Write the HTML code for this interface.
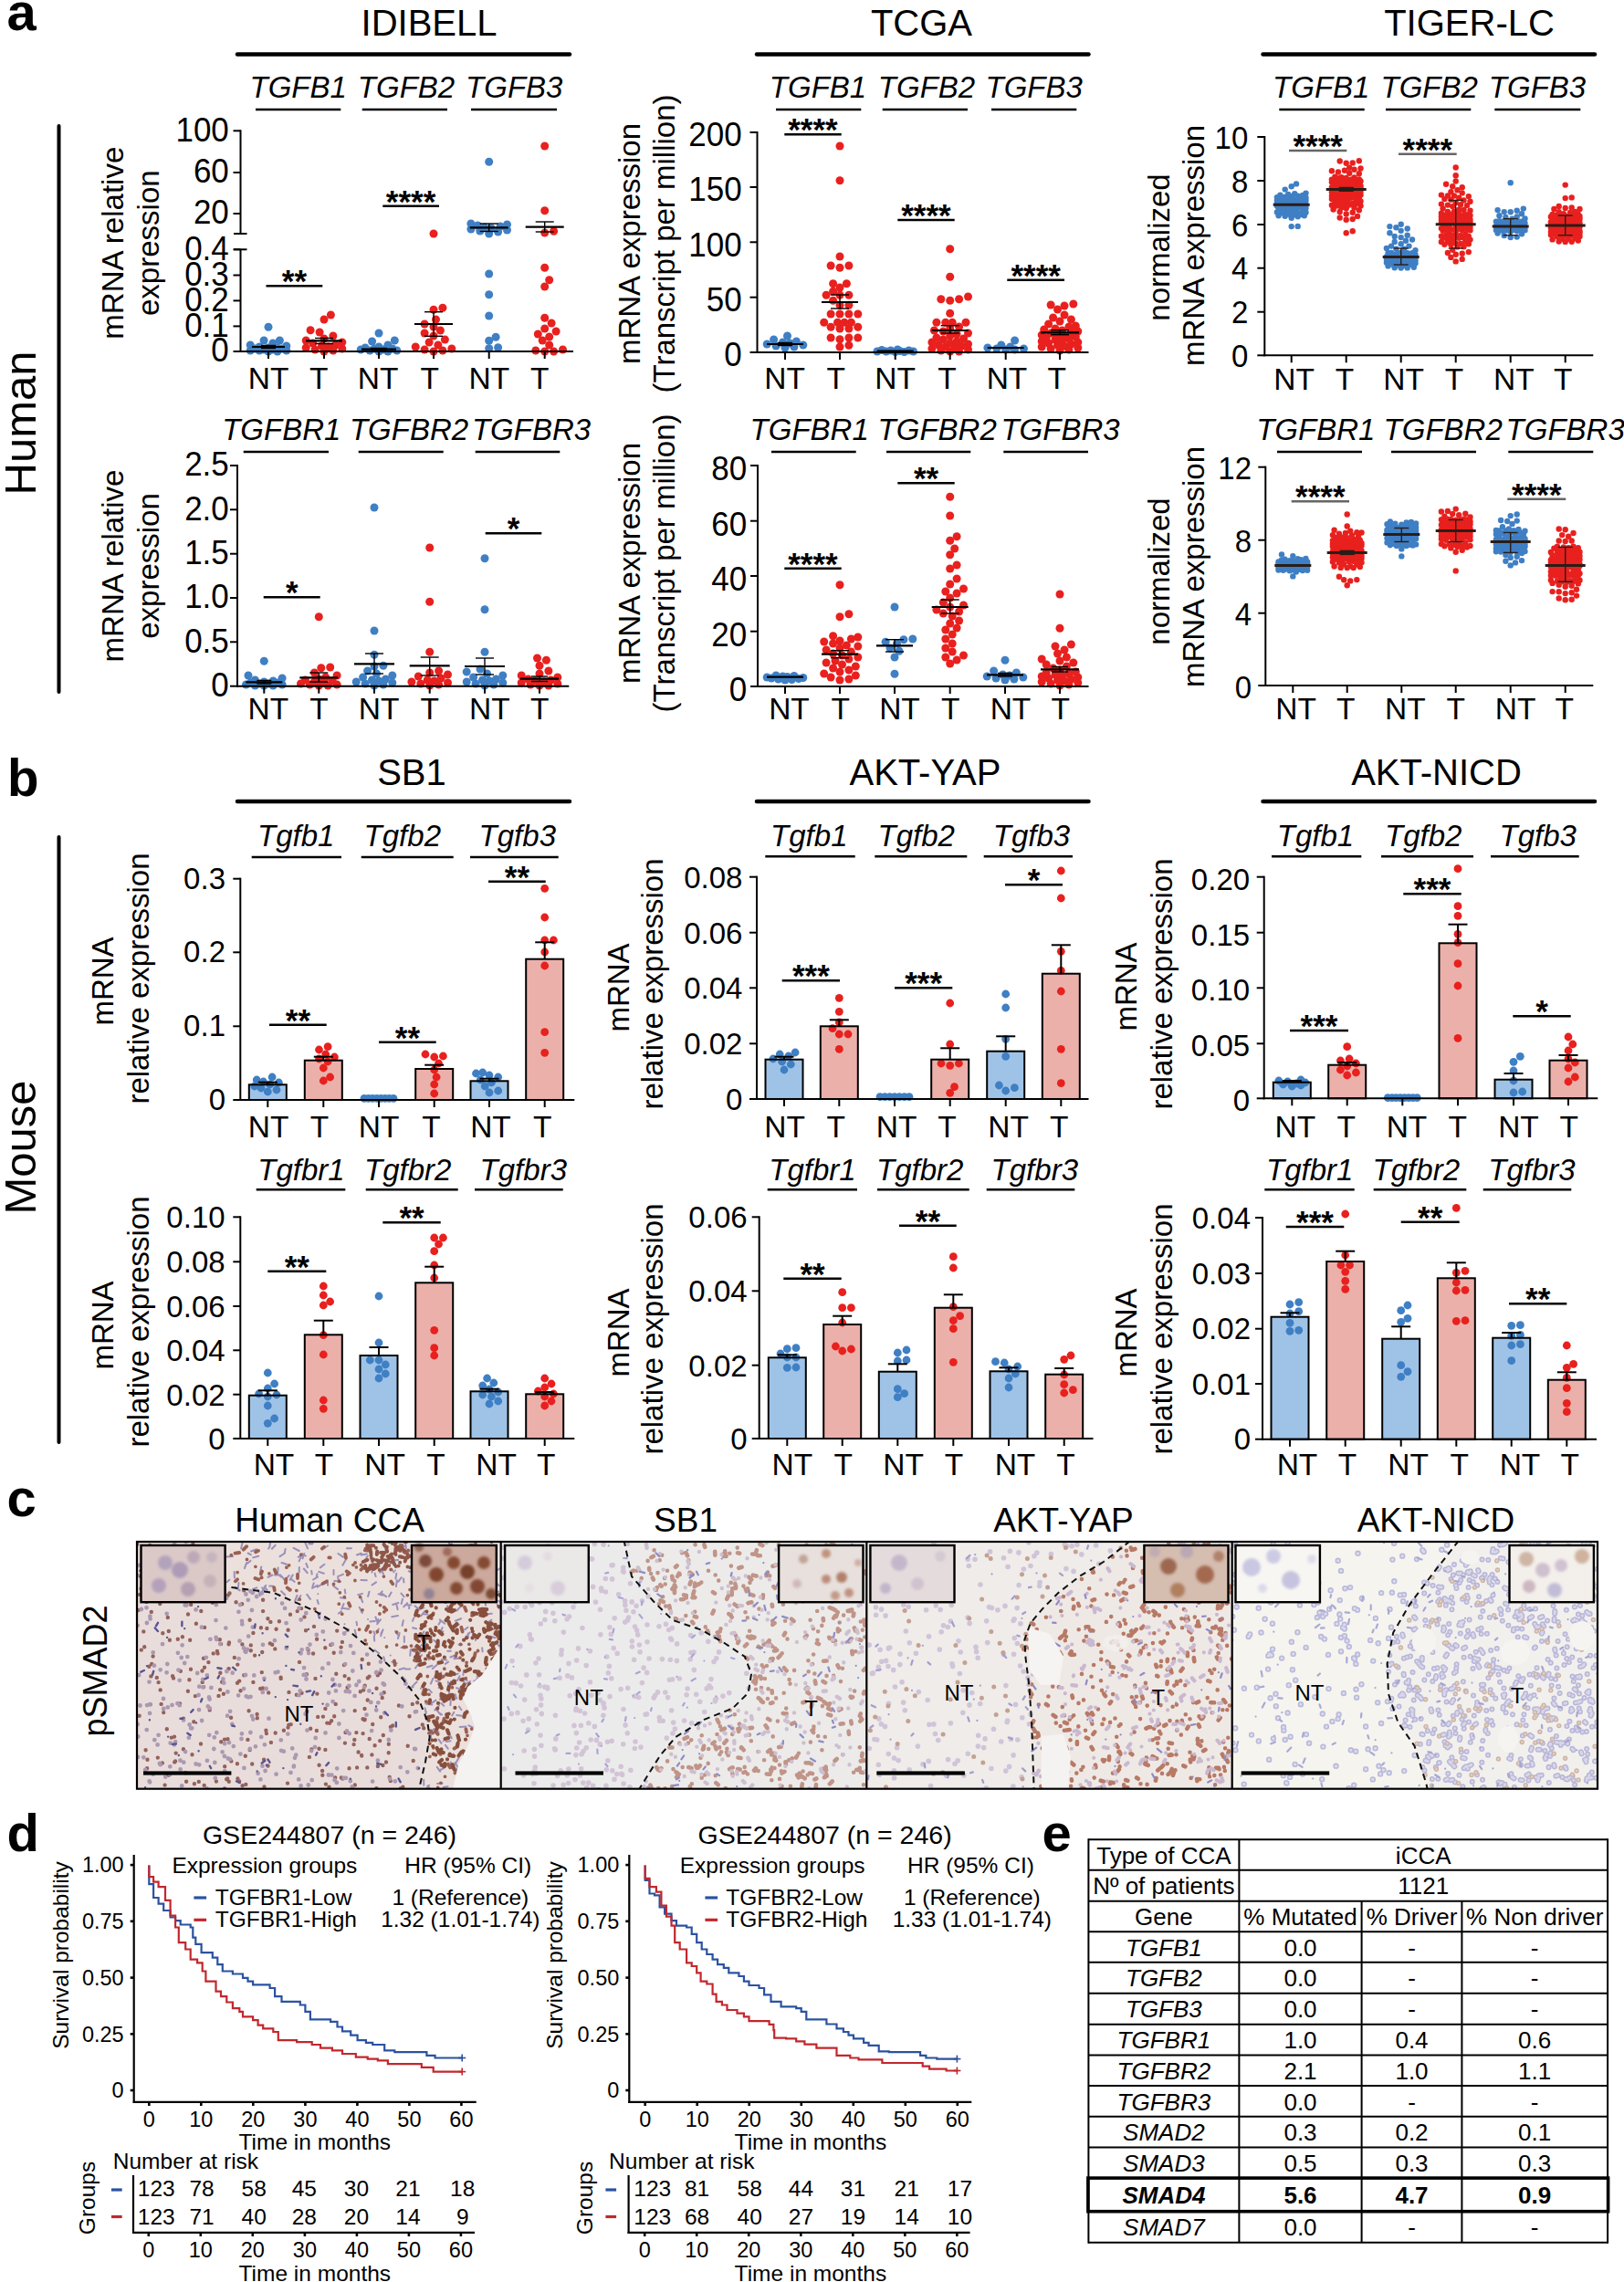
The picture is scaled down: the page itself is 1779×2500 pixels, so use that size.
<!DOCTYPE html>
<html><head><meta charset="utf-8"><title>Figure</title>
<style>
html,body{margin:0;padding:0;background:#fff;overflow:hidden;}
svg{display:block;}
text{font-family:"Liberation Sans", Arial, sans-serif;}
</style></head>
<body>
<svg width="1779" height="2500" viewBox="0 0 1779 2500">
<rect x="0" y="0" width="1779" height="2500" fill="#fff" stroke="none"/>
<g><text x="7.5" y="33" font-size="58" font-weight="bold">a</text>
<text x="8" y="871.5" font-size="56.5" font-weight="bold">b</text>
<text x="7.5" y="1661" font-size="58" font-weight="bold">c</text>
<text x="7.5" y="2028" font-size="58" font-weight="bold">d</text>
<text x="1141.5" y="2028" font-size="58" font-weight="bold">e</text>
<text x="470" y="39" font-size="40" text-anchor="middle">IDIBELL</text>
<line x1="260" y1="59.5" x2="624" y2="59.5" stroke="#000" stroke-width="4.5" stroke-linecap="round"/>
<text x="1009.5" y="39" font-size="40" text-anchor="middle">TCGA</text>
<line x1="829" y1="59.5" x2="1192.5" y2="59.5" stroke="#000" stroke-width="4.5" stroke-linecap="round"/>
<text x="1609.5" y="39" font-size="40" text-anchor="middle">TIGER-LC</text>
<line x1="1383.5" y1="59.5" x2="1747" y2="59.5" stroke="#000" stroke-width="4.5" stroke-linecap="round"/>
<text x="451" y="859.5" font-size="40" text-anchor="middle">SB1</text>
<line x1="260" y1="878" x2="624" y2="878" stroke="#000" stroke-width="4.5" stroke-linecap="round"/>
<text x="1013.5" y="859.5" font-size="40" text-anchor="middle">AKT-YAP</text>
<line x1="829" y1="878" x2="1192.5" y2="878" stroke="#000" stroke-width="4.5" stroke-linecap="round"/>
<text x="1573.5" y="859.5" font-size="40" text-anchor="middle">AKT-NICD</text>
<line x1="1383.5" y1="878" x2="1747" y2="878" stroke="#000" stroke-width="4.5" stroke-linecap="round"/>
<text transform="translate(38.8 463.5) rotate(-90)" font-size="49" text-anchor="middle">Human</text>
<line x1="64.5" y1="138" x2="64.5" y2="758" stroke="#000" stroke-width="4" stroke-linecap="round"/>
<text transform="translate(38.8 1257) rotate(-90)" font-size="49" text-anchor="middle">Mouse</text>
<line x1="64.5" y1="917" x2="64.5" y2="1580" stroke="#000" stroke-width="4" stroke-linecap="round"/>
<text x="326.7" y="106.7" font-size="33" text-anchor="middle" font-style="italic">TGFB1</text>
<line x1="280" y1="120" x2="373.3" y2="120" stroke="#000" stroke-width="2.5"/>
<text x="445" y="106.7" font-size="33" text-anchor="middle" font-style="italic">TGFB2</text>
<line x1="396.7" y1="120" x2="490" y2="120" stroke="#000" stroke-width="2.5"/>
<text x="563.3" y="106.7" font-size="33" text-anchor="middle" font-style="italic">TGFB3</text>
<line x1="516" y1="120" x2="610" y2="120" stroke="#000" stroke-width="2.5"/>
<text transform="translate(134.8 266.2) rotate(-90)" font-size="33" text-anchor="middle">mRNA relative</text>
<text transform="translate(173.6 266.2) rotate(-90)" font-size="33" text-anchor="middle">expression</text>
<circle cx="294" cy="385" r="4.5" fill="#3f7fc4"/>
<circle cx="303.9" cy="385" r="4.5" fill="#3f7fc4"/>
<circle cx="284.1" cy="384" r="4.5" fill="#3f7fc4"/>
<circle cx="313.8" cy="384" r="4.5" fill="#3f7fc4"/>
<circle cx="274.2" cy="384" r="4.5" fill="#3f7fc4"/>
<circle cx="298.9" cy="383" r="4.5" fill="#3f7fc4"/>
<circle cx="289.1" cy="383" r="4.5" fill="#3f7fc4"/>
<circle cx="308.9" cy="382" r="4.5" fill="#3f7fc4"/>
<circle cx="279.1" cy="382" r="4.5" fill="#3f7fc4"/>
<circle cx="294" cy="381" r="4.5" fill="#3f7fc4"/>
<circle cx="303.9" cy="381" r="4.5" fill="#3f7fc4"/>
<circle cx="284.1" cy="380" r="4.5" fill="#3f7fc4"/>
<circle cx="313.8" cy="379" r="4.5" fill="#3f7fc4"/>
<circle cx="274.2" cy="378" r="4.5" fill="#3f7fc4"/>
<circle cx="298.9" cy="376" r="4.5" fill="#3f7fc4"/>
<circle cx="289.1" cy="373" r="4.5" fill="#3f7fc4"/>
<circle cx="306.4" cy="373" r="4.5" fill="#3f7fc4"/>
<circle cx="294" cy="358.3" r="4.5" fill="#3f7fc4"/>
<line x1="276" y1="380" x2="312" y2="380" stroke="#000" stroke-width="2.2"/>
<line x1="294" y1="378.5" x2="294" y2="381.5" stroke="#000" stroke-width="1.4"/>
<line x1="286" y1="378.5" x2="302" y2="378.5" stroke="#000" stroke-width="1.4"/>
<line x1="286" y1="381.5" x2="302" y2="381.5" stroke="#000" stroke-width="1.4"/>
<circle cx="355" cy="385" r="4.5" fill="#e8201e"/>
<circle cx="364.9" cy="384" r="4.5" fill="#e8201e"/>
<circle cx="345.1" cy="383" r="4.5" fill="#e8201e"/>
<circle cx="374.8" cy="382" r="4.5" fill="#e8201e"/>
<circle cx="335.2" cy="381" r="4.5" fill="#e8201e"/>
<circle cx="359.9" cy="380" r="4.5" fill="#e8201e"/>
<circle cx="352.5" cy="379" r="4.5" fill="#e8201e"/>
<circle cx="367.4" cy="378" r="4.5" fill="#e8201e"/>
<circle cx="342.6" cy="376" r="4.5" fill="#e8201e"/>
<circle cx="374.8" cy="375" r="4.5" fill="#e8201e"/>
<circle cx="335.2" cy="373" r="4.5" fill="#e8201e"/>
<circle cx="355" cy="371" r="4.5" fill="#e8201e"/>
<circle cx="364.9" cy="368" r="4.5" fill="#e8201e"/>
<circle cx="350.1" cy="364" r="4.5" fill="#e8201e"/>
<circle cx="340.1" cy="361.7" r="4.5" fill="#e8201e"/>
<circle cx="355" cy="350" r="4.5" fill="#e8201e"/>
<circle cx="362.4" cy="345" r="4.5" fill="#e8201e"/>
<line x1="335" y1="373.3" x2="375" y2="373.3" stroke="#000" stroke-width="2.2"/>
<line x1="355" y1="370.5" x2="355" y2="376.5" stroke="#000" stroke-width="1.4"/>
<line x1="345" y1="370.5" x2="365" y2="370.5" stroke="#000" stroke-width="1.4"/>
<line x1="345" y1="376.5" x2="365" y2="376.5" stroke="#000" stroke-width="1.4"/>
<circle cx="415" cy="385" r="4.5" fill="#3f7fc4"/>
<circle cx="424.9" cy="385" r="4.5" fill="#3f7fc4"/>
<circle cx="405.1" cy="384" r="4.5" fill="#3f7fc4"/>
<circle cx="434.8" cy="384" r="4.5" fill="#3f7fc4"/>
<circle cx="395.2" cy="383" r="4.5" fill="#3f7fc4"/>
<circle cx="419.9" cy="383" r="4.5" fill="#3f7fc4"/>
<circle cx="410.1" cy="382" r="4.5" fill="#3f7fc4"/>
<circle cx="429.9" cy="382" r="4.5" fill="#3f7fc4"/>
<circle cx="400.1" cy="381" r="4.5" fill="#3f7fc4"/>
<circle cx="415" cy="380" r="4.5" fill="#3f7fc4"/>
<circle cx="424.9" cy="378" r="4.5" fill="#3f7fc4"/>
<circle cx="407.6" cy="374" r="4.5" fill="#3f7fc4"/>
<circle cx="432.3" cy="373" r="4.5" fill="#3f7fc4"/>
<circle cx="415" cy="365" r="4.5" fill="#3f7fc4"/>
<line x1="396" y1="382.7" x2="434" y2="382.7" stroke="#000" stroke-width="2.2"/>
<line x1="415" y1="381.5" x2="415" y2="384" stroke="#000" stroke-width="1.4"/>
<line x1="406" y1="381.5" x2="424" y2="381.5" stroke="#000" stroke-width="1.4"/>
<line x1="406" y1="384" x2="424" y2="384" stroke="#000" stroke-width="1.4"/>
<circle cx="475" cy="385" r="4.5" fill="#e8201e"/>
<circle cx="484.9" cy="384" r="4.5" fill="#e8201e"/>
<circle cx="465.1" cy="383" r="4.5" fill="#e8201e"/>
<circle cx="494.8" cy="382" r="4.5" fill="#e8201e"/>
<circle cx="455.2" cy="380" r="4.5" fill="#e8201e"/>
<circle cx="479.9" cy="378" r="4.5" fill="#e8201e"/>
<circle cx="470.1" cy="375" r="4.5" fill="#e8201e"/>
<circle cx="487.4" cy="372" r="4.5" fill="#e8201e"/>
<circle cx="475" cy="368" r="4.5" fill="#e8201e"/>
<circle cx="465.1" cy="365" r="4.5" fill="#e8201e"/>
<circle cx="482.4" cy="362" r="4.5" fill="#e8201e"/>
<circle cx="475" cy="358" r="4.5" fill="#e8201e"/>
<circle cx="465.1" cy="355" r="4.5" fill="#e8201e"/>
<circle cx="477.5" cy="350" r="4.5" fill="#e8201e"/>
<circle cx="475" cy="339.3" r="4.5" fill="#e8201e"/>
<circle cx="484.9" cy="337.3" r="4.5" fill="#e8201e"/>
<circle cx="475" cy="256" r="4.5" fill="#e8201e"/>
<line x1="454" y1="355" x2="496" y2="355" stroke="#000" stroke-width="2.2"/>
<line x1="475" y1="341.7" x2="475" y2="368.3" stroke="#000" stroke-width="1.4"/>
<line x1="465" y1="341.7" x2="485" y2="341.7" stroke="#000" stroke-width="1.4"/>
<line x1="465" y1="368.3" x2="485" y2="368.3" stroke="#000" stroke-width="1.4"/>
<circle cx="535.7" cy="381.7" r="4.5" fill="#3f7fc4"/>
<circle cx="545.6" cy="380.7" r="4.5" fill="#3f7fc4"/>
<circle cx="535.7" cy="373.3" r="4.5" fill="#3f7fc4"/>
<circle cx="543.1" cy="369.3" r="4.5" fill="#3f7fc4"/>
<circle cx="535.7" cy="346" r="4.5" fill="#3f7fc4"/>
<circle cx="535.7" cy="322.7" r="4.5" fill="#3f7fc4"/>
<circle cx="535.7" cy="300" r="4.5" fill="#3f7fc4"/>
<circle cx="535.7" cy="256" r="4.5" fill="#3f7fc4"/>
<circle cx="545.6" cy="254" r="4.5" fill="#3f7fc4"/>
<circle cx="525.8" cy="253" r="4.5" fill="#3f7fc4"/>
<circle cx="555.5" cy="252" r="4.5" fill="#3f7fc4"/>
<circle cx="515.9" cy="251" r="4.5" fill="#3f7fc4"/>
<circle cx="538.2" cy="250" r="4.5" fill="#3f7fc4"/>
<circle cx="530.8" cy="249" r="4.5" fill="#3f7fc4"/>
<circle cx="548.1" cy="248" r="4.5" fill="#3f7fc4"/>
<circle cx="523.3" cy="247" r="4.5" fill="#3f7fc4"/>
<circle cx="555.5" cy="246" r="4.5" fill="#3f7fc4"/>
<circle cx="515.9" cy="245" r="4.5" fill="#3f7fc4"/>
<circle cx="535.7" cy="177.3" r="4.5" fill="#3f7fc4"/>
<line x1="514.7" y1="249.3" x2="556.7" y2="249.3" stroke="#000" stroke-width="2.2"/>
<line x1="535.7" y1="245" x2="535.7" y2="253.5" stroke="#000" stroke-width="1.4"/>
<line x1="525.7" y1="245" x2="545.7" y2="245" stroke="#000" stroke-width="1.4"/>
<line x1="525.7" y1="253.5" x2="545.7" y2="253.5" stroke="#000" stroke-width="1.4"/>
<circle cx="596.7" cy="385" r="4.5" fill="#e8201e"/>
<circle cx="606.6" cy="385" r="4.5" fill="#e8201e"/>
<circle cx="586.8" cy="384" r="4.5" fill="#e8201e"/>
<circle cx="616.5" cy="383" r="4.5" fill="#e8201e"/>
<circle cx="601.7" cy="378" r="4.5" fill="#e8201e"/>
<circle cx="594.2" cy="373" r="4.5" fill="#e8201e"/>
<circle cx="601.7" cy="369" r="4.5" fill="#e8201e"/>
<circle cx="589.3" cy="366" r="4.5" fill="#e8201e"/>
<circle cx="609.1" cy="363" r="4.5" fill="#e8201e"/>
<circle cx="596.7" cy="360" r="4.5" fill="#e8201e"/>
<circle cx="604.1" cy="354" r="4.5" fill="#e8201e"/>
<circle cx="596.7" cy="348.3" r="4.5" fill="#e8201e"/>
<circle cx="596.7" cy="314" r="4.5" fill="#e8201e"/>
<circle cx="601.7" cy="306.7" r="4.5" fill="#e8201e"/>
<circle cx="596.7" cy="293.3" r="4.5" fill="#e8201e"/>
<circle cx="596.7" cy="255" r="4.5" fill="#e8201e"/>
<circle cx="606.6" cy="253.3" r="4.5" fill="#e8201e"/>
<circle cx="596.7" cy="230.7" r="4.5" fill="#e8201e"/>
<circle cx="596.7" cy="160" r="4.5" fill="#e8201e"/>
<line x1="575.7" y1="248.7" x2="617.7" y2="248.7" stroke="#000" stroke-width="2.2"/>
<line x1="596.7" y1="243" x2="596.7" y2="254" stroke="#000" stroke-width="1.4"/>
<line x1="586.7" y1="243" x2="606.7" y2="243" stroke="#000" stroke-width="1.4"/>
<line x1="586.7" y1="254" x2="606.7" y2="254" stroke="#000" stroke-width="1.4"/>
<line x1="263.5" y1="142.3" x2="263.5" y2="256" stroke="#000" stroke-width="2"/>
<line x1="263.5" y1="273.3" x2="263.5" y2="386" stroke="#000" stroke-width="2"/>
<line x1="256" y1="256" x2="270.5" y2="256" stroke="#000" stroke-width="2"/>
<line x1="256" y1="273.3" x2="270.5" y2="273.3" stroke="#000" stroke-width="2"/>
<line x1="262.5" y1="385" x2="628" y2="385" stroke="#000" stroke-width="2"/>
<line x1="255.5" y1="143.3" x2="263.5" y2="143.3" stroke="#000" stroke-width="2"/>
<text transform="translate(250.8 154.7) scale(1 1.08)" font-size="35" text-anchor="end">100</text>
<line x1="255.5" y1="189" x2="263.5" y2="189" stroke="#000" stroke-width="2"/>
<text transform="translate(250.8 200.4) scale(1 1.08)" font-size="35" text-anchor="end">60</text>
<line x1="255.5" y1="234" x2="263.5" y2="234" stroke="#000" stroke-width="2"/>
<text transform="translate(250.8 245.4) scale(1 1.08)" font-size="35" text-anchor="end">20</text>
<line x1="255.5" y1="273.3" x2="263.5" y2="273.3" stroke="#000" stroke-width="2"/>
<text transform="translate(250.8 284.7) scale(1 1.08)" font-size="35" text-anchor="end">0.4</text>
<line x1="255.5" y1="301.5" x2="263.5" y2="301.5" stroke="#000" stroke-width="2"/>
<text transform="translate(250.8 312.9) scale(1 1.08)" font-size="35" text-anchor="end">0.3</text>
<line x1="255.5" y1="329.4" x2="263.5" y2="329.4" stroke="#000" stroke-width="2"/>
<text transform="translate(250.8 340.8) scale(1 1.08)" font-size="35" text-anchor="end">0.2</text>
<line x1="255.5" y1="357.4" x2="263.5" y2="357.4" stroke="#000" stroke-width="2"/>
<text transform="translate(250.8 368.8) scale(1 1.08)" font-size="35" text-anchor="end">0.1</text>
<line x1="255.5" y1="385" x2="263.5" y2="385" stroke="#000" stroke-width="2"/>
<text transform="translate(250.8 396.4) scale(1 1.08)" font-size="35" text-anchor="end">0</text>
<line x1="294" y1="385" x2="294" y2="393" stroke="#000" stroke-width="2"/>
<text x="294.2" y="426.2" font-size="33.5" text-anchor="middle">NT</text>
<line x1="355" y1="385" x2="355" y2="393" stroke="#000" stroke-width="2"/>
<text x="349.2" y="426.2" font-size="33.5" text-anchor="middle">T</text>
<line x1="415" y1="385" x2="415" y2="393" stroke="#000" stroke-width="2"/>
<text x="414.2" y="426.2" font-size="33.5" text-anchor="middle">NT</text>
<line x1="475" y1="385" x2="475" y2="393" stroke="#000" stroke-width="2"/>
<text x="470.8" y="426.2" font-size="33.5" text-anchor="middle">T</text>
<line x1="535.7" y1="385" x2="535.7" y2="393" stroke="#000" stroke-width="2"/>
<text x="535.8" y="426.2" font-size="33.5" text-anchor="middle">NT</text>
<line x1="596.7" y1="385" x2="596.7" y2="393" stroke="#000" stroke-width="2"/>
<text x="591.3" y="426.2" font-size="33.5" text-anchor="middle">T</text>
<line x1="291.5" y1="313.3" x2="353.3" y2="313.3" stroke="#000" stroke-width="2.5"/>
<text x="322.4" y="320.3" font-size="35" text-anchor="middle" font-weight="bold">**</text>
<line x1="419.3" y1="225.7" x2="481" y2="225.7" stroke="#000" stroke-width="2.5"/>
<text x="450.1" y="232.7" font-size="35" text-anchor="middle" font-weight="bold">****</text>
<text x="896" y="106.7" font-size="33" text-anchor="middle" font-style="italic">TGFB1</text>
<line x1="850" y1="120" x2="943.3" y2="120" stroke="#000" stroke-width="2.5"/>
<text x="1015" y="106.7" font-size="33" text-anchor="middle" font-style="italic">TGFB2</text>
<line x1="966.7" y1="120" x2="1060" y2="120" stroke="#000" stroke-width="2.5"/>
<text x="1132.7" y="106.7" font-size="33" text-anchor="middle" font-style="italic">TGFB3</text>
<line x1="1086" y1="120" x2="1179.3" y2="120" stroke="#000" stroke-width="2.5"/>
<text transform="translate(700.6 267) rotate(-90)" font-size="33" text-anchor="middle">mRNA expression</text>
<text transform="translate(738.8 267) rotate(-90)" font-size="33" text-anchor="middle">(Transcript per million)</text>
<circle cx="860" cy="381" r="4.5" fill="#3f7fc4"/>
<circle cx="869.9" cy="380" r="4.5" fill="#3f7fc4"/>
<circle cx="850.1" cy="379" r="4.5" fill="#3f7fc4"/>
<circle cx="879.8" cy="378" r="4.5" fill="#3f7fc4"/>
<circle cx="840.2" cy="377" r="4.5" fill="#3f7fc4"/>
<circle cx="865" cy="376" r="4.5" fill="#3f7fc4"/>
<circle cx="857.5" cy="375" r="4.5" fill="#3f7fc4"/>
<circle cx="872.4" cy="374" r="4.5" fill="#3f7fc4"/>
<circle cx="847.6" cy="372" r="4.5" fill="#3f7fc4"/>
<circle cx="862.5" cy="368" r="4.5" fill="#3f7fc4"/>
<line x1="840" y1="377" x2="880" y2="377" stroke="#000" stroke-width="2.2"/>
<line x1="860" y1="375.5" x2="860" y2="378.5" stroke="#000" stroke-width="1.4"/>
<line x1="852" y1="375.5" x2="868" y2="375.5" stroke="#000" stroke-width="1.4"/>
<line x1="852" y1="378.5" x2="868" y2="378.5" stroke="#000" stroke-width="1.4"/>
<circle cx="920" cy="380" r="4.5" fill="#e8201e"/>
<circle cx="929.9" cy="378.3" r="4.5" fill="#e8201e"/>
<circle cx="920" cy="371.7" r="4.5" fill="#e8201e"/>
<circle cx="929.9" cy="370" r="4.5" fill="#e8201e"/>
<circle cx="910.1" cy="370" r="4.5" fill="#e8201e"/>
<circle cx="939.8" cy="370" r="4.5" fill="#e8201e"/>
<circle cx="920" cy="360" r="4.5" fill="#e8201e"/>
<circle cx="929.9" cy="360" r="4.5" fill="#e8201e"/>
<circle cx="910.1" cy="358.3" r="4.5" fill="#e8201e"/>
<circle cx="939.8" cy="358.3" r="4.5" fill="#e8201e"/>
<circle cx="925" cy="353.3" r="4.5" fill="#e8201e"/>
<circle cx="902.7" cy="353.3" r="4.5" fill="#e8201e"/>
<circle cx="917.5" cy="353.3" r="4.5" fill="#e8201e"/>
<circle cx="932.4" cy="353.3" r="4.5" fill="#e8201e"/>
<circle cx="920" cy="344" r="4.5" fill="#e8201e"/>
<circle cx="929.9" cy="344" r="4.5" fill="#e8201e"/>
<circle cx="910.1" cy="344" r="4.5" fill="#e8201e"/>
<circle cx="939.8" cy="344" r="4.5" fill="#e8201e"/>
<circle cx="920" cy="334.3" r="4.5" fill="#e8201e"/>
<circle cx="929.9" cy="334.3" r="4.5" fill="#e8201e"/>
<circle cx="912.6" cy="329.3" r="4.5" fill="#e8201e"/>
<circle cx="920" cy="323.3" r="4.5" fill="#e8201e"/>
<circle cx="929.9" cy="323.3" r="4.5" fill="#e8201e"/>
<circle cx="905.1" cy="323.3" r="4.5" fill="#e8201e"/>
<circle cx="912.6" cy="319.3" r="4.5" fill="#e8201e"/>
<circle cx="920" cy="315" r="4.5" fill="#e8201e"/>
<circle cx="927.4" cy="310.7" r="4.5" fill="#e8201e"/>
<circle cx="912.6" cy="310.7" r="4.5" fill="#e8201e"/>
<circle cx="920" cy="293.3" r="4.5" fill="#e8201e"/>
<circle cx="929.9" cy="291" r="4.5" fill="#e8201e"/>
<circle cx="910.1" cy="291" r="4.5" fill="#e8201e"/>
<circle cx="920" cy="281" r="4.5" fill="#e8201e"/>
<circle cx="920" cy="197.7" r="4.5" fill="#e8201e"/>
<circle cx="920" cy="160" r="4.5" fill="#e8201e"/>
<line x1="900" y1="331" x2="940" y2="331" stroke="#000" stroke-width="2.2"/>
<line x1="920" y1="323" x2="920" y2="338" stroke="#000" stroke-width="1.4"/>
<line x1="910" y1="323" x2="930" y2="323" stroke="#000" stroke-width="1.4"/>
<line x1="910" y1="338" x2="930" y2="338" stroke="#000" stroke-width="1.4"/>
<circle cx="980.7" cy="385.5" r="4.5" fill="#3f7fc4"/>
<circle cx="990.6" cy="385.5" r="4.5" fill="#3f7fc4"/>
<circle cx="970.8" cy="385" r="4.5" fill="#3f7fc4"/>
<circle cx="1000.5" cy="385" r="4.5" fill="#3f7fc4"/>
<circle cx="960.9" cy="385" r="4.5" fill="#3f7fc4"/>
<circle cx="985.7" cy="384.5" r="4.5" fill="#3f7fc4"/>
<circle cx="975.8" cy="384" r="4.5" fill="#3f7fc4"/>
<circle cx="995.6" cy="384" r="4.5" fill="#3f7fc4"/>
<circle cx="965.9" cy="383.5" r="4.5" fill="#3f7fc4"/>
<circle cx="983.2" cy="383" r="4.5" fill="#3f7fc4"/>
<line x1="960.7" y1="384.5" x2="1000.7" y2="384.5" stroke="#000" stroke-width="2.2"/>
<circle cx="1040.7" cy="385" r="4.5" fill="#e8201e"/>
<circle cx="1050.6" cy="385" r="4.5" fill="#e8201e"/>
<circle cx="1030.8" cy="384" r="4.5" fill="#e8201e"/>
<circle cx="1060.5" cy="383" r="4.5" fill="#e8201e"/>
<circle cx="1020.9" cy="382" r="4.5" fill="#e8201e"/>
<circle cx="1045.7" cy="381" r="4.5" fill="#e8201e"/>
<circle cx="1035.8" cy="380" r="4.5" fill="#e8201e"/>
<circle cx="1053.1" cy="379" r="4.5" fill="#e8201e"/>
<circle cx="1028.3" cy="378" r="4.5" fill="#e8201e"/>
<circle cx="1060.5" cy="377" r="4.5" fill="#e8201e"/>
<circle cx="1040.7" cy="376" r="4.5" fill="#e8201e"/>
<circle cx="1020.9" cy="375" r="4.5" fill="#e8201e"/>
<circle cx="1048.1" cy="374" r="4.5" fill="#e8201e"/>
<circle cx="1033.3" cy="372" r="4.5" fill="#e8201e"/>
<circle cx="1055.5" cy="371" r="4.5" fill="#e8201e"/>
<circle cx="1025.9" cy="370" r="4.5" fill="#e8201e"/>
<circle cx="1040.7" cy="368" r="4.5" fill="#e8201e"/>
<circle cx="1048.1" cy="366" r="4.5" fill="#e8201e"/>
<circle cx="1060.5" cy="365" r="4.5" fill="#e8201e"/>
<circle cx="1033.3" cy="363" r="4.5" fill="#e8201e"/>
<circle cx="1023.4" cy="362" r="4.5" fill="#e8201e"/>
<circle cx="1040.7" cy="360" r="4.5" fill="#e8201e"/>
<circle cx="1050.6" cy="358" r="4.5" fill="#e8201e"/>
<circle cx="1035.8" cy="353.3" r="4.5" fill="#e8201e"/>
<circle cx="1025.9" cy="353.3" r="4.5" fill="#e8201e"/>
<circle cx="1058" cy="353.3" r="4.5" fill="#e8201e"/>
<circle cx="1043.2" cy="353.3" r="4.5" fill="#e8201e"/>
<circle cx="1040.7" cy="343.3" r="4.5" fill="#e8201e"/>
<circle cx="1040.7" cy="329.3" r="4.5" fill="#e8201e"/>
<circle cx="1050.6" cy="327.7" r="4.5" fill="#e8201e"/>
<circle cx="1030.8" cy="327.7" r="4.5" fill="#e8201e"/>
<circle cx="1060.5" cy="325" r="4.5" fill="#e8201e"/>
<circle cx="1040.7" cy="303.3" r="4.5" fill="#e8201e"/>
<circle cx="1040.7" cy="272.7" r="4.5" fill="#e8201e"/>
<line x1="1020.7" y1="362" x2="1060.7" y2="362" stroke="#000" stroke-width="2.2"/>
<line x1="1040.7" y1="356.7" x2="1040.7" y2="365" stroke="#000" stroke-width="1.4"/>
<line x1="1030.7" y1="356.7" x2="1050.7" y2="356.7" stroke="#000" stroke-width="1.4"/>
<line x1="1030.7" y1="365" x2="1050.7" y2="365" stroke="#000" stroke-width="1.4"/>
<circle cx="1101.7" cy="383" r="4.5" fill="#3f7fc4"/>
<circle cx="1111.6" cy="383" r="4.5" fill="#3f7fc4"/>
<circle cx="1091.8" cy="382" r="4.5" fill="#3f7fc4"/>
<circle cx="1121.5" cy="382" r="4.5" fill="#3f7fc4"/>
<circle cx="1081.9" cy="381" r="4.5" fill="#3f7fc4"/>
<circle cx="1106.7" cy="380" r="4.5" fill="#3f7fc4"/>
<circle cx="1096.8" cy="378" r="4.5" fill="#3f7fc4"/>
<circle cx="1111.6" cy="373" r="4.5" fill="#3f7fc4"/>
<line x1="1081.7" y1="381" x2="1121.7" y2="381" stroke="#000" stroke-width="2.2"/>
<circle cx="1161" cy="384" r="4.5" fill="#e8201e"/>
<circle cx="1170.9" cy="383" r="4.5" fill="#e8201e"/>
<circle cx="1151.1" cy="382" r="4.5" fill="#e8201e"/>
<circle cx="1180.8" cy="381" r="4.5" fill="#e8201e"/>
<circle cx="1141.2" cy="380" r="4.5" fill="#e8201e"/>
<circle cx="1166" cy="379" r="4.5" fill="#e8201e"/>
<circle cx="1158.5" cy="378" r="4.5" fill="#e8201e"/>
<circle cx="1173.4" cy="377" r="4.5" fill="#e8201e"/>
<circle cx="1148.6" cy="376" r="4.5" fill="#e8201e"/>
<circle cx="1180.8" cy="375" r="4.5" fill="#e8201e"/>
<circle cx="1141.2" cy="374" r="4.5" fill="#e8201e"/>
<circle cx="1163.5" cy="373" r="4.5" fill="#e8201e"/>
<circle cx="1156" cy="372" r="4.5" fill="#e8201e"/>
<circle cx="1170.9" cy="371" r="4.5" fill="#e8201e"/>
<circle cx="1146.2" cy="370" r="4.5" fill="#e8201e"/>
<circle cx="1178.3" cy="369" r="4.5" fill="#e8201e"/>
<circle cx="1166" cy="368" r="4.5" fill="#e8201e"/>
<circle cx="1141.2" cy="367" r="4.5" fill="#e8201e"/>
<circle cx="1158.5" cy="366" r="4.5" fill="#e8201e"/>
<circle cx="1151.1" cy="365" r="4.5" fill="#e8201e"/>
<circle cx="1173.4" cy="364" r="4.5" fill="#e8201e"/>
<circle cx="1180.8" cy="363" r="4.5" fill="#e8201e"/>
<circle cx="1163.5" cy="362" r="4.5" fill="#e8201e"/>
<circle cx="1143.7" cy="361" r="4.5" fill="#e8201e"/>
<circle cx="1156" cy="360" r="4.5" fill="#e8201e"/>
<circle cx="1170.9" cy="358" r="4.5" fill="#e8201e"/>
<circle cx="1178.3" cy="357" r="4.5" fill="#e8201e"/>
<circle cx="1148.6" cy="355" r="4.5" fill="#e8201e"/>
<circle cx="1161" cy="352" r="4.5" fill="#e8201e"/>
<circle cx="1173.4" cy="350" r="4.5" fill="#e8201e"/>
<circle cx="1153.6" cy="348" r="4.5" fill="#e8201e"/>
<circle cx="1166" cy="345" r="4.5" fill="#e8201e"/>
<circle cx="1158.5" cy="339" r="4.5" fill="#e8201e"/>
<circle cx="1166" cy="335" r="4.5" fill="#e8201e"/>
<circle cx="1151.1" cy="334" r="4.5" fill="#e8201e"/>
<circle cx="1175.8" cy="333" r="4.5" fill="#e8201e"/>
<line x1="1140" y1="364.3" x2="1182" y2="364.3" stroke="#000" stroke-width="2.2"/>
<line x1="1161" y1="361.7" x2="1161" y2="366.7" stroke="#000" stroke-width="1.4"/>
<line x1="1151" y1="361.7" x2="1171" y2="361.7" stroke="#000" stroke-width="1.4"/>
<line x1="1151" y1="366.7" x2="1171" y2="366.7" stroke="#000" stroke-width="1.4"/>
<line x1="829.5" y1="144" x2="829.5" y2="387" stroke="#000" stroke-width="2"/>
<line x1="828.5" y1="386" x2="1192.5" y2="386" stroke="#000" stroke-width="2"/>
<line x1="821.5" y1="145" x2="829.5" y2="145" stroke="#000" stroke-width="2"/>
<text transform="translate(812.7 160.3) scale(1 1.08)" font-size="35" text-anchor="end">200</text>
<line x1="821.5" y1="205" x2="829.5" y2="205" stroke="#000" stroke-width="2"/>
<text transform="translate(812.7 220.3) scale(1 1.08)" font-size="35" text-anchor="end">150</text>
<line x1="821.5" y1="265.3" x2="829.5" y2="265.3" stroke="#000" stroke-width="2"/>
<text transform="translate(812.7 280.6) scale(1 1.08)" font-size="35" text-anchor="end">100</text>
<line x1="821.5" y1="325.7" x2="829.5" y2="325.7" stroke="#000" stroke-width="2"/>
<text transform="translate(812.7 341) scale(1 1.08)" font-size="35" text-anchor="end">50</text>
<line x1="821.5" y1="386" x2="829.5" y2="386" stroke="#000" stroke-width="2"/>
<text transform="translate(812.7 401.3) scale(1 1.08)" font-size="35" text-anchor="end">0</text>
<line x1="860" y1="386" x2="860" y2="394" stroke="#000" stroke-width="2"/>
<text x="859.7" y="426.2" font-size="33.5" text-anchor="middle">NT</text>
<line x1="920" y1="386" x2="920" y2="394" stroke="#000" stroke-width="2"/>
<text x="915.8" y="426.2" font-size="33.5" text-anchor="middle">T</text>
<line x1="980.7" y1="386" x2="980.7" y2="394" stroke="#000" stroke-width="2"/>
<text x="980.7" y="426.2" font-size="33.5" text-anchor="middle">NT</text>
<line x1="1040.7" y1="386" x2="1040.7" y2="394" stroke="#000" stroke-width="2"/>
<text x="1037.5" y="426.2" font-size="33.5" text-anchor="middle">T</text>
<line x1="1101.7" y1="386" x2="1101.7" y2="394" stroke="#000" stroke-width="2"/>
<text x="1103" y="426.2" font-size="33.5" text-anchor="middle">NT</text>
<line x1="1161" y1="386" x2="1161" y2="394" stroke="#000" stroke-width="2"/>
<text x="1157.8" y="426.2" font-size="33.5" text-anchor="middle">T</text>
<line x1="859.3" y1="147.3" x2="921.7" y2="147.3" stroke="#000" stroke-width="2.5"/>
<text x="890.5" y="154.3" font-size="35" text-anchor="middle" font-weight="bold">****</text>
<line x1="983.3" y1="241" x2="1045.7" y2="241" stroke="#000" stroke-width="2.5"/>
<text x="1014.5" y="248" font-size="35" text-anchor="middle" font-weight="bold">****</text>
<line x1="1103.3" y1="306.7" x2="1166" y2="306.7" stroke="#000" stroke-width="2.5"/>
<text x="1134.7" y="313.7" font-size="35" text-anchor="middle" font-weight="bold">****</text>
<text x="1447.3" y="106.7" font-size="33" text-anchor="middle" font-style="italic">TGFB1</text>
<line x1="1401.3" y1="120" x2="1494.7" y2="120" stroke="#000" stroke-width="2.5"/>
<text x="1565.7" y="106.7" font-size="33" text-anchor="middle" font-style="italic">TGFB2</text>
<line x1="1518" y1="120" x2="1611.3" y2="120" stroke="#000" stroke-width="2.5"/>
<text x="1684" y="106.7" font-size="33" text-anchor="middle" font-style="italic">TGFB3</text>
<line x1="1637.3" y1="120" x2="1731.3" y2="120" stroke="#000" stroke-width="2.5"/>
<text transform="translate(1281 271) rotate(-90)" font-size="33" text-anchor="middle">normalized</text>
<text transform="translate(1318.6 269) rotate(-90)" font-size="33" text-anchor="middle">mRNA expression</text>
<circle cx="1414.7" cy="248.1" r="3.2" fill="#3f7fc4"/>
<circle cx="1421.7" cy="247.9" r="3.2" fill="#3f7fc4"/>
<circle cx="1414.7" cy="238.7" r="3.2" fill="#3f7fc4"/>
<circle cx="1421.7" cy="237.2" r="3.2" fill="#3f7fc4"/>
<circle cx="1407.7" cy="236.8" r="3.2" fill="#3f7fc4"/>
<circle cx="1428.8" cy="236.2" r="3.2" fill="#3f7fc4"/>
<circle cx="1400.6" cy="236.2" r="3.2" fill="#3f7fc4"/>
<circle cx="1418.2" cy="235.3" r="3.2" fill="#3f7fc4"/>
<circle cx="1412.9" cy="235.1" r="3.2" fill="#3f7fc4"/>
<circle cx="1425.3" cy="235.1" r="3.2" fill="#3f7fc4"/>
<circle cx="1404.1" cy="233.3" r="3.2" fill="#3f7fc4"/>
<circle cx="1409.4" cy="233.3" r="3.2" fill="#3f7fc4"/>
<circle cx="1421.7" cy="233.2" r="3.2" fill="#3f7fc4"/>
<circle cx="1430.5" cy="232.7" r="3.2" fill="#3f7fc4"/>
<circle cx="1398.9" cy="232.5" r="3.2" fill="#3f7fc4"/>
<circle cx="1416.5" cy="232.5" r="3.2" fill="#3f7fc4"/>
<circle cx="1427" cy="231.8" r="3.2" fill="#3f7fc4"/>
<circle cx="1412.9" cy="230.6" r="3.2" fill="#3f7fc4"/>
<circle cx="1405.9" cy="230.5" r="3.2" fill="#3f7fc4"/>
<circle cx="1420" cy="228.4" r="3.2" fill="#3f7fc4"/>
<circle cx="1400.6" cy="228.2" r="3.2" fill="#3f7fc4"/>
<circle cx="1430.5" cy="227.9" r="3.2" fill="#3f7fc4"/>
<circle cx="1409.4" cy="227.8" r="3.2" fill="#3f7fc4"/>
<circle cx="1425.3" cy="227.6" r="3.2" fill="#3f7fc4"/>
<circle cx="1416.5" cy="227.5" r="3.2" fill="#3f7fc4"/>
<circle cx="1404.1" cy="227.2" r="3.2" fill="#3f7fc4"/>
<circle cx="1412.9" cy="226.5" r="3.2" fill="#3f7fc4"/>
<circle cx="1421.7" cy="226.2" r="3.2" fill="#3f7fc4"/>
<circle cx="1398.9" cy="225.4" r="3.2" fill="#3f7fc4"/>
<circle cx="1428.8" cy="225.4" r="3.2" fill="#3f7fc4"/>
<circle cx="1407.7" cy="225.3" r="3.2" fill="#3f7fc4"/>
<circle cx="1418.2" cy="225" r="3.2" fill="#3f7fc4"/>
<circle cx="1402.4" cy="225" r="3.2" fill="#3f7fc4"/>
<circle cx="1425.3" cy="224.7" r="3.2" fill="#3f7fc4"/>
<circle cx="1414.7" cy="224.6" r="3.2" fill="#3f7fc4"/>
<circle cx="1411.2" cy="224.6" r="3.2" fill="#3f7fc4"/>
<circle cx="1430.5" cy="224.5" r="3.2" fill="#3f7fc4"/>
<circle cx="1405.9" cy="224.1" r="3.2" fill="#3f7fc4"/>
<circle cx="1421.7" cy="224.1" r="3.2" fill="#3f7fc4"/>
<circle cx="1400.6" cy="223.9" r="3.2" fill="#3f7fc4"/>
<circle cx="1427" cy="223.6" r="3.2" fill="#3f7fc4"/>
<circle cx="1416.5" cy="223.5" r="3.2" fill="#3f7fc4"/>
<circle cx="1412.9" cy="223.1" r="3.2" fill="#3f7fc4"/>
<circle cx="1409.4" cy="223.1" r="3.2" fill="#3f7fc4"/>
<circle cx="1404.1" cy="222.8" r="3.2" fill="#3f7fc4"/>
<circle cx="1420" cy="222.5" r="3.2" fill="#3f7fc4"/>
<circle cx="1423.5" cy="222.5" r="3.2" fill="#3f7fc4"/>
<circle cx="1398.9" cy="222.5" r="3.2" fill="#3f7fc4"/>
<circle cx="1428.8" cy="222.5" r="3.2" fill="#3f7fc4"/>
<circle cx="1414.7" cy="222.4" r="3.2" fill="#3f7fc4"/>
<circle cx="1411.2" cy="222.4" r="3.2" fill="#3f7fc4"/>
<circle cx="1407.7" cy="221.6" r="3.2" fill="#3f7fc4"/>
<circle cx="1402.4" cy="221.5" r="3.2" fill="#3f7fc4"/>
<circle cx="1418.2" cy="221" r="3.2" fill="#3f7fc4"/>
<circle cx="1421.7" cy="220.7" r="3.2" fill="#3f7fc4"/>
<circle cx="1425.3" cy="220.5" r="3.2" fill="#3f7fc4"/>
<circle cx="1430.5" cy="219.7" r="3.2" fill="#3f7fc4"/>
<circle cx="1412.9" cy="219.6" r="3.2" fill="#3f7fc4"/>
<circle cx="1398.9" cy="219.3" r="3.2" fill="#3f7fc4"/>
<circle cx="1409.4" cy="219" r="3.2" fill="#3f7fc4"/>
<circle cx="1405.9" cy="218.7" r="3.2" fill="#3f7fc4"/>
<circle cx="1416.5" cy="218.6" r="3.2" fill="#3f7fc4"/>
<circle cx="1402.4" cy="218.4" r="3.2" fill="#3f7fc4"/>
<circle cx="1420" cy="218.2" r="3.2" fill="#3f7fc4"/>
<circle cx="1423.5" cy="218.1" r="3.2" fill="#3f7fc4"/>
<circle cx="1427" cy="218.1" r="3.2" fill="#3f7fc4"/>
<circle cx="1411.2" cy="217.8" r="3.2" fill="#3f7fc4"/>
<circle cx="1430.5" cy="216.6" r="3.2" fill="#3f7fc4"/>
<circle cx="1398.9" cy="216.1" r="3.2" fill="#3f7fc4"/>
<circle cx="1407.7" cy="215.6" r="3.2" fill="#3f7fc4"/>
<circle cx="1414.7" cy="215.1" r="3.2" fill="#3f7fc4"/>
<circle cx="1421.7" cy="214.8" r="3.2" fill="#3f7fc4"/>
<circle cx="1427" cy="213.9" r="3.2" fill="#3f7fc4"/>
<circle cx="1402.4" cy="213.7" r="3.2" fill="#3f7fc4"/>
<circle cx="1411.2" cy="213" r="3.2" fill="#3f7fc4"/>
<circle cx="1418.2" cy="212.2" r="3.2" fill="#3f7fc4"/>
<circle cx="1430.5" cy="211.6" r="3.2" fill="#3f7fc4"/>
<circle cx="1407.7" cy="207.6" r="3.2" fill="#3f7fc4"/>
<circle cx="1414.7" cy="204.2" r="3.2" fill="#3f7fc4"/>
<circle cx="1420" cy="201.4" r="3.2" fill="#3f7fc4"/>
<line x1="1394.7" y1="224.2" x2="1434.7" y2="224.2" stroke="#2a1d18" stroke-width="3"/>
<circle cx="1474.7" cy="255.3" r="3.2" fill="#e8201e"/>
<circle cx="1481.7" cy="253.3" r="3.2" fill="#e8201e"/>
<circle cx="1474.7" cy="240.8" r="3.2" fill="#e8201e"/>
<circle cx="1481.7" cy="240" r="3.2" fill="#e8201e"/>
<circle cx="1467.7" cy="238.5" r="3.2" fill="#e8201e"/>
<circle cx="1487" cy="236.9" r="3.2" fill="#e8201e"/>
<circle cx="1474.7" cy="234.5" r="3.2" fill="#e8201e"/>
<circle cx="1481.7" cy="232.7" r="3.2" fill="#e8201e"/>
<circle cx="1467.7" cy="232" r="3.2" fill="#e8201e"/>
<circle cx="1488.8" cy="230.2" r="3.2" fill="#e8201e"/>
<circle cx="1460.6" cy="229.5" r="3.2" fill="#e8201e"/>
<circle cx="1474.7" cy="228.3" r="3.2" fill="#e8201e"/>
<circle cx="1483.5" cy="227.6" r="3.2" fill="#e8201e"/>
<circle cx="1469.4" cy="227.6" r="3.2" fill="#e8201e"/>
<circle cx="1464.1" cy="225.6" r="3.2" fill="#e8201e"/>
<circle cx="1490.5" cy="225.5" r="3.2" fill="#e8201e"/>
<circle cx="1458.9" cy="224.8" r="3.2" fill="#e8201e"/>
<circle cx="1478.2" cy="224.6" r="3.2" fill="#e8201e"/>
<circle cx="1472.9" cy="223.8" r="3.2" fill="#e8201e"/>
<circle cx="1485.3" cy="223.3" r="3.2" fill="#e8201e"/>
<circle cx="1467.7" cy="223" r="3.2" fill="#e8201e"/>
<circle cx="1481.7" cy="222.9" r="3.2" fill="#e8201e"/>
<circle cx="1462.4" cy="220.8" r="3.2" fill="#e8201e"/>
<circle cx="1490.5" cy="220.5" r="3.2" fill="#e8201e"/>
<circle cx="1476.5" cy="219.7" r="3.2" fill="#e8201e"/>
<circle cx="1471.2" cy="219.5" r="3.2" fill="#e8201e"/>
<circle cx="1485.3" cy="218.5" r="3.2" fill="#e8201e"/>
<circle cx="1465.9" cy="218.2" r="3.2" fill="#e8201e"/>
<circle cx="1458.9" cy="218.1" r="3.2" fill="#e8201e"/>
<circle cx="1480" cy="216.8" r="3.2" fill="#e8201e"/>
<circle cx="1488.8" cy="216.8" r="3.2" fill="#e8201e"/>
<circle cx="1474.7" cy="216" r="3.2" fill="#e8201e"/>
<circle cx="1462.4" cy="215.7" r="3.2" fill="#e8201e"/>
<circle cx="1469.4" cy="215.5" r="3.2" fill="#e8201e"/>
<circle cx="1483.5" cy="215.3" r="3.2" fill="#e8201e"/>
<circle cx="1465.9" cy="215.2" r="3.2" fill="#e8201e"/>
<circle cx="1458.9" cy="214.8" r="3.2" fill="#e8201e"/>
<circle cx="1478.2" cy="214" r="3.2" fill="#e8201e"/>
<circle cx="1487" cy="214" r="3.2" fill="#e8201e"/>
<circle cx="1490.5" cy="213.6" r="3.2" fill="#e8201e"/>
<circle cx="1472.9" cy="213.4" r="3.2" fill="#e8201e"/>
<circle cx="1481.7" cy="213.4" r="3.2" fill="#e8201e"/>
<circle cx="1467.7" cy="213.1" r="3.2" fill="#e8201e"/>
<circle cx="1464.1" cy="212.6" r="3.2" fill="#e8201e"/>
<circle cx="1460.6" cy="212.4" r="3.2" fill="#e8201e"/>
<circle cx="1476.5" cy="211.6" r="3.2" fill="#e8201e"/>
<circle cx="1485.3" cy="211.5" r="3.2" fill="#e8201e"/>
<circle cx="1488.8" cy="211.5" r="3.2" fill="#e8201e"/>
<circle cx="1471.2" cy="211.4" r="3.2" fill="#e8201e"/>
<circle cx="1480" cy="211.1" r="3.2" fill="#e8201e"/>
<circle cx="1465.9" cy="211" r="3.2" fill="#e8201e"/>
<circle cx="1462.4" cy="210.8" r="3.2" fill="#e8201e"/>
<circle cx="1458.9" cy="210.5" r="3.2" fill="#e8201e"/>
<circle cx="1474.7" cy="210.4" r="3.2" fill="#e8201e"/>
<circle cx="1483.5" cy="210.2" r="3.2" fill="#e8201e"/>
<circle cx="1487" cy="210.1" r="3.2" fill="#e8201e"/>
<circle cx="1490.5" cy="209.9" r="3.2" fill="#e8201e"/>
<circle cx="1469.4" cy="209.5" r="3.2" fill="#e8201e"/>
<circle cx="1478.2" cy="207.9" r="3.2" fill="#e8201e"/>
<circle cx="1464.1" cy="207.6" r="3.2" fill="#e8201e"/>
<circle cx="1460.6" cy="207.6" r="3.2" fill="#e8201e"/>
<circle cx="1472.9" cy="207.2" r="3.2" fill="#e8201e"/>
<circle cx="1485.3" cy="206.9" r="3.2" fill="#e8201e"/>
<circle cx="1481.7" cy="206.7" r="3.2" fill="#e8201e"/>
<circle cx="1490.5" cy="206" r="3.2" fill="#e8201e"/>
<circle cx="1467.7" cy="205.4" r="3.2" fill="#e8201e"/>
<circle cx="1476.5" cy="205.4" r="3.2" fill="#e8201e"/>
<circle cx="1462.4" cy="205.3" r="3.2" fill="#e8201e"/>
<circle cx="1458.9" cy="205.2" r="3.2" fill="#e8201e"/>
<circle cx="1471.2" cy="204.7" r="3.2" fill="#e8201e"/>
<circle cx="1487" cy="204.7" r="3.2" fill="#e8201e"/>
<circle cx="1480" cy="204.3" r="3.2" fill="#e8201e"/>
<circle cx="1483.5" cy="204.2" r="3.2" fill="#e8201e"/>
<circle cx="1465.9" cy="204.1" r="3.2" fill="#e8201e"/>
<circle cx="1474.7" cy="203.8" r="3.2" fill="#e8201e"/>
<circle cx="1490.5" cy="203.6" r="3.2" fill="#e8201e"/>
<circle cx="1460.6" cy="203.2" r="3.2" fill="#e8201e"/>
<circle cx="1469.4" cy="203.1" r="3.2" fill="#e8201e"/>
<circle cx="1478.2" cy="201.4" r="3.2" fill="#e8201e"/>
<circle cx="1487" cy="200.9" r="3.2" fill="#e8201e"/>
<circle cx="1464.1" cy="200.5" r="3.2" fill="#e8201e"/>
<circle cx="1472.9" cy="200.2" r="3.2" fill="#e8201e"/>
<circle cx="1458.9" cy="199.6" r="3.2" fill="#e8201e"/>
<circle cx="1481.7" cy="199.2" r="3.2" fill="#e8201e"/>
<circle cx="1490.5" cy="198.5" r="3.2" fill="#e8201e"/>
<circle cx="1467.7" cy="198.4" r="3.2" fill="#e8201e"/>
<circle cx="1476.5" cy="197.9" r="3.2" fill="#e8201e"/>
<circle cx="1485.3" cy="197.5" r="3.2" fill="#e8201e"/>
<circle cx="1462.4" cy="197.3" r="3.2" fill="#e8201e"/>
<circle cx="1471.2" cy="196.9" r="3.2" fill="#e8201e"/>
<circle cx="1480" cy="196.8" r="3.2" fill="#e8201e"/>
<circle cx="1458.9" cy="196.6" r="3.2" fill="#e8201e"/>
<circle cx="1488.8" cy="196.5" r="3.2" fill="#e8201e"/>
<circle cx="1465.9" cy="195.4" r="3.2" fill="#e8201e"/>
<circle cx="1474.7" cy="194.9" r="3.2" fill="#e8201e"/>
<circle cx="1483.5" cy="194.5" r="3.2" fill="#e8201e"/>
<circle cx="1469.4" cy="194.1" r="3.2" fill="#e8201e"/>
<circle cx="1462.4" cy="193.7" r="3.2" fill="#e8201e"/>
<circle cx="1488.8" cy="190.3" r="3.2" fill="#e8201e"/>
<circle cx="1478.2" cy="189.7" r="3.2" fill="#e8201e"/>
<circle cx="1465.9" cy="188.5" r="3.2" fill="#e8201e"/>
<circle cx="1458.9" cy="187.3" r="3.2" fill="#e8201e"/>
<circle cx="1472.9" cy="186.7" r="3.2" fill="#e8201e"/>
<circle cx="1483.5" cy="185.8" r="3.2" fill="#e8201e"/>
<circle cx="1490.5" cy="184.5" r="3.2" fill="#e8201e"/>
<circle cx="1478.2" cy="183.8" r="3.2" fill="#e8201e"/>
<circle cx="1474.7" cy="178.7" r="3.2" fill="#e8201e"/>
<circle cx="1481.7" cy="178.4" r="3.2" fill="#e8201e"/>
<circle cx="1467.7" cy="176.5" r="3.2" fill="#e8201e"/>
<circle cx="1488.8" cy="176.3" r="3.2" fill="#e8201e"/>
<line x1="1452.7" y1="207.4" x2="1496.7" y2="207.4" stroke="#2a1d18" stroke-width="3"/>
<line x1="1474.7" y1="205.5" x2="1474.7" y2="209.3" stroke="#2a1d18" stroke-width="1.4"/>
<line x1="1466.7" y1="205.5" x2="1482.7" y2="205.5" stroke="#2a1d18" stroke-width="1.4"/>
<line x1="1466.7" y1="209.3" x2="1482.7" y2="209.3" stroke="#2a1d18" stroke-width="1.4"/>
<circle cx="1534.7" cy="293.6" r="3.2" fill="#3f7fc4"/>
<circle cx="1541.7" cy="293.4" r="3.2" fill="#3f7fc4"/>
<circle cx="1527.7" cy="293.3" r="3.2" fill="#3f7fc4"/>
<circle cx="1548.8" cy="292.7" r="3.2" fill="#3f7fc4"/>
<circle cx="1520.6" cy="291.4" r="3.2" fill="#3f7fc4"/>
<circle cx="1538.2" cy="290.8" r="3.2" fill="#3f7fc4"/>
<circle cx="1531.2" cy="290.3" r="3.2" fill="#3f7fc4"/>
<circle cx="1545.3" cy="289.8" r="3.2" fill="#3f7fc4"/>
<circle cx="1525.9" cy="289.8" r="3.2" fill="#3f7fc4"/>
<circle cx="1550.5" cy="288.6" r="3.2" fill="#3f7fc4"/>
<circle cx="1534.7" cy="288" r="3.2" fill="#3f7fc4"/>
<circle cx="1541.7" cy="287.9" r="3.2" fill="#3f7fc4"/>
<circle cx="1522.4" cy="287.8" r="3.2" fill="#3f7fc4"/>
<circle cx="1518.9" cy="287.7" r="3.2" fill="#3f7fc4"/>
<circle cx="1529.4" cy="287.3" r="3.2" fill="#3f7fc4"/>
<circle cx="1538.2" cy="286.9" r="3.2" fill="#3f7fc4"/>
<circle cx="1547" cy="286" r="3.2" fill="#3f7fc4"/>
<circle cx="1525.9" cy="285.9" r="3.2" fill="#3f7fc4"/>
<circle cx="1532.9" cy="285.6" r="3.2" fill="#3f7fc4"/>
<circle cx="1550.5" cy="285.5" r="3.2" fill="#3f7fc4"/>
<circle cx="1543.5" cy="285.1" r="3.2" fill="#3f7fc4"/>
<circle cx="1520.6" cy="284.9" r="3.2" fill="#3f7fc4"/>
<circle cx="1536.5" cy="284.7" r="3.2" fill="#3f7fc4"/>
<circle cx="1540" cy="284.5" r="3.2" fill="#3f7fc4"/>
<circle cx="1529.4" cy="284.5" r="3.2" fill="#3f7fc4"/>
<circle cx="1524.1" cy="284.3" r="3.2" fill="#3f7fc4"/>
<circle cx="1548.8" cy="284.2" r="3.2" fill="#3f7fc4"/>
<circle cx="1545.3" cy="284.2" r="3.2" fill="#3f7fc4"/>
<circle cx="1518.9" cy="284.1" r="3.2" fill="#3f7fc4"/>
<circle cx="1534.7" cy="284" r="3.2" fill="#3f7fc4"/>
<circle cx="1538.2" cy="283.7" r="3.2" fill="#3f7fc4"/>
<circle cx="1541.7" cy="283.2" r="3.2" fill="#3f7fc4"/>
<circle cx="1531.2" cy="283" r="3.2" fill="#3f7fc4"/>
<circle cx="1527.7" cy="283" r="3.2" fill="#3f7fc4"/>
<circle cx="1522.4" cy="283" r="3.2" fill="#3f7fc4"/>
<circle cx="1550.5" cy="282.4" r="3.2" fill="#3f7fc4"/>
<circle cx="1547" cy="282" r="3.2" fill="#3f7fc4"/>
<circle cx="1536.5" cy="281.6" r="3.2" fill="#3f7fc4"/>
<circle cx="1518.9" cy="281.1" r="3.2" fill="#3f7fc4"/>
<circle cx="1540" cy="280.4" r="3.2" fill="#3f7fc4"/>
<circle cx="1543.5" cy="280" r="3.2" fill="#3f7fc4"/>
<circle cx="1532.9" cy="279.7" r="3.2" fill="#3f7fc4"/>
<circle cx="1525.9" cy="279" r="3.2" fill="#3f7fc4"/>
<circle cx="1550.5" cy="278.9" r="3.2" fill="#3f7fc4"/>
<circle cx="1529.4" cy="278.6" r="3.2" fill="#3f7fc4"/>
<circle cx="1536.5" cy="277.6" r="3.2" fill="#3f7fc4"/>
<circle cx="1520.6" cy="277.3" r="3.2" fill="#3f7fc4"/>
<circle cx="1547" cy="277.2" r="3.2" fill="#3f7fc4"/>
<circle cx="1541.7" cy="277.2" r="3.2" fill="#3f7fc4"/>
<circle cx="1532.9" cy="277" r="3.2" fill="#3f7fc4"/>
<circle cx="1524.1" cy="276.9" r="3.2" fill="#3f7fc4"/>
<circle cx="1550.5" cy="274.1" r="3.2" fill="#3f7fc4"/>
<circle cx="1529.4" cy="272.8" r="3.2" fill="#3f7fc4"/>
<circle cx="1538.2" cy="272.8" r="3.2" fill="#3f7fc4"/>
<circle cx="1518.9" cy="272" r="3.2" fill="#3f7fc4"/>
<circle cx="1543.5" cy="269.6" r="3.2" fill="#3f7fc4"/>
<circle cx="1524.1" cy="269.6" r="3.2" fill="#3f7fc4"/>
<circle cx="1534.7" cy="267.3" r="3.2" fill="#3f7fc4"/>
<circle cx="1527.7" cy="264.9" r="3.2" fill="#3f7fc4"/>
<circle cx="1540" cy="263.7" r="3.2" fill="#3f7fc4"/>
<circle cx="1547" cy="262.5" r="3.2" fill="#3f7fc4"/>
<circle cx="1534.7" cy="260.1" r="3.2" fill="#3f7fc4"/>
<circle cx="1527.7" cy="258.9" r="3.2" fill="#3f7fc4"/>
<circle cx="1541.7" cy="257.7" r="3.2" fill="#3f7fc4"/>
<circle cx="1522.4" cy="255.3" r="3.2" fill="#3f7fc4"/>
<circle cx="1534.7" cy="252.9" r="3.2" fill="#3f7fc4"/>
<circle cx="1541.7" cy="250.5" r="3.2" fill="#3f7fc4"/>
<circle cx="1529.4" cy="249.3" r="3.2" fill="#3f7fc4"/>
<circle cx="1522.4" cy="248.1" r="3.2" fill="#3f7fc4"/>
<circle cx="1534.7" cy="245.7" r="3.2" fill="#3f7fc4"/>
<line x1="1514.7" y1="281.6" x2="1554.7" y2="281.6" stroke="#2a1d18" stroke-width="3"/>
<line x1="1534.7" y1="272" x2="1534.7" y2="290" stroke="#2a1d18" stroke-width="1.4"/>
<line x1="1526.7" y1="272" x2="1542.7" y2="272" stroke="#2a1d18" stroke-width="1.4"/>
<line x1="1526.7" y1="290" x2="1542.7" y2="290" stroke="#2a1d18" stroke-width="1.4"/>
<circle cx="1594.7" cy="286.4" r="3.2" fill="#e8201e"/>
<circle cx="1601.7" cy="283.9" r="3.2" fill="#e8201e"/>
<circle cx="1589.4" cy="281.9" r="3.2" fill="#e8201e"/>
<circle cx="1594.7" cy="278.7" r="3.2" fill="#e8201e"/>
<circle cx="1601.7" cy="277.8" r="3.2" fill="#e8201e"/>
<circle cx="1585.9" cy="277" r="3.2" fill="#e8201e"/>
<circle cx="1608.8" cy="276.1" r="3.2" fill="#e8201e"/>
<circle cx="1591.2" cy="273.8" r="3.2" fill="#e8201e"/>
<circle cx="1596.5" cy="270.4" r="3.2" fill="#e8201e"/>
<circle cx="1603.5" cy="270.2" r="3.2" fill="#e8201e"/>
<circle cx="1589.4" cy="267.9" r="3.2" fill="#e8201e"/>
<circle cx="1582.4" cy="267.8" r="3.2" fill="#e8201e"/>
<circle cx="1608.8" cy="267.3" r="3.2" fill="#e8201e"/>
<circle cx="1600" cy="266.9" r="3.2" fill="#e8201e"/>
<circle cx="1594.7" cy="266.4" r="3.2" fill="#e8201e"/>
<circle cx="1585.9" cy="265" r="3.2" fill="#e8201e"/>
<circle cx="1578.9" cy="264.9" r="3.2" fill="#e8201e"/>
<circle cx="1605.3" cy="264.5" r="3.2" fill="#e8201e"/>
<circle cx="1591.2" cy="262.6" r="3.2" fill="#e8201e"/>
<circle cx="1610.5" cy="262.6" r="3.2" fill="#e8201e"/>
<circle cx="1598.2" cy="260.7" r="3.2" fill="#e8201e"/>
<circle cx="1582.4" cy="260.6" r="3.2" fill="#e8201e"/>
<circle cx="1603.5" cy="260.5" r="3.2" fill="#e8201e"/>
<circle cx="1587.7" cy="260" r="3.2" fill="#e8201e"/>
<circle cx="1594.7" cy="259.5" r="3.2" fill="#e8201e"/>
<circle cx="1608.8" cy="258.9" r="3.2" fill="#e8201e"/>
<circle cx="1578.9" cy="258.7" r="3.2" fill="#e8201e"/>
<circle cx="1591.2" cy="258.1" r="3.2" fill="#e8201e"/>
<circle cx="1600" cy="257.9" r="3.2" fill="#e8201e"/>
<circle cx="1584.1" cy="257.9" r="3.2" fill="#e8201e"/>
<circle cx="1605.3" cy="256.7" r="3.2" fill="#e8201e"/>
<circle cx="1587.7" cy="255.9" r="3.2" fill="#e8201e"/>
<circle cx="1594.7" cy="254.5" r="3.2" fill="#e8201e"/>
<circle cx="1580.6" cy="252.7" r="3.2" fill="#e8201e"/>
<circle cx="1610.5" cy="252.3" r="3.2" fill="#e8201e"/>
<circle cx="1601.7" cy="252" r="3.2" fill="#e8201e"/>
<circle cx="1589.4" cy="251.8" r="3.2" fill="#e8201e"/>
<circle cx="1584.1" cy="251.7" r="3.2" fill="#e8201e"/>
<circle cx="1607" cy="251.5" r="3.2" fill="#e8201e"/>
<circle cx="1596.5" cy="251.3" r="3.2" fill="#e8201e"/>
<circle cx="1592.9" cy="251.1" r="3.2" fill="#e8201e"/>
<circle cx="1578.9" cy="250.1" r="3.2" fill="#e8201e"/>
<circle cx="1600" cy="249.9" r="3.2" fill="#e8201e"/>
<circle cx="1603.5" cy="248.6" r="3.2" fill="#e8201e"/>
<circle cx="1610.5" cy="248.4" r="3.2" fill="#e8201e"/>
<circle cx="1587.7" cy="247.3" r="3.2" fill="#e8201e"/>
<circle cx="1582.4" cy="247" r="3.2" fill="#e8201e"/>
<circle cx="1594.7" cy="246.3" r="3.2" fill="#e8201e"/>
<circle cx="1607" cy="246" r="3.2" fill="#e8201e"/>
<circle cx="1600" cy="245.2" r="3.2" fill="#e8201e"/>
<circle cx="1578.9" cy="244.1" r="3.2" fill="#e8201e"/>
<circle cx="1591.2" cy="244" r="3.2" fill="#e8201e"/>
<circle cx="1610.5" cy="244" r="3.2" fill="#e8201e"/>
<circle cx="1585.9" cy="243.5" r="3.2" fill="#e8201e"/>
<circle cx="1603.5" cy="243.5" r="3.2" fill="#e8201e"/>
<circle cx="1596.5" cy="243" r="3.2" fill="#e8201e"/>
<circle cx="1582.4" cy="242.9" r="3.2" fill="#e8201e"/>
<circle cx="1607" cy="242.6" r="3.2" fill="#e8201e"/>
<circle cx="1600" cy="241.8" r="3.2" fill="#e8201e"/>
<circle cx="1592.9" cy="241.7" r="3.2" fill="#e8201e"/>
<circle cx="1589.4" cy="241.3" r="3.2" fill="#e8201e"/>
<circle cx="1578.9" cy="240.9" r="3.2" fill="#e8201e"/>
<circle cx="1610.5" cy="240.8" r="3.2" fill="#e8201e"/>
<circle cx="1585.9" cy="240.8" r="3.2" fill="#e8201e"/>
<circle cx="1603.5" cy="240.4" r="3.2" fill="#e8201e"/>
<circle cx="1596.5" cy="239.2" r="3.2" fill="#e8201e"/>
<circle cx="1582.4" cy="238.7" r="3.2" fill="#e8201e"/>
<circle cx="1607" cy="238.3" r="3.2" fill="#e8201e"/>
<circle cx="1591.2" cy="237.6" r="3.2" fill="#e8201e"/>
<circle cx="1600" cy="237.3" r="3.2" fill="#e8201e"/>
<circle cx="1578.9" cy="237.3" r="3.2" fill="#e8201e"/>
<circle cx="1585.9" cy="236.6" r="3.2" fill="#e8201e"/>
<circle cx="1610.5" cy="236.1" r="3.2" fill="#e8201e"/>
<circle cx="1603.5" cy="235.9" r="3.2" fill="#e8201e"/>
<circle cx="1594.7" cy="235.9" r="3.2" fill="#e8201e"/>
<circle cx="1582.4" cy="235.7" r="3.2" fill="#e8201e"/>
<circle cx="1607" cy="235.2" r="3.2" fill="#e8201e"/>
<circle cx="1589.4" cy="234.9" r="3.2" fill="#e8201e"/>
<circle cx="1598.2" cy="234.1" r="3.2" fill="#e8201e"/>
<circle cx="1578.9" cy="233.6" r="3.2" fill="#e8201e"/>
<circle cx="1585.9" cy="232" r="3.2" fill="#e8201e"/>
<circle cx="1592.9" cy="231.7" r="3.2" fill="#e8201e"/>
<circle cx="1610.5" cy="230.7" r="3.2" fill="#e8201e"/>
<circle cx="1603.5" cy="229.9" r="3.2" fill="#e8201e"/>
<circle cx="1598.2" cy="229.7" r="3.2" fill="#e8201e"/>
<circle cx="1580.6" cy="228.4" r="3.2" fill="#e8201e"/>
<circle cx="1591.2" cy="226.1" r="3.2" fill="#e8201e"/>
<circle cx="1607" cy="225.1" r="3.2" fill="#e8201e"/>
<circle cx="1585.9" cy="224.6" r="3.2" fill="#e8201e"/>
<circle cx="1600" cy="224.3" r="3.2" fill="#e8201e"/>
<circle cx="1578.9" cy="223.6" r="3.2" fill="#e8201e"/>
<circle cx="1594.7" cy="221.9" r="3.2" fill="#e8201e"/>
<circle cx="1610.5" cy="220.8" r="3.2" fill="#e8201e"/>
<circle cx="1603.5" cy="219.5" r="3.2" fill="#e8201e"/>
<circle cx="1589.4" cy="218.8" r="3.2" fill="#e8201e"/>
<circle cx="1582.4" cy="218.1" r="3.2" fill="#e8201e"/>
<circle cx="1598.2" cy="216.7" r="3.2" fill="#e8201e"/>
<circle cx="1608.8" cy="215.1" r="3.2" fill="#e8201e"/>
<circle cx="1592.9" cy="214.5" r="3.2" fill="#e8201e"/>
<circle cx="1585.9" cy="214.5" r="3.2" fill="#e8201e"/>
<circle cx="1578.9" cy="213.6" r="3.2" fill="#e8201e"/>
<circle cx="1601.7" cy="211.4" r="3.2" fill="#e8201e"/>
<circle cx="1589.4" cy="210.1" r="3.2" fill="#e8201e"/>
<circle cx="1596.5" cy="208.3" r="3.2" fill="#e8201e"/>
<circle cx="1601.7" cy="205.3" r="3.2" fill="#e8201e"/>
<circle cx="1591.2" cy="204.3" r="3.2" fill="#e8201e"/>
<circle cx="1584.1" cy="201.8" r="3.2" fill="#e8201e"/>
<circle cx="1594.7" cy="198.5" r="3.2" fill="#e8201e"/>
<circle cx="1594.7" cy="192.3" r="3.2" fill="#e8201e"/>
<circle cx="1594.7" cy="183.5" r="3.2" fill="#e8201e"/>
<line x1="1572.7" y1="245.7" x2="1616.7" y2="245.7" stroke="#2a1d18" stroke-width="3"/>
<line x1="1594.7" y1="219.4" x2="1594.7" y2="272" stroke="#2a1d18" stroke-width="1.4"/>
<line x1="1586.7" y1="219.4" x2="1602.7" y2="219.4" stroke="#2a1d18" stroke-width="1.4"/>
<line x1="1586.7" y1="272" x2="1602.7" y2="272" stroke="#2a1d18" stroke-width="1.4"/>
<circle cx="1654.7" cy="260.1" r="3.2" fill="#3f7fc4"/>
<circle cx="1661.7" cy="259.6" r="3.2" fill="#3f7fc4"/>
<circle cx="1647.7" cy="258" r="3.2" fill="#3f7fc4"/>
<circle cx="1667" cy="256.3" r="3.2" fill="#3f7fc4"/>
<circle cx="1640.6" cy="255.6" r="3.2" fill="#3f7fc4"/>
<circle cx="1654.7" cy="253.9" r="3.2" fill="#3f7fc4"/>
<circle cx="1661.7" cy="253" r="3.2" fill="#3f7fc4"/>
<circle cx="1645.9" cy="252.7" r="3.2" fill="#3f7fc4"/>
<circle cx="1670.5" cy="252.2" r="3.2" fill="#3f7fc4"/>
<circle cx="1651.2" cy="252.2" r="3.2" fill="#3f7fc4"/>
<circle cx="1638.9" cy="252.1" r="3.2" fill="#3f7fc4"/>
<circle cx="1658.2" cy="251.7" r="3.2" fill="#3f7fc4"/>
<circle cx="1665.3" cy="251.7" r="3.2" fill="#3f7fc4"/>
<circle cx="1642.4" cy="251.5" r="3.2" fill="#3f7fc4"/>
<circle cx="1654.7" cy="251.4" r="3.2" fill="#3f7fc4"/>
<circle cx="1647.7" cy="251.2" r="3.2" fill="#3f7fc4"/>
<circle cx="1668.8" cy="251.2" r="3.2" fill="#3f7fc4"/>
<circle cx="1661.7" cy="251" r="3.2" fill="#3f7fc4"/>
<circle cx="1644.1" cy="250.9" r="3.2" fill="#3f7fc4"/>
<circle cx="1640.6" cy="250.9" r="3.2" fill="#3f7fc4"/>
<circle cx="1656.5" cy="250.7" r="3.2" fill="#3f7fc4"/>
<circle cx="1652.9" cy="250.4" r="3.2" fill="#3f7fc4"/>
<circle cx="1649.4" cy="249.9" r="3.2" fill="#3f7fc4"/>
<circle cx="1667" cy="249.2" r="3.2" fill="#3f7fc4"/>
<circle cx="1670.5" cy="248.9" r="3.2" fill="#3f7fc4"/>
<circle cx="1660" cy="248.4" r="3.2" fill="#3f7fc4"/>
<circle cx="1663.5" cy="248.1" r="3.2" fill="#3f7fc4"/>
<circle cx="1645.9" cy="247.9" r="3.2" fill="#3f7fc4"/>
<circle cx="1642.4" cy="247.9" r="3.2" fill="#3f7fc4"/>
<circle cx="1638.9" cy="247.7" r="3.2" fill="#3f7fc4"/>
<circle cx="1654.7" cy="247.7" r="3.2" fill="#3f7fc4"/>
<circle cx="1651.2" cy="247" r="3.2" fill="#3f7fc4"/>
<circle cx="1668.8" cy="246.9" r="3.2" fill="#3f7fc4"/>
<circle cx="1658.2" cy="246.7" r="3.2" fill="#3f7fc4"/>
<circle cx="1661.7" cy="246.5" r="3.2" fill="#3f7fc4"/>
<circle cx="1665.3" cy="246.5" r="3.2" fill="#3f7fc4"/>
<circle cx="1647.7" cy="246.4" r="3.2" fill="#3f7fc4"/>
<circle cx="1644.1" cy="246.3" r="3.2" fill="#3f7fc4"/>
<circle cx="1640.6" cy="245.8" r="3.2" fill="#3f7fc4"/>
<circle cx="1654.7" cy="245" r="3.2" fill="#3f7fc4"/>
<circle cx="1670.5" cy="244.5" r="3.2" fill="#3f7fc4"/>
<circle cx="1660" cy="244.3" r="3.2" fill="#3f7fc4"/>
<circle cx="1651.2" cy="242.9" r="3.2" fill="#3f7fc4"/>
<circle cx="1645.9" cy="242.8" r="3.2" fill="#3f7fc4"/>
<circle cx="1667" cy="242.8" r="3.2" fill="#3f7fc4"/>
<circle cx="1663.5" cy="242.8" r="3.2" fill="#3f7fc4"/>
<circle cx="1638.9" cy="242.6" r="3.2" fill="#3f7fc4"/>
<circle cx="1642.4" cy="242.3" r="3.2" fill="#3f7fc4"/>
<circle cx="1656.5" cy="239.8" r="3.2" fill="#3f7fc4"/>
<circle cx="1670.5" cy="239.4" r="3.2" fill="#3f7fc4"/>
<circle cx="1649.4" cy="237.9" r="3.2" fill="#3f7fc4"/>
<circle cx="1661.7" cy="237.4" r="3.2" fill="#3f7fc4"/>
<circle cx="1642.4" cy="236.2" r="3.2" fill="#3f7fc4"/>
<circle cx="1667" cy="234.3" r="3.2" fill="#3f7fc4"/>
<circle cx="1654.7" cy="232.2" r="3.2" fill="#3f7fc4"/>
<circle cx="1647.7" cy="232.1" r="3.2" fill="#3f7fc4"/>
<circle cx="1661.7" cy="230.8" r="3.2" fill="#3f7fc4"/>
<circle cx="1640.6" cy="230.1" r="3.2" fill="#3f7fc4"/>
<circle cx="1668.8" cy="228.6" r="3.2" fill="#3f7fc4"/>
<circle cx="1654.7" cy="200.3" r="3.2" fill="#3f7fc4"/>
<line x1="1634.7" y1="248.1" x2="1674.7" y2="248.1" stroke="#2a1d18" stroke-width="3"/>
<line x1="1654.7" y1="239.7" x2="1654.7" y2="257.7" stroke="#2a1d18" stroke-width="1.4"/>
<line x1="1646.7" y1="239.7" x2="1662.7" y2="239.7" stroke="#2a1d18" stroke-width="1.4"/>
<line x1="1646.7" y1="257.7" x2="1662.7" y2="257.7" stroke="#2a1d18" stroke-width="1.4"/>
<circle cx="1714.7" cy="264.9" r="3.2" fill="#e8201e"/>
<circle cx="1721.7" cy="264.8" r="3.2" fill="#e8201e"/>
<circle cx="1707.7" cy="264.5" r="3.2" fill="#e8201e"/>
<circle cx="1728.8" cy="263.6" r="3.2" fill="#e8201e"/>
<circle cx="1700.6" cy="262.4" r="3.2" fill="#e8201e"/>
<circle cx="1718.2" cy="261.8" r="3.2" fill="#e8201e"/>
<circle cx="1711.2" cy="261.7" r="3.2" fill="#e8201e"/>
<circle cx="1725.3" cy="261.4" r="3.2" fill="#e8201e"/>
<circle cx="1705.9" cy="259.2" r="3.2" fill="#e8201e"/>
<circle cx="1730.5" cy="259" r="3.2" fill="#e8201e"/>
<circle cx="1714.7" cy="258.5" r="3.2" fill="#e8201e"/>
<circle cx="1721.7" cy="257.8" r="3.2" fill="#e8201e"/>
<circle cx="1698.9" cy="257.2" r="3.2" fill="#e8201e"/>
<circle cx="1709.4" cy="257.2" r="3.2" fill="#e8201e"/>
<circle cx="1727" cy="257.1" r="3.2" fill="#e8201e"/>
<circle cx="1718.2" cy="257" r="3.2" fill="#e8201e"/>
<circle cx="1702.4" cy="256.5" r="3.2" fill="#e8201e"/>
<circle cx="1705.9" cy="256.4" r="3.2" fill="#e8201e"/>
<circle cx="1712.9" cy="255.3" r="3.2" fill="#e8201e"/>
<circle cx="1730.5" cy="255.3" r="3.2" fill="#e8201e"/>
<circle cx="1723.5" cy="254.8" r="3.2" fill="#e8201e"/>
<circle cx="1716.5" cy="254.5" r="3.2" fill="#e8201e"/>
<circle cx="1720" cy="254.3" r="3.2" fill="#e8201e"/>
<circle cx="1698.9" cy="254.1" r="3.2" fill="#e8201e"/>
<circle cx="1709.4" cy="253.8" r="3.2" fill="#e8201e"/>
<circle cx="1727" cy="253.4" r="3.2" fill="#e8201e"/>
<circle cx="1704.1" cy="253.2" r="3.2" fill="#e8201e"/>
<circle cx="1714.7" cy="253.2" r="3.2" fill="#e8201e"/>
<circle cx="1730.5" cy="253.1" r="3.2" fill="#e8201e"/>
<circle cx="1718.2" cy="252.8" r="3.2" fill="#e8201e"/>
<circle cx="1721.7" cy="252.4" r="3.2" fill="#e8201e"/>
<circle cx="1700.6" cy="252.4" r="3.2" fill="#e8201e"/>
<circle cx="1711.2" cy="252.4" r="3.2" fill="#e8201e"/>
<circle cx="1707.7" cy="252" r="3.2" fill="#e8201e"/>
<circle cx="1725.3" cy="251.9" r="3.2" fill="#e8201e"/>
<circle cx="1728.8" cy="250.9" r="3.2" fill="#e8201e"/>
<circle cx="1716.5" cy="250.6" r="3.2" fill="#e8201e"/>
<circle cx="1704.1" cy="250.5" r="3.2" fill="#e8201e"/>
<circle cx="1720" cy="250.5" r="3.2" fill="#e8201e"/>
<circle cx="1698.9" cy="249.7" r="3.2" fill="#e8201e"/>
<circle cx="1712.9" cy="249.5" r="3.2" fill="#e8201e"/>
<circle cx="1709.4" cy="249.5" r="3.2" fill="#e8201e"/>
<circle cx="1723.5" cy="249.2" r="3.2" fill="#e8201e"/>
<circle cx="1727" cy="248.8" r="3.2" fill="#e8201e"/>
<circle cx="1730.5" cy="248.4" r="3.2" fill="#e8201e"/>
<circle cx="1705.9" cy="248.2" r="3.2" fill="#e8201e"/>
<circle cx="1702.4" cy="248.2" r="3.2" fill="#e8201e"/>
<circle cx="1718.2" cy="247.8" r="3.2" fill="#e8201e"/>
<circle cx="1714.7" cy="247.4" r="3.2" fill="#e8201e"/>
<circle cx="1711.2" cy="247.2" r="3.2" fill="#e8201e"/>
<circle cx="1721.7" cy="247.2" r="3.2" fill="#e8201e"/>
<circle cx="1698.9" cy="247.1" r="3.2" fill="#e8201e"/>
<circle cx="1725.3" cy="246.9" r="3.2" fill="#e8201e"/>
<circle cx="1728.8" cy="246.6" r="3.2" fill="#e8201e"/>
<circle cx="1707.7" cy="246.4" r="3.2" fill="#e8201e"/>
<circle cx="1704.1" cy="246.2" r="3.2" fill="#e8201e"/>
<circle cx="1716.5" cy="246.2" r="3.2" fill="#e8201e"/>
<circle cx="1712.9" cy="245.9" r="3.2" fill="#e8201e"/>
<circle cx="1720" cy="245.6" r="3.2" fill="#e8201e"/>
<circle cx="1700.6" cy="245.2" r="3.2" fill="#e8201e"/>
<circle cx="1723.5" cy="245.1" r="3.2" fill="#e8201e"/>
<circle cx="1727" cy="244.6" r="3.2" fill="#e8201e"/>
<circle cx="1730.5" cy="244.2" r="3.2" fill="#e8201e"/>
<circle cx="1709.4" cy="244.1" r="3.2" fill="#e8201e"/>
<circle cx="1705.9" cy="243.9" r="3.2" fill="#e8201e"/>
<circle cx="1714.7" cy="243.8" r="3.2" fill="#e8201e"/>
<circle cx="1718.2" cy="243.5" r="3.2" fill="#e8201e"/>
<circle cx="1702.4" cy="243.4" r="3.2" fill="#e8201e"/>
<circle cx="1698.9" cy="243.2" r="3.2" fill="#e8201e"/>
<circle cx="1721.7" cy="243.2" r="3.2" fill="#e8201e"/>
<circle cx="1725.3" cy="242.5" r="3.2" fill="#e8201e"/>
<circle cx="1728.8" cy="242.4" r="3.2" fill="#e8201e"/>
<circle cx="1711.2" cy="241.9" r="3.2" fill="#e8201e"/>
<circle cx="1707.7" cy="241.9" r="3.2" fill="#e8201e"/>
<circle cx="1716.5" cy="241.8" r="3.2" fill="#e8201e"/>
<circle cx="1704.1" cy="241.4" r="3.2" fill="#e8201e"/>
<circle cx="1700.6" cy="241" r="3.2" fill="#e8201e"/>
<circle cx="1720" cy="240.9" r="3.2" fill="#e8201e"/>
<circle cx="1723.5" cy="240.8" r="3.2" fill="#e8201e"/>
<circle cx="1727" cy="240.7" r="3.2" fill="#e8201e"/>
<circle cx="1730.5" cy="240" r="3.2" fill="#e8201e"/>
<circle cx="1712.9" cy="240" r="3.2" fill="#e8201e"/>
<circle cx="1709.4" cy="239.4" r="3.2" fill="#e8201e"/>
<circle cx="1716.5" cy="238" r="3.2" fill="#e8201e"/>
<circle cx="1705.9" cy="237.5" r="3.2" fill="#e8201e"/>
<circle cx="1698.9" cy="237.5" r="3.2" fill="#e8201e"/>
<circle cx="1721.7" cy="237.5" r="3.2" fill="#e8201e"/>
<circle cx="1702.4" cy="237.3" r="3.2" fill="#e8201e"/>
<circle cx="1727" cy="237" r="3.2" fill="#e8201e"/>
<circle cx="1730.5" cy="237" r="3.2" fill="#e8201e"/>
<circle cx="1711.2" cy="237" r="3.2" fill="#e8201e"/>
<circle cx="1714.7" cy="236.9" r="3.2" fill="#e8201e"/>
<circle cx="1718.2" cy="236.7" r="3.2" fill="#e8201e"/>
<circle cx="1707.7" cy="236.6" r="3.2" fill="#e8201e"/>
<circle cx="1723.5" cy="235.9" r="3.2" fill="#e8201e"/>
<circle cx="1704.1" cy="235.6" r="3.2" fill="#e8201e"/>
<circle cx="1700.6" cy="235" r="3.2" fill="#e8201e"/>
<circle cx="1728.8" cy="234.6" r="3.2" fill="#e8201e"/>
<circle cx="1712.9" cy="234.1" r="3.2" fill="#e8201e"/>
<circle cx="1720" cy="232.9" r="3.2" fill="#e8201e"/>
<circle cx="1707.7" cy="232.1" r="3.2" fill="#e8201e"/>
<circle cx="1725.3" cy="231.9" r="3.2" fill="#e8201e"/>
<circle cx="1702.4" cy="229" r="3.2" fill="#e8201e"/>
<circle cx="1730.5" cy="229" r="3.2" fill="#e8201e"/>
<circle cx="1714.7" cy="228" r="3.2" fill="#e8201e"/>
<circle cx="1721.7" cy="227.4" r="3.2" fill="#e8201e"/>
<circle cx="1707.7" cy="225.9" r="3.2" fill="#e8201e"/>
<circle cx="1714.7" cy="217.1" r="3.2" fill="#e8201e"/>
<circle cx="1721.7" cy="216.4" r="3.2" fill="#e8201e"/>
<circle cx="1714.7" cy="202.6" r="3.2" fill="#e8201e"/>
<line x1="1692.7" y1="246.9" x2="1736.7" y2="246.9" stroke="#2a1d18" stroke-width="3"/>
<line x1="1714.7" y1="236.1" x2="1714.7" y2="257.7" stroke="#2a1d18" stroke-width="1.4"/>
<line x1="1706.7" y1="236.1" x2="1722.7" y2="236.1" stroke="#2a1d18" stroke-width="1.4"/>
<line x1="1706.7" y1="257.7" x2="1722.7" y2="257.7" stroke="#2a1d18" stroke-width="1.4"/>
<line x1="1385.3" y1="149" x2="1385.3" y2="390.3" stroke="#000" stroke-width="2"/>
<line x1="1384.3" y1="389.3" x2="1745.3" y2="389.3" stroke="#000" stroke-width="2"/>
<line x1="1377.3" y1="150" x2="1385.3" y2="150" stroke="#000" stroke-width="2"/>
<text transform="translate(1367.3 162.7) scale(1 1.08)" font-size="33" text-anchor="end">10</text>
<line x1="1377.3" y1="198" x2="1385.3" y2="198" stroke="#000" stroke-width="2"/>
<text transform="translate(1367.3 210.7) scale(1 1.08)" font-size="33" text-anchor="end">8</text>
<line x1="1377.3" y1="246" x2="1385.3" y2="246" stroke="#000" stroke-width="2"/>
<text transform="translate(1367.3 258.7) scale(1 1.08)" font-size="33" text-anchor="end">6</text>
<line x1="1377.3" y1="293.7" x2="1385.3" y2="293.7" stroke="#000" stroke-width="2"/>
<text transform="translate(1367.3 306.4) scale(1 1.08)" font-size="33" text-anchor="end">4</text>
<line x1="1377.3" y1="341.7" x2="1385.3" y2="341.7" stroke="#000" stroke-width="2"/>
<text transform="translate(1367.3 354.4) scale(1 1.08)" font-size="33" text-anchor="end">2</text>
<line x1="1377.3" y1="389.3" x2="1385.3" y2="389.3" stroke="#000" stroke-width="2"/>
<text transform="translate(1367.3 402) scale(1 1.08)" font-size="33" text-anchor="end">0</text>
<line x1="1414.7" y1="389.3" x2="1414.7" y2="397.3" stroke="#000" stroke-width="2"/>
<text x="1417.7" y="427" font-size="33.5" text-anchor="middle">NT</text>
<line x1="1474.7" y1="389.3" x2="1474.7" y2="397.3" stroke="#000" stroke-width="2"/>
<text x="1473" y="427" font-size="33.5" text-anchor="middle">T</text>
<line x1="1534.7" y1="389.3" x2="1534.7" y2="397.3" stroke="#000" stroke-width="2"/>
<text x="1537.7" y="427" font-size="33.5" text-anchor="middle">NT</text>
<line x1="1594.7" y1="389.3" x2="1594.7" y2="397.3" stroke="#000" stroke-width="2"/>
<text x="1593" y="427" font-size="33.5" text-anchor="middle">T</text>
<line x1="1654.7" y1="389.3" x2="1654.7" y2="397.3" stroke="#000" stroke-width="2"/>
<text x="1658.3" y="427" font-size="33.5" text-anchor="middle">NT</text>
<line x1="1714.7" y1="389.3" x2="1714.7" y2="397.3" stroke="#000" stroke-width="2"/>
<text x="1712.2" y="427" font-size="33.5" text-anchor="middle">T</text>
<line x1="1412" y1="165" x2="1475.3" y2="165" stroke="#666" stroke-width="2.5"/>
<text x="1443.7" y="172" font-size="35" text-anchor="middle" font-weight="bold">****</text>
<line x1="1532" y1="168.7" x2="1595.7" y2="168.7" stroke="#666" stroke-width="2.5"/>
<text x="1563.8" y="175.7" font-size="35" text-anchor="middle" font-weight="bold">****</text>
<text x="308.3" y="482.3" font-size="33" text-anchor="middle" font-style="italic">TGFBR1</text>
<line x1="266.7" y1="495" x2="360" y2="495" stroke="#000" stroke-width="2.5"/>
<text x="448" y="482.3" font-size="33" text-anchor="middle" font-style="italic">TGFBR2</text>
<line x1="392.7" y1="495" x2="485.7" y2="495" stroke="#000" stroke-width="2.5"/>
<text x="582" y="482.3" font-size="33" text-anchor="middle" font-style="italic">TGFBR3</text>
<line x1="520.7" y1="495" x2="613.3" y2="495" stroke="#000" stroke-width="2.5"/>
<text transform="translate(134.8 620) rotate(-90)" font-size="33" text-anchor="middle">mRNA relative</text>
<text transform="translate(173.6 620) rotate(-90)" font-size="33" text-anchor="middle">expression</text>
<circle cx="289.3" cy="751" r="4.5" fill="#3f7fc4"/>
<circle cx="299.2" cy="751" r="4.5" fill="#3f7fc4"/>
<circle cx="279.4" cy="751" r="4.5" fill="#3f7fc4"/>
<circle cx="309.1" cy="750" r="4.5" fill="#3f7fc4"/>
<circle cx="269.5" cy="750" r="4.5" fill="#3f7fc4"/>
<circle cx="294.2" cy="749" r="4.5" fill="#3f7fc4"/>
<circle cx="284.4" cy="749" r="4.5" fill="#3f7fc4"/>
<circle cx="304.2" cy="748" r="4.5" fill="#3f7fc4"/>
<circle cx="274.4" cy="748" r="4.5" fill="#3f7fc4"/>
<circle cx="289.3" cy="747" r="4.5" fill="#3f7fc4"/>
<circle cx="299.2" cy="746" r="4.5" fill="#3f7fc4"/>
<circle cx="279.4" cy="745" r="4.5" fill="#3f7fc4"/>
<circle cx="309.1" cy="743" r="4.5" fill="#3f7fc4"/>
<circle cx="272" cy="740" r="4.5" fill="#3f7fc4"/>
<circle cx="289.3" cy="724.3" r="4.5" fill="#3f7fc4"/>
<line x1="269.3" y1="747.3" x2="309.3" y2="747.3" stroke="#000" stroke-width="2.2"/>
<line x1="289.3" y1="745.5" x2="289.3" y2="749" stroke="#000" stroke-width="1.4"/>
<line x1="281.3" y1="745.5" x2="297.3" y2="745.5" stroke="#000" stroke-width="1.4"/>
<line x1="281.3" y1="749" x2="297.3" y2="749" stroke="#000" stroke-width="1.4"/>
<circle cx="349.3" cy="751" r="4.5" fill="#e8201e"/>
<circle cx="359.2" cy="751" r="4.5" fill="#e8201e"/>
<circle cx="339.4" cy="750" r="4.5" fill="#e8201e"/>
<circle cx="369.1" cy="750" r="4.5" fill="#e8201e"/>
<circle cx="329.5" cy="749" r="4.5" fill="#e8201e"/>
<circle cx="354.2" cy="748" r="4.5" fill="#e8201e"/>
<circle cx="344.4" cy="747" r="4.5" fill="#e8201e"/>
<circle cx="364.2" cy="746" r="4.5" fill="#e8201e"/>
<circle cx="334.4" cy="745" r="4.5" fill="#e8201e"/>
<circle cx="349.3" cy="744" r="4.5" fill="#e8201e"/>
<circle cx="356.7" cy="742" r="4.5" fill="#e8201e"/>
<circle cx="369.1" cy="740" r="4.5" fill="#e8201e"/>
<circle cx="344.4" cy="737" r="4.5" fill="#e8201e"/>
<circle cx="351.8" cy="731.7" r="4.5" fill="#e8201e"/>
<circle cx="361.7" cy="731" r="4.5" fill="#e8201e"/>
<circle cx="349.3" cy="675.7" r="4.5" fill="#e8201e"/>
<line x1="328.3" y1="742.3" x2="370.3" y2="742.3" stroke="#000" stroke-width="2.2"/>
<line x1="349.3" y1="737" x2="349.3" y2="747" stroke="#000" stroke-width="1.4"/>
<line x1="339.3" y1="737" x2="359.3" y2="737" stroke="#000" stroke-width="1.4"/>
<line x1="339.3" y1="747" x2="359.3" y2="747" stroke="#000" stroke-width="1.4"/>
<circle cx="410" cy="751" r="4.5" fill="#3f7fc4"/>
<circle cx="419.9" cy="750" r="4.5" fill="#3f7fc4"/>
<circle cx="400.1" cy="749" r="4.5" fill="#3f7fc4"/>
<circle cx="429.8" cy="748" r="4.5" fill="#3f7fc4"/>
<circle cx="390.2" cy="747" r="4.5" fill="#3f7fc4"/>
<circle cx="414.9" cy="746" r="4.5" fill="#3f7fc4"/>
<circle cx="407.5" cy="745" r="4.5" fill="#3f7fc4"/>
<circle cx="422.4" cy="744" r="4.5" fill="#3f7fc4"/>
<circle cx="397.6" cy="742" r="4.5" fill="#3f7fc4"/>
<circle cx="429.8" cy="740" r="4.5" fill="#3f7fc4"/>
<circle cx="412.5" cy="738" r="4.5" fill="#3f7fc4"/>
<circle cx="402.6" cy="735" r="4.5" fill="#3f7fc4"/>
<circle cx="410" cy="730" r="4.5" fill="#3f7fc4"/>
<circle cx="419.9" cy="729.3" r="4.5" fill="#3f7fc4"/>
<circle cx="410" cy="717.3" r="4.5" fill="#3f7fc4"/>
<circle cx="410" cy="691" r="4.5" fill="#3f7fc4"/>
<circle cx="410" cy="556" r="4.5" fill="#3f7fc4"/>
<line x1="388" y1="727.3" x2="432" y2="727.3" stroke="#000" stroke-width="2.2"/>
<line x1="410" y1="716" x2="410" y2="738" stroke="#000" stroke-width="1.4"/>
<line x1="400" y1="716" x2="420" y2="716" stroke="#000" stroke-width="1.4"/>
<line x1="400" y1="738" x2="420" y2="738" stroke="#000" stroke-width="1.4"/>
<circle cx="470.7" cy="751" r="4.5" fill="#e8201e"/>
<circle cx="480.6" cy="750" r="4.5" fill="#e8201e"/>
<circle cx="460.8" cy="749" r="4.5" fill="#e8201e"/>
<circle cx="490.5" cy="748" r="4.5" fill="#e8201e"/>
<circle cx="450.9" cy="747" r="4.5" fill="#e8201e"/>
<circle cx="475.6" cy="746" r="4.5" fill="#e8201e"/>
<circle cx="468.2" cy="745" r="4.5" fill="#e8201e"/>
<circle cx="483.1" cy="743" r="4.5" fill="#e8201e"/>
<circle cx="458.3" cy="741" r="4.5" fill="#e8201e"/>
<circle cx="490.5" cy="739" r="4.5" fill="#e8201e"/>
<circle cx="470.7" cy="737" r="4.5" fill="#e8201e"/>
<circle cx="480.6" cy="735" r="4.5" fill="#e8201e"/>
<circle cx="470.7" cy="714.3" r="4.5" fill="#e8201e"/>
<circle cx="470.7" cy="659.3" r="4.5" fill="#e8201e"/>
<circle cx="470.7" cy="600" r="4.5" fill="#e8201e"/>
<line x1="448.7" y1="729.3" x2="492.7" y2="729.3" stroke="#000" stroke-width="2.2"/>
<line x1="470.7" y1="720" x2="470.7" y2="740" stroke="#000" stroke-width="1.4"/>
<line x1="460.7" y1="720" x2="480.7" y2="720" stroke="#000" stroke-width="1.4"/>
<line x1="460.7" y1="740" x2="480.7" y2="740" stroke="#000" stroke-width="1.4"/>
<circle cx="531" cy="751" r="4.5" fill="#3f7fc4"/>
<circle cx="540.9" cy="750" r="4.5" fill="#3f7fc4"/>
<circle cx="521.1" cy="749" r="4.5" fill="#3f7fc4"/>
<circle cx="550.8" cy="748" r="4.5" fill="#3f7fc4"/>
<circle cx="511.2" cy="747" r="4.5" fill="#3f7fc4"/>
<circle cx="536" cy="746" r="4.5" fill="#3f7fc4"/>
<circle cx="528.5" cy="745" r="4.5" fill="#3f7fc4"/>
<circle cx="543.4" cy="744" r="4.5" fill="#3f7fc4"/>
<circle cx="518.6" cy="742" r="4.5" fill="#3f7fc4"/>
<circle cx="550.8" cy="740" r="4.5" fill="#3f7fc4"/>
<circle cx="533.5" cy="738" r="4.5" fill="#3f7fc4"/>
<circle cx="511.2" cy="736" r="4.5" fill="#3f7fc4"/>
<circle cx="526" cy="733" r="4.5" fill="#3f7fc4"/>
<circle cx="531" cy="714.3" r="4.5" fill="#3f7fc4"/>
<circle cx="531" cy="667.7" r="4.5" fill="#3f7fc4"/>
<circle cx="531" cy="611.7" r="4.5" fill="#3f7fc4"/>
<line x1="509" y1="730" x2="553" y2="730" stroke="#000" stroke-width="2.2"/>
<line x1="531" y1="721" x2="531" y2="739" stroke="#000" stroke-width="1.4"/>
<line x1="521" y1="721" x2="541" y2="721" stroke="#000" stroke-width="1.4"/>
<line x1="521" y1="739" x2="541" y2="739" stroke="#000" stroke-width="1.4"/>
<circle cx="591" cy="751" r="4.5" fill="#e8201e"/>
<circle cx="600.9" cy="751" r="4.5" fill="#e8201e"/>
<circle cx="581.1" cy="750" r="4.5" fill="#e8201e"/>
<circle cx="610.8" cy="749" r="4.5" fill="#e8201e"/>
<circle cx="571.2" cy="748" r="4.5" fill="#e8201e"/>
<circle cx="596" cy="747" r="4.5" fill="#e8201e"/>
<circle cx="586" cy="746" r="4.5" fill="#e8201e"/>
<circle cx="603.4" cy="745" r="4.5" fill="#e8201e"/>
<circle cx="578.6" cy="744" r="4.5" fill="#e8201e"/>
<circle cx="610.8" cy="742" r="4.5" fill="#e8201e"/>
<circle cx="571.2" cy="740" r="4.5" fill="#e8201e"/>
<circle cx="591" cy="738" r="4.5" fill="#e8201e"/>
<circle cx="600.9" cy="735" r="4.5" fill="#e8201e"/>
<circle cx="591" cy="729.3" r="4.5" fill="#e8201e"/>
<circle cx="598.4" cy="723.3" r="4.5" fill="#e8201e"/>
<circle cx="588.5" cy="721" r="4.5" fill="#e8201e"/>
<line x1="570" y1="743.7" x2="612" y2="743.7" stroke="#000" stroke-width="2.2"/>
<line x1="591" y1="741" x2="591" y2="746.5" stroke="#000" stroke-width="1.4"/>
<line x1="582" y1="741" x2="600" y2="741" stroke="#000" stroke-width="1.4"/>
<line x1="582" y1="746.5" x2="600" y2="746.5" stroke="#000" stroke-width="1.4"/>
<line x1="260" y1="509" x2="260" y2="752.7" stroke="#000" stroke-width="2"/>
<line x1="259" y1="751.7" x2="623.3" y2="751.7" stroke="#000" stroke-width="2"/>
<line x1="252" y1="510" x2="260" y2="510" stroke="#000" stroke-width="2"/>
<text transform="translate(250.8 521.3) scale(1 1.08)" font-size="35" text-anchor="end">2.5</text>
<line x1="252" y1="558.3" x2="260" y2="558.3" stroke="#000" stroke-width="2"/>
<text transform="translate(250.8 569.6) scale(1 1.08)" font-size="35" text-anchor="end">2.0</text>
<line x1="252" y1="606.7" x2="260" y2="606.7" stroke="#000" stroke-width="2"/>
<text transform="translate(250.8 618) scale(1 1.08)" font-size="35" text-anchor="end">1.5</text>
<line x1="252" y1="655" x2="260" y2="655" stroke="#000" stroke-width="2"/>
<text transform="translate(250.8 666.3) scale(1 1.08)" font-size="35" text-anchor="end">1.0</text>
<line x1="252" y1="703.3" x2="260" y2="703.3" stroke="#000" stroke-width="2"/>
<text transform="translate(250.8 714.6) scale(1 1.08)" font-size="35" text-anchor="end">0.5</text>
<line x1="252" y1="751.7" x2="260" y2="751.7" stroke="#000" stroke-width="2"/>
<text transform="translate(250.8 763) scale(1 1.08)" font-size="35" text-anchor="end">0</text>
<line x1="289.3" y1="751.7" x2="289.3" y2="759.7" stroke="#000" stroke-width="2"/>
<text x="293.8" y="787.7" font-size="33.5" text-anchor="middle">NT</text>
<line x1="349.3" y1="751.7" x2="349.3" y2="759.7" stroke="#000" stroke-width="2"/>
<text x="349.5" y="787.7" font-size="33.5" text-anchor="middle">T</text>
<line x1="410" y1="751.7" x2="410" y2="759.7" stroke="#000" stroke-width="2"/>
<text x="415.2" y="787.7" font-size="33.5" text-anchor="middle">NT</text>
<line x1="470.7" y1="751.7" x2="470.7" y2="759.7" stroke="#000" stroke-width="2"/>
<text x="470.8" y="787.7" font-size="33.5" text-anchor="middle">T</text>
<line x1="531" y1="751.7" x2="531" y2="759.7" stroke="#000" stroke-width="2"/>
<text x="536.3" y="787.7" font-size="33.5" text-anchor="middle">NT</text>
<line x1="591" y1="751.7" x2="591" y2="759.7" stroke="#000" stroke-width="2"/>
<text x="591.3" y="787.7" font-size="33.5" text-anchor="middle">T</text>
<line x1="288.7" y1="654.3" x2="350.7" y2="654.3" stroke="#000" stroke-width="2.5"/>
<text x="319.7" y="661.3" font-size="35" text-anchor="middle" font-weight="bold">*</text>
<line x1="531.7" y1="584.3" x2="593.3" y2="584.3" stroke="#000" stroke-width="2.5"/>
<text x="562.5" y="591.3" font-size="35" text-anchor="middle" font-weight="bold">*</text>
<text x="886.7" y="482.3" font-size="33" text-anchor="middle" font-style="italic">TGFBR1</text>
<line x1="845" y1="495" x2="937.7" y2="495" stroke="#000" stroke-width="2.5"/>
<text x="1026.7" y="482.3" font-size="33" text-anchor="middle" font-style="italic">TGFBR2</text>
<line x1="971" y1="495" x2="1063.3" y2="495" stroke="#000" stroke-width="2.5"/>
<text x="1161.5" y="482.3" font-size="33" text-anchor="middle" font-style="italic">TGFBR3</text>
<line x1="1099.3" y1="495" x2="1192" y2="495" stroke="#000" stroke-width="2.5"/>
<text transform="translate(700.6 617) rotate(-90)" font-size="33" text-anchor="middle">mRNA expression</text>
<text transform="translate(738.8 617) rotate(-90)" font-size="33" text-anchor="middle">(Transcript per million)</text>
<circle cx="860" cy="745" r="4.5" fill="#3f7fc4"/>
<circle cx="867.4" cy="744.5" r="4.5" fill="#3f7fc4"/>
<circle cx="852.6" cy="744" r="4.5" fill="#3f7fc4"/>
<circle cx="874.9" cy="743.5" r="4.5" fill="#3f7fc4"/>
<circle cx="845.1" cy="743" r="4.5" fill="#3f7fc4"/>
<circle cx="879.8" cy="742.5" r="4.5" fill="#3f7fc4"/>
<circle cx="840.2" cy="742" r="4.5" fill="#3f7fc4"/>
<circle cx="862.5" cy="741.5" r="4.5" fill="#3f7fc4"/>
<circle cx="857.5" cy="741" r="4.5" fill="#3f7fc4"/>
<circle cx="869.9" cy="740.5" r="4.5" fill="#3f7fc4"/>
<circle cx="850.1" cy="740" r="4.5" fill="#3f7fc4"/>
<line x1="840" y1="741.7" x2="880" y2="741.7" stroke="#000" stroke-width="2.2"/>
<circle cx="920" cy="745" r="4.5" fill="#e8201e"/>
<circle cx="929.9" cy="744" r="4.5" fill="#e8201e"/>
<circle cx="910.1" cy="742" r="4.5" fill="#e8201e"/>
<circle cx="937.3" cy="740" r="4.5" fill="#e8201e"/>
<circle cx="902.7" cy="738" r="4.5" fill="#e8201e"/>
<circle cx="920" cy="736" r="4.5" fill="#e8201e"/>
<circle cx="929.9" cy="734" r="4.5" fill="#e8201e"/>
<circle cx="912.6" cy="732" r="4.5" fill="#e8201e"/>
<circle cx="937.3" cy="730" r="4.5" fill="#e8201e"/>
<circle cx="922.5" cy="728" r="4.5" fill="#e8201e"/>
<circle cx="905.1" cy="726" r="4.5" fill="#e8201e"/>
<circle cx="915" cy="724" r="4.5" fill="#e8201e"/>
<circle cx="929.9" cy="722" r="4.5" fill="#e8201e"/>
<circle cx="939.8" cy="720" r="4.5" fill="#e8201e"/>
<circle cx="922.5" cy="718" r="4.5" fill="#e8201e"/>
<circle cx="912.6" cy="716" r="4.5" fill="#e8201e"/>
<circle cx="932.4" cy="714" r="4.5" fill="#e8201e"/>
<circle cx="905.1" cy="712" r="4.5" fill="#e8201e"/>
<circle cx="920" cy="710" r="4.5" fill="#e8201e"/>
<circle cx="939.8" cy="708" r="4.5" fill="#e8201e"/>
<circle cx="927.4" cy="707" r="4.5" fill="#e8201e"/>
<circle cx="912.6" cy="705" r="4.5" fill="#e8201e"/>
<circle cx="902.7" cy="703" r="4.5" fill="#e8201e"/>
<circle cx="920" cy="702" r="4.5" fill="#e8201e"/>
<circle cx="932.4" cy="700" r="4.5" fill="#e8201e"/>
<circle cx="939.8" cy="698" r="4.5" fill="#e8201e"/>
<circle cx="912.6" cy="696.7" r="4.5" fill="#e8201e"/>
<circle cx="920" cy="675.7" r="4.5" fill="#e8201e"/>
<circle cx="929.9" cy="672.7" r="4.5" fill="#e8201e"/>
<circle cx="920" cy="640.7" r="4.5" fill="#e8201e"/>
<line x1="900" y1="716.7" x2="940" y2="716.7" stroke="#000" stroke-width="2.2"/>
<line x1="920" y1="712.7" x2="920" y2="720.7" stroke="#000" stroke-width="1.4"/>
<line x1="910" y1="712.7" x2="930" y2="712.7" stroke="#000" stroke-width="1.4"/>
<line x1="910" y1="720.7" x2="930" y2="720.7" stroke="#000" stroke-width="1.4"/>
<circle cx="980" cy="738.3" r="4.5" fill="#3f7fc4"/>
<circle cx="980" cy="720" r="4.5" fill="#3f7fc4"/>
<circle cx="985" cy="713.3" r="4.5" fill="#3f7fc4"/>
<circle cx="975" cy="710" r="4.5" fill="#3f7fc4"/>
<circle cx="982.5" cy="705" r="4.5" fill="#3f7fc4"/>
<circle cx="970.1" cy="703.3" r="4.5" fill="#3f7fc4"/>
<circle cx="989.9" cy="700.7" r="4.5" fill="#3f7fc4"/>
<circle cx="999.8" cy="700" r="4.5" fill="#3f7fc4"/>
<circle cx="980" cy="665" r="4.5" fill="#3f7fc4"/>
<line x1="960" y1="707.3" x2="1000" y2="707.3" stroke="#000" stroke-width="2.2"/>
<line x1="980" y1="700.7" x2="980" y2="714" stroke="#000" stroke-width="1.4"/>
<line x1="970" y1="700.7" x2="990" y2="700.7" stroke="#000" stroke-width="1.4"/>
<line x1="970" y1="714" x2="990" y2="714" stroke="#000" stroke-width="1.4"/>
<circle cx="1040.7" cy="727" r="4.5" fill="#e8201e"/>
<circle cx="1048.1" cy="723" r="4.5" fill="#e8201e"/>
<circle cx="1035.8" cy="720" r="4.5" fill="#e8201e"/>
<circle cx="1055.5" cy="718" r="4.5" fill="#e8201e"/>
<circle cx="1043.2" cy="714" r="4.5" fill="#e8201e"/>
<circle cx="1035.8" cy="710" r="4.5" fill="#e8201e"/>
<circle cx="1043.2" cy="705" r="4.5" fill="#e8201e"/>
<circle cx="1035.8" cy="700" r="4.5" fill="#e8201e"/>
<circle cx="1043.2" cy="695" r="4.5" fill="#e8201e"/>
<circle cx="1035.8" cy="690" r="4.5" fill="#e8201e"/>
<circle cx="1048.1" cy="688" r="4.5" fill="#e8201e"/>
<circle cx="1040.7" cy="683" r="4.5" fill="#e8201e"/>
<circle cx="1050.6" cy="680" r="4.5" fill="#e8201e"/>
<circle cx="1043.2" cy="675" r="4.5" fill="#e8201e"/>
<circle cx="1033.3" cy="672" r="4.5" fill="#e8201e"/>
<circle cx="1050.6" cy="670" r="4.5" fill="#e8201e"/>
<circle cx="1025.9" cy="668" r="4.5" fill="#e8201e"/>
<circle cx="1040.7" cy="665" r="4.5" fill="#e8201e"/>
<circle cx="1055.5" cy="663" r="4.5" fill="#e8201e"/>
<circle cx="1033.3" cy="660" r="4.5" fill="#e8201e"/>
<circle cx="1040.7" cy="655" r="4.5" fill="#e8201e"/>
<circle cx="1048.1" cy="650" r="4.5" fill="#e8201e"/>
<circle cx="1035.8" cy="648" r="4.5" fill="#e8201e"/>
<circle cx="1055.5" cy="645" r="4.5" fill="#e8201e"/>
<circle cx="1040.7" cy="640" r="4.5" fill="#e8201e"/>
<circle cx="1048.1" cy="634" r="4.5" fill="#e8201e"/>
<circle cx="1040.7" cy="623" r="4.5" fill="#e8201e"/>
<circle cx="1048.1" cy="619" r="4.5" fill="#e8201e"/>
<circle cx="1040.7" cy="607.7" r="4.5" fill="#e8201e"/>
<circle cx="1045.7" cy="601" r="4.5" fill="#e8201e"/>
<circle cx="1040.7" cy="592.3" r="4.5" fill="#e8201e"/>
<circle cx="1048.1" cy="587.7" r="4.5" fill="#e8201e"/>
<circle cx="1040.7" cy="565" r="4.5" fill="#e8201e"/>
<circle cx="1040.7" cy="544.3" r="4.5" fill="#e8201e"/>
<line x1="1020.7" y1="665" x2="1060.7" y2="665" stroke="#000" stroke-width="2.2"/>
<line x1="1040.7" y1="657" x2="1040.7" y2="672" stroke="#000" stroke-width="1.4"/>
<line x1="1030.7" y1="657" x2="1050.7" y2="657" stroke="#000" stroke-width="1.4"/>
<line x1="1030.7" y1="672" x2="1050.7" y2="672" stroke="#000" stroke-width="1.4"/>
<circle cx="1101" cy="745" r="4.5" fill="#3f7fc4"/>
<circle cx="1110.9" cy="744" r="4.5" fill="#3f7fc4"/>
<circle cx="1091.1" cy="743" r="4.5" fill="#3f7fc4"/>
<circle cx="1120.8" cy="742" r="4.5" fill="#3f7fc4"/>
<circle cx="1081.2" cy="741" r="4.5" fill="#3f7fc4"/>
<circle cx="1106" cy="740" r="4.5" fill="#3f7fc4"/>
<circle cx="1098.5" cy="739" r="4.5" fill="#3f7fc4"/>
<circle cx="1113.4" cy="737" r="4.5" fill="#3f7fc4"/>
<circle cx="1088.6" cy="735" r="4.5" fill="#3f7fc4"/>
<circle cx="1101" cy="723.3" r="4.5" fill="#3f7fc4"/>
<line x1="1081" y1="739.3" x2="1121" y2="739.3" stroke="#000" stroke-width="2.2"/>
<line x1="1101" y1="737.5" x2="1101" y2="741" stroke="#000" stroke-width="1.4"/>
<line x1="1093" y1="737.5" x2="1109" y2="737.5" stroke="#000" stroke-width="1.4"/>
<line x1="1093" y1="741" x2="1109" y2="741" stroke="#000" stroke-width="1.4"/>
<circle cx="1161" cy="751" r="4.5" fill="#e8201e"/>
<circle cx="1170.9" cy="750" r="4.5" fill="#e8201e"/>
<circle cx="1151.1" cy="749" r="4.5" fill="#e8201e"/>
<circle cx="1180.8" cy="748" r="4.5" fill="#e8201e"/>
<circle cx="1141.2" cy="747" r="4.5" fill="#e8201e"/>
<circle cx="1166" cy="746" r="4.5" fill="#e8201e"/>
<circle cx="1158.5" cy="745" r="4.5" fill="#e8201e"/>
<circle cx="1173.4" cy="744" r="4.5" fill="#e8201e"/>
<circle cx="1148.6" cy="743" r="4.5" fill="#e8201e"/>
<circle cx="1180.8" cy="742" r="4.5" fill="#e8201e"/>
<circle cx="1141.2" cy="741" r="4.5" fill="#e8201e"/>
<circle cx="1163.5" cy="740" r="4.5" fill="#e8201e"/>
<circle cx="1156" cy="739" r="4.5" fill="#e8201e"/>
<circle cx="1170.9" cy="738" r="4.5" fill="#e8201e"/>
<circle cx="1146.2" cy="737" r="4.5" fill="#e8201e"/>
<circle cx="1178.3" cy="736" r="4.5" fill="#e8201e"/>
<circle cx="1161" cy="734" r="4.5" fill="#e8201e"/>
<circle cx="1153.6" cy="732" r="4.5" fill="#e8201e"/>
<circle cx="1168.4" cy="730" r="4.5" fill="#e8201e"/>
<circle cx="1146.2" cy="728" r="4.5" fill="#e8201e"/>
<circle cx="1175.8" cy="726" r="4.5" fill="#e8201e"/>
<circle cx="1161" cy="724" r="4.5" fill="#e8201e"/>
<circle cx="1141.2" cy="722" r="4.5" fill="#e8201e"/>
<circle cx="1168.4" cy="720" r="4.5" fill="#e8201e"/>
<circle cx="1158.5" cy="716" r="4.5" fill="#e8201e"/>
<circle cx="1166" cy="712" r="4.5" fill="#e8201e"/>
<circle cx="1156" cy="708" r="4.5" fill="#e8201e"/>
<circle cx="1173.4" cy="706" r="4.5" fill="#e8201e"/>
<circle cx="1161" cy="688.3" r="4.5" fill="#e8201e"/>
<circle cx="1161" cy="651" r="4.5" fill="#e8201e"/>
<line x1="1140" y1="733.3" x2="1182" y2="733.3" stroke="#000" stroke-width="2.2"/>
<line x1="1161" y1="730.5" x2="1161" y2="736" stroke="#000" stroke-width="1.4"/>
<line x1="1152" y1="730.5" x2="1170" y2="730.5" stroke="#000" stroke-width="1.4"/>
<line x1="1152" y1="736" x2="1170" y2="736" stroke="#000" stroke-width="1.4"/>
<line x1="830" y1="509" x2="830" y2="753" stroke="#000" stroke-width="2"/>
<line x1="829" y1="752" x2="1192.5" y2="752" stroke="#000" stroke-width="2"/>
<line x1="822" y1="510" x2="830" y2="510" stroke="#000" stroke-width="2"/>
<text transform="translate(818.1 525.9) scale(1 1.08)" font-size="35" text-anchor="end">80</text>
<line x1="822" y1="570.7" x2="830" y2="570.7" stroke="#000" stroke-width="2"/>
<text transform="translate(818.1 586.6) scale(1 1.08)" font-size="35" text-anchor="end">60</text>
<line x1="822" y1="631" x2="830" y2="631" stroke="#000" stroke-width="2"/>
<text transform="translate(818.1 646.9) scale(1 1.08)" font-size="35" text-anchor="end">40</text>
<line x1="822" y1="691.7" x2="830" y2="691.7" stroke="#000" stroke-width="2"/>
<text transform="translate(818.1 707.6) scale(1 1.08)" font-size="35" text-anchor="end">20</text>
<line x1="822" y1="752" x2="830" y2="752" stroke="#000" stroke-width="2"/>
<text transform="translate(818.1 767.9) scale(1 1.08)" font-size="35" text-anchor="end">0</text>
<line x1="860" y1="752" x2="860" y2="760" stroke="#000" stroke-width="2"/>
<text x="864.5" y="787.5" font-size="33.5" text-anchor="middle">NT</text>
<line x1="920" y1="752" x2="920" y2="760" stroke="#000" stroke-width="2"/>
<text x="920.8" y="787.5" font-size="33.5" text-anchor="middle">T</text>
<line x1="980" y1="752" x2="980" y2="760" stroke="#000" stroke-width="2"/>
<text x="985.5" y="787.5" font-size="33.5" text-anchor="middle">NT</text>
<line x1="1040.7" y1="752" x2="1040.7" y2="760" stroke="#000" stroke-width="2"/>
<text x="1041.3" y="787.5" font-size="33.5" text-anchor="middle">T</text>
<line x1="1101" y1="752" x2="1101" y2="760" stroke="#000" stroke-width="2"/>
<text x="1107" y="787.5" font-size="33.5" text-anchor="middle">NT</text>
<line x1="1161" y1="752" x2="1161" y2="760" stroke="#000" stroke-width="2"/>
<text x="1161.7" y="787.5" font-size="33.5" text-anchor="middle">T</text>
<line x1="859.3" y1="622.7" x2="921.7" y2="622.7" stroke="#000" stroke-width="2.5"/>
<text x="890.5" y="629.7" font-size="35" text-anchor="middle" font-weight="bold">****</text>
<line x1="983.3" y1="529.3" x2="1045.7" y2="529.3" stroke="#000" stroke-width="2.5"/>
<text x="1014.5" y="536.3" font-size="35" text-anchor="middle" font-weight="bold">**</text>
<text x="1441.3" y="482.3" font-size="33" text-anchor="middle" font-style="italic">TGFBR1</text>
<line x1="1399" y1="495" x2="1492" y2="495" stroke="#000" stroke-width="2.5"/>
<text x="1580.7" y="482.3" font-size="33" text-anchor="middle" font-style="italic">TGFBR2</text>
<line x1="1524" y1="495" x2="1617" y2="495" stroke="#000" stroke-width="2.5"/>
<text x="1714.7" y="482.3" font-size="33" text-anchor="middle" font-style="italic">TGFBR3</text>
<line x1="1652.3" y1="495" x2="1745.3" y2="495" stroke="#000" stroke-width="2.5"/>
<text transform="translate(1281 626) rotate(-90)" font-size="33" text-anchor="middle">normalized</text>
<text transform="translate(1318.6 621) rotate(-90)" font-size="33" text-anchor="middle">mRNA expression</text>
<circle cx="1416.3" cy="631.4" r="3.2" fill="#3f7fc4"/>
<circle cx="1419.8" cy="626.5" r="3.2" fill="#3f7fc4"/>
<circle cx="1412.8" cy="625.3" r="3.2" fill="#3f7fc4"/>
<circle cx="1426.9" cy="625" r="3.2" fill="#3f7fc4"/>
<circle cx="1405.7" cy="624.7" r="3.2" fill="#3f7fc4"/>
<circle cx="1432.1" cy="624.7" r="3.2" fill="#3f7fc4"/>
<circle cx="1400.5" cy="624.5" r="3.2" fill="#3f7fc4"/>
<circle cx="1416.3" cy="624.2" r="3.2" fill="#3f7fc4"/>
<circle cx="1423.3" cy="623.9" r="3.2" fill="#3f7fc4"/>
<circle cx="1409.3" cy="623.4" r="3.2" fill="#3f7fc4"/>
<circle cx="1419.8" cy="623.4" r="3.2" fill="#3f7fc4"/>
<circle cx="1428.6" cy="622.6" r="3.2" fill="#3f7fc4"/>
<circle cx="1404" cy="622.5" r="3.2" fill="#3f7fc4"/>
<circle cx="1412.8" cy="622.5" r="3.2" fill="#3f7fc4"/>
<circle cx="1425.1" cy="622.5" r="3.2" fill="#3f7fc4"/>
<circle cx="1432.1" cy="621.8" r="3.2" fill="#3f7fc4"/>
<circle cx="1400.5" cy="621.8" r="3.2" fill="#3f7fc4"/>
<circle cx="1416.3" cy="621.4" r="3.2" fill="#3f7fc4"/>
<circle cx="1407.5" cy="621.4" r="3.2" fill="#3f7fc4"/>
<circle cx="1421.6" cy="621" r="3.2" fill="#3f7fc4"/>
<circle cx="1411" cy="620.9" r="3.2" fill="#3f7fc4"/>
<circle cx="1426.9" cy="620.8" r="3.2" fill="#3f7fc4"/>
<circle cx="1430.4" cy="620.5" r="3.2" fill="#3f7fc4"/>
<circle cx="1402.2" cy="620.5" r="3.2" fill="#3f7fc4"/>
<circle cx="1418.1" cy="620.5" r="3.2" fill="#3f7fc4"/>
<circle cx="1414.5" cy="620.1" r="3.2" fill="#3f7fc4"/>
<circle cx="1405.7" cy="619.9" r="3.2" fill="#3f7fc4"/>
<circle cx="1423.3" cy="619.8" r="3.2" fill="#3f7fc4"/>
<circle cx="1409.3" cy="619.8" r="3.2" fill="#3f7fc4"/>
<circle cx="1428.6" cy="619.6" r="3.2" fill="#3f7fc4"/>
<circle cx="1432.1" cy="619.6" r="3.2" fill="#3f7fc4"/>
<circle cx="1400.5" cy="619.6" r="3.2" fill="#3f7fc4"/>
<circle cx="1419.8" cy="619.4" r="3.2" fill="#3f7fc4"/>
<circle cx="1416.3" cy="619.4" r="3.2" fill="#3f7fc4"/>
<circle cx="1412.8" cy="619" r="3.2" fill="#3f7fc4"/>
<circle cx="1404" cy="619" r="3.2" fill="#3f7fc4"/>
<circle cx="1425.1" cy="618.8" r="3.2" fill="#3f7fc4"/>
<circle cx="1407.5" cy="618.8" r="3.2" fill="#3f7fc4"/>
<circle cx="1421.6" cy="618.7" r="3.2" fill="#3f7fc4"/>
<circle cx="1430.4" cy="618.7" r="3.2" fill="#3f7fc4"/>
<circle cx="1418.1" cy="618.6" r="3.2" fill="#3f7fc4"/>
<circle cx="1411" cy="618.5" r="3.2" fill="#3f7fc4"/>
<circle cx="1402.2" cy="618.5" r="3.2" fill="#3f7fc4"/>
<circle cx="1426.9" cy="618.3" r="3.2" fill="#3f7fc4"/>
<circle cx="1414.5" cy="618.3" r="3.2" fill="#3f7fc4"/>
<circle cx="1405.7" cy="617.9" r="3.2" fill="#3f7fc4"/>
<circle cx="1423.3" cy="617.5" r="3.2" fill="#3f7fc4"/>
<circle cx="1432.1" cy="617.5" r="3.2" fill="#3f7fc4"/>
<circle cx="1409.3" cy="617.5" r="3.2" fill="#3f7fc4"/>
<circle cx="1400.5" cy="617.4" r="3.2" fill="#3f7fc4"/>
<circle cx="1419.8" cy="617.2" r="3.2" fill="#3f7fc4"/>
<circle cx="1428.6" cy="617.1" r="3.2" fill="#3f7fc4"/>
<circle cx="1416.3" cy="617" r="3.2" fill="#3f7fc4"/>
<circle cx="1412.8" cy="616.9" r="3.2" fill="#3f7fc4"/>
<circle cx="1404" cy="616.7" r="3.2" fill="#3f7fc4"/>
<circle cx="1425.1" cy="616.6" r="3.2" fill="#3f7fc4"/>
<circle cx="1407.5" cy="616.6" r="3.2" fill="#3f7fc4"/>
<circle cx="1421.6" cy="616.6" r="3.2" fill="#3f7fc4"/>
<circle cx="1430.4" cy="616.6" r="3.2" fill="#3f7fc4"/>
<circle cx="1418.1" cy="616.6" r="3.2" fill="#3f7fc4"/>
<circle cx="1414.5" cy="616.3" r="3.2" fill="#3f7fc4"/>
<circle cx="1411" cy="616.3" r="3.2" fill="#3f7fc4"/>
<circle cx="1402.2" cy="616.3" r="3.2" fill="#3f7fc4"/>
<circle cx="1426.9" cy="616" r="3.2" fill="#3f7fc4"/>
<circle cx="1405.7" cy="615.6" r="3.2" fill="#3f7fc4"/>
<circle cx="1423.3" cy="615.5" r="3.2" fill="#3f7fc4"/>
<circle cx="1432.1" cy="615.5" r="3.2" fill="#3f7fc4"/>
<circle cx="1409.3" cy="615.4" r="3.2" fill="#3f7fc4"/>
<circle cx="1400.5" cy="615.4" r="3.2" fill="#3f7fc4"/>
<circle cx="1419.8" cy="615.2" r="3.2" fill="#3f7fc4"/>
<circle cx="1428.6" cy="615" r="3.2" fill="#3f7fc4"/>
<circle cx="1416.3" cy="615" r="3.2" fill="#3f7fc4"/>
<circle cx="1412.8" cy="614.3" r="3.2" fill="#3f7fc4"/>
<circle cx="1404" cy="613.4" r="3.2" fill="#3f7fc4"/>
<circle cx="1425.1" cy="613.3" r="3.2" fill="#3f7fc4"/>
<circle cx="1407.5" cy="612.8" r="3.2" fill="#3f7fc4"/>
<circle cx="1421.6" cy="612.3" r="3.2" fill="#3f7fc4"/>
<circle cx="1430.4" cy="611.9" r="3.2" fill="#3f7fc4"/>
<circle cx="1416.3" cy="609.1" r="3.2" fill="#3f7fc4"/>
<circle cx="1404" cy="607.4" r="3.2" fill="#3f7fc4"/>
<line x1="1396.3" y1="619.4" x2="1436.3" y2="619.4" stroke="#2a1d18" stroke-width="3"/>
<circle cx="1475.7" cy="641.3" r="3.2" fill="#e8201e"/>
<circle cx="1479.2" cy="636.4" r="3.2" fill="#e8201e"/>
<circle cx="1472.2" cy="635.3" r="3.2" fill="#e8201e"/>
<circle cx="1486.3" cy="635.1" r="3.2" fill="#e8201e"/>
<circle cx="1466.9" cy="631.8" r="3.2" fill="#e8201e"/>
<circle cx="1475.7" cy="622.1" r="3.2" fill="#e8201e"/>
<circle cx="1482.7" cy="622.1" r="3.2" fill="#e8201e"/>
<circle cx="1468.7" cy="621.9" r="3.2" fill="#e8201e"/>
<circle cx="1489.8" cy="621.1" r="3.2" fill="#e8201e"/>
<circle cx="1461.6" cy="620.5" r="3.2" fill="#e8201e"/>
<circle cx="1479.2" cy="620.3" r="3.2" fill="#e8201e"/>
<circle cx="1472.2" cy="618.5" r="3.2" fill="#e8201e"/>
<circle cx="1486.3" cy="618.5" r="3.2" fill="#e8201e"/>
<circle cx="1466.9" cy="616.6" r="3.2" fill="#e8201e"/>
<circle cx="1491.5" cy="616.3" r="3.2" fill="#e8201e"/>
<circle cx="1459.9" cy="615.5" r="3.2" fill="#e8201e"/>
<circle cx="1477.5" cy="614.9" r="3.2" fill="#e8201e"/>
<circle cx="1482.7" cy="614.8" r="3.2" fill="#e8201e"/>
<circle cx="1470.4" cy="614.7" r="3.2" fill="#e8201e"/>
<circle cx="1488" cy="613.1" r="3.2" fill="#e8201e"/>
<circle cx="1463.4" cy="612.5" r="3.2" fill="#e8201e"/>
<circle cx="1473.9" cy="612" r="3.2" fill="#e8201e"/>
<circle cx="1491.5" cy="611.8" r="3.2" fill="#e8201e"/>
<circle cx="1479.2" cy="611.7" r="3.2" fill="#e8201e"/>
<circle cx="1484.5" cy="611.3" r="3.2" fill="#e8201e"/>
<circle cx="1468.7" cy="611.2" r="3.2" fill="#e8201e"/>
<circle cx="1459.9" cy="610.6" r="3.2" fill="#e8201e"/>
<circle cx="1465.1" cy="610.6" r="3.2" fill="#e8201e"/>
<circle cx="1488" cy="610.5" r="3.2" fill="#e8201e"/>
<circle cx="1475.7" cy="610.4" r="3.2" fill="#e8201e"/>
<circle cx="1472.2" cy="610.1" r="3.2" fill="#e8201e"/>
<circle cx="1481" cy="609.8" r="3.2" fill="#e8201e"/>
<circle cx="1491.5" cy="609.1" r="3.2" fill="#e8201e"/>
<circle cx="1484.5" cy="608.8" r="3.2" fill="#e8201e"/>
<circle cx="1461.6" cy="608.7" r="3.2" fill="#e8201e"/>
<circle cx="1468.7" cy="608.1" r="3.2" fill="#e8201e"/>
<circle cx="1477.5" cy="608" r="3.2" fill="#e8201e"/>
<circle cx="1473.9" cy="607.8" r="3.2" fill="#e8201e"/>
<circle cx="1465.1" cy="607.7" r="3.2" fill="#e8201e"/>
<circle cx="1488" cy="607.7" r="3.2" fill="#e8201e"/>
<circle cx="1481" cy="607.4" r="3.2" fill="#e8201e"/>
<circle cx="1459.9" cy="606.7" r="3.2" fill="#e8201e"/>
<circle cx="1491.5" cy="605.7" r="3.2" fill="#e8201e"/>
<circle cx="1484.5" cy="605.7" r="3.2" fill="#e8201e"/>
<circle cx="1470.4" cy="605.5" r="3.2" fill="#e8201e"/>
<circle cx="1475.7" cy="605.3" r="3.2" fill="#e8201e"/>
<circle cx="1466.9" cy="605" r="3.2" fill="#e8201e"/>
<circle cx="1463.4" cy="604.6" r="3.2" fill="#e8201e"/>
<circle cx="1479.2" cy="604.2" r="3.2" fill="#e8201e"/>
<circle cx="1488" cy="604" r="3.2" fill="#e8201e"/>
<circle cx="1459.9" cy="603.9" r="3.2" fill="#e8201e"/>
<circle cx="1482.7" cy="603.5" r="3.2" fill="#e8201e"/>
<circle cx="1472.2" cy="603.5" r="3.2" fill="#e8201e"/>
<circle cx="1468.7" cy="603.2" r="3.2" fill="#e8201e"/>
<circle cx="1491.5" cy="603.2" r="3.2" fill="#e8201e"/>
<circle cx="1465.1" cy="603" r="3.2" fill="#e8201e"/>
<circle cx="1475.7" cy="602.9" r="3.2" fill="#e8201e"/>
<circle cx="1486.3" cy="601.9" r="3.2" fill="#e8201e"/>
<circle cx="1461.6" cy="601.5" r="3.2" fill="#e8201e"/>
<circle cx="1479.2" cy="601.3" r="3.2" fill="#e8201e"/>
<circle cx="1470.4" cy="601.2" r="3.2" fill="#e8201e"/>
<circle cx="1489.8" cy="600.9" r="3.2" fill="#e8201e"/>
<circle cx="1466.9" cy="600.2" r="3.2" fill="#e8201e"/>
<circle cx="1482.7" cy="599.7" r="3.2" fill="#e8201e"/>
<circle cx="1473.9" cy="599.6" r="3.2" fill="#e8201e"/>
<circle cx="1463.4" cy="599.3" r="3.2" fill="#e8201e"/>
<circle cx="1459.9" cy="598.8" r="3.2" fill="#e8201e"/>
<circle cx="1486.3" cy="598.6" r="3.2" fill="#e8201e"/>
<circle cx="1477.5" cy="598.1" r="3.2" fill="#e8201e"/>
<circle cx="1491.5" cy="597.7" r="3.2" fill="#e8201e"/>
<circle cx="1470.4" cy="597.5" r="3.2" fill="#e8201e"/>
<circle cx="1481" cy="597.4" r="3.2" fill="#e8201e"/>
<circle cx="1466.9" cy="597.4" r="3.2" fill="#e8201e"/>
<circle cx="1461.6" cy="597.3" r="3.2" fill="#e8201e"/>
<circle cx="1473.9" cy="597.2" r="3.2" fill="#e8201e"/>
<circle cx="1484.5" cy="597" r="3.2" fill="#e8201e"/>
<circle cx="1488" cy="596.5" r="3.2" fill="#e8201e"/>
<circle cx="1479.2" cy="596.3" r="3.2" fill="#e8201e"/>
<circle cx="1468.7" cy="596.1" r="3.2" fill="#e8201e"/>
<circle cx="1465.1" cy="596" r="3.2" fill="#e8201e"/>
<circle cx="1459.9" cy="596" r="3.2" fill="#e8201e"/>
<circle cx="1475.7" cy="595.9" r="3.2" fill="#e8201e"/>
<circle cx="1472.2" cy="595.5" r="3.2" fill="#e8201e"/>
<circle cx="1482.7" cy="595.2" r="3.2" fill="#e8201e"/>
<circle cx="1491.5" cy="595" r="3.2" fill="#e8201e"/>
<circle cx="1486.3" cy="595" r="3.2" fill="#e8201e"/>
<circle cx="1466.9" cy="594.6" r="3.2" fill="#e8201e"/>
<circle cx="1463.4" cy="593.9" r="3.2" fill="#e8201e"/>
<circle cx="1477.5" cy="593.3" r="3.2" fill="#e8201e"/>
<circle cx="1473.9" cy="593" r="3.2" fill="#e8201e"/>
<circle cx="1470.4" cy="592.9" r="3.2" fill="#e8201e"/>
<circle cx="1459.9" cy="592.1" r="3.2" fill="#e8201e"/>
<circle cx="1481" cy="592" r="3.2" fill="#e8201e"/>
<circle cx="1489.8" cy="591.8" r="3.2" fill="#e8201e"/>
<circle cx="1484.5" cy="591.3" r="3.2" fill="#e8201e"/>
<circle cx="1466.9" cy="590.9" r="3.2" fill="#e8201e"/>
<circle cx="1475.7" cy="589.3" r="3.2" fill="#e8201e"/>
<circle cx="1463.4" cy="589.2" r="3.2" fill="#e8201e"/>
<circle cx="1470.4" cy="588.8" r="3.2" fill="#e8201e"/>
<circle cx="1488" cy="588" r="3.2" fill="#e8201e"/>
<circle cx="1481" cy="586.5" r="3.2" fill="#e8201e"/>
<circle cx="1459.9" cy="586.1" r="3.2" fill="#e8201e"/>
<circle cx="1466.9" cy="584.8" r="3.2" fill="#e8201e"/>
<circle cx="1473.9" cy="583.9" r="3.2" fill="#e8201e"/>
<circle cx="1491.5" cy="583.5" r="3.2" fill="#e8201e"/>
<circle cx="1486.3" cy="583.3" r="3.2" fill="#e8201e"/>
<circle cx="1479.2" cy="581.8" r="3.2" fill="#e8201e"/>
<circle cx="1461.6" cy="580.8" r="3.2" fill="#e8201e"/>
<circle cx="1475.7" cy="576.5" r="3.2" fill="#e8201e"/>
<circle cx="1475.7" cy="563.5" r="3.2" fill="#e8201e"/>
<line x1="1453.7" y1="605.4" x2="1497.7" y2="605.4" stroke="#2a1d18" stroke-width="3"/>
<line x1="1475.7" y1="603.4" x2="1475.7" y2="607.4" stroke="#2a1d18" stroke-width="1.4"/>
<line x1="1467.7" y1="603.4" x2="1483.7" y2="603.4" stroke="#2a1d18" stroke-width="1.4"/>
<line x1="1467.7" y1="607.4" x2="1483.7" y2="607.4" stroke="#2a1d18" stroke-width="1.4"/>
<circle cx="1535.3" cy="609.4" r="3.2" fill="#3f7fc4"/>
<circle cx="1535.3" cy="601.4" r="3.2" fill="#3f7fc4"/>
<circle cx="1540.6" cy="598" r="3.2" fill="#3f7fc4"/>
<circle cx="1530" cy="597.9" r="3.2" fill="#3f7fc4"/>
<circle cx="1547.6" cy="597.5" r="3.2" fill="#3f7fc4"/>
<circle cx="1523" cy="597.2" r="3.2" fill="#3f7fc4"/>
<circle cx="1535.3" cy="597.2" r="3.2" fill="#3f7fc4"/>
<circle cx="1544.1" cy="596.8" r="3.2" fill="#3f7fc4"/>
<circle cx="1551.1" cy="596.4" r="3.2" fill="#3f7fc4"/>
<circle cx="1526.5" cy="595.7" r="3.2" fill="#3f7fc4"/>
<circle cx="1519.5" cy="594.4" r="3.2" fill="#3f7fc4"/>
<circle cx="1538.8" cy="593.7" r="3.2" fill="#3f7fc4"/>
<circle cx="1531.8" cy="593.6" r="3.2" fill="#3f7fc4"/>
<circle cx="1547.6" cy="593.3" r="3.2" fill="#3f7fc4"/>
<circle cx="1523" cy="592.3" r="3.2" fill="#3f7fc4"/>
<circle cx="1542.3" cy="591" r="3.2" fill="#3f7fc4"/>
<circle cx="1535.3" cy="590.9" r="3.2" fill="#3f7fc4"/>
<circle cx="1528.3" cy="590.3" r="3.2" fill="#3f7fc4"/>
<circle cx="1551.1" cy="590.2" r="3.2" fill="#3f7fc4"/>
<circle cx="1519.5" cy="589.8" r="3.2" fill="#3f7fc4"/>
<circle cx="1545.9" cy="589.6" r="3.2" fill="#3f7fc4"/>
<circle cx="1538.8" cy="589.4" r="3.2" fill="#3f7fc4"/>
<circle cx="1531.8" cy="589.4" r="3.2" fill="#3f7fc4"/>
<circle cx="1524.7" cy="589.2" r="3.2" fill="#3f7fc4"/>
<circle cx="1549.4" cy="588.6" r="3.2" fill="#3f7fc4"/>
<circle cx="1542.3" cy="588.6" r="3.2" fill="#3f7fc4"/>
<circle cx="1535.3" cy="588.4" r="3.2" fill="#3f7fc4"/>
<circle cx="1521.2" cy="588.1" r="3.2" fill="#3f7fc4"/>
<circle cx="1528.3" cy="587.5" r="3.2" fill="#3f7fc4"/>
<circle cx="1547.6" cy="587.5" r="3.2" fill="#3f7fc4"/>
<circle cx="1538.8" cy="586.8" r="3.2" fill="#3f7fc4"/>
<circle cx="1531.8" cy="586.4" r="3.2" fill="#3f7fc4"/>
<circle cx="1551.1" cy="586.4" r="3.2" fill="#3f7fc4"/>
<circle cx="1544.1" cy="586.1" r="3.2" fill="#3f7fc4"/>
<circle cx="1524.7" cy="585.9" r="3.2" fill="#3f7fc4"/>
<circle cx="1519.5" cy="585.6" r="3.2" fill="#3f7fc4"/>
<circle cx="1535.3" cy="585" r="3.2" fill="#3f7fc4"/>
<circle cx="1540.6" cy="585" r="3.2" fill="#3f7fc4"/>
<circle cx="1528.3" cy="584.5" r="3.2" fill="#3f7fc4"/>
<circle cx="1547.6" cy="584.4" r="3.2" fill="#3f7fc4"/>
<circle cx="1523" cy="584" r="3.2" fill="#3f7fc4"/>
<circle cx="1531.8" cy="583.5" r="3.2" fill="#3f7fc4"/>
<circle cx="1551.1" cy="583.2" r="3.2" fill="#3f7fc4"/>
<circle cx="1544.1" cy="583" r="3.2" fill="#3f7fc4"/>
<circle cx="1519.5" cy="582.5" r="3.2" fill="#3f7fc4"/>
<circle cx="1537.1" cy="582.3" r="3.2" fill="#3f7fc4"/>
<circle cx="1526.5" cy="581.8" r="3.2" fill="#3f7fc4"/>
<circle cx="1540.6" cy="581.5" r="3.2" fill="#3f7fc4"/>
<circle cx="1547.6" cy="581.5" r="3.2" fill="#3f7fc4"/>
<circle cx="1533.5" cy="581" r="3.2" fill="#3f7fc4"/>
<circle cx="1530" cy="580.9" r="3.2" fill="#3f7fc4"/>
<circle cx="1523" cy="580.8" r="3.2" fill="#3f7fc4"/>
<circle cx="1551.1" cy="580.8" r="3.2" fill="#3f7fc4"/>
<circle cx="1544.1" cy="580.5" r="3.2" fill="#3f7fc4"/>
<circle cx="1519.5" cy="580.4" r="3.2" fill="#3f7fc4"/>
<circle cx="1538.8" cy="580.2" r="3.2" fill="#3f7fc4"/>
<circle cx="1535.3" cy="580.2" r="3.2" fill="#3f7fc4"/>
<circle cx="1531.8" cy="580" r="3.2" fill="#3f7fc4"/>
<circle cx="1528.3" cy="579.9" r="3.2" fill="#3f7fc4"/>
<circle cx="1524.7" cy="579.9" r="3.2" fill="#3f7fc4"/>
<circle cx="1549.4" cy="579.5" r="3.2" fill="#3f7fc4"/>
<circle cx="1542.3" cy="579.2" r="3.2" fill="#3f7fc4"/>
<circle cx="1545.9" cy="578.8" r="3.2" fill="#3f7fc4"/>
<circle cx="1521.2" cy="578.5" r="3.2" fill="#3f7fc4"/>
<circle cx="1537.1" cy="578.4" r="3.2" fill="#3f7fc4"/>
<circle cx="1533.5" cy="578.2" r="3.2" fill="#3f7fc4"/>
<circle cx="1530" cy="577.7" r="3.2" fill="#3f7fc4"/>
<circle cx="1526.5" cy="577.6" r="3.2" fill="#3f7fc4"/>
<circle cx="1551.1" cy="577.6" r="3.2" fill="#3f7fc4"/>
<circle cx="1540.6" cy="577.4" r="3.2" fill="#3f7fc4"/>
<circle cx="1544.1" cy="576.9" r="3.2" fill="#3f7fc4"/>
<circle cx="1547.6" cy="576.4" r="3.2" fill="#3f7fc4"/>
<circle cx="1523" cy="576" r="3.2" fill="#3f7fc4"/>
<circle cx="1535.3" cy="574.8" r="3.2" fill="#3f7fc4"/>
<circle cx="1519.5" cy="574.2" r="3.2" fill="#3f7fc4"/>
<circle cx="1528.3" cy="573.7" r="3.2" fill="#3f7fc4"/>
<circle cx="1551.1" cy="573.4" r="3.2" fill="#3f7fc4"/>
<circle cx="1540.6" cy="572.4" r="3.2" fill="#3f7fc4"/>
<circle cx="1545.9" cy="571.9" r="3.2" fill="#3f7fc4"/>
<circle cx="1523" cy="571.5" r="3.2" fill="#3f7fc4"/>
<line x1="1515.3" y1="585.5" x2="1555.3" y2="585.5" stroke="#2a1d18" stroke-width="3"/>
<line x1="1535.3" y1="578.5" x2="1535.3" y2="593.5" stroke="#2a1d18" stroke-width="1.4"/>
<line x1="1527.3" y1="578.5" x2="1543.3" y2="578.5" stroke="#2a1d18" stroke-width="1.4"/>
<line x1="1527.3" y1="593.5" x2="1543.3" y2="593.5" stroke="#2a1d18" stroke-width="1.4"/>
<circle cx="1594.7" cy="625.4" r="3.2" fill="#e8201e"/>
<circle cx="1594.7" cy="604.7" r="3.2" fill="#e8201e"/>
<circle cx="1601.7" cy="602.7" r="3.2" fill="#e8201e"/>
<circle cx="1589.4" cy="600.4" r="3.2" fill="#e8201e"/>
<circle cx="1607" cy="599.6" r="3.2" fill="#e8201e"/>
<circle cx="1596.5" cy="598.9" r="3.2" fill="#e8201e"/>
<circle cx="1582.4" cy="598.3" r="3.2" fill="#e8201e"/>
<circle cx="1601.7" cy="598" r="3.2" fill="#e8201e"/>
<circle cx="1610.5" cy="597.9" r="3.2" fill="#e8201e"/>
<circle cx="1592.9" cy="596.7" r="3.2" fill="#e8201e"/>
<circle cx="1587.7" cy="596.4" r="3.2" fill="#e8201e"/>
<circle cx="1578.9" cy="595.9" r="3.2" fill="#e8201e"/>
<circle cx="1605.3" cy="594.4" r="3.2" fill="#e8201e"/>
<circle cx="1598.2" cy="594.3" r="3.2" fill="#e8201e"/>
<circle cx="1584.1" cy="591.7" r="3.2" fill="#e8201e"/>
<circle cx="1610.5" cy="591.2" r="3.2" fill="#e8201e"/>
<circle cx="1591.2" cy="590.8" r="3.2" fill="#e8201e"/>
<circle cx="1578.9" cy="590.5" r="3.2" fill="#e8201e"/>
<circle cx="1601.7" cy="590.4" r="3.2" fill="#e8201e"/>
<circle cx="1596.5" cy="590.2" r="3.2" fill="#e8201e"/>
<circle cx="1607" cy="588.2" r="3.2" fill="#e8201e"/>
<circle cx="1587.7" cy="588" r="3.2" fill="#e8201e"/>
<circle cx="1582.4" cy="587.4" r="3.2" fill="#e8201e"/>
<circle cx="1592.9" cy="587.4" r="3.2" fill="#e8201e"/>
<circle cx="1610.5" cy="587.2" r="3.2" fill="#e8201e"/>
<circle cx="1600" cy="587.2" r="3.2" fill="#e8201e"/>
<circle cx="1603.5" cy="587.1" r="3.2" fill="#e8201e"/>
<circle cx="1578.9" cy="587.1" r="3.2" fill="#e8201e"/>
<circle cx="1596.5" cy="586.9" r="3.2" fill="#e8201e"/>
<circle cx="1589.4" cy="586.7" r="3.2" fill="#e8201e"/>
<circle cx="1585.9" cy="586.5" r="3.2" fill="#e8201e"/>
<circle cx="1608.8" cy="586.2" r="3.2" fill="#e8201e"/>
<circle cx="1601.7" cy="586.1" r="3.2" fill="#e8201e"/>
<circle cx="1605.3" cy="586" r="3.2" fill="#e8201e"/>
<circle cx="1580.6" cy="585.9" r="3.2" fill="#e8201e"/>
<circle cx="1594.7" cy="585.8" r="3.2" fill="#e8201e"/>
<circle cx="1598.2" cy="585" r="3.2" fill="#e8201e"/>
<circle cx="1591.2" cy="584.5" r="3.2" fill="#e8201e"/>
<circle cx="1587.7" cy="584.4" r="3.2" fill="#e8201e"/>
<circle cx="1584.1" cy="584" r="3.2" fill="#e8201e"/>
<circle cx="1610.5" cy="583.7" r="3.2" fill="#e8201e"/>
<circle cx="1603.5" cy="583.2" r="3.2" fill="#e8201e"/>
<circle cx="1607" cy="583.2" r="3.2" fill="#e8201e"/>
<circle cx="1578.9" cy="583.2" r="3.2" fill="#e8201e"/>
<circle cx="1594.7" cy="582.9" r="3.2" fill="#e8201e"/>
<circle cx="1600" cy="582.7" r="3.2" fill="#e8201e"/>
<circle cx="1589.4" cy="582.3" r="3.2" fill="#e8201e"/>
<circle cx="1585.9" cy="582.3" r="3.2" fill="#e8201e"/>
<circle cx="1582.4" cy="582" r="3.2" fill="#e8201e"/>
<circle cx="1605.3" cy="581.9" r="3.2" fill="#e8201e"/>
<circle cx="1608.8" cy="581.9" r="3.2" fill="#e8201e"/>
<circle cx="1596.5" cy="581.5" r="3.2" fill="#e8201e"/>
<circle cx="1592.9" cy="581.4" r="3.2" fill="#e8201e"/>
<circle cx="1601.7" cy="580.3" r="3.2" fill="#e8201e"/>
<circle cx="1578.9" cy="580.1" r="3.2" fill="#e8201e"/>
<circle cx="1587.7" cy="580" r="3.2" fill="#e8201e"/>
<circle cx="1584.1" cy="579.3" r="3.2" fill="#e8201e"/>
<circle cx="1607" cy="579.3" r="3.2" fill="#e8201e"/>
<circle cx="1610.5" cy="579.3" r="3.2" fill="#e8201e"/>
<circle cx="1598.2" cy="579.3" r="3.2" fill="#e8201e"/>
<circle cx="1594.7" cy="579.3" r="3.2" fill="#e8201e"/>
<circle cx="1591.2" cy="578.8" r="3.2" fill="#e8201e"/>
<circle cx="1603.5" cy="578.8" r="3.2" fill="#e8201e"/>
<circle cx="1580.6" cy="578.7" r="3.2" fill="#e8201e"/>
<circle cx="1585.9" cy="577.5" r="3.2" fill="#e8201e"/>
<circle cx="1608.8" cy="577.2" r="3.2" fill="#e8201e"/>
<circle cx="1600" cy="577" r="3.2" fill="#e8201e"/>
<circle cx="1596.5" cy="576.7" r="3.2" fill="#e8201e"/>
<circle cx="1592.9" cy="575.7" r="3.2" fill="#e8201e"/>
<circle cx="1605.3" cy="575.4" r="3.2" fill="#e8201e"/>
<circle cx="1582.4" cy="575.2" r="3.2" fill="#e8201e"/>
<circle cx="1589.4" cy="574.9" r="3.2" fill="#e8201e"/>
<circle cx="1578.9" cy="574.9" r="3.2" fill="#e8201e"/>
<circle cx="1610.5" cy="574.5" r="3.2" fill="#e8201e"/>
<circle cx="1601.7" cy="574.4" r="3.2" fill="#e8201e"/>
<circle cx="1585.9" cy="574.2" r="3.2" fill="#e8201e"/>
<circle cx="1598.2" cy="573.9" r="3.2" fill="#e8201e"/>
<circle cx="1594.7" cy="573.7" r="3.2" fill="#e8201e"/>
<circle cx="1607" cy="573.3" r="3.2" fill="#e8201e"/>
<circle cx="1591.2" cy="572.8" r="3.2" fill="#e8201e"/>
<circle cx="1580.6" cy="572.6" r="3.2" fill="#e8201e"/>
<circle cx="1603.5" cy="572.4" r="3.2" fill="#e8201e"/>
<circle cx="1587.7" cy="572.3" r="3.2" fill="#e8201e"/>
<circle cx="1584.1" cy="571.4" r="3.2" fill="#e8201e"/>
<circle cx="1610.5" cy="571.3" r="3.2" fill="#e8201e"/>
<circle cx="1600" cy="569.7" r="3.2" fill="#e8201e"/>
<circle cx="1594.7" cy="569.6" r="3.2" fill="#e8201e"/>
<circle cx="1607" cy="569.4" r="3.2" fill="#e8201e"/>
<circle cx="1578.9" cy="569.2" r="3.2" fill="#e8201e"/>
<circle cx="1589.4" cy="569" r="3.2" fill="#e8201e"/>
<circle cx="1603.5" cy="568.8" r="3.2" fill="#e8201e"/>
<circle cx="1585.9" cy="568.7" r="3.2" fill="#e8201e"/>
<circle cx="1610.5" cy="566.5" r="3.2" fill="#e8201e"/>
<circle cx="1582.4" cy="565.7" r="3.2" fill="#e8201e"/>
<circle cx="1598.2" cy="564.3" r="3.2" fill="#e8201e"/>
<circle cx="1591.2" cy="562.9" r="3.2" fill="#e8201e"/>
<circle cx="1605.3" cy="562.7" r="3.2" fill="#e8201e"/>
<circle cx="1578.9" cy="560.5" r="3.2" fill="#e8201e"/>
<circle cx="1585.9" cy="559.9" r="3.2" fill="#e8201e"/>
<circle cx="1594.7" cy="557.6" r="3.2" fill="#e8201e"/>
<line x1="1572.7" y1="581.5" x2="1616.7" y2="581.5" stroke="#2a1d18" stroke-width="3"/>
<line x1="1594.7" y1="569.5" x2="1594.7" y2="593.5" stroke="#2a1d18" stroke-width="1.4"/>
<line x1="1586.7" y1="569.5" x2="1602.7" y2="569.5" stroke="#2a1d18" stroke-width="1.4"/>
<line x1="1586.7" y1="593.5" x2="1602.7" y2="593.5" stroke="#2a1d18" stroke-width="1.4"/>
<circle cx="1654.7" cy="619.4" r="3.2" fill="#3f7fc4"/>
<circle cx="1660" cy="616.4" r="3.2" fill="#3f7fc4"/>
<circle cx="1649.4" cy="614.7" r="3.2" fill="#3f7fc4"/>
<circle cx="1667" cy="614.1" r="3.2" fill="#3f7fc4"/>
<circle cx="1654.7" cy="610.9" r="3.2" fill="#3f7fc4"/>
<circle cx="1661.7" cy="609.7" r="3.2" fill="#3f7fc4"/>
<circle cx="1649.4" cy="608" r="3.2" fill="#3f7fc4"/>
<circle cx="1667" cy="606" r="3.2" fill="#3f7fc4"/>
<circle cx="1654.7" cy="604.9" r="3.2" fill="#3f7fc4"/>
<circle cx="1644.1" cy="604.5" r="3.2" fill="#3f7fc4"/>
<circle cx="1661.7" cy="604.2" r="3.2" fill="#3f7fc4"/>
<circle cx="1638.9" cy="604.2" r="3.2" fill="#3f7fc4"/>
<circle cx="1670.5" cy="604.1" r="3.2" fill="#3f7fc4"/>
<circle cx="1649.4" cy="603.9" r="3.2" fill="#3f7fc4"/>
<circle cx="1658.2" cy="603" r="3.2" fill="#3f7fc4"/>
<circle cx="1665.3" cy="602.5" r="3.2" fill="#3f7fc4"/>
<circle cx="1652.9" cy="602.3" r="3.2" fill="#3f7fc4"/>
<circle cx="1645.9" cy="602.1" r="3.2" fill="#3f7fc4"/>
<circle cx="1642.4" cy="602" r="3.2" fill="#3f7fc4"/>
<circle cx="1668.8" cy="601.4" r="3.2" fill="#3f7fc4"/>
<circle cx="1661.7" cy="601.3" r="3.2" fill="#3f7fc4"/>
<circle cx="1638.9" cy="600.9" r="3.2" fill="#3f7fc4"/>
<circle cx="1649.4" cy="600.4" r="3.2" fill="#3f7fc4"/>
<circle cx="1656.5" cy="600.3" r="3.2" fill="#3f7fc4"/>
<circle cx="1644.1" cy="599.9" r="3.2" fill="#3f7fc4"/>
<circle cx="1665.3" cy="599.8" r="3.2" fill="#3f7fc4"/>
<circle cx="1652.9" cy="599.4" r="3.2" fill="#3f7fc4"/>
<circle cx="1670.5" cy="599.1" r="3.2" fill="#3f7fc4"/>
<circle cx="1660" cy="598.8" r="3.2" fill="#3f7fc4"/>
<circle cx="1640.6" cy="598.6" r="3.2" fill="#3f7fc4"/>
<circle cx="1647.7" cy="597.6" r="3.2" fill="#3f7fc4"/>
<circle cx="1663.5" cy="597.5" r="3.2" fill="#3f7fc4"/>
<circle cx="1667" cy="597.4" r="3.2" fill="#3f7fc4"/>
<circle cx="1656.5" cy="597.2" r="3.2" fill="#3f7fc4"/>
<circle cx="1651.2" cy="596.7" r="3.2" fill="#3f7fc4"/>
<circle cx="1644.1" cy="596.7" r="3.2" fill="#3f7fc4"/>
<circle cx="1638.9" cy="596.4" r="3.2" fill="#3f7fc4"/>
<circle cx="1670.5" cy="596.4" r="3.2" fill="#3f7fc4"/>
<circle cx="1660" cy="595.8" r="3.2" fill="#3f7fc4"/>
<circle cx="1665.3" cy="595.7" r="3.2" fill="#3f7fc4"/>
<circle cx="1654.7" cy="594.1" r="3.2" fill="#3f7fc4"/>
<circle cx="1647.7" cy="594" r="3.2" fill="#3f7fc4"/>
<circle cx="1642.4" cy="594" r="3.2" fill="#3f7fc4"/>
<circle cx="1668.8" cy="593.9" r="3.2" fill="#3f7fc4"/>
<circle cx="1651.2" cy="593.6" r="3.2" fill="#3f7fc4"/>
<circle cx="1638.9" cy="593.5" r="3.2" fill="#3f7fc4"/>
<circle cx="1658.2" cy="593.5" r="3.2" fill="#3f7fc4"/>
<circle cx="1661.7" cy="593" r="3.2" fill="#3f7fc4"/>
<circle cx="1665.3" cy="592.8" r="3.2" fill="#3f7fc4"/>
<circle cx="1645.9" cy="592.8" r="3.2" fill="#3f7fc4"/>
<circle cx="1670.5" cy="592.7" r="3.2" fill="#3f7fc4"/>
<circle cx="1652.9" cy="592.6" r="3.2" fill="#3f7fc4"/>
<circle cx="1649.4" cy="592.6" r="3.2" fill="#3f7fc4"/>
<circle cx="1640.6" cy="592.2" r="3.2" fill="#3f7fc4"/>
<circle cx="1656.5" cy="592" r="3.2" fill="#3f7fc4"/>
<circle cx="1660" cy="591.9" r="3.2" fill="#3f7fc4"/>
<circle cx="1663.5" cy="591.8" r="3.2" fill="#3f7fc4"/>
<circle cx="1667" cy="591.4" r="3.2" fill="#3f7fc4"/>
<circle cx="1644.1" cy="591.3" r="3.2" fill="#3f7fc4"/>
<circle cx="1651.2" cy="591.2" r="3.2" fill="#3f7fc4"/>
<circle cx="1647.7" cy="591.2" r="3.2" fill="#3f7fc4"/>
<circle cx="1638.9" cy="590.9" r="3.2" fill="#3f7fc4"/>
<circle cx="1654.7" cy="590.9" r="3.2" fill="#3f7fc4"/>
<circle cx="1670.5" cy="590.2" r="3.2" fill="#3f7fc4"/>
<circle cx="1658.2" cy="589.6" r="3.2" fill="#3f7fc4"/>
<circle cx="1661.7" cy="589.3" r="3.2" fill="#3f7fc4"/>
<circle cx="1665.3" cy="589.1" r="3.2" fill="#3f7fc4"/>
<circle cx="1642.4" cy="587.5" r="3.2" fill="#3f7fc4"/>
<circle cx="1649.4" cy="587.5" r="3.2" fill="#3f7fc4"/>
<circle cx="1652.9" cy="587.4" r="3.2" fill="#3f7fc4"/>
<circle cx="1668.8" cy="585.6" r="3.2" fill="#3f7fc4"/>
<circle cx="1660" cy="585.5" r="3.2" fill="#3f7fc4"/>
<circle cx="1638.9" cy="585.3" r="3.2" fill="#3f7fc4"/>
<circle cx="1645.9" cy="584" r="3.2" fill="#3f7fc4"/>
<circle cx="1654.7" cy="583.8" r="3.2" fill="#3f7fc4"/>
<circle cx="1665.3" cy="583.5" r="3.2" fill="#3f7fc4"/>
<circle cx="1670.5" cy="581.8" r="3.2" fill="#3f7fc4"/>
<circle cx="1649.4" cy="581.4" r="3.2" fill="#3f7fc4"/>
<circle cx="1642.4" cy="581.4" r="3.2" fill="#3f7fc4"/>
<circle cx="1658.2" cy="581.3" r="3.2" fill="#3f7fc4"/>
<circle cx="1638.9" cy="581" r="3.2" fill="#3f7fc4"/>
<circle cx="1663.5" cy="580" r="3.2" fill="#3f7fc4"/>
<circle cx="1652.9" cy="579.5" r="3.2" fill="#3f7fc4"/>
<circle cx="1645.9" cy="577.1" r="3.2" fill="#3f7fc4"/>
<circle cx="1656.5" cy="573.9" r="3.2" fill="#3f7fc4"/>
<circle cx="1651.2" cy="571" r="3.2" fill="#3f7fc4"/>
<circle cx="1661.7" cy="570.6" r="3.2" fill="#3f7fc4"/>
<circle cx="1644.1" cy="570" r="3.2" fill="#3f7fc4"/>
<circle cx="1654.7" cy="565.1" r="3.2" fill="#3f7fc4"/>
<circle cx="1661.7" cy="563.5" r="3.2" fill="#3f7fc4"/>
<line x1="1632.7" y1="593.5" x2="1676.7" y2="593.5" stroke="#2a1d18" stroke-width="3"/>
<line x1="1654.7" y1="583.5" x2="1654.7" y2="605.4" stroke="#2a1d18" stroke-width="1.4"/>
<line x1="1646.7" y1="583.5" x2="1662.7" y2="583.5" stroke="#2a1d18" stroke-width="1.4"/>
<line x1="1646.7" y1="605.4" x2="1662.7" y2="605.4" stroke="#2a1d18" stroke-width="1.4"/>
<circle cx="1714.7" cy="657.3" r="3.2" fill="#e8201e"/>
<circle cx="1721.7" cy="656.8" r="3.2" fill="#e8201e"/>
<circle cx="1707.7" cy="655.5" r="3.2" fill="#e8201e"/>
<circle cx="1727" cy="652.6" r="3.2" fill="#e8201e"/>
<circle cx="1714.7" cy="650.1" r="3.2" fill="#e8201e"/>
<circle cx="1721.7" cy="649.3" r="3.2" fill="#e8201e"/>
<circle cx="1707.7" cy="648.3" r="3.2" fill="#e8201e"/>
<circle cx="1700.6" cy="648.1" r="3.2" fill="#e8201e"/>
<circle cx="1727" cy="645.7" r="3.2" fill="#e8201e"/>
<circle cx="1714.7" cy="642.8" r="3.2" fill="#e8201e"/>
<circle cx="1721.7" cy="641.7" r="3.2" fill="#e8201e"/>
<circle cx="1707.7" cy="640.8" r="3.2" fill="#e8201e"/>
<circle cx="1728.8" cy="639.4" r="3.2" fill="#e8201e"/>
<circle cx="1700.6" cy="638.9" r="3.2" fill="#e8201e"/>
<circle cx="1716.5" cy="637.8" r="3.2" fill="#e8201e"/>
<circle cx="1711.2" cy="637.3" r="3.2" fill="#e8201e"/>
<circle cx="1723.5" cy="636.9" r="3.2" fill="#e8201e"/>
<circle cx="1705.9" cy="636.8" r="3.2" fill="#e8201e"/>
<circle cx="1720" cy="636.3" r="3.2" fill="#e8201e"/>
<circle cx="1730.5" cy="635.7" r="3.2" fill="#e8201e"/>
<circle cx="1698.9" cy="635.5" r="3.2" fill="#e8201e"/>
<circle cx="1727" cy="635.4" r="3.2" fill="#e8201e"/>
<circle cx="1714.7" cy="633.9" r="3.2" fill="#e8201e"/>
<circle cx="1709.4" cy="633.6" r="3.2" fill="#e8201e"/>
<circle cx="1704.1" cy="630.8" r="3.2" fill="#e8201e"/>
<circle cx="1723.5" cy="630.7" r="3.2" fill="#e8201e"/>
<circle cx="1728.8" cy="630.5" r="3.2" fill="#e8201e"/>
<circle cx="1698.9" cy="630.5" r="3.2" fill="#e8201e"/>
<circle cx="1718.2" cy="630.3" r="3.2" fill="#e8201e"/>
<circle cx="1712.9" cy="629.9" r="3.2" fill="#e8201e"/>
<circle cx="1707.7" cy="629.7" r="3.2" fill="#e8201e"/>
<circle cx="1702.4" cy="629.1" r="3.2" fill="#e8201e"/>
<circle cx="1721.7" cy="629" r="3.2" fill="#e8201e"/>
<circle cx="1725.3" cy="628.8" r="3.2" fill="#e8201e"/>
<circle cx="1730.5" cy="628.2" r="3.2" fill="#e8201e"/>
<circle cx="1716.5" cy="626.4" r="3.2" fill="#e8201e"/>
<circle cx="1698.9" cy="626.1" r="3.2" fill="#e8201e"/>
<circle cx="1711.2" cy="625.2" r="3.2" fill="#e8201e"/>
<circle cx="1705.9" cy="624.7" r="3.2" fill="#e8201e"/>
<circle cx="1723.5" cy="624.6" r="3.2" fill="#e8201e"/>
<circle cx="1728.8" cy="623.9" r="3.2" fill="#e8201e"/>
<circle cx="1702.4" cy="623.4" r="3.2" fill="#e8201e"/>
<circle cx="1714.7" cy="622.4" r="3.2" fill="#e8201e"/>
<circle cx="1720" cy="621.1" r="3.2" fill="#e8201e"/>
<circle cx="1709.4" cy="620.9" r="3.2" fill="#e8201e"/>
<circle cx="1698.9" cy="620.9" r="3.2" fill="#e8201e"/>
<circle cx="1725.3" cy="620.3" r="3.2" fill="#e8201e"/>
<circle cx="1730.5" cy="620.1" r="3.2" fill="#e8201e"/>
<circle cx="1704.1" cy="619.8" r="3.2" fill="#e8201e"/>
<circle cx="1716.5" cy="619.5" r="3.2" fill="#e8201e"/>
<circle cx="1712.9" cy="618.4" r="3.2" fill="#e8201e"/>
<circle cx="1721.7" cy="618.3" r="3.2" fill="#e8201e"/>
<circle cx="1707.7" cy="618.3" r="3.2" fill="#e8201e"/>
<circle cx="1700.6" cy="618.2" r="3.2" fill="#e8201e"/>
<circle cx="1727" cy="618.1" r="3.2" fill="#e8201e"/>
<circle cx="1718.2" cy="618.1" r="3.2" fill="#e8201e"/>
<circle cx="1730.5" cy="617.9" r="3.2" fill="#e8201e"/>
<circle cx="1704.1" cy="617.9" r="3.2" fill="#e8201e"/>
<circle cx="1714.7" cy="617.5" r="3.2" fill="#e8201e"/>
<circle cx="1711.2" cy="617.2" r="3.2" fill="#e8201e"/>
<circle cx="1723.5" cy="617" r="3.2" fill="#e8201e"/>
<circle cx="1698.9" cy="616.8" r="3.2" fill="#e8201e"/>
<circle cx="1720" cy="616.8" r="3.2" fill="#e8201e"/>
<circle cx="1728.8" cy="616.3" r="3.2" fill="#e8201e"/>
<circle cx="1705.9" cy="616" r="3.2" fill="#e8201e"/>
<circle cx="1702.4" cy="615.8" r="3.2" fill="#e8201e"/>
<circle cx="1716.5" cy="615.2" r="3.2" fill="#e8201e"/>
<circle cx="1712.9" cy="614.1" r="3.2" fill="#e8201e"/>
<circle cx="1725.3" cy="613.9" r="3.2" fill="#e8201e"/>
<circle cx="1709.4" cy="613.6" r="3.2" fill="#e8201e"/>
<circle cx="1721.7" cy="613.5" r="3.2" fill="#e8201e"/>
<circle cx="1698.9" cy="613.5" r="3.2" fill="#e8201e"/>
<circle cx="1730.5" cy="612.9" r="3.2" fill="#e8201e"/>
<circle cx="1704.1" cy="612.6" r="3.2" fill="#e8201e"/>
<circle cx="1718.2" cy="612.1" r="3.2" fill="#e8201e"/>
<circle cx="1714.7" cy="611.3" r="3.2" fill="#e8201e"/>
<circle cx="1727" cy="611.3" r="3.2" fill="#e8201e"/>
<circle cx="1711.2" cy="610.9" r="3.2" fill="#e8201e"/>
<circle cx="1707.7" cy="610.7" r="3.2" fill="#e8201e"/>
<circle cx="1723.5" cy="610.4" r="3.2" fill="#e8201e"/>
<circle cx="1700.6" cy="609.4" r="3.2" fill="#e8201e"/>
<circle cx="1730.5" cy="609.1" r="3.2" fill="#e8201e"/>
<circle cx="1720" cy="608.9" r="3.2" fill="#e8201e"/>
<circle cx="1704.1" cy="608.5" r="3.2" fill="#e8201e"/>
<circle cx="1716.5" cy="607.8" r="3.2" fill="#e8201e"/>
<circle cx="1727" cy="607.6" r="3.2" fill="#e8201e"/>
<circle cx="1709.4" cy="607.4" r="3.2" fill="#e8201e"/>
<circle cx="1712.9" cy="607.3" r="3.2" fill="#e8201e"/>
<circle cx="1723.5" cy="607" r="3.2" fill="#e8201e"/>
<circle cx="1698.9" cy="605" r="3.2" fill="#e8201e"/>
<circle cx="1730.5" cy="604.8" r="3.2" fill="#e8201e"/>
<circle cx="1705.9" cy="604.4" r="3.2" fill="#e8201e"/>
<circle cx="1720" cy="603.4" r="3.2" fill="#e8201e"/>
<circle cx="1714.7" cy="603.3" r="3.2" fill="#e8201e"/>
<circle cx="1725.3" cy="603.1" r="3.2" fill="#e8201e"/>
<circle cx="1709.4" cy="602.1" r="3.2" fill="#e8201e"/>
<circle cx="1702.4" cy="600.6" r="3.2" fill="#e8201e"/>
<circle cx="1728.8" cy="600.2" r="3.2" fill="#e8201e"/>
<circle cx="1718.2" cy="600.2" r="3.2" fill="#e8201e"/>
<circle cx="1712.9" cy="599.5" r="3.2" fill="#e8201e"/>
<circle cx="1723.5" cy="598.8" r="3.2" fill="#e8201e"/>
<circle cx="1705.9" cy="598.8" r="3.2" fill="#e8201e"/>
<circle cx="1714.7" cy="592.9" r="3.2" fill="#e8201e"/>
<circle cx="1721.7" cy="592.5" r="3.2" fill="#e8201e"/>
<circle cx="1707.7" cy="592.5" r="3.2" fill="#e8201e"/>
<circle cx="1718.2" cy="587.7" r="3.2" fill="#e8201e"/>
<circle cx="1711.2" cy="586.1" r="3.2" fill="#e8201e"/>
<circle cx="1723.5" cy="584" r="3.2" fill="#e8201e"/>
<circle cx="1714.7" cy="580.3" r="3.2" fill="#e8201e"/>
<circle cx="1707.7" cy="579.5" r="3.2" fill="#e8201e"/>
<line x1="1692.7" y1="619.4" x2="1736.7" y2="619.4" stroke="#2a1d18" stroke-width="3"/>
<line x1="1714.7" y1="599.4" x2="1714.7" y2="637.3" stroke="#2a1d18" stroke-width="1.4"/>
<line x1="1706.7" y1="599.4" x2="1722.7" y2="599.4" stroke="#2a1d18" stroke-width="1.4"/>
<line x1="1706.7" y1="637.3" x2="1722.7" y2="637.3" stroke="#2a1d18" stroke-width="1.4"/>
<line x1="1386.3" y1="510.7" x2="1386.3" y2="752" stroke="#000" stroke-width="2"/>
<line x1="1385.3" y1="751" x2="1745.3" y2="751" stroke="#000" stroke-width="2"/>
<line x1="1378.3" y1="511.7" x2="1386.3" y2="511.7" stroke="#000" stroke-width="2"/>
<text transform="translate(1371 525.2) scale(1 1.08)" font-size="33" text-anchor="end">12</text>
<line x1="1378.3" y1="591.7" x2="1386.3" y2="591.7" stroke="#000" stroke-width="2"/>
<text transform="translate(1371 605.2) scale(1 1.08)" font-size="33" text-anchor="end">8</text>
<line x1="1378.3" y1="671.7" x2="1386.3" y2="671.7" stroke="#000" stroke-width="2"/>
<text transform="translate(1371 685.2) scale(1 1.08)" font-size="33" text-anchor="end">4</text>
<line x1="1378.3" y1="751" x2="1386.3" y2="751" stroke="#000" stroke-width="2"/>
<text transform="translate(1371 764.5) scale(1 1.08)" font-size="33" text-anchor="end">0</text>
<line x1="1416.3" y1="751" x2="1416.3" y2="759" stroke="#000" stroke-width="2"/>
<text x="1419.7" y="788" font-size="33.5" text-anchor="middle">NT</text>
<line x1="1475.7" y1="751" x2="1475.7" y2="759" stroke="#000" stroke-width="2"/>
<text x="1474.3" y="788" font-size="33.5" text-anchor="middle">T</text>
<line x1="1535.3" y1="751" x2="1535.3" y2="759" stroke="#000" stroke-width="2"/>
<text x="1539.3" y="788" font-size="33.5" text-anchor="middle">NT</text>
<line x1="1594.7" y1="751" x2="1594.7" y2="759" stroke="#000" stroke-width="2"/>
<text x="1594.8" y="788" font-size="33.5" text-anchor="middle">T</text>
<line x1="1654.7" y1="751" x2="1654.7" y2="759" stroke="#000" stroke-width="2"/>
<text x="1660.2" y="788" font-size="33.5" text-anchor="middle">NT</text>
<line x1="1714.7" y1="751" x2="1714.7" y2="759" stroke="#000" stroke-width="2"/>
<text x="1713.8" y="788" font-size="33.5" text-anchor="middle">T</text>
<line x1="1414.7" y1="549.3" x2="1478" y2="549.3" stroke="#666" stroke-width="2.5"/>
<text x="1446.3" y="556.3" font-size="35" text-anchor="middle" font-weight="bold">****</text>
<line x1="1651.3" y1="546.7" x2="1715.3" y2="546.7" stroke="#666" stroke-width="2.5"/>
<text x="1683.3" y="553.7" font-size="35" text-anchor="middle" font-weight="bold">****</text>
<text x="324.2" y="926.7" font-size="33" text-anchor="middle" font-style="italic">Tgfb1</text>
<line x1="275.7" y1="939" x2="374" y2="939" stroke="#000" stroke-width="2.5"/>
<text x="440.8" y="926.7" font-size="33" text-anchor="middle" font-style="italic">Tgfb2</text>
<line x1="395.7" y1="939" x2="496.7" y2="939" stroke="#000" stroke-width="2.5"/>
<text x="566.8" y="926.7" font-size="33" text-anchor="middle" font-style="italic">Tgfb3</text>
<line x1="515" y1="939" x2="611.7" y2="939" stroke="#000" stroke-width="2.5"/>
<text transform="translate(123.9 1075) rotate(-90)" font-size="33" text-anchor="middle">mRNA</text>
<text transform="translate(163 1072) rotate(-90)" font-size="33" text-anchor="middle">relative expression</text>
<rect x="272.8" y="1188.3" width="41" height="16.7" fill="#9fc3e7"/>
<circle cx="293.3" cy="1196" r="4.4" fill="#3f7fc4"/>
<circle cx="303" cy="1194" r="4.4" fill="#3f7fc4"/>
<circle cx="286" cy="1192" r="4.4" fill="#3f7fc4"/>
<circle cx="278.8" cy="1190" r="4.4" fill="#3f7fc4"/>
<circle cx="295.7" cy="1188" r="4.4" fill="#3f7fc4"/>
<circle cx="305.4" cy="1186" r="4.4" fill="#3f7fc4"/>
<circle cx="288.5" cy="1185" r="4.4" fill="#3f7fc4"/>
<circle cx="281.2" cy="1183" r="4.4" fill="#3f7fc4"/>
<circle cx="298.1" cy="1180" r="4.4" fill="#3f7fc4"/>
<rect x="272.8" y="1188.3" width="41" height="16.7" fill="none" stroke="#000" stroke-width="2"/>
<line x1="293.3" y1="1188.3" x2="293.3" y2="1185.7" stroke="#000" stroke-width="2"/>
<line x1="282.8" y1="1185.7" x2="303.8" y2="1185.7" stroke="#000" stroke-width="2"/>
<rect x="333.8" y="1161.7" width="41" height="43.3" fill="#ecb0aa"/>
<circle cx="354.3" cy="1184" r="4.4" fill="#e8201e"/>
<circle cx="361.6" cy="1180" r="4.4" fill="#e8201e"/>
<circle cx="354.3" cy="1170" r="4.4" fill="#e8201e"/>
<circle cx="359.1" cy="1163" r="4.4" fill="#e8201e"/>
<circle cx="349.5" cy="1160" r="4.4" fill="#e8201e"/>
<circle cx="366.4" cy="1158" r="4.4" fill="#e8201e"/>
<circle cx="356.7" cy="1155" r="4.4" fill="#e8201e"/>
<circle cx="349.5" cy="1150" r="4.4" fill="#e8201e"/>
<circle cx="359.1" cy="1146.7" r="4.4" fill="#e8201e"/>
<rect x="333.8" y="1161.7" width="41" height="43.3" fill="none" stroke="#000" stroke-width="2"/>
<line x1="354.3" y1="1161.7" x2="354.3" y2="1157.7" stroke="#000" stroke-width="2"/>
<line x1="343.8" y1="1157.7" x2="364.8" y2="1157.7" stroke="#000" stroke-width="2"/>
<circle cx="399" cy="1203.3" r="4.4" fill="#3f7fc4"/>
<circle cx="403.6" cy="1203.3" r="4.4" fill="#3f7fc4"/>
<circle cx="408.1" cy="1203.3" r="4.4" fill="#3f7fc4"/>
<circle cx="412.7" cy="1203.3" r="4.4" fill="#3f7fc4"/>
<circle cx="417.3" cy="1203.3" r="4.4" fill="#3f7fc4"/>
<circle cx="421.9" cy="1203.3" r="4.4" fill="#3f7fc4"/>
<circle cx="426.4" cy="1203.3" r="4.4" fill="#3f7fc4"/>
<circle cx="431" cy="1203.3" r="4.4" fill="#3f7fc4"/>
<rect x="455.2" y="1171" width="41" height="34" fill="#ecb0aa"/>
<circle cx="475.7" cy="1198" r="4.4" fill="#e8201e"/>
<circle cx="475.7" cy="1188" r="4.4" fill="#e8201e"/>
<circle cx="478.1" cy="1180" r="4.4" fill="#e8201e"/>
<circle cx="475.7" cy="1172" r="4.4" fill="#e8201e"/>
<circle cx="480.5" cy="1165" r="4.4" fill="#e8201e"/>
<circle cx="475.7" cy="1158" r="4.4" fill="#e8201e"/>
<circle cx="485.4" cy="1157" r="4.4" fill="#e8201e"/>
<circle cx="466" cy="1155" r="4.4" fill="#e8201e"/>
<rect x="455.2" y="1171" width="41" height="34" fill="none" stroke="#000" stroke-width="2"/>
<line x1="475.7" y1="1171" x2="475.7" y2="1166.7" stroke="#000" stroke-width="2"/>
<line x1="465.2" y1="1166.7" x2="486.2" y2="1166.7" stroke="#000" stroke-width="2"/>
<rect x="515.5" y="1184.3" width="41" height="20.7" fill="#9fc3e7"/>
<circle cx="536" cy="1197" r="4.4" fill="#3f7fc4"/>
<circle cx="545.7" cy="1195" r="4.4" fill="#3f7fc4"/>
<circle cx="531.2" cy="1190" r="4.4" fill="#3f7fc4"/>
<circle cx="538.4" cy="1186" r="4.4" fill="#3f7fc4"/>
<circle cx="526.3" cy="1183" r="4.4" fill="#3f7fc4"/>
<circle cx="545.7" cy="1180" r="4.4" fill="#3f7fc4"/>
<circle cx="536" cy="1178" r="4.4" fill="#3f7fc4"/>
<circle cx="521.5" cy="1176" r="4.4" fill="#3f7fc4"/>
<circle cx="528.7" cy="1175" r="4.4" fill="#3f7fc4"/>
<rect x="515.5" y="1184.3" width="41" height="20.7" fill="none" stroke="#000" stroke-width="2"/>
<line x1="536" y1="1184.3" x2="536" y2="1181.7" stroke="#000" stroke-width="2"/>
<line x1="525.5" y1="1181.7" x2="546.5" y2="1181.7" stroke="#000" stroke-width="2"/>
<rect x="576.2" y="1050.7" width="41" height="154.3" fill="#ecb0aa"/>
<circle cx="596.7" cy="1153.3" r="4.4" fill="#e8201e"/>
<circle cx="596.7" cy="1130.7" r="4.4" fill="#e8201e"/>
<circle cx="596.7" cy="1058" r="4.4" fill="#e8201e"/>
<circle cx="596.7" cy="1043" r="4.4" fill="#e8201e"/>
<circle cx="596.7" cy="1030" r="4.4" fill="#e8201e"/>
<circle cx="606.4" cy="1030" r="4.4" fill="#e8201e"/>
<circle cx="596.7" cy="1005" r="4.4" fill="#e8201e"/>
<circle cx="596.7" cy="973.3" r="4.4" fill="#e8201e"/>
<rect x="576.2" y="1050.7" width="41" height="154.3" fill="none" stroke="#000" stroke-width="2"/>
<line x1="596.7" y1="1050.7" x2="596.7" y2="1032.3" stroke="#000" stroke-width="2"/>
<line x1="586.2" y1="1032.3" x2="607.2" y2="1032.3" stroke="#000" stroke-width="2"/>
<line x1="263.3" y1="961.7" x2="263.3" y2="1206" stroke="#000" stroke-width="2"/>
<line x1="262.3" y1="1205" x2="629.3" y2="1205" stroke="#000" stroke-width="2"/>
<line x1="255.3" y1="962.7" x2="263.3" y2="962.7" stroke="#000" stroke-width="2"/>
<text transform="translate(247 973.6) scale(1 1.02)" font-size="33" text-anchor="end">0.3</text>
<line x1="255.3" y1="1043.3" x2="263.3" y2="1043.3" stroke="#000" stroke-width="2"/>
<text transform="translate(247 1054.2) scale(1 1.02)" font-size="33" text-anchor="end">0.2</text>
<line x1="255.3" y1="1124.3" x2="263.3" y2="1124.3" stroke="#000" stroke-width="2"/>
<text transform="translate(247 1135.2) scale(1 1.02)" font-size="33" text-anchor="end">0.1</text>
<line x1="255.3" y1="1205" x2="263.3" y2="1205" stroke="#000" stroke-width="2"/>
<text transform="translate(247 1215.9) scale(1 1.02)" font-size="33" text-anchor="end">0</text>
<line x1="293.3" y1="1205" x2="293.3" y2="1213" stroke="#000" stroke-width="2"/>
<text x="294.2" y="1246" font-size="33.5" text-anchor="middle">NT</text>
<line x1="354.3" y1="1205" x2="354.3" y2="1213" stroke="#000" stroke-width="2"/>
<text x="350" y="1246" font-size="33.5" text-anchor="middle">T</text>
<line x1="415" y1="1205" x2="415" y2="1213" stroke="#000" stroke-width="2"/>
<text x="415.2" y="1246" font-size="33.5" text-anchor="middle">NT</text>
<line x1="475.7" y1="1205" x2="475.7" y2="1213" stroke="#000" stroke-width="2"/>
<text x="472.5" y="1246" font-size="33.5" text-anchor="middle">T</text>
<line x1="536" y1="1205" x2="536" y2="1213" stroke="#000" stroke-width="2"/>
<text x="537.5" y="1246" font-size="33.5" text-anchor="middle">NT</text>
<line x1="596.7" y1="1205" x2="596.7" y2="1213" stroke="#000" stroke-width="2"/>
<text x="594.2" y="1246" font-size="33.5" text-anchor="middle">T</text>
<line x1="295" y1="1122.7" x2="357.7" y2="1122.7" stroke="#000" stroke-width="2.5"/>
<text x="326.4" y="1129.7" font-size="35" text-anchor="middle" font-weight="bold">**</text>
<line x1="415" y1="1141.7" x2="477.7" y2="1141.7" stroke="#000" stroke-width="2.5"/>
<text x="446.4" y="1148.7" font-size="35" text-anchor="middle" font-weight="bold">**</text>
<line x1="535" y1="965.7" x2="597.7" y2="965.7" stroke="#000" stroke-width="2.5"/>
<text x="566.4" y="972.7" font-size="35" text-anchor="middle" font-weight="bold">**</text>
<text x="886.3" y="926.7" font-size="33" text-anchor="middle" font-style="italic">Tgfb1</text>
<line x1="838.3" y1="938.3" x2="936.7" y2="938.3" stroke="#000" stroke-width="2.5"/>
<text x="1003.7" y="926.7" font-size="33" text-anchor="middle" font-style="italic">Tgfb2</text>
<line x1="958.3" y1="938.3" x2="1059.3" y2="938.3" stroke="#000" stroke-width="2.5"/>
<text x="1130" y="926.7" font-size="33" text-anchor="middle" font-style="italic">Tgfb3</text>
<line x1="1077.7" y1="938.3" x2="1175" y2="938.3" stroke="#000" stroke-width="2.5"/>
<text transform="translate(689 1082) rotate(-90)" font-size="33" text-anchor="middle">mRNA</text>
<text transform="translate(726.3 1078) rotate(-90)" font-size="33" text-anchor="middle">relative expression</text>
<rect x="838.5" y="1160.7" width="41" height="43.3" fill="#9fc3e7"/>
<circle cx="859" cy="1172" r="4.4" fill="#3f7fc4"/>
<circle cx="866.3" cy="1166" r="4.4" fill="#3f7fc4"/>
<circle cx="856.6" cy="1163" r="4.4" fill="#3f7fc4"/>
<circle cx="846.9" cy="1160" r="4.4" fill="#3f7fc4"/>
<circle cx="863.8" cy="1157" r="4.4" fill="#3f7fc4"/>
<circle cx="854.2" cy="1155" r="4.4" fill="#3f7fc4"/>
<circle cx="871.1" cy="1153" r="4.4" fill="#3f7fc4"/>
<rect x="838.5" y="1160.7" width="41" height="43.3" fill="none" stroke="#000" stroke-width="2"/>
<line x1="859" y1="1160.7" x2="859" y2="1157.7" stroke="#000" stroke-width="2"/>
<line x1="848.5" y1="1157.7" x2="869.5" y2="1157.7" stroke="#000" stroke-width="2"/>
<rect x="898.8" y="1124.3" width="41" height="79.7" fill="#ecb0aa"/>
<circle cx="919.3" cy="1149.3" r="4.4" fill="#e8201e"/>
<circle cx="919.3" cy="1133" r="4.4" fill="#e8201e"/>
<circle cx="929" cy="1133" r="4.4" fill="#e8201e"/>
<circle cx="912" cy="1126.7" r="4.4" fill="#e8201e"/>
<circle cx="919.3" cy="1120" r="4.4" fill="#e8201e"/>
<circle cx="919.3" cy="1108.3" r="4.4" fill="#e8201e"/>
<circle cx="919.3" cy="1093.3" r="4.4" fill="#e8201e"/>
<rect x="898.8" y="1124.3" width="41" height="79.7" fill="none" stroke="#000" stroke-width="2"/>
<line x1="919.3" y1="1124.3" x2="919.3" y2="1117.3" stroke="#000" stroke-width="2"/>
<line x1="908.8" y1="1117.3" x2="929.8" y2="1117.3" stroke="#000" stroke-width="2"/>
<circle cx="964" cy="1201.7" r="4.4" fill="#3f7fc4"/>
<circle cx="969.3" cy="1201.7" r="4.4" fill="#3f7fc4"/>
<circle cx="974.7" cy="1201.7" r="4.4" fill="#3f7fc4"/>
<circle cx="980" cy="1201.7" r="4.4" fill="#3f7fc4"/>
<circle cx="985.3" cy="1201.7" r="4.4" fill="#3f7fc4"/>
<circle cx="990.7" cy="1201.7" r="4.4" fill="#3f7fc4"/>
<circle cx="996" cy="1201.7" r="4.4" fill="#3f7fc4"/>
<rect x="1020.2" y="1160.7" width="41" height="43.3" fill="#ecb0aa"/>
<circle cx="1040.7" cy="1197.3" r="4.4" fill="#e8201e"/>
<circle cx="1045.5" cy="1190.7" r="4.4" fill="#e8201e"/>
<circle cx="1040.7" cy="1167.3" r="4.4" fill="#e8201e"/>
<circle cx="1050.4" cy="1165" r="4.4" fill="#e8201e"/>
<circle cx="1031" cy="1165" r="4.4" fill="#e8201e"/>
<circle cx="1040.7" cy="1144" r="4.4" fill="#e8201e"/>
<circle cx="1040.7" cy="1099" r="4.4" fill="#e8201e"/>
<rect x="1020.2" y="1160.7" width="41" height="43.3" fill="none" stroke="#000" stroke-width="2"/>
<line x1="1040.7" y1="1160.7" x2="1040.7" y2="1148.3" stroke="#000" stroke-width="2"/>
<line x1="1030.2" y1="1148.3" x2="1051.2" y2="1148.3" stroke="#000" stroke-width="2"/>
<rect x="1081.2" y="1151.7" width="41" height="52.3" fill="#9fc3e7"/>
<circle cx="1101.7" cy="1195" r="4.4" fill="#3f7fc4"/>
<circle cx="1111.4" cy="1191.7" r="4.4" fill="#3f7fc4"/>
<circle cx="1094.4" cy="1189" r="4.4" fill="#3f7fc4"/>
<circle cx="1101.7" cy="1157.3" r="4.4" fill="#3f7fc4"/>
<circle cx="1101.7" cy="1138.3" r="4.4" fill="#3f7fc4"/>
<circle cx="1101.7" cy="1104" r="4.4" fill="#3f7fc4"/>
<circle cx="1101.7" cy="1089" r="4.4" fill="#3f7fc4"/>
<rect x="1081.2" y="1151.7" width="41" height="52.3" fill="none" stroke="#000" stroke-width="2"/>
<line x1="1101.7" y1="1151.7" x2="1101.7" y2="1135.3" stroke="#000" stroke-width="2"/>
<line x1="1091.2" y1="1135.3" x2="1112.2" y2="1135.3" stroke="#000" stroke-width="2"/>
<rect x="1141.8" y="1066.7" width="41" height="137.3" fill="#ecb0aa"/>
<circle cx="1162.3" cy="1186.7" r="4.4" fill="#e8201e"/>
<circle cx="1162.3" cy="1149.3" r="4.4" fill="#e8201e"/>
<circle cx="1162.3" cy="1086" r="4.4" fill="#e8201e"/>
<circle cx="1162.3" cy="1063.3" r="4.4" fill="#e8201e"/>
<circle cx="1162.3" cy="1042.3" r="4.4" fill="#e8201e"/>
<circle cx="1162.3" cy="984" r="4.4" fill="#e8201e"/>
<circle cx="1162.3" cy="954" r="4.4" fill="#e8201e"/>
<rect x="1141.8" y="1066.7" width="41" height="137.3" fill="none" stroke="#000" stroke-width="2"/>
<line x1="1162.3" y1="1066.7" x2="1162.3" y2="1035.3" stroke="#000" stroke-width="2"/>
<line x1="1151.8" y1="1035.3" x2="1172.8" y2="1035.3" stroke="#000" stroke-width="2"/>
<line x1="829" y1="959.7" x2="829" y2="1205" stroke="#000" stroke-width="2"/>
<line x1="828" y1="1204" x2="1192.5" y2="1204" stroke="#000" stroke-width="2"/>
<line x1="821" y1="960.7" x2="829" y2="960.7" stroke="#000" stroke-width="2"/>
<text transform="translate(813.4 972.8) scale(1 1.02)" font-size="33" text-anchor="end">0.08</text>
<line x1="821" y1="1021.7" x2="829" y2="1021.7" stroke="#000" stroke-width="2"/>
<text transform="translate(813.4 1033.8) scale(1 1.02)" font-size="33" text-anchor="end">0.06</text>
<line x1="821" y1="1082.3" x2="829" y2="1082.3" stroke="#000" stroke-width="2"/>
<text transform="translate(813.4 1094.4) scale(1 1.02)" font-size="33" text-anchor="end">0.04</text>
<line x1="821" y1="1143.3" x2="829" y2="1143.3" stroke="#000" stroke-width="2"/>
<text transform="translate(813.4 1155.4) scale(1 1.02)" font-size="33" text-anchor="end">0.02</text>
<line x1="821" y1="1204" x2="829" y2="1204" stroke="#000" stroke-width="2"/>
<text transform="translate(813.4 1216.1) scale(1 1.02)" font-size="33" text-anchor="end">0</text>
<line x1="859" y1="1204" x2="859" y2="1212" stroke="#000" stroke-width="2"/>
<text x="859.7" y="1246" font-size="33.5" text-anchor="middle">NT</text>
<line x1="919.3" y1="1204" x2="919.3" y2="1212" stroke="#000" stroke-width="2"/>
<text x="915.8" y="1246" font-size="33.5" text-anchor="middle">T</text>
<line x1="980" y1="1204" x2="980" y2="1212" stroke="#000" stroke-width="2"/>
<text x="982.2" y="1246" font-size="33.5" text-anchor="middle">NT</text>
<line x1="1040.7" y1="1204" x2="1040.7" y2="1212" stroke="#000" stroke-width="2"/>
<text x="1037.5" y="1246" font-size="33.5" text-anchor="middle">T</text>
<line x1="1101.7" y1="1204" x2="1101.7" y2="1212" stroke="#000" stroke-width="2"/>
<text x="1104.7" y="1246" font-size="33.5" text-anchor="middle">NT</text>
<line x1="1162.3" y1="1204" x2="1162.3" y2="1212" stroke="#000" stroke-width="2"/>
<text x="1160.2" y="1246" font-size="33.5" text-anchor="middle">T</text>
<line x1="856.7" y1="1074.3" x2="920" y2="1074.3" stroke="#000" stroke-width="2.5"/>
<text x="888.4" y="1081.3" font-size="35" text-anchor="middle" font-weight="bold">***</text>
<line x1="980" y1="1082.3" x2="1043.3" y2="1082.3" stroke="#000" stroke-width="2.5"/>
<text x="1011.6" y="1089.3" font-size="35" text-anchor="middle" font-weight="bold">***</text>
<line x1="1101" y1="969.3" x2="1164" y2="969.3" stroke="#000" stroke-width="2.5"/>
<text x="1132.5" y="976.3" font-size="35" text-anchor="middle" font-weight="bold">*</text>
<text x="1441" y="926.7" font-size="33" text-anchor="middle" font-style="italic">Tgfb1</text>
<line x1="1393" y1="938.3" x2="1491.3" y2="938.3" stroke="#000" stroke-width="2.5"/>
<text x="1559.2" y="926.7" font-size="33" text-anchor="middle" font-style="italic">Tgfb2</text>
<line x1="1513" y1="938.3" x2="1614" y2="938.3" stroke="#000" stroke-width="2.5"/>
<text x="1684.7" y="926.7" font-size="33" text-anchor="middle" font-style="italic">Tgfb3</text>
<line x1="1633" y1="938.3" x2="1729.7" y2="938.3" stroke="#000" stroke-width="2.5"/>
<text transform="translate(1245.3 1081) rotate(-90)" font-size="33" text-anchor="middle">mRNA</text>
<text transform="translate(1284.3 1078) rotate(-90)" font-size="33" text-anchor="middle">relative expression</text>
<rect x="1394.8" y="1185.7" width="41" height="17.6" fill="#9fc3e7"/>
<circle cx="1415.3" cy="1190" r="4.4" fill="#3f7fc4"/>
<circle cx="1425" cy="1189" r="4.4" fill="#3f7fc4"/>
<circle cx="1405.6" cy="1188" r="4.4" fill="#3f7fc4"/>
<circle cx="1420.1" cy="1187" r="4.4" fill="#3f7fc4"/>
<circle cx="1429.8" cy="1186" r="4.4" fill="#3f7fc4"/>
<circle cx="1410.5" cy="1185" r="4.4" fill="#3f7fc4"/>
<circle cx="1400.8" cy="1184" r="4.4" fill="#3f7fc4"/>
<circle cx="1425" cy="1183" r="4.4" fill="#3f7fc4"/>
<rect x="1394.8" y="1185.7" width="41" height="17.6" fill="none" stroke="#000" stroke-width="2"/>
<line x1="1415.3" y1="1185.7" x2="1415.3" y2="1184" stroke="#000" stroke-width="2"/>
<line x1="1404.8" y1="1184" x2="1425.8" y2="1184" stroke="#000" stroke-width="2"/>
<rect x="1455.2" y="1166.7" width="41" height="36.6" fill="#ecb0aa"/>
<circle cx="1475.7" cy="1178" r="4.4" fill="#e8201e"/>
<circle cx="1485.4" cy="1175" r="4.4" fill="#e8201e"/>
<circle cx="1468.4" cy="1172" r="4.4" fill="#e8201e"/>
<circle cx="1475.7" cy="1168" r="4.4" fill="#e8201e"/>
<circle cx="1485.4" cy="1165" r="4.4" fill="#e8201e"/>
<circle cx="1468.4" cy="1162" r="4.4" fill="#e8201e"/>
<circle cx="1478.1" cy="1160" r="4.4" fill="#e8201e"/>
<circle cx="1475.7" cy="1146.7" r="4.4" fill="#e8201e"/>
<rect x="1455.2" y="1166.7" width="41" height="36.6" fill="none" stroke="#000" stroke-width="2"/>
<line x1="1475.7" y1="1166.7" x2="1475.7" y2="1164" stroke="#000" stroke-width="2"/>
<line x1="1465.2" y1="1164" x2="1486.2" y2="1164" stroke="#000" stroke-width="2"/>
<circle cx="1520.3" cy="1202.7" r="4.4" fill="#3f7fc4"/>
<circle cx="1524.9" cy="1202.7" r="4.4" fill="#3f7fc4"/>
<circle cx="1529.4" cy="1202.7" r="4.4" fill="#3f7fc4"/>
<circle cx="1534" cy="1202.7" r="4.4" fill="#3f7fc4"/>
<circle cx="1538.6" cy="1202.7" r="4.4" fill="#3f7fc4"/>
<circle cx="1543.2" cy="1202.7" r="4.4" fill="#3f7fc4"/>
<circle cx="1547.7" cy="1202.7" r="4.4" fill="#3f7fc4"/>
<circle cx="1552.3" cy="1202.7" r="4.4" fill="#3f7fc4"/>
<rect x="1576.5" y="1033.3" width="41" height="170" fill="#ecb0aa"/>
<circle cx="1597" cy="1137.3" r="4.4" fill="#e8201e"/>
<circle cx="1597" cy="1080" r="4.4" fill="#e8201e"/>
<circle cx="1597" cy="1055.7" r="4.4" fill="#e8201e"/>
<circle cx="1597" cy="1032.7" r="4.4" fill="#e8201e"/>
<circle cx="1597" cy="1023.3" r="4.4" fill="#e8201e"/>
<circle cx="1597" cy="1003.3" r="4.4" fill="#e8201e"/>
<circle cx="1597" cy="992.7" r="4.4" fill="#e8201e"/>
<circle cx="1597" cy="951.7" r="4.4" fill="#e8201e"/>
<rect x="1576.5" y="1033.3" width="41" height="170" fill="none" stroke="#000" stroke-width="2"/>
<line x1="1597" y1="1033.3" x2="1597" y2="1012.7" stroke="#000" stroke-width="2"/>
<line x1="1586.5" y1="1012.7" x2="1607.5" y2="1012.7" stroke="#000" stroke-width="2"/>
<rect x="1637.5" y="1182.7" width="41" height="20.6" fill="#9fc3e7"/>
<circle cx="1658" cy="1197" r="4.4" fill="#3f7fc4"/>
<circle cx="1667.7" cy="1196" r="4.4" fill="#3f7fc4"/>
<circle cx="1658" cy="1184" r="4.4" fill="#3f7fc4"/>
<circle cx="1658" cy="1173" r="4.4" fill="#3f7fc4"/>
<circle cx="1658" cy="1163.3" r="4.4" fill="#3f7fc4"/>
<circle cx="1665.3" cy="1157.3" r="4.4" fill="#3f7fc4"/>
<rect x="1637.5" y="1182.7" width="41" height="20.6" fill="none" stroke="#000" stroke-width="2"/>
<line x1="1658" y1="1182.7" x2="1658" y2="1176" stroke="#000" stroke-width="2"/>
<line x1="1647.5" y1="1176" x2="1668.5" y2="1176" stroke="#000" stroke-width="2"/>
<rect x="1697.5" y="1161.7" width="41" height="41.6" fill="#ecb0aa"/>
<circle cx="1718" cy="1185" r="4.4" fill="#e8201e"/>
<circle cx="1725.3" cy="1180" r="4.4" fill="#e8201e"/>
<circle cx="1718" cy="1170" r="4.4" fill="#e8201e"/>
<circle cx="1725.3" cy="1164" r="4.4" fill="#e8201e"/>
<circle cx="1718" cy="1160" r="4.4" fill="#e8201e"/>
<circle cx="1718" cy="1151" r="4.4" fill="#e8201e"/>
<circle cx="1722.8" cy="1144" r="4.4" fill="#e8201e"/>
<circle cx="1718" cy="1136" r="4.4" fill="#e8201e"/>
<rect x="1697.5" y="1161.7" width="41" height="41.6" fill="none" stroke="#000" stroke-width="2"/>
<line x1="1718" y1="1161.7" x2="1718" y2="1156" stroke="#000" stroke-width="2"/>
<line x1="1707.5" y1="1156" x2="1728.5" y2="1156" stroke="#000" stroke-width="2"/>
<line x1="1384.7" y1="959.7" x2="1384.7" y2="1204.3" stroke="#000" stroke-width="2"/>
<line x1="1383.7" y1="1203.3" x2="1750.3" y2="1203.3" stroke="#000" stroke-width="2"/>
<line x1="1376.7" y1="960.7" x2="1384.7" y2="960.7" stroke="#000" stroke-width="2"/>
<text transform="translate(1369.1 974.6) scale(1 1.02)" font-size="33" text-anchor="end">0.20</text>
<line x1="1376.7" y1="1021.7" x2="1384.7" y2="1021.7" stroke="#000" stroke-width="2"/>
<text transform="translate(1369.1 1035.6) scale(1 1.02)" font-size="33" text-anchor="end">0.15</text>
<line x1="1376.7" y1="1082.3" x2="1384.7" y2="1082.3" stroke="#000" stroke-width="2"/>
<text transform="translate(1369.1 1096.2) scale(1 1.02)" font-size="33" text-anchor="end">0.10</text>
<line x1="1376.7" y1="1143.3" x2="1384.7" y2="1143.3" stroke="#000" stroke-width="2"/>
<text transform="translate(1369.1 1157.2) scale(1 1.02)" font-size="33" text-anchor="end">0.05</text>
<line x1="1376.7" y1="1203.3" x2="1384.7" y2="1203.3" stroke="#000" stroke-width="2"/>
<text transform="translate(1369.1 1217.2) scale(1 1.02)" font-size="33" text-anchor="end">0</text>
<line x1="1415.3" y1="1203.3" x2="1415.3" y2="1211.3" stroke="#000" stroke-width="2"/>
<text x="1418.8" y="1246" font-size="33.5" text-anchor="middle">NT</text>
<line x1="1475.7" y1="1203.3" x2="1475.7" y2="1211.3" stroke="#000" stroke-width="2"/>
<text x="1474.8" y="1246" font-size="33.5" text-anchor="middle">T</text>
<line x1="1536.3" y1="1203.3" x2="1536.3" y2="1211.3" stroke="#000" stroke-width="2"/>
<text x="1541" y="1246" font-size="33.5" text-anchor="middle">NT</text>
<line x1="1597" y1="1203.3" x2="1597" y2="1211.3" stroke="#000" stroke-width="2"/>
<text x="1596.8" y="1246" font-size="33.5" text-anchor="middle">T</text>
<line x1="1658" y1="1203.3" x2="1658" y2="1211.3" stroke="#000" stroke-width="2"/>
<text x="1663.5" y="1246" font-size="33.5" text-anchor="middle">NT</text>
<line x1="1718" y1="1203.3" x2="1718" y2="1211.3" stroke="#000" stroke-width="2"/>
<text x="1718.8" y="1246" font-size="33.5" text-anchor="middle">T</text>
<line x1="1413" y1="1129" x2="1477" y2="1129" stroke="#000" stroke-width="2.5"/>
<text x="1445" y="1136" font-size="35" text-anchor="middle" font-weight="bold">***</text>
<line x1="1537.3" y1="979.3" x2="1600.7" y2="979.3" stroke="#000" stroke-width="2.5"/>
<text x="1569" y="986.3" font-size="35" text-anchor="middle" font-weight="bold">***</text>
<line x1="1657.3" y1="1113.3" x2="1720.7" y2="1113.3" stroke="#000" stroke-width="2.5"/>
<text x="1689" y="1120.3" font-size="35" text-anchor="middle" font-weight="bold">*</text>
<text x="330" y="1292.7" font-size="33" text-anchor="middle" font-style="italic">Tgfbr1</text>
<line x1="280.7" y1="1303.3" x2="378.3" y2="1303.3" stroke="#000" stroke-width="2.5"/>
<text x="446.7" y="1292.7" font-size="33" text-anchor="middle" font-style="italic">Tgfbr2</text>
<line x1="400.7" y1="1303.3" x2="501.7" y2="1303.3" stroke="#000" stroke-width="2.5"/>
<text x="573.3" y="1292.7" font-size="33" text-anchor="middle" font-style="italic">Tgfbr3</text>
<line x1="520" y1="1303.3" x2="616.7" y2="1303.3" stroke="#000" stroke-width="2.5"/>
<text transform="translate(123.9 1452) rotate(-90)" font-size="33" text-anchor="middle">mRNA</text>
<text transform="translate(163 1448) rotate(-90)" font-size="33" text-anchor="middle">relative expression</text>
<rect x="272.8" y="1528.7" width="41" height="47.3" fill="#9fc3e7"/>
<circle cx="293.3" cy="1559.3" r="4.4" fill="#3f7fc4"/>
<circle cx="300.6" cy="1554" r="4.4" fill="#3f7fc4"/>
<circle cx="293.3" cy="1540" r="4.4" fill="#3f7fc4"/>
<circle cx="293.3" cy="1530" r="4.4" fill="#3f7fc4"/>
<circle cx="303" cy="1528" r="4.4" fill="#3f7fc4"/>
<circle cx="283.6" cy="1527" r="4.4" fill="#3f7fc4"/>
<circle cx="293.3" cy="1521" r="4.4" fill="#3f7fc4"/>
<circle cx="300.6" cy="1516" r="4.4" fill="#3f7fc4"/>
<circle cx="293.3" cy="1504" r="4.4" fill="#3f7fc4"/>
<rect x="272.8" y="1528.7" width="41" height="47.3" fill="none" stroke="#000" stroke-width="2"/>
<line x1="293.3" y1="1528.7" x2="293.3" y2="1523.3" stroke="#000" stroke-width="2"/>
<line x1="282.8" y1="1523.3" x2="303.8" y2="1523.3" stroke="#000" stroke-width="2"/>
<rect x="333.8" y="1462.3" width="41" height="113.7" fill="#ecb0aa"/>
<circle cx="354.3" cy="1543.3" r="4.4" fill="#e8201e"/>
<circle cx="354.3" cy="1534" r="4.4" fill="#e8201e"/>
<circle cx="354.3" cy="1484" r="4.4" fill="#e8201e"/>
<circle cx="354.3" cy="1462.7" r="4.4" fill="#e8201e"/>
<circle cx="354.3" cy="1430" r="4.4" fill="#e8201e"/>
<circle cx="361.6" cy="1426" r="4.4" fill="#e8201e"/>
<circle cx="354.3" cy="1419" r="4.4" fill="#e8201e"/>
<circle cx="354.3" cy="1409" r="4.4" fill="#e8201e"/>
<rect x="333.8" y="1462.3" width="41" height="113.7" fill="none" stroke="#000" stroke-width="2"/>
<line x1="354.3" y1="1462.3" x2="354.3" y2="1446.7" stroke="#000" stroke-width="2"/>
<line x1="343.8" y1="1446.7" x2="364.8" y2="1446.7" stroke="#000" stroke-width="2"/>
<rect x="394.5" y="1485" width="41" height="91" fill="#9fc3e7"/>
<circle cx="415" cy="1510" r="4.4" fill="#3f7fc4"/>
<circle cx="422.3" cy="1505" r="4.4" fill="#3f7fc4"/>
<circle cx="415" cy="1500" r="4.4" fill="#3f7fc4"/>
<circle cx="422.3" cy="1495" r="4.4" fill="#3f7fc4"/>
<circle cx="415" cy="1490" r="4.4" fill="#3f7fc4"/>
<circle cx="405.3" cy="1490" r="4.4" fill="#3f7fc4"/>
<circle cx="415" cy="1471" r="4.4" fill="#3f7fc4"/>
<circle cx="415" cy="1420" r="4.4" fill="#3f7fc4"/>
<rect x="394.5" y="1485" width="41" height="91" fill="none" stroke="#000" stroke-width="2"/>
<line x1="415" y1="1485" x2="415" y2="1476" stroke="#000" stroke-width="2"/>
<line x1="404.5" y1="1476" x2="425.5" y2="1476" stroke="#000" stroke-width="2"/>
<rect x="455.2" y="1405.3" width="41" height="170.7" fill="#ecb0aa"/>
<circle cx="475.7" cy="1485" r="4.4" fill="#e8201e"/>
<circle cx="475.7" cy="1476.7" r="4.4" fill="#e8201e"/>
<circle cx="475.7" cy="1457.3" r="4.4" fill="#e8201e"/>
<circle cx="475.7" cy="1400" r="4.4" fill="#e8201e"/>
<circle cx="475.7" cy="1386" r="4.4" fill="#e8201e"/>
<circle cx="475.7" cy="1370.7" r="4.4" fill="#e8201e"/>
<circle cx="480.5" cy="1363" r="4.4" fill="#e8201e"/>
<circle cx="475.7" cy="1356" r="4.4" fill="#e8201e"/>
<circle cx="485.4" cy="1356" r="4.4" fill="#e8201e"/>
<rect x="455.2" y="1405.3" width="41" height="170.7" fill="none" stroke="#000" stroke-width="2"/>
<line x1="475.7" y1="1405.3" x2="475.7" y2="1387.7" stroke="#000" stroke-width="2"/>
<line x1="465.2" y1="1387.7" x2="486.2" y2="1387.7" stroke="#000" stroke-width="2"/>
<rect x="515.5" y="1524.3" width="41" height="51.7" fill="#9fc3e7"/>
<circle cx="536" cy="1538" r="4.4" fill="#3f7fc4"/>
<circle cx="545.7" cy="1535" r="4.4" fill="#3f7fc4"/>
<circle cx="538.4" cy="1530" r="4.4" fill="#3f7fc4"/>
<circle cx="528.7" cy="1528" r="4.4" fill="#3f7fc4"/>
<circle cx="545.7" cy="1525" r="4.4" fill="#3f7fc4"/>
<circle cx="536" cy="1522" r="4.4" fill="#3f7fc4"/>
<circle cx="528.7" cy="1518" r="4.4" fill="#3f7fc4"/>
<circle cx="540.8" cy="1515" r="4.4" fill="#3f7fc4"/>
<circle cx="533.6" cy="1510" r="4.4" fill="#3f7fc4"/>
<rect x="515.5" y="1524.3" width="41" height="51.7" fill="none" stroke="#000" stroke-width="2"/>
<line x1="536" y1="1524.3" x2="536" y2="1521.7" stroke="#000" stroke-width="2"/>
<line x1="525.5" y1="1521.7" x2="546.5" y2="1521.7" stroke="#000" stroke-width="2"/>
<rect x="576.2" y="1527.3" width="41" height="48.7" fill="#ecb0aa"/>
<circle cx="596.7" cy="1540" r="4.4" fill="#e8201e"/>
<circle cx="604" cy="1535" r="4.4" fill="#e8201e"/>
<circle cx="596.7" cy="1530" r="4.4" fill="#e8201e"/>
<circle cx="606.4" cy="1527" r="4.4" fill="#e8201e"/>
<circle cx="589.4" cy="1524" r="4.4" fill="#e8201e"/>
<circle cx="596.7" cy="1520" r="4.4" fill="#e8201e"/>
<circle cx="604" cy="1516" r="4.4" fill="#e8201e"/>
<circle cx="596.7" cy="1510" r="4.4" fill="#e8201e"/>
<rect x="576.2" y="1527.3" width="41" height="48.7" fill="none" stroke="#000" stroke-width="2"/>
<line x1="596.7" y1="1527.3" x2="596.7" y2="1525" stroke="#000" stroke-width="2"/>
<line x1="586.2" y1="1525" x2="607.2" y2="1525" stroke="#000" stroke-width="2"/>
<line x1="263.3" y1="1332.3" x2="263.3" y2="1577" stroke="#000" stroke-width="2"/>
<line x1="262.3" y1="1576" x2="629.3" y2="1576" stroke="#000" stroke-width="2"/>
<line x1="255.3" y1="1333.3" x2="263.3" y2="1333.3" stroke="#000" stroke-width="2"/>
<text transform="translate(246.6 1345.1) scale(1 1.02)" font-size="33" text-anchor="end">0.10</text>
<line x1="255.3" y1="1382.3" x2="263.3" y2="1382.3" stroke="#000" stroke-width="2"/>
<text transform="translate(246.6 1394.1) scale(1 1.02)" font-size="33" text-anchor="end">0.08</text>
<line x1="255.3" y1="1431" x2="263.3" y2="1431" stroke="#000" stroke-width="2"/>
<text transform="translate(246.6 1442.8) scale(1 1.02)" font-size="33" text-anchor="end">0.06</text>
<line x1="255.3" y1="1479.3" x2="263.3" y2="1479.3" stroke="#000" stroke-width="2"/>
<text transform="translate(246.6 1491.1) scale(1 1.02)" font-size="33" text-anchor="end">0.04</text>
<line x1="255.3" y1="1527.7" x2="263.3" y2="1527.7" stroke="#000" stroke-width="2"/>
<text transform="translate(246.6 1539.5) scale(1 1.02)" font-size="33" text-anchor="end">0.02</text>
<line x1="255.3" y1="1576" x2="263.3" y2="1576" stroke="#000" stroke-width="2"/>
<text transform="translate(246.6 1587.8) scale(1 1.02)" font-size="33" text-anchor="end">0</text>
<line x1="293.3" y1="1576" x2="293.3" y2="1584" stroke="#000" stroke-width="2"/>
<text x="300" y="1616" font-size="33.5" text-anchor="middle">NT</text>
<line x1="354.3" y1="1576" x2="354.3" y2="1584" stroke="#000" stroke-width="2"/>
<text x="355" y="1616" font-size="33.5" text-anchor="middle">T</text>
<line x1="415" y1="1576" x2="415" y2="1584" stroke="#000" stroke-width="2"/>
<text x="421.7" y="1616" font-size="33.5" text-anchor="middle">NT</text>
<line x1="475.7" y1="1576" x2="475.7" y2="1584" stroke="#000" stroke-width="2"/>
<text x="477.5" y="1616" font-size="33.5" text-anchor="middle">T</text>
<line x1="536" y1="1576" x2="536" y2="1584" stroke="#000" stroke-width="2"/>
<text x="543.7" y="1616" font-size="33.5" text-anchor="middle">NT</text>
<line x1="596.7" y1="1576" x2="596.7" y2="1584" stroke="#000" stroke-width="2"/>
<text x="598.3" y="1616" font-size="33.5" text-anchor="middle">T</text>
<line x1="293.3" y1="1392.7" x2="357.3" y2="1392.7" stroke="#000" stroke-width="2.5"/>
<text x="325.3" y="1399.7" font-size="35" text-anchor="middle" font-weight="bold">**</text>
<line x1="419.3" y1="1339.3" x2="482.7" y2="1339.3" stroke="#000" stroke-width="2.5"/>
<text x="451" y="1346.3" font-size="35" text-anchor="middle" font-weight="bold">**</text>
<text x="890" y="1292.7" font-size="33" text-anchor="middle" font-style="italic">Tgfbr1</text>
<line x1="840.7" y1="1303.3" x2="939" y2="1303.3" stroke="#000" stroke-width="2.5"/>
<text x="1007.7" y="1292.7" font-size="33" text-anchor="middle" font-style="italic">Tgfbr2</text>
<line x1="961" y1="1303.3" x2="1061.7" y2="1303.3" stroke="#000" stroke-width="2.5"/>
<text x="1133.3" y="1292.7" font-size="33" text-anchor="middle" font-style="italic">Tgfbr3</text>
<line x1="1080.7" y1="1303.3" x2="1177.3" y2="1303.3" stroke="#000" stroke-width="2.5"/>
<text transform="translate(689 1460) rotate(-90)" font-size="33" text-anchor="middle">mRNA</text>
<text transform="translate(726.3 1456) rotate(-90)" font-size="33" text-anchor="middle">relative expression</text>
<rect x="841.8" y="1487.3" width="41" height="88.7" fill="#9fc3e7"/>
<circle cx="862.3" cy="1498.3" r="4.4" fill="#3f7fc4"/>
<circle cx="872" cy="1498" r="4.4" fill="#3f7fc4"/>
<circle cx="862.3" cy="1487" r="4.4" fill="#3f7fc4"/>
<circle cx="872" cy="1487" r="4.4" fill="#3f7fc4"/>
<circle cx="855" cy="1483" r="4.4" fill="#3f7fc4"/>
<circle cx="862.3" cy="1477.7" r="4.4" fill="#3f7fc4"/>
<circle cx="872" cy="1476.7" r="4.4" fill="#3f7fc4"/>
<rect x="841.8" y="1487.3" width="41" height="88.7" fill="none" stroke="#000" stroke-width="2"/>
<line x1="862.3" y1="1487.3" x2="862.3" y2="1484.3" stroke="#000" stroke-width="2"/>
<line x1="851.8" y1="1484.3" x2="872.8" y2="1484.3" stroke="#000" stroke-width="2"/>
<rect x="902.2" y="1451" width="41" height="125" fill="#ecb0aa"/>
<circle cx="922.7" cy="1480" r="4.4" fill="#e8201e"/>
<circle cx="932.4" cy="1478" r="4.4" fill="#e8201e"/>
<circle cx="915.4" cy="1475" r="4.4" fill="#e8201e"/>
<circle cx="922.7" cy="1449" r="4.4" fill="#e8201e"/>
<circle cx="922.7" cy="1432.7" r="4.4" fill="#e8201e"/>
<circle cx="932.4" cy="1432.7" r="4.4" fill="#e8201e"/>
<circle cx="922.7" cy="1415.7" r="4.4" fill="#e8201e"/>
<rect x="902.2" y="1451" width="41" height="125" fill="none" stroke="#000" stroke-width="2"/>
<line x1="922.7" y1="1451" x2="922.7" y2="1441.7" stroke="#000" stroke-width="2"/>
<line x1="912.2" y1="1441.7" x2="933.2" y2="1441.7" stroke="#000" stroke-width="2"/>
<rect x="962.8" y="1502.7" width="41" height="73.3" fill="#9fc3e7"/>
<circle cx="983.3" cy="1530.7" r="4.4" fill="#3f7fc4"/>
<circle cx="990.6" cy="1526.7" r="4.4" fill="#3f7fc4"/>
<circle cx="983.3" cy="1521.7" r="4.4" fill="#3f7fc4"/>
<circle cx="983.3" cy="1491" r="4.4" fill="#3f7fc4"/>
<circle cx="993" cy="1490" r="4.4" fill="#3f7fc4"/>
<circle cx="983.3" cy="1482" r="4.4" fill="#3f7fc4"/>
<circle cx="993" cy="1479" r="4.4" fill="#3f7fc4"/>
<rect x="962.8" y="1502.7" width="41" height="73.3" fill="none" stroke="#000" stroke-width="2"/>
<line x1="983.3" y1="1502.7" x2="983.3" y2="1494.3" stroke="#000" stroke-width="2"/>
<line x1="972.8" y1="1494.3" x2="993.8" y2="1494.3" stroke="#000" stroke-width="2"/>
<rect x="1023.8" y="1432.7" width="41" height="143.3" fill="#ecb0aa"/>
<circle cx="1044.3" cy="1492.3" r="4.4" fill="#e8201e"/>
<circle cx="1044.3" cy="1455.7" r="4.4" fill="#e8201e"/>
<circle cx="1044.3" cy="1446.7" r="4.4" fill="#e8201e"/>
<circle cx="1051.6" cy="1441.7" r="4.4" fill="#e8201e"/>
<circle cx="1044.3" cy="1431.7" r="4.4" fill="#e8201e"/>
<circle cx="1044.3" cy="1389" r="4.4" fill="#e8201e"/>
<circle cx="1044.3" cy="1376.7" r="4.4" fill="#e8201e"/>
<rect x="1023.8" y="1432.7" width="41" height="143.3" fill="none" stroke="#000" stroke-width="2"/>
<line x1="1044.3" y1="1432.7" x2="1044.3" y2="1418.3" stroke="#000" stroke-width="2"/>
<line x1="1033.8" y1="1418.3" x2="1054.8" y2="1418.3" stroke="#000" stroke-width="2"/>
<rect x="1084.5" y="1502.3" width="41" height="73.7" fill="#9fc3e7"/>
<circle cx="1105" cy="1520" r="4.4" fill="#3f7fc4"/>
<circle cx="1105" cy="1510" r="4.4" fill="#3f7fc4"/>
<circle cx="1112.3" cy="1505" r="4.4" fill="#3f7fc4"/>
<circle cx="1105" cy="1500" r="4.4" fill="#3f7fc4"/>
<circle cx="1114.7" cy="1497" r="4.4" fill="#3f7fc4"/>
<circle cx="1100.2" cy="1493" r="4.4" fill="#3f7fc4"/>
<circle cx="1090.5" cy="1491.7" r="4.4" fill="#3f7fc4"/>
<rect x="1084.5" y="1502.3" width="41" height="73.7" fill="none" stroke="#000" stroke-width="2"/>
<line x1="1105" y1="1502.3" x2="1105" y2="1498.3" stroke="#000" stroke-width="2"/>
<line x1="1094.5" y1="1498.3" x2="1115.5" y2="1498.3" stroke="#000" stroke-width="2"/>
<rect x="1145.2" y="1505.7" width="41" height="70.3" fill="#ecb0aa"/>
<circle cx="1165.7" cy="1526" r="4.4" fill="#e8201e"/>
<circle cx="1175.4" cy="1522.7" r="4.4" fill="#e8201e"/>
<circle cx="1165.7" cy="1516.7" r="4.4" fill="#e8201e"/>
<circle cx="1165.7" cy="1506" r="4.4" fill="#e8201e"/>
<circle cx="1165.7" cy="1489.3" r="4.4" fill="#e8201e"/>
<circle cx="1173" cy="1485" r="4.4" fill="#e8201e"/>
<rect x="1145.2" y="1505.7" width="41" height="70.3" fill="none" stroke="#000" stroke-width="2"/>
<line x1="1165.7" y1="1505.7" x2="1165.7" y2="1499" stroke="#000" stroke-width="2"/>
<line x1="1155.2" y1="1499" x2="1176.2" y2="1499" stroke="#000" stroke-width="2"/>
<line x1="831.7" y1="1332.3" x2="831.7" y2="1577" stroke="#000" stroke-width="2"/>
<line x1="830.7" y1="1576" x2="1197.5" y2="1576" stroke="#000" stroke-width="2"/>
<line x1="823.7" y1="1333.3" x2="831.7" y2="1333.3" stroke="#000" stroke-width="2"/>
<text transform="translate(818.6 1345.1) scale(1 1.02)" font-size="33" text-anchor="end">0.06</text>
<line x1="823.7" y1="1414.3" x2="831.7" y2="1414.3" stroke="#000" stroke-width="2"/>
<text transform="translate(818.6 1426.1) scale(1 1.02)" font-size="33" text-anchor="end">0.04</text>
<line x1="823.7" y1="1495.7" x2="831.7" y2="1495.7" stroke="#000" stroke-width="2"/>
<text transform="translate(818.6 1507.5) scale(1 1.02)" font-size="33" text-anchor="end">0.02</text>
<line x1="823.7" y1="1576" x2="831.7" y2="1576" stroke="#000" stroke-width="2"/>
<text transform="translate(818.6 1587.8) scale(1 1.02)" font-size="33" text-anchor="end">0</text>
<line x1="862.3" y1="1576" x2="862.3" y2="1584" stroke="#000" stroke-width="2"/>
<text x="867.8" y="1616" font-size="33.5" text-anchor="middle">NT</text>
<line x1="922.7" y1="1576" x2="922.7" y2="1584" stroke="#000" stroke-width="2"/>
<text x="923.8" y="1616" font-size="33.5" text-anchor="middle">T</text>
<line x1="983.3" y1="1576" x2="983.3" y2="1584" stroke="#000" stroke-width="2"/>
<text x="989.7" y="1616" font-size="33.5" text-anchor="middle">NT</text>
<line x1="1044.3" y1="1576" x2="1044.3" y2="1584" stroke="#000" stroke-width="2"/>
<text x="1045" y="1616" font-size="33.5" text-anchor="middle">T</text>
<line x1="1105" y1="1576" x2="1105" y2="1584" stroke="#000" stroke-width="2"/>
<text x="1112" y="1616" font-size="33.5" text-anchor="middle">NT</text>
<line x1="1165.7" y1="1576" x2="1165.7" y2="1584" stroke="#000" stroke-width="2"/>
<text x="1167.5" y="1616" font-size="33.5" text-anchor="middle">T</text>
<line x1="858.3" y1="1400.7" x2="921.7" y2="1400.7" stroke="#000" stroke-width="2.5"/>
<text x="890" y="1407.7" font-size="35" text-anchor="middle" font-weight="bold">**</text>
<line x1="985" y1="1342.7" x2="1047.7" y2="1342.7" stroke="#000" stroke-width="2.5"/>
<text x="1016.4" y="1349.7" font-size="35" text-anchor="middle" font-weight="bold">**</text>
<text x="1434.7" y="1292.7" font-size="33" text-anchor="middle" font-style="italic">Tgfbr1</text>
<line x1="1385.3" y1="1303.3" x2="1483.7" y2="1303.3" stroke="#000" stroke-width="2.5"/>
<text x="1551.3" y="1292.7" font-size="33" text-anchor="middle" font-style="italic">Tgfbr2</text>
<line x1="1504.7" y1="1303.3" x2="1606.3" y2="1303.3" stroke="#000" stroke-width="2.5"/>
<text x="1678" y="1292.7" font-size="33" text-anchor="middle" font-style="italic">Tgfbr3</text>
<line x1="1624.7" y1="1303.3" x2="1721.3" y2="1303.3" stroke="#000" stroke-width="2.5"/>
<text transform="translate(1245.3 1460) rotate(-90)" font-size="33" text-anchor="middle">mRNA</text>
<text transform="translate(1284.3 1456) rotate(-90)" font-size="33" text-anchor="middle">relative expression</text>
<rect x="1392.5" y="1442.7" width="41" height="134" fill="#9fc3e7"/>
<circle cx="1413" cy="1458.3" r="4.4" fill="#3f7fc4"/>
<circle cx="1422.7" cy="1457.3" r="4.4" fill="#3f7fc4"/>
<circle cx="1413" cy="1449.3" r="4.4" fill="#3f7fc4"/>
<circle cx="1413" cy="1439" r="4.4" fill="#3f7fc4"/>
<circle cx="1422.7" cy="1436.7" r="4.4" fill="#3f7fc4"/>
<circle cx="1413" cy="1429" r="4.4" fill="#3f7fc4"/>
<circle cx="1422.7" cy="1426.7" r="4.4" fill="#3f7fc4"/>
<rect x="1392.5" y="1442.7" width="41" height="134" fill="none" stroke="#000" stroke-width="2"/>
<line x1="1413" y1="1442.7" x2="1413" y2="1438.3" stroke="#000" stroke-width="2"/>
<line x1="1402.5" y1="1438.3" x2="1423.5" y2="1438.3" stroke="#000" stroke-width="2"/>
<rect x="1453.2" y="1382" width="41" height="194.7" fill="#ecb0aa"/>
<circle cx="1473.7" cy="1412.3" r="4.4" fill="#e8201e"/>
<circle cx="1473.7" cy="1403.3" r="4.4" fill="#e8201e"/>
<circle cx="1473.7" cy="1393.3" r="4.4" fill="#e8201e"/>
<circle cx="1478.5" cy="1386" r="4.4" fill="#e8201e"/>
<circle cx="1468.9" cy="1386" r="4.4" fill="#e8201e"/>
<circle cx="1473.7" cy="1375" r="4.4" fill="#e8201e"/>
<circle cx="1473.7" cy="1330" r="4.4" fill="#e8201e"/>
<rect x="1453.2" y="1382" width="41" height="194.7" fill="none" stroke="#000" stroke-width="2"/>
<line x1="1473.7" y1="1382" x2="1473.7" y2="1370.7" stroke="#000" stroke-width="2"/>
<line x1="1463.2" y1="1370.7" x2="1484.2" y2="1370.7" stroke="#000" stroke-width="2"/>
<rect x="1514.2" y="1466.7" width="41" height="110" fill="#9fc3e7"/>
<circle cx="1534.7" cy="1508.3" r="4.4" fill="#3f7fc4"/>
<circle cx="1542" cy="1502.7" r="4.4" fill="#3f7fc4"/>
<circle cx="1534.7" cy="1495.7" r="4.4" fill="#3f7fc4"/>
<circle cx="1534.7" cy="1448.3" r="4.4" fill="#3f7fc4"/>
<circle cx="1542" cy="1444.3" r="4.4" fill="#3f7fc4"/>
<circle cx="1534.7" cy="1435.7" r="4.4" fill="#3f7fc4"/>
<circle cx="1542" cy="1430" r="4.4" fill="#3f7fc4"/>
<rect x="1514.2" y="1466.7" width="41" height="110" fill="none" stroke="#000" stroke-width="2"/>
<line x1="1534.7" y1="1466.7" x2="1534.7" y2="1453.3" stroke="#000" stroke-width="2"/>
<line x1="1524.2" y1="1453.3" x2="1545.2" y2="1453.3" stroke="#000" stroke-width="2"/>
<rect x="1574.8" y="1400.3" width="41" height="176.4" fill="#ecb0aa"/>
<circle cx="1595.3" cy="1447.3" r="4.4" fill="#e8201e"/>
<circle cx="1605" cy="1446.7" r="4.4" fill="#e8201e"/>
<circle cx="1595.3" cy="1414" r="4.4" fill="#e8201e"/>
<circle cx="1605" cy="1413.3" r="4.4" fill="#e8201e"/>
<circle cx="1595.3" cy="1405" r="4.4" fill="#e8201e"/>
<circle cx="1595.3" cy="1394.3" r="4.4" fill="#e8201e"/>
<circle cx="1605" cy="1392.3" r="4.4" fill="#e8201e"/>
<circle cx="1595.3" cy="1323.3" r="4.4" fill="#e8201e"/>
<rect x="1574.8" y="1400.3" width="41" height="176.4" fill="none" stroke="#000" stroke-width="2"/>
<line x1="1595.3" y1="1400.3" x2="1595.3" y2="1383.3" stroke="#000" stroke-width="2"/>
<line x1="1584.8" y1="1383.3" x2="1605.8" y2="1383.3" stroke="#000" stroke-width="2"/>
<rect x="1635.2" y="1465.7" width="41" height="111" fill="#9fc3e7"/>
<circle cx="1655.7" cy="1490.7" r="4.4" fill="#3f7fc4"/>
<circle cx="1655.7" cy="1474" r="4.4" fill="#3f7fc4"/>
<circle cx="1665.4" cy="1472.7" r="4.4" fill="#3f7fc4"/>
<circle cx="1655.7" cy="1463.3" r="4.4" fill="#3f7fc4"/>
<circle cx="1665.4" cy="1462.3" r="4.4" fill="#3f7fc4"/>
<circle cx="1655.7" cy="1452.3" r="4.4" fill="#3f7fc4"/>
<circle cx="1665.4" cy="1451.7" r="4.4" fill="#3f7fc4"/>
<rect x="1635.2" y="1465.7" width="41" height="111" fill="none" stroke="#000" stroke-width="2"/>
<line x1="1655.7" y1="1465.7" x2="1655.7" y2="1460" stroke="#000" stroke-width="2"/>
<line x1="1645.2" y1="1460" x2="1666.2" y2="1460" stroke="#000" stroke-width="2"/>
<rect x="1695.8" y="1511.7" width="41" height="65" fill="#ecb0aa"/>
<circle cx="1716.3" cy="1546.7" r="4.4" fill="#e8201e"/>
<circle cx="1716.3" cy="1537.3" r="4.4" fill="#e8201e"/>
<circle cx="1716.3" cy="1520.7" r="4.4" fill="#e8201e"/>
<circle cx="1716.3" cy="1509.3" r="4.4" fill="#e8201e"/>
<circle cx="1716.3" cy="1498.3" r="4.4" fill="#e8201e"/>
<circle cx="1723.6" cy="1494.3" r="4.4" fill="#e8201e"/>
<circle cx="1716.3" cy="1474" r="4.4" fill="#e8201e"/>
<rect x="1695.8" y="1511.7" width="41" height="65" fill="none" stroke="#000" stroke-width="2"/>
<line x1="1716.3" y1="1511.7" x2="1716.3" y2="1503.3" stroke="#000" stroke-width="2"/>
<line x1="1705.8" y1="1503.3" x2="1726.8" y2="1503.3" stroke="#000" stroke-width="2"/>
<line x1="1383" y1="1333" x2="1383" y2="1577.7" stroke="#000" stroke-width="2"/>
<line x1="1382" y1="1576.7" x2="1749" y2="1576.7" stroke="#000" stroke-width="2"/>
<line x1="1375" y1="1334" x2="1383" y2="1334" stroke="#000" stroke-width="2"/>
<text transform="translate(1370 1345.5) scale(1 1.02)" font-size="33" text-anchor="end">0.04</text>
<line x1="1375" y1="1395" x2="1383" y2="1395" stroke="#000" stroke-width="2"/>
<text transform="translate(1370 1406.5) scale(1 1.02)" font-size="33" text-anchor="end">0.03</text>
<line x1="1375" y1="1455.7" x2="1383" y2="1455.7" stroke="#000" stroke-width="2"/>
<text transform="translate(1370 1467.2) scale(1 1.02)" font-size="33" text-anchor="end">0.02</text>
<line x1="1375" y1="1516" x2="1383" y2="1516" stroke="#000" stroke-width="2"/>
<text transform="translate(1370 1527.5) scale(1 1.02)" font-size="33" text-anchor="end">0.01</text>
<line x1="1375" y1="1576.7" x2="1383" y2="1576.7" stroke="#000" stroke-width="2"/>
<text transform="translate(1370 1588.2) scale(1 1.02)" font-size="33" text-anchor="end">0</text>
<line x1="1413" y1="1576.7" x2="1413" y2="1584.7" stroke="#000" stroke-width="2"/>
<text x="1421" y="1616" font-size="33.5" text-anchor="middle">NT</text>
<line x1="1473.7" y1="1576.7" x2="1473.7" y2="1584.7" stroke="#000" stroke-width="2"/>
<text x="1476" y="1616" font-size="33.5" text-anchor="middle">T</text>
<line x1="1534.7" y1="1576.7" x2="1534.7" y2="1584.7" stroke="#000" stroke-width="2"/>
<text x="1542.7" y="1616" font-size="33.5" text-anchor="middle">NT</text>
<line x1="1595.3" y1="1576.7" x2="1595.3" y2="1584.7" stroke="#000" stroke-width="2"/>
<text x="1598.8" y="1616" font-size="33.5" text-anchor="middle">T</text>
<line x1="1655.7" y1="1576.7" x2="1655.7" y2="1584.7" stroke="#000" stroke-width="2"/>
<text x="1665" y="1616" font-size="33.5" text-anchor="middle">NT</text>
<line x1="1716.3" y1="1576.7" x2="1716.3" y2="1584.7" stroke="#000" stroke-width="2"/>
<text x="1719.7" y="1616" font-size="33.5" text-anchor="middle">T</text>
<line x1="1408.7" y1="1344" x2="1472.3" y2="1344" stroke="#000" stroke-width="2.5"/>
<text x="1440.5" y="1351" font-size="35" text-anchor="middle" font-weight="bold">***</text>
<line x1="1534.7" y1="1338.7" x2="1598.7" y2="1338.7" stroke="#000" stroke-width="2.5"/>
<text x="1566.7" y="1345.7" font-size="35" text-anchor="middle" font-weight="bold">**</text>
<line x1="1653" y1="1428.3" x2="1716.3" y2="1428.3" stroke="#000" stroke-width="2.5"/>
<text x="1684.7" y="1435.3" font-size="35" text-anchor="middle" font-weight="bold">**</text>
<defs><filter id="soft" x="0" y="0" width="1" height="1"><feGaussianBlur stdDeviation="0.6"/></filter><filter id="blob" x="-0.5" y="-0.5" width="2" height="2"><feGaussianBlur stdDeviation="1.6"/></filter></defs>
<text x="361" y="1678" font-size="37" text-anchor="middle">Human CCA</text>
<text x="751" y="1678" font-size="37" text-anchor="middle">SB1</text>
<text x="1165" y="1678" font-size="37" text-anchor="middle">AKT-YAP</text>
<text x="1573" y="1678" font-size="37" text-anchor="middle">AKT-NICD</text>
<text transform="translate(116.5 1830.4) rotate(-90)" font-size="36" text-anchor="middle">pSMAD2</text>
<clipPath id="cp1"><rect x="150" y="1689" width="398.7" height="270.7"/></clipPath>
<g clip-path="url(#cp1)"><g filter="url(#soft)">
<rect x="150" y="1689" width="398.7" height="270.7" fill="#e9dddb"/>
<path d="M246 1686 L552 1686 L552 1963 L458.6 1963 L466 1930 L470.7 1902.8 L468 1885 L458.6 1861.4 L440 1838 L413.8 1813 L380 1785 L344.8 1764.8 L300 1745 L253.4 1739 L246 1739 Z" fill="#ebe0dc"/>
<path d="M281.8 1882.2h0M156.7 1734.1h0M197.1 1866.4h0M407.4 1922.4h0M305.9 1776.3h0M335.9 1834.2h0M221.7 1842.9h0M388.3 1906h0M250.6 1801.3h0M289.5 1957.4h0M416.2 1907.1h0M402.3 1936.4h0M221.5 1830.5h0M213.9 1858.1h0M211.4 1691.7h0M397.6 1883.2h0M368.3 1833.7h0M273.7 1917.1h0M358.3 1887.6h0M161.1 1937.2h0M343.1 1811.5h0M380.6 1848.8h0M375.2 1948.6h0M214.9 1778.7h0M184.2 1746.1h0M249.5 1905.3h0M229.8 1703.8h0M241.3 1832.7h0M228.4 1821.1h0M307.6 1837.8h0M347.1 1795.7h0M301.7 1898.5h0M259.9 1932.2h0M291.9 1899.1h0M373.6 1804.6h0M289.1 1927.8h0M221 1734.2h0M272.6 1874.3h0M154.8 1807.6h0M296.9 1908.9h0M177.2 1714.7h0M274.8 1808.3h0M243.2 1842.7h0M232.9 1755.7h0M245.1 1697.8h0M201 1882.7h0M263.5 1852.3h0M177.8 1931.5h0M152.6 1879.7h0M316.5 1853.9h0M316.3 1889.7h0M356.9 1954.6h0M356.4 1871.9h0M337.5 1807.2h0M330 1762.1h0M276.2 1932.5h0M164.1 1693h0M353.3 1944.8h0M464.2 1893.2h0M260.3 1823.6h0M281.6 1877.9h0M211.1 1744h0M161.5 1927.7h0M246 1905.6h0M185.9 1796.7h0M165.8 1765.9h0M241.6 1696.2h0M223.1 1848.1h0M388.8 1955.5h0M243.8 1739.3h0M403.8 1822.7h0M181.7 1750h0M250.4 1828.1h0M223 1816.8h0M446.7 1912.7h0M353.1 1939.9h0M267.2 1742.4h0M188.7 1730h0M448.5 1880.3h0M179.2 1876.1h0M175 1741.9h0M243.4 1739.5h0M348.2 1880.9h0M190 1838.5h0M410.6 1912.2h0M183.8 1772h0M196 1711.9h0M260.4 1948.5h0M206.2 1722.6h0M178.3 1789.3h0M213.1 1710.7h0M244.9 1855.8h0M154.5 1740.5h0M175.7 1851.4h0M377.6 1836.1h0M173.6 1843.1h0M369.2 1786.6h0M425.7 1920.3h0M419.8 1901h0M301.3 1806.4h0M176.5 1701h0M192.7 1920.6h0M292.4 1784h0M336.2 1875h0M302.6 1784.7h0M416 1833.1h0M239.5 1857.9h0M285.9 1783.3h0M157.8 1733.2h0M208.2 1796.7h0M396.2 1923.6h0M193 1728.7h0M260 1843.8h0M374.9 1798.9h0M412.5 1849.8h0M204.1 1951.7h0M237.9 1809h0M220 1910.5h0M382.5 1937.2h0M285.2 1850h0M251.5 1745.5h0M404.7 1905h0M277.4 1789h0M394.8 1853.3h0M441.3 1957.6h0M362.4 1801.9h0M242.2 1908.2h0M277.4 1842.9h0M436.9 1868.5h0M341.3 1916.5h0M367.7 1866.9h0M205.9 1852.7h0M408.2 1889h0M268.7 1809.2h0M426.7 1947h0M250.8 1951.7h0M251 1799.4h0M391.1 1936.4h0M288.1 1765.1h0M168.9 1706.8h0M315.6 1892.5h0M412.4 1959.1h0M398.2 1851.5h0M199.9 1793.2h0M221.8 1737.3h0M191 1902.6h0M240.8 1796.3h0M457.2 1865.3h0M335 1786.3h0M262.2 1841.6h0M151.6 1764h0M333.5 1771.4h0M209 1828.8h0M430.2 1890.5h0M328 1820.9h0M293.5 1934.5h0M390.4 1898.1h0M397.6 1899.1h0M344 1781.9h0M212.3 1886.3h0M256.8 1815.9h0M367.2 1947.5h0M200.9 1916.2h0M265.4 1801.4h0M268.8 1923.7h0M291.4 1895.7h0M361 1887.8h0M417.2 1881.2h0M413.8 1835.3h0M318 1768.8h0M159.6 1917.2h0M340.2 1893.8h0M451.8 1866.9h0M184.7 1944.8h0M399.3 1884.2h0M288.1 1752.8h0M286.8 1832.1h0M423 1930.5h0M296.4 1776.9h0M180.6 1955.6h0M229.7 1873.4h0M157.3 1787.4h0M238.5 1811.4h0M195.7 1730.7h0M315 1953.6h0M427.9 1892h0M245.2 1702.2h0M265.6 1956.3h0M191.2 1930.4h0M250.7 1828.1h0M345.5 1838.9h0M293.4 1773.2h0M396.1 1923h0M233.7 1811.4h0M194.8 1795.8h0M153.9 1726.8h0M253.3 1929.4h0M168.7 1753.6h0M330.5 1854.8h0M223.7 1955.9h0M253.1 1881.8h0M246.1 1959.5h0M242.1 1801.1h0M220.3 1765h0M427.8 1951.1h0M172.8 1925.6h0M164.7 1867.2h0M163.3 1825.7h0M382.1 1839.2h0M399.5 1872h0M171.8 1837.9h0M310.9 1895.8h0M279.1 1813.6h0M419.4 1934h0M387.6 1911.1h0M295.8 1800.4h0M184.8 1787h0M192.1 1929.5h0M224.1 1782.9h0M462.8 1889.4h0M265.1 1757.2h0M402.8 1838.2h0M273.6 1774.7h0M420.7 1854.2h0M325.7 1765.1h0M207.4 1840.2h0M413.9 1935h0M176.6 1866.9h0M396.7 1818h0M203.3 1942.2h0M249.7 1747.7h0M402.7 1862.5h0M209.2 1757.9h0M181.3 1735h0M425.8 1910.7h0M271.4 1905.9h0M182.8 1894.3h0M187.8 1903.6h0M294.2 1854.4h0M197.8 1830.8h0M376.9 1824.1h0M258.6 1755.2h0M241.1 1851.1h0M298.2 1801.7h0M150.3 1691.8h0M399.7 1883.8h0M158.2 1804.2h0M153 1746.9h0M399.7 1846.8h0M346.9 1896h0M349.5 1915.8h0M356.3 1805.3h0M245.3 1723.1h0M287.9 1849.5h0M318.7 1889.1h0M452.7 1929h0M377.9 1909.6h0M165.4 1836.4h0M235.3 1713.1h0M324.9 1856.8h0M378.5 1898h0M210.5 1922.2h0M315.6 1785.7h0M349.6 1933.8h0M248.2 1949.3h0M338.9 1924.9h0M175.3 1757.1h0M287.2 1810h0M217.8 1951.9h0M274.8 1802.4h0M307.7 1838.9h0M189.1 1836.2h0M438.8 1959.4h0M366.2 1880.3h0M388.7 1874.1h0M373.9 1947.4h0M353.9 1880.6h0M347.4 1855.6h0M212.9 1751.8h0M267.3 1835.2h0M363.1 1885.2h0M236.9 1951.6h0M162.7 1705.4h0M356.4 1916.9h0M392.6 1919.5h0M404.5 1836.6h0M156 1694.6h0M224 1826.7h0M166.2 1823h0M262.1 1951.4h0M167.6 1814.5h0M360.5 1957.6h0M206 1768.5h0M365.7 1810.8h0M249.2 1948.4h0M418.7 1860h0M269.3 1954.9h0M246.2 1935.3h0M160.5 1755.1h0M212.9 1954.3h0" stroke="#94625c" stroke-width="4.4" stroke-linecap="round" fill="none"/>
<path d="M313.7 1805.6h0M407.1 1896.1h0M381.2 1852.6h0M428.4 1895.5h0M368.9 1952.9h0M402.1 1812.6h0M204.4 1758.5h0M341.1 1918.1h0M353.3 1827.7h0M163.5 1842.6h0M371.4 1903.9h0M204.2 1696.9h0M417.8 1855.9h0M186.1 1944.1h0M182.7 1767.8h0M282.6 1942.8h0M337.8 1955.5h0M183.8 1870.4h0M277.3 1883.6h0M440.3 1869.4h0M446.3 1941.3h0M197.5 1928.7h0M216.2 1833h0M454.1 1916h0M269.4 1746.5h0M254.7 1832.7h0M203.1 1919.1h0M217.5 1857h0M373.3 1810.1h0M190.9 1911.4h0M304.5 1831.6h0M384 1803.1h0M333.1 1827.1h0M248 1750.9h0M329.6 1811.3h0M222.5 1848.4h0M329.7 1774.5h0M353.8 1787.4h0M236.6 1794h0M359.8 1822.4h0M271.8 1752.8h0M345.7 1904h0M330.6 1807.3h0M341.7 1950.2h0M387.3 1810.9h0M265 1776h0M247.3 1783.6h0M248.4 1831h0M376.2 1874.1h0M286.2 1902.9h0M356.5 1898.4h0M203.8 1689.1h0M174.9 1931.9h0M235.8 1947.9h0M289.9 1911.3h0M186.3 1935.3h0M371.9 1846.3h0M290.6 1940h0M249.4 1853.5h0M287.5 1934.7h0M151.3 1902.5h0M186.7 1909.6h0M262.5 1797.7h0M438.7 1936.1h0M244.5 1698.8h0M413.9 1928.7h0M328.7 1852.4h0M230 1728.1h0M161.1 1868.1h0M226.9 1928.8h0M359.9 1944.5h0M327.4 1857.2h0M251 1909.1h0M160.9 1714.2h0M272.2 1792.6h0M287.8 1853.9h0M289.4 1838.8h0M432.8 1951.4h0M234.3 1916h0M175 1726.9h0M218 1873.2h0M214.6 1763.4h0M313.6 1778.2h0M378.8 1852.9h0M194.9 1810.8h0M164.4 1770.6h0M356.6 1773.6h0M245.2 1843.7h0M399 1848.3h0M321.9 1934.6h0M358.6 1867.8h0M188.5 1867.9h0M150.4 1725.8h0M300.9 1797.2h0M220.9 1782.7h0M169.8 1753.6h0M163.6 1951.4h0M263 1758.1h0M363.4 1944.6h0M363.9 1801.2h0M246.1 1910.2h0M408.1 1951.6h0M224.5 1739.7h0M226.9 1835.5h0M169.3 1906.2h0M261.4 1765.8h0M454.9 1875.4h0M273.8 1915.9h0M202.7 1758.4h0M377.2 1789.5h0M229.6 1861.5h0M265.3 1779.4h0M157.3 1925.3h0M158.3 1751.7h0M335.5 1839.5h0M164.1 1952.4h0M380.7 1785.9h0M151 1925h0M182.6 1832.3h0M246.2 1940.3h0M382.7 1899.2h0M324.2 1922.7h0M366.6 1950h0M414.3 1865.3h0M386.3 1830.5h0M224.9 1747.5h0M383.8 1951.2h0M178.5 1705.3h0M180.7 1742.1h0M201 1884.4h0M457.8 1937.1h0M276.8 1744.9h0M234.8 1903.3h0M291.6 1850h0M198.7 1816h0M160.7 1895.1h0M222.2 1706h0M201.2 1930.7h0M285.4 1949.4h0M419.7 1844.4h0M252.1 1927.3h0M367.9 1852.4h0M278.3 1835.4h0M210.2 1893.3h0M227.8 1869.4h0M427.1 1948.8h0M218.3 1847.7h0M211 1710.8h0M199.2 1956.5h0M243.6 1919.3h0M378.1 1823.1h0M360.2 1854.5h0M335.3 1767.2h0M196.8 1868.2h0M244.4 1839.4h0M245.9 1924h0M237.2 1796.1h0M456 1875.1h0M164.2 1867.2h0M202.7 1704.6h0M327.2 1949.4h0M202.2 1822h0M192.1 1908.1h0M404.4 1852.4h0M380 1896.5h0M366.7 1845.7h0M425.8 1906h0M226.5 1959.3h0M178 1801.2h0M229.1 1710.4h0M274.4 1898h0M264.9 1899.3h0M150.7 1889h0M369.2 1937.3h0M261.1 1857.3h0M401.5 1878.6h0M160.5 1761.3h0M159.2 1939h0M412.1 1832.5h0M263.4 1921.6h0M388.6 1857.9h0M417.6 1829.7h0M339.5 1801.6h0M327.5 1761.9h0M230.4 1795.8h0M390.4 1846h0M173.6 1900.8h0M307.8 1906.3h0M218.2 1933.3h0M385.8 1957.4h0M175.7 1933.2h0M344.9 1913.9h0M194.5 1866.2h0M202.7 1698.1h0M195.2 1734.7h0M269 1835h0M167.7 1810.3h0M371.4 1888.5h0M267.4 1936.9h0M421 1845.7h0M197.6 1938.3h0M150.7 1780.8h0M244 1740.6h0M294.5 1882.7h0M179 1861h0M301.7 1832.3h0M236.5 1775.1h0M249.9 1926.5h0M321.8 1935.4h0M172.6 1911.4h0M376.6 1948h0M364.4 1840h0M249.1 1879.7h0M336.9 1806.1h0M412.2 1873.5h0M168.9 1824.7h0M207.6 1889.5h0M264.5 1905h0M318.5 1941.9h0M329.6 1956.4h0M382.8 1853.4h0M160.9 1778h0M206.9 1903.7h0M302.6 1943.7h0M224.8 1704.4h0M267 1805.5h0M309.1 1756.6h0M281.2 1749h0M323 1925.8h0M270.9 1807h0M237.3 1898.2h0M416.9 1820.6h0M229 1859.4h0M209.2 1893.3h0M275.9 1764h0M336.5 1895.6h0M181.2 1946.6h0M241.2 1801.1h0M346.8 1790.9h0M164.6 1773.4h0M272 1859.3h0M195.5 1829.6h0M235.3 1930.9h0M154.9 1763h0M231.4 1848.9h0M196.7 1840.8h0M205.3 1815.1h0M229.8 1871.4h0M269.7 1858.3h0M152.2 1835.2h0M310.8 1918.7h0M236.8 1758.1h0M267.1 1850.1h0M254.3 1888.9h0M222.2 1840h0M276 1879.9h0M421.2 1876.6h0M406.3 1864.9h0M286.7 1745.4h0M179.2 1872h0M221.1 1885h0M252.1 1874.8h0M338.1 1811.1h0M261.6 1817.2h0M274.4 1743.3h0M279.9 1913.3h0M191.1 1691.7h0M183.3 1823h0M455 1916.2h0M225.8 1815.8h0M378.9 1947.8h0M175.7 1829.3h0M320.2 1915.4h0M288 1801.8h0M276.8 1782.6h0M199.6 1802.3h0M312.1 1761.9h0M164.1 1876.9h0M332.7 1834.9h0M179.9 1701h0M315.4 1899.6h0M334.8 1834.8h0M167.7 1943.7h0M308.1 1917.8h0M171.9 1698.6h0M255.8 1913.1h0M229.2 1900.8h0M203.8 1729.2h0M214.6 1932.5h0M226 1745.9h0M269.4 1809.8h0M274.5 1858.8h0M364.6 1864.1h0M393.3 1842h0M153.5 1868.5h0M334.6 1877.7h0M152.6 1714.9h0M412.5 1832h0M444.4 1844.6h0M382.4 1847h0" stroke="#ab98b1" stroke-width="4.8" stroke-linecap="round" fill="none"/>
<path d="M315.1 1804h0M211.6 1873.1l-2.4 2.7M259 1951.4l3.8 1.7M202.2 1784.1h0M161 1825.1h0M255.1 1826.7l3.1 2.7M313.4 1804h0M347.3 1920.2l-1.2 2.5M163.1 1709.4h0M459.5 1893l-4.4 1.9M383.8 1948.8h0M200.4 1882.7l-2.9 0M157.6 1719.4l-4.2 1.3M157.9 1830l-3.6 1.7M291.9 1933.7h0M433.8 1887l0.1 4.5M366.2 1845l-2.6 2.6M163.9 1884.3h0M195.8 1923h0M284.1 1813.3h0M344.2 1853.1l-2 4M239.7 1728.2h0M312.8 1790.6l2.4 2.5M329.3 1888.7h0M413.3 1931.8l4.5 1M395.6 1823.9l0.5 4.2M229.8 1934.7l1.3 2.4M313.4 1824.9h0M360 1931.1l-2.7 3.1M436.6 1948.6l2.1 3.7M319.1 1828.9l2.8 0.6M159.1 1958.1h0M340.1 1852.4l-4.3 0.8M279.6 1779.5l-0.6 3.7M353.6 1866.6h0M421.8 1875.7l3.1 3.4M293.4 1927.5l2.1 3.2M301.8 1859.1h0M327.5 1810.2h0M238.4 1827.2l4.1 0.8M199.4 1776.7l-0.1 4.5M315.1 1862.1h0M351.8 1836.2h0M183.1 1793.9h0M290.3 1929.1l-3.5 2.4M173 1777.8l-2.1 3.5M240 1836.1l-1.3 2.3M215.1 1887.4h0M287.6 1789.3h0M254.4 1890.5l2.5 0.7M337.9 1784.9h0M459 1937.2h0M217.1 1760.1h0M301.9 1751.3h0M289.5 1840.9h0M169.8 1783.5l3.1 3.5M355.4 1796.8h0M408.1 1855h0M321.4 1846.6l4.6 0.6M205.3 1898.7l3.4 2.2M310.4 1937.1h0M348.7 1767.6l1.1 4.7M217.6 1918.2h0M168.2 1830.8l-1.1 3.9M227.7 1837.8l-3.3 1.5M192.9 1910.5l-4 0.4M281.7 1940.4h0M412 1869.5h0M221.3 1861.2l-1.2 3.1M184.1 1902.6h0" stroke="#5a5490" stroke-width="2.4" stroke-linecap="round" fill="none"/>
<path d="M335.4 1712.9l1.6 4.2M473.5 1824.8l-5.6 1.7M500.2 1878.9l5.7 0.9M534.6 1859.6l4.5 2.4M246.5 1711.4l-1.1 4.6M519.9 1945.6l2.5 5.6M536.7 1792.5l5.9 1.7M312.7 1696.9l-1.1 5.1M494 1842.1l5.2 2.3M522.6 1836.9l0.7 3.5M308.7 1727l3.1 3.8M376.4 1762.1l6.1 0.6M465.2 1765.1l-4 5.2M378.8 1708.7l-3.5 6M281.1 1697.3l-6 2.2M523 1717.5l4 0.7M481.5 1916l-0.6 4.5M495.5 1925h0M513.5 1946.5h0M506.2 1801.8l-3.7 0M365.5 1720.1l0 4.9M296.3 1689.1l-1.1 6.2M462.1 1813.2l-3.4 3.3M427.7 1813.5h0M257.8 1738.9l4.9 3.5M511.6 1739.5l4.2 2.8M542.2 1742.9l-0.9 3.8M500.7 1812l-2.7 4.8M542.4 1733.3l4.5 3.9M474.5 1838.7l-2.6 5.8M534 1895.7l6.9 1.2M441.8 1775.3l-1.2 5.7M270.1 1712l-2.2 6.1M470 1955.9l-3 3.9M295.3 1737.6l4 0.2M508.9 1958.8l1 6M485.1 1859.1l-3.2 2.5M417.8 1719.3l2 4.9M512.8 1789.6l0.1 4.6M518.1 1709h0M404.5 1743.8l-1.4 5.3M512 1929.2l-0.9 3.6M498.7 1856.3l1.4 4.5M419.3 1785.8l-2.2 6.4M401.9 1698.5h0M510.3 1715.6l0.1 6.6M530.1 1943.4h0M502.9 1816.8l-5.6 0.4M531.2 1833.8l6.3 0.2M251.3 1730.8l-2.8 2.4M434.3 1723.7l-0.9 5.8M514.1 1844.4l-2.5 6.2M498.8 1709.5l-5.4 3.1M524.2 1695.3l4.7 4.3M304.6 1717.6l-0.5 6.1M481 1868.6l-4.7 4.9M520.9 1830.2l3.2 4.5M541.9 1866.4h0M450.5 1758.3l-4.3 0.1M287.1 1739.4l2.6 3.1M453 1746.6l-2.7 4.6M440.9 1837l3.8 3.9M463.6 1708.4l0.9 4.7M468.3 1956.6l3.2 3.4M477.5 1862.6l-5.2 3.5M442 1729.5l0.4 3.9M484.7 1783.1l-1.7 3.4M482.4 1723.2l-6.7 0.3M547.9 1847.5l-5.7 2.6M377.7 1741.5l0.7 4.1M462 1700.5h0M370.2 1729l1.7 4.1M478.1 1721h0M469.6 1850.8l3.3 3.3M521.4 1921.4l1.6 5.3M543.9 1870.9l3.2 3M403 1774h0M419.6 1785.3l-2.2 4.5M509.8 1957l-1.3 5.1M454.4 1759.3l5 4.3M461.3 1745.9h0M294 1696.5h0M536.7 1956.6l-2.5 3.2M485.3 1711l2.4 6M528.1 1805.3l0.5 4M475 1796.8l3.6 2.8M433.1 1787.1l3.8 5.3M517.6 1880.1l2.1 2.9M464.3 1787.5l-2.6 6.4M464.2 1949.7l0.1 6M409.3 1787.3l1.4 3.4M358.9 1731.3l0.2 5.3M462.1 1801.6l2.9 4M505.1 1773.2l-6.2 2.5M517.6 1701.6l-5.3 3.4M496.6 1921.6l-5 2.6M366.3 1732l6.7 0.8M350.9 1766.7l-1.4 4.3M359.1 1693.5l-4.3 2.6M517.4 1953.6l-6.4 0.4M546.4 1867.2l-4.7 2.4M487.9 1911.8l2.8 3.9M481.9 1774.4l5.3 4.4M538.1 1709.9l-0.4 5M509.1 1785.1h0M468.6 1814.2l1.1 4.1M529.6 1843.3l-2.8 5.6M526.8 1937.8l0.9 4.2M531 1865.1l6.5 0.3M453.4 1772.4l-1.5 3.5M410.2 1807.6l5 3.7M417.4 1712.3l-4.5 3.2M543.6 1871.4l-1.5 3.5M548.4 1835.6l1.9 3.2M466.4 1866.5l6.9 0.9M401.9 1702.4l-6.2 1.1M452 1704l3 2.7M503.5 1836.2l-2.5 4.8M501.8 1908.7l-2.1 3.5M416.9 1774.3l-3.7 4.9M439.5 1745.6l3.2 3.7M501.6 1935l-1.1 5M493.5 1907.3l-4.6 0.8M329.4 1748l-3.3 5.2M537.5 1916.3l2.5 4.8M377.5 1779.2h0M428.7 1744.5l-2.6 4.4M436 1770.1l-6.8 1.1M332.8 1718.5l3.9 4.7M522.1 1948.4h0M349.2 1721.9l5.6 1.9M444.1 1828.5l5.2 0.1M529.6 1959.5l-2.6 3.6M520.1 1791.6l1 5.5M542 1744l-5.3 2.8M334.4 1690.1l2.6 6.2M457.8 1733.4l2.8 4.2M436.4 1756l-6.2 2M489.1 1740.3l3.9 2.6M429.2 1820.6l5.6 1.5M347.9 1727.6l-4.8 2.9M538.9 1849.9l-5.5 1.4M452 1783.2l4.1 1.1M534.7 1890.6l5.9 0.5M255.1 1705l-6.7 0.5M397.1 1745.9l-4.8 1.3M393.8 1760.9l3 6.1M513.4 1890.3l4.1 2M365.2 1737.5l4.9 3.6M528.4 1942l2.5 6.4M495.5 1704.2l-4.1 4.1M531.6 1741l-0.4 6.5M529.8 1878l3.9 2.4M420.8 1718.2l-4.6 4.5M516.2 1921.3l1.2 4.3M546 1753.8l4.5 3M370.4 1702l5.6 3.9M468.8 1851.5h0M524.4 1838.9l-5.2 2.9M496.9 1723.3l-4.9 3.2M372.9 1750.3l5.6 0.7M510.3 1891.4l-6.6 0.5M479.7 1887l2.5 3.2M494.1 1932.8l4.6 0.3M414.2 1774.1l-0.8 3.4M420.3 1815.3l1.1 4.5M493.7 1930.4l-0.1 4M470.1 1755.9l-4.5 0.2M470.4 1707.5h0M458.9 1822.1l-3.9 5.4M531 1849.9l-3 2.1M486 1695.7l5 0.4M543.8 1799.5l3 3.9M456.6 1842.5l-4.8 4.9M329.9 1705.2l-2.3 5.1M529.4 1950.7l4.9 3.6M281.2 1739.4l-4.2 1.5M504.5 1760.1l-4.1 4.4M321.6 1695.8l6.1 3.2M500.3 1725l-4.6 0M497.3 1875.8l-2.1 3.7M490.6 1957.2l-4.9 0.9M507.2 1838l4.2 2.9M471.9 1863.6l-2.7 3.5M538.7 1767.7l-4.3 0.5M495.1 1691.6l-4.2 3.7M347.6 1753l1.2 4M512.8 1704.5h0M460.7 1803.3l-3.3 5.4M308.1 1743.2l4.1 4.1M493.7 1863.3l-0.3 4.8M532.6 1852.3l-3.1 2M478.8 1935.9l3.3 4.7M516.3 1715.5l-3.4 1.5M496 1723.6l-2.7 5.5M343.7 1734.5l-1.3 3.3M537.7 1910.7l-1.5 6.1M490.4 1694.6l-2.9 2.1M462.8 1735.6l-0.3 4.8M515 1842l-5.8 3.3M256.7 1722.1l0.2 6.4M330.7 1703.4l-4 2.4M450.3 1806.8l4.9 3M458.5 1700.6l4.2 2.6M457.1 1720.7l2.1 5.7M464.4 1723.3l-2.8 2.9M388.7 1785.8l1.5 6.4M286.7 1726.4l-3 3.9M437.7 1789.1l-1.7 6M395.4 1731l6.4 0.3M537.4 1831.8l4.2 3.5M418.7 1743.4l-2.7 3.3M443 1827.5l-5.5 1.5M301.7 1692.8l-3.8 3.9M511.5 1939.1l0.5 5.5M546.5 1849.3h0M524.6 1715.4l0.9 4.9M547.1 1893.5l-3.7 2.7M347.6 1736.9l-5.6 3M509.3 1699.1l5.3 2.3M308.5 1712l5.5 1.8M460.9 1849.7h0M385 1696.2l-5 0.1M485.3 1787.2l-3.7 2.6M541.4 1818.7l-2.5 2.9M465.5 1871.2l1.3 5.9M502.9 1869.5l2.5 3.7M502.5 1925.7l-2.9 5.3M480.6 1849.1h0M465.9 1741.1l-3.3 6.2M541.3 1709.1l2.6 5M483.3 1832.2h0M545.7 1956l-1.4 3.8M438.2 1694.2l-0.6 5.5M331.3 1702.4l3.5 2.1M519.8 1930.5l-1.8 4.3M411.4 1771.4l1.4 4.6M501 1744.1l1.2 6.3M429.1 1718.8l2.3 3.5M444.1 1690.3l0.8 6.1M271.6 1701.5l3.3 1.8M466.9 1875h0M477.5 1841.4l5.4 2.5M517.7 1751.2l3.2 3.9M485.6 1907.4h0M491.1 1848.8l1 5.9M536.5 1701.5l-3.9 1.2M376.5 1757l-2.2 5.6M456 1705h0M481.2 1876.5l2.9 2M446.2 1756.3l-4 3.9M493.8 1808.7l-3.6 0.1M409.8 1792.2l0.4 5.4M333.3 1702l-1.8 5.4M508.7 1957.7l-0.4 3.9M433 1720.6h0M307.5 1725.4l-6.7 0M505.5 1840.6l3.5 2.6M441 1751.8l-1.3 5.3M498.4 1931l2.5 4.3M534.7 1915.3l-5.5 1.1M524 1707.6l-5.7 1.6M353.5 1735.2l-6 3.4M517.3 1816.4l-1.4 3.8M530 1840.8l-3.3 2.5M480.6 1905.6l2.8 4.2M458.3 1742.8h0M446 1804.4l-6.5 0.7M484.5 1953.7l-5.5 0.2M465.3 1798.1l-0.9 5.5M336.3 1746.8l3.6 5.1M533.9 1934.7l0.4 6.3M452.7 1848.2l-6.6 0.9M515.9 1865.9l-2.2 3.7M533.9 1949.6l-1.3 3.7M464.3 1761.5l-5.7 0.2M514.6 1788.5l-3.9 4.3M376 1724.6l-5.9 2.6M447.7 1721.3l5.2 1.7M469.7 1695.7l4.8 3.2M495 1748.7l-1 6.2M497.7 1701l4.6 0.2M289.7 1738.4l2.9 3.6M291.2 1736.9l-3.6 5.9M304.1 1724.2l3.8 3.2M490.1 1759.2l-0 6.1M517.4 1851.8l-0.5 5.3M502.8 1753.9l3.6 1M338.3 1691.2l3.8 0.2M487.3 1936.3l-5.6 3.1M414.6 1746.4l4.5 1.4M533.5 1856.3l4.8 2.3M338.4 1689.3l4.7 0.5M457.9 1803.3l-3.4 1.2M325.5 1747.9l-2.5 6.1M347.5 1724.2l-0.8 3.4M491 1820.6l-3.2 2.3M327.8 1717.1l-0.1 5.5M282.7 1741.7l2.1 6.4M274.4 1709.9l-3.4 2.9M478.5 1873.5l4 4.9M494.9 1701l0.7 6.2M421.2 1794.1h0M410.6 1776l-5.2 0.4M395.8 1701.7l-4.9 1.8M529.1 1732.7l5.2 1.5M514.6 1737.8l3.3 4.4M479.8 1700.9l0.9 4.4M531.2 1754.2l1 4.6M283.2 1704.7l-6 1.7M434.8 1731.3l-0.9 6.8M499.6 1813l-6.1 2.5M405.2 1716.1l-1 4M490.8 1842.4l1.2 6.9M491 1849.9h0M472 1900.8l0.1 4.8M491.9 1689.7l1.4 6M495.1 1721.9l3.2 5.8M448.3 1758.4l-0.2 3.7M434.6 1758.6l1 4.6M265.4 1690.6l-1.3 5.8M410.6 1723.6l1 3.5M449.7 1807.8l-0.4 5.9M286.2 1716.5l-1.2 6.5M547.6 1718.4l-3.3 1.9M475.7 1894l-4.4 3.7M463.5 1768.2l5 0.4M261.5 1734l-0.6 5.5M395.5 1750.7l1.7 4.5M470.2 1925.3h0M402.8 1704.7l-3.6 5.1M455.3 1741.8l-0.4 5.2M459.9 1791.1l-4.8 1.3M542.6 1733.3l-6.6 0.9M547 1783.4l-6.3 1.5M483.2 1866l3.1 2.7M479.1 1823.5l-5.3 4.5M480.6 1730.7l2.9 4.4M320.8 1725.3l-3.1 5.5M500 1849.2l3.9 0.9M298.4 1725.5l-4.8 2.4M501.7 1833.6l-5.3 1.7M348.3 1746.3h0M463.5 1714.9l3.9 2.9M318.3 1729.2l4.4 3.7M480.6 1897.4l-6.1 0.8M312 1701.5l-5.4 3.6M355.4 1713.8l-4.6 3.6M316.8 1726l-4.8 4.7M439.8 1728.2l-3.4 4.4M373.8 1765.3l-2.9 2.4M412 1733.4l-4.4 3M408.4 1717.5l-1 5M490.8 1701l-5.3 1.7M529.1 1766.1h0M482.4 1776.5l-1.8 3.1M502.6 1779.6l-4.5 3.6M517.7 1929.3l-0.7 5M470.8 1709.7l-0.7 5.1M390.5 1776.7l0.6 3.7M535.5 1895.3l-3.7 3.8M522.3 1958.7h0M483.7 1818l5.5 0.5M508 1829.8l-0.7 5.2M438.3 1693.4l5.5 0.6M535.3 1777.5l3.4 3.5M546.1 1743.6l-5.6 2.4M545.8 1874.4l4.5 5.4M436.1 1708.9l-6.6 0.6M544.6 1757.8l2.2 4.4M341.2 1720.9l0.5 3.7M460.1 1809.6l-2 6M538.4 1774.7l-4.9 3.3M442.8 1792.8l0.1 6.1M512.6 1782.8l-3.3 2.3M491.5 1898.9l3.3 5.3M418.1 1745.7l5 3.4M529.7 1859.9l-4 1.1M455 1709.3l-0.9 4.8M414.7 1784.6l-1.8 4.5" stroke="#9a90ba" stroke-width="2" stroke-linecap="round" fill="none"/>
<path d="M371.3 1757.2h0M355.1 1694.8l-2.2 1.7M540.9 1714h0M503.5 1740.5l-1.8 2.3M487.9 1705.2h0M522.3 1731.1h0M403.3 1781.5l-2.3 4.4M518.5 1757.6h0M386.9 1714.4h0M509 1760.8l1.6 4M468.3 1836.5h0M474.8 1746.4l0.5 2.6M365.5 1735.5h0M405.7 1788h0M510.2 1838.7h0M434.6 1788.1h0M541.3 1941.7h0M474.8 1914.8h0M327.7 1734.3h0M374.7 1768.2h0M371.5 1732.3h0M434.6 1802.1h0M357.6 1732.6l-4 2.3M313.3 1730l-0.3 4.4M517.2 1693l-3.5 0.3M459.5 1740.3h0M470.9 1924.3h0M504.6 1801.5h0M329.8 1703.2h0M491.3 1748.7h0M343.6 1705.8l-2.9 2.7M394.6 1749.6h0M316.6 1714.8h0M495 1936.2h0M466.1 1740.6h0M287 1721.4l-1.2 2.8M528.5 1852.8h0M260.1 1722.6h0M428.1 1719.5h0M499.3 1727.9l-3.9 1.3M510.4 1894.1l0.6 3.5M286.7 1728.4h0M389.1 1712h0M283 1698.9l-2.9 1.4M505.4 1782.8l1.2 4.8M471.4 1784.8h0M378.2 1702.7l0.8 4.2M517 1769.9h0M313.9 1717.2h0M412.5 1755h0M469.8 1815.3h0M513.8 1801.3h0M520.6 1811l-0.8 3.9M344.9 1762.7h0M518.6 1876.1h0M382 1756.2l1.4 3.3M428.3 1732.5l1.9 2.8M466.8 1864.1h0M279.9 1716.3h0M456.9 1793.2l-0.1 3.5M415.9 1768h0M260 1730.3l-2.2 2M372.3 1744.8h0M361.8 1706.5h0M538.7 1956.1l-3.6 0.5M420.4 1727.1h0M514.1 1922.2l-0.5 4.9M401.4 1801.1h0M472.7 1773h0M440.3 1692.8h0M515.3 1940h0M474.7 1814.9h0M529.5 1940l-4.4 0.3M453.9 1818.9l2.6 0.7M477.7 1715l-3.2 1.6M512 1710.5l2.5 0.9M253.3 1703.7h0M513.6 1868.6h0M511.1 1821.3h0M465.6 1780.6h0M487.5 1946.3h0M536.6 1782.1h0M423.5 1804h0M444.9 1804.3l-2.7 0.2M505.7 1713.2h0M400.2 1797.1h0M542.4 1902.9h0M541.9 1740.8h0M433.6 1703.1h0M494.2 1692.7l-4.4 2M520.7 1857.9l2 4.5M512 1901.3h0M470 1856.3h0M317.9 1741.7h0M420.8 1765.8h0M537.8 1867.2h0M474.7 1767.5h0M390.4 1716.9h0M399.8 1698.3l3.3 0.3M397 1763.8h0M379.7 1721.4l3.1 2.2M461.2 1836h0M532.8 1743.2h0M457.6 1818.6l2.7 1.1M476.9 1744.7h0M393.6 1785.2h0M509.4 1921.8h0M442.5 1700.2h0M457.4 1818h0M324.8 1742.6h0M486.8 1828.2h0M520.9 1691.3h0M473.9 1898.7h0M438.4 1693h0M476.9 1896.7l2.8 3.2M535.9 1896h0M500.3 1913.9l-2.8 1.7M459.1 1816.4h0M479.9 1718h0M523.5 1808.5h0M495.4 1848.7h0M279.5 1729l3.8 1.5M500.2 1811.1h0M300.2 1739.2l0.6 3.2M444.4 1786h0M464.7 1851.1l-1.4 4.7M270.1 1694.2l-3.4 3.4M505.8 1954.1h0M398.3 1716.7l-2.9 3M503.3 1829.8h0M499.5 1726.7h0M504.1 1749l-2.3 2.4M538.5 1689.3h0M266.6 1734.9h0M377.3 1749.6h0M536.1 1749.1h0M530.8 1878.9h0M380.8 1725.2h0M464.5 1700.1h0M314.7 1739.4l2.7 2.5M504.1 1816.1h0M423.7 1715.9l-2.1 3.3M543 1868.1h0M326 1724.7l-0 4.4M449 1741.6h0M533.6 1956l-2.9 1.9M428.5 1711.5h0M483.5 1723.4h0M482.2 1695.4h0M508.5 1701.2l-3.1 0.5M464.4 1734.1h0M531.4 1787.5h0M518.4 1942.8h0M450.5 1803.1h0M499.6 1694.6l-2.9 2.3M446.4 1747.6h0M471.6 1816.3h0M470.6 1810.8h0M500.8 1939.7l-2.4 2.7M460.7 1728.4h0M532.9 1723.9h0M516.7 1894.1h0M466.9 1856h0M486.8 1738.6h0M490.8 1932.6l2.2 3.8M479.7 1958.5h0M486.6 1882.8l-1.3 4.6M360.3 1706.4h0M482.5 1921.9h0M395.5 1714.5h0M420.7 1760.8l2.6 2.9M533.2 1823.4h0M443.8 1689.6h0M503.1 1755.9h0M294.9 1723.9h0M413.3 1787.4h0M447.2 1698.6l-3 2.7M474.5 1921.5h0M300.7 1719.4l1.6 4M467.7 1721.7h0M416.5 1758.6h0M400.5 1696.6h0M527.8 1857.5h0M482.9 1953.3h0M270.5 1708.4h0M525.2 1698.2h0M467.7 1725.1h0M530.1 1947.8h0M485.8 1836.6l-3.5 1.7M471.8 1896.3l-1.8 2.5M388.9 1731.5h0M543.5 1809.6l-3.9 2.5M498.2 1841.6h0M328.3 1752.2h0M456 1807.3l-3.3 0.4M262.2 1701l-4.7 0.7M431.9 1819.5l0.8 4.6M479.4 1882l-0.9 2.4M506.3 1934.9h0M499.3 1814.2h0" stroke="#9a6052" stroke-width="3.8" stroke-linecap="round" fill="none"/>
<path d="M455.9 1750.1l2.9 2.3M491.7 1797.5l3.2 3.4M486.9 1798.8l-0.9 3.1M503.6 1853l4.7 3.7M536 1797.8h0M467.7 1802.5l-2.4 5.5M540.8 1806.3l-3.9 2.2M484 1821l-3.4 0.6M466.1 1817.5h0M491.1 1858l-3.2 3M467.9 1789.3l-0.6 4.6M494.8 1799.1h0M481.8 1812.9l-3 0.7M486.1 1858l0.5 5.7M508.1 1796.7h0M480 1749.4h0M478.1 1804.2h0M474.1 1750.9h0M517.7 1787.3h0M543.8 1814.3l-4.4 3.5M514.4 1845.3l-2.3 4.7M505.8 1848.5h0M514.5 1806.8h0M473.2 1789.2h0M465.2 1822.3l-5.4 1.6M470 1805.3h0M475.6 1747.3h0M507.3 1818.7h0M479.7 1797.7l-0.2 5.7M511 1825h0M456.8 1803.3l3.8 3.9M535.7 1809l2 3.1M474.9 1817.1h0M500.7 1785.5l-0.1 3.7M497.9 1843.5l-3.8 1.1M494 1831.9l3.5 2M497.4 1841.6l-2.2 2.8M546.6 1782l4 2.7M458.9 1798h0M465 1844.5l-1.7 3M504.9 1757.4h0M546.5 1857.7h0M495.5 1757.4l-2.5 3.9M477.6 1746.6h0M471.6 1796.6h0M466.3 1777.1h0M471.7 1798.5h0M478.2 1808.5l-3.2 0.1M527.6 1762.8l5.6 0.4M518.8 1816.6l-1.6 2.7M542.6 1779.9l0.2 3.1M526.5 1769.4l3.2 0.7M487.8 1803.8h0M480.8 1787.1l3.5 3.3M486.9 1815.7h0M455.1 1815.3l4.6 3.7M491.4 1764.7l4.5 0.4M491 1764.1h0M519.1 1768.8h0M537.8 1778.1l-3.1 3.9M467.4 1765.5h0M520.5 1851.1l1.8 5.6M542.5 1746.2h0M460.6 1790h0M494.1 1856.9l-2.2 3.5M538 1784.4l-4.5 1.4M541.6 1854.5h0M542.3 1800.2l-4.3 1.8M502.3 1828.6h0M525.1 1790.7l-2.4 3.2M517 1784.2h0M505.2 1840.2h0M535.8 1785.5h0M459.6 1792.4h0M485.2 1753.4l2.9 1.3M493.7 1781.7l2.9 4.6M457.1 1811.2l-0.5 4.4M471.4 1793.6l-4.5 0.9M500.7 1826.6h0M527.7 1846.9h0M471.9 1786.6h0M526.1 1766.4l5.5 0.5M501.1 1750.8h0M531.5 1769.3h0M499.5 1787.8h0M527.4 1834.2l3.8 1.3M497.9 1764.1h0M464.3 1780l-2.8 3.9M477.7 1761.4h0M509.8 1751.9h0M510.3 1850.9l-3.9 1M542.1 1780.4l2 3.4M543.3 1788h0M515.9 1753.6l1.8 2.5M517.5 1794.4h0M475.6 1791.3h0M530 1784.3l0.7 3.5M463.2 1794.1l1.4 4.8M474 1769l-4.5 3M500.4 1779.1l-3.7 3.4M543 1822.7l4.8 3.4M477.4 1783.1h0M508.2 1856.6h0M477.4 1783.1h0M546.9 1747.1l3.1 1.9M504.8 1809.8l1.9 2.9M523.8 1834l4.3 3.8M491.6 1776.6l0.9 3.1M478.5 1831.9h0M510.2 1852l3.1 0.5M533.5 1828.5h0M482.3 1834.5l-1.1 4.7M545.3 1846.5l5.6 2M533.6 1793.3l3.6 1.1M519.8 1831.2l4.7 0.4M477.1 1786.1h0M532.7 1818.4h0M546.4 1760h0M463 1758.3l-1.8 2.9M502.8 1756l2.7 2.3M532.7 1816.1l-0.7 5.4M525 1763.3h0M494.5 1765.7h0M539 1779.2h0M508.4 1845.8l-2.1 3.6M471.5 1755.1l1 4.1M497.8 1756.4h0M523.5 1757.7h0M532.3 1777.1l4.3 3M538.9 1750.2l-3 3.6M519.8 1854.3l3.4 0.6M490.9 1772.3l-2.3 2.8M532.7 1768.7h0M481.6 1845.1l2 4.3M489.2 1834.4l4.7 0.6M478.8 1833.2l-1.2 3.9M515 1828.5l-5.1 2.4M460.2 1834.6l-2.8 4.1M522.4 1747l1.9 4.6M539.5 1832.2l-1.3 3.9M484.6 1745.3h0M455.4 1790.8l-0.1 4.4M491.8 1847.9l-0.6 3.1M532.6 1823.5h0M462.1 1808h0M459.1 1815.6l-1.1 3.4M506.9 1839.9h0M495.7 1799.8l-2.6 4.4M539.7 1800.2l0.4 5.4M545.9 1842l2.6 1.8M519.3 1791l3.3 2.5M461.9 1780.4l3 0.6M511 1794.4h0M548 1813.3l3.5 1.8M512.2 1748.3l-0.1 5.5M456.7 1764.6l-1.4 4.8M517.4 1767l4.9 0.8M496.1 1794.8h0M458.5 1770.1h0M489 1763h0M468.9 1813.9h0M546.7 1787.9l-1.7 3.8M462.6 1807.3h0M494.8 1763.1h0M494.1 1782.2h0M515.2 1774.8h0M546.7 1791.7l-0.2 3.4M466.3 1851.3l-1.8 4.9M542.5 1789.8h0M544.4 1799.1h0" stroke="#88503e" stroke-width="4.2" stroke-linecap="round" fill="none"/>
<path d="M495.5 1933.1l2.2 5.5M491.6 1877.5h0M489.3 1878.2l0.7 3.1M506.3 1931.8l4.1 1.2M470.6 1910.1h0M504.8 1856.5l-0.1 4.2M511.4 1875.5l-2.1 2.3M478.6 1914.9l2.1 4.8M484.6 1857.6l0 3.6M467.5 1882.4h0M488 1885.9l4.6 1.9M480.1 1890.7l5.5 2.3M501.6 1909.6l-0.6 3.7M493.9 1884.4l-1.6 3M491.8 1857.5l-0.4 3.5M490.8 1858.9l-2 3.5M473.4 1906.5h0M505.2 1919.6l-2.7 3.8M492.8 1921.7h0M509.5 1876.9l-1 4.1M483.5 1933.6l4 1M469.6 1884.7h0M476.9 1906.4h0M479.4 1891.1l-1 3.4M478.2 1887.2h0M483.4 1858.1h0M508.8 1919.4l0.2 5.7M492.4 1922.5h0M484 1927.9l-2.8 2.7M480.6 1891.6h0M479.3 1871.7h0M477.3 1922.6h0M475.1 1921.6h0M475.2 1885.8l2.9 4.8M498.4 1870.9h0M495.7 1856.8l1 4.4M491.1 1904l-3.5 1M487.3 1932.2l-1.3 2.8M471 1862.3l-0.7 3.3M490 1927.4h0M488.8 1858.9h0M510 1905.7h0M474.4 1880.1l-5.6 1.3M497.8 1883.6h0M480 1865.9h0M507.2 1918.4l4.1 2.4M474.2 1913.1h0M483.9 1888.6h0M483.5 1855.8l4.4 2.1M490 1895.3l1.5 4M483.5 1916.4h0M492.5 1923.1l4.7 0.7M504.9 1859.2h0M501.5 1901.2l1.5 5.4M482.5 1919.5l3.2 0.6" stroke="#88503e" stroke-width="4.2" stroke-linecap="round" fill="none"/>
<path d="M446.5 1716.6h0M417.8 1711.4h0M425.7 1710.3h0M409.3 1693.2l-3.7 0.1M428.9 1702.7l-2.8 2.4M430.4 1710.5l1.9 3.7M432.4 1701.6h0M426.7 1689.3h0M405.7 1715.3l2.1 3.4M409.2 1708.5h0M429.8 1690.9h0M429.6 1706.4l0.9 2.9M421 1701.2l-2.8 4.7M444.9 1706.4l-1.2 4.1M439 1696l4 2.6M402.5 1709l-4.8 2M408 1710.1h0M432.8 1692.7h0M426.1 1714.9h0M423.1 1713.1l-2.6 5.3M446.5 1706.6h0M417 1700.9l4.2 0M445.3 1689.1h0M406.4 1703.9h0M424.6 1705.1l3.4 1.1M436 1697.8h0M435.3 1694.8l5.4 1.2M406.9 1707.1h0M413.2 1699.6l-0.4 3.5M405.3 1696.1l1.1 5.7M408.2 1714.2l5.9 0.2M404.3 1719.2h0M418.2 1708.6h0M433.7 1716.1h0M414.4 1715.7l-4.7 3.2M400.3 1714.9l-0.3 3.3M438.7 1695l-0.2 3.8M411.9 1695.8h0M438.1 1711.8h0M420.5 1691.8l1.8 2.7M449.8 1705h0M412.5 1709.2l3.4 1.2M423.9 1694.7h0M423 1710h0M425.9 1707.9h0M433.7 1690.5h0M415.7 1720h0M449.2 1717.3h0M404 1718.1l-2 3.3M423.4 1696.7l0.7 3.2M446.8 1702.9h0M402.2 1692.6l0.3 3.3M413.2 1716.8h0M421.6 1709.6h0M436.6 1715.6h0M418.5 1709.1l5.5 0.7M437.8 1705.2l3.3 0.8M433.6 1696.3l-0.6 6M414.3 1712.9h0M419.5 1718.7h0" stroke="#8e5648" stroke-width="4" stroke-linecap="round" fill="none"/>
<path d="M549 1802 L538.2 1819.6 L527.9 1835.2 L512.4 1848.1 L507.2 1861 L515 1876.5 L520.1 1892 L512.4 1912.7 L502 1933.4 L495.6 1962 L549 1962 Z" fill="#f4f3f1"/>
</g>
<path d="M253.4 1739 L300 1745 L344.8 1764.8 L380 1785 L413.8 1813 L440 1838 L458.6 1861.4 L468 1885 L470.7 1902.8 L466 1930 L458.6 1962" fill="none" stroke="#111" stroke-width="2" stroke-dasharray="7 5"/>
<rect x="154.5" y="1693" width="92.1" height="62.2" fill="#dbc9c8"/>
<g filter="url(#blob)">
<circle cx="181" cy="1712" r="8" fill="#a898b8" opacity="0.8"/>
<circle cx="197" cy="1720" r="9" fill="#9a88b0" opacity="0.7"/>
<circle cx="212" cy="1706" r="7" fill="#b09ab0" opacity="0.7"/>
<circle cx="174" cy="1737" r="8" fill="#a290b5" opacity="0.7"/>
<circle cx="206" cy="1741" r="8" fill="#a38ea8" opacity="0.7"/>
<circle cx="230" cy="1732" r="7" fill="#b9a1ae" opacity="0.6"/>
<circle cx="232" cy="1706" r="6" fill="#b8a6b8" opacity="0.6"/>
</g>
<rect x="154.5" y="1693" width="92.1" height="62.2" fill="none" stroke="#000" stroke-width="2.4"/>
<rect x="451" y="1693" width="92.8" height="62.2" fill="#cba99c"/>
<g filter="url(#blob)">
<circle cx="466" cy="1710" r="7" fill="#6e3a28" opacity="0.85"/>
<circle cx="478" cy="1725" r="8" fill="#7a3a22" opacity="0.9"/>
<circle cx="497" cy="1712" r="7" fill="#7d3e26" opacity="0.9"/>
<circle cx="512" cy="1722" r="8" fill="#6f351f" opacity="0.9"/>
<circle cx="530" cy="1712" r="7" fill="#7a3a22" opacity="0.85"/>
<circle cx="523" cy="1738" r="8" fill="#7a3d28" opacity="0.9"/>
<circle cx="500" cy="1740" r="7" fill="#7d4129" opacity="0.9"/>
<circle cx="470" cy="1746" r="6" fill="#6d6a90" opacity="0.6"/>
<circle cx="538" cy="1746" r="6" fill="#74402a" opacity="0.9"/>
<circle cx="459" cy="1695" r="5" fill="#7a4a38" opacity="0.7"/>
<circle cx="490" cy="1700" r="5" fill="#8a5040" opacity="0.7"/>
</g>
<rect x="451" y="1693" width="92.8" height="62.2" fill="none" stroke="#000" stroke-width="2.4"/>
</g>
<rect x="157" y="1940.4" width="96.4" height="4.2" fill="#000"/>
<text x="327.5" y="1885.5" font-size="24" text-anchor="middle">NT</text>
<text x="464" y="1808" font-size="24" text-anchor="middle">T</text>
<clipPath id="cp2"><rect x="548.7" y="1689" width="400.3" height="270.7"/></clipPath>
<g clip-path="url(#cp2)"><g filter="url(#soft)">
<rect x="548.7" y="1689" width="400.3" height="270.7" fill="#ecebeb"/>
<path d="M683.4 1686 L952 1686 L952 1962.7 L699 1962 L723 1923.4 L740.3 1902.8 L771.4 1883.8 L802.4 1871.7 L819.7 1854.5 L823 1834 L816 1815 L792 1799 L768 1785.5 L737 1775 L716 1754.5 L692 1727 L683.4 1687 Z" fill="#ecebea"/>
<path d="M722.6 1885.1h0M638.8 1953.1h0M588.3 1888.8h0M630 1949.6h0M668 1858.6h0M682.8 1717.2h0M817.8 1833.2h0M694.6 1818.3h0M670.1 1714.7h0M630.9 1873.4h0M749.6 1885h0M692.4 1804h0M684.6 1753.8h0M782 1820.5h0M669.3 1790.4h0M657.9 1790.8h0M609.8 1724.3h0M617.2 1955.3h0M628 1760.6h0M709 1798.8h0M624.2 1857.7h0M768.2 1789h0M734.3 1818.2h0M753.1 1850h0M642.2 1914.8h0M680.1 1850.6h0M631.6 1819h0M590.6 1707.7h0M734.6 1795.1h0M636.2 1718.8h0M605.9 1767.2h0M729.5 1779.3h0M779 1839.6h0M573.5 1945h0M571.9 1700h0M661.2 1865.9h0M692.2 1754.9h0M623 1822.4h0M736.9 1899h0M570.5 1847h0M784.7 1816.7h0M582.3 1796.1h0M579.3 1882.9h0M608.4 1879.3h0M652.5 1755.1h0M570.4 1730.9h0M560.3 1877.4h0M574.7 1862.1h0M784.6 1861.1h0M695.3 1915.5h0M741.4 1819.4h0M665.5 1908.3h0M576.8 1834.9h0M651.3 1891.4h0M798.8 1854.6h0M596.8 1774.5h0M572.8 1704.4h0M709 1780h0M683.1 1954.1h0M685.1 1889.9h0M635.3 1874.3h0M585.4 1916.2h0M688.6 1772.1h0M585.5 1924.1h0M647.2 1906h0M634.6 1909h0M590.6 1834.7h0M551.8 1695.2h0M708.4 1877.9h0M684.8 1758.4h0M635.6 1944.9h0M565.2 1843.9h0M657.5 1763.3h0M608.8 1904.9h0M647.8 1857.1h0M636.7 1937.7h0M653.4 1906.4h0M787.5 1809.9h0M607.8 1775.8h0M783.4 1863.7h0M580.9 1755.8h0M671.2 1714.6h0M646.4 1808.7h0M565.6 1701.8h0M551.5 1728.8h0M760.1 1810.1h0M732.7 1785.5h0M661 1866.7h0M607.5 1915.9h0M703.4 1843.6h0M707.1 1878.3h0M820.3 1849.6h0M614.2 1939.8h0M701.1 1809.7h0M633.5 1805.9h0M590.1 1817h0M717.7 1857.2h0M630.7 1855.3h0M585 1953.8h0M630.9 1922.6h0M566.9 1876.4h0M735.6 1873.8h0M642.2 1824.6h0M580.4 1790.7h0M606.1 1956.1h0M631.4 1898.6h0M552.4 1937.7h0M700.4 1802h0M575.6 1701.1h0M776.9 1846.8h0M664.3 1938.8h0M587.5 1872.7h0M582.5 1758.4h0M739.4 1894.1h0M553.8 1726.6h0M682.7 1910.8h0M657.3 1910.9h0M594.9 1724.4h0M655.4 1854.6h0M690.5 1734.8h0M597.7 1765.4h0M592.9 1860.9h0M647.1 1707.8h0M613.1 1838.3h0M586.3 1936.1h0M614.4 1704.2h0M675.7 1943.6h0M621.8 1835.9h0M575.3 1760.5h0M574.2 1918h0M637.1 1921.7h0M578.6 1895.1h0M669.8 1838.8h0M722 1781.7h0M756.2 1817.7h0M596.7 1848.1h0M681.6 1944.3h0M591.2 1755.7h0M573.1 1885.3h0M591 1847h0M665.8 1928.7h0M646.4 1842.7h0M710.1 1748.8h0M639.8 1709.1h0M711.1 1817h0M689.9 1957.7h0M628.9 1890.4h0M637.9 1783.5h0M644.8 1887.7h0M783.5 1862.1h0M683.2 1722.1h0M682.5 1721.4h0M670.8 1939.7h0M631.1 1871.7h0M636.4 1890.2h0M631.7 1915h0M566.2 1760.3h0M731.6 1859.6h0M722.3 1881.6h0M644.8 1953.1h0M703.5 1753.8h0M680.9 1943.4h0M685.9 1764.2h0M560.4 1843.5h0M552.1 1883h0M658.6 1740h0M657.5 1862.6h0M766.7 1864.2h0M610.8 1744.1h0M579 1714.9h0M626.4 1837.9h0M695.5 1782h0M614.8 1812.4h0M756.7 1791.6h0M561 1819.6h0M623.5 1771h0M670.6 1729.9h0M690.9 1939.2h0M744.3 1839h0M697.1 1759.2h0M708.4 1893.4h0M651.1 1689.1h0M720.5 1853.9h0M663.3 1729.5h0M615.2 1807.9h0M600.6 1694h0M550.8 1707.1h0M592 1901.1h0M622.7 1953.5h0M600.2 1698h0M708.6 1832.4h0M592.3 1779h0M728.8 1854h0M673 1949.2h0M736.4 1783.6h0M737.7 1887.1h0M683 1872.5h0M599.9 1694.1h0M667.9 1782.7h0M558.2 1762.2h0M760.3 1829.4h0M581.4 1795.5h0M696 1908h0M752.1 1856.8h0M596.6 1706.2h0M610.7 1945.5h0M673.2 1772.7h0M730.3 1904.1h0M741.6 1800.9h0M587.4 1943h0M567.1 1734.6h0M791.9 1858.1h0M664.8 1815h0M698.7 1790.9h0M684.7 1777.1h0M649.6 1738.4h0M622.8 1938.1h0M660.9 1879.2h0M726.2 1885.3h0M617.4 1788.1h0M569.6 1734.8h0M778.7 1849h0M583.3 1943.4h0M699.6 1859.5h0M697.6 1785.9h0M687.3 1898.7h0M599.4 1848.5h0M630 1754.6h0M702 1914.1h0M705.1 1827.1h0M592.6 1867.9h0M664 1956.4h0M756.9 1810.5h0M680.2 1935.3h0M693.9 1765.7h0M774.2 1849.9h0M648.6 1708h0M757.6 1887.8h0M639 1918.6h0M649.7 1956.4h0M695.1 1858.2h0M692.3 1798h0M762.7 1856.2h0M549.3 1755h0M677.7 1746.8h0M634.1 1850.8h0M667.4 1825.4h0M604.8 1756h0M552.7 1766.4h0M661.1 1692.1h0M716.2 1859.9h0M651.4 1691.4h0M663.5 1744h0M676.2 1811.4h0M592.9 1912.2h0M735.6 1796.3h0M733.3 1840.3h0M621.2 1773.8h0M569.8 1803.4h0M771.7 1875.5h0M658.9 1742.4h0M672.2 1805.6h0M585.6 1939.6h0M592.7 1702.9h0M736.6 1839.8h0M592 1857.2h0M608.3 1916.9h0M687.7 1849.3h0M662.1 1870.9h0M642.6 1958.3h0M666.3 1832.7h0M687.6 1774.9h0M725.4 1817.6h0M593.3 1877.4h0M621.3 1944.8h0M775.8 1798.3h0M599.8 1849.8h0M640.6 1877h0M586.9 1821.7h0M670.1 1907.2h0" stroke="#d2c4d6" stroke-width="5.6" stroke-linecap="round" fill="none"/>
<path d="M741.4 1836.9h0M634 1932.6h0M563 1856.7l2.1 2.7M784.4 1858.3h0M562.5 1825.8h0M616.4 1768.7l2.6 0.9M662.7 1815.7h0M703.5 1754.3l-0.6 3.9M561.4 1763.1l2.7 1.4M620.5 1920.9l4 0M591.2 1844.6h0M749.7 1865.8l-1.5 2.6M643.3 1806.9h0M662.1 1839.2l2.7 0.5M578.8 1896.5l-2.8 2.1M656.8 1959.1l-4.7 0.8M612.4 1900l-2.7 1.2M555.2 1823.8l-1.5 3.9M700.4 1768.9l3 3.7M667.8 1795.9l3.2 0.4M562.1 1922.2h0M666.7 1693.4h0M663.2 1932.6l2.2 2.5M685.7 1881l-0.7 4.1M761.2 1791.5l-3 2.7M759.8 1812.4l-2.2 2.5M653.2 1899.1l2.5 3.4M683.1 1707l3.7 0.2M752.8 1870.7h0M801.1 1816.2l3.3 1M567.6 1801.6l-2.2 2.8M700.7 1853.7l-3 2.3M779.5 1866h0M677.7 1750l4.2 1M658.8 1912.8h0M693.5 1857.8h0M556.4 1870.1l1.2 2.9M661.1 1883.7l-1.6 2.3M613.5 1828.7l-0.4 2.5M666.2 1722.9l-3 0.6M724.1 1768.1h0M713.8 1871.3l-0.8 2.8M695.2 1882h0M700.8 1831.6l-3.9 1.7M609.8 1838.5l-2.9 0.6M654.3 1916.7l0.3 4.3M771.4 1819.5h0M761.8 1838.9l-4.1 2.4M672.3 1784.5l-0.7 3.7M580 1739.5h0" stroke="#a8a4d4" stroke-width="2.2" stroke-linecap="round" fill="none"/>
<path d="M783.7 1945.3h0M839.9 1825h0M946.4 1774.6h0M787.9 1792.5l-3.5 0.6M865.5 1844.6h0M905.1 1939.3l-2.6 1.5M911.4 1794.7l-2.3 0.4M904.6 1935.5l0.4 3.9M907.2 1871.6l3.5 1.7M882.2 1864.3l-2.8 0.9M733.3 1914.4l3.2 0.1M724.4 1937.1l-1.7 2.6M908.7 1761.1l3.6 1.4M810 1888.6l1.5 2.4M772 1944.5h0M841.1 1882.9l2.3 1.5M817.3 1815.9l1.8 1.6M848.8 1924.7l-0.4 3.4M802.5 1943.9h0M900.9 1869.1h0M886.9 1942.5l3.1 0.6M709.6 1709.9h0M832.3 1689.8h0M856.5 1956.9h0M719.3 1936.2l1.6 2.5M858.9 1827.3l2.7 2.9M787.2 1731.6h0M867 1694.3h0M767.5 1925.7h0M702.7 1729h0M821.4 1733.9h0M919.7 1785.9h0M794.4 1701.1l-2.4 1.8M761.4 1750.1l-2.9 0.2M800.4 1769.8l1.3 1.9M831.9 1836.5h0M760.7 1771l2.3 0.6M948.5 1723.9h0M770.9 1915.8h0M911.7 1951.5l-2.8 2.8M714.8 1728.5l1 2.1M815.7 1935.9h0M830.8 1803.9l1.9 1.2M843.8 1916.9l-2.6 2.1M845.1 1920.3l0 2.1M822.5 1746.9l2.9 1M923.7 1888.2l-3.1 0.4M905.5 1835.9h0M941.2 1796.3l2.2 0.6M719.8 1739.3l-2.2 1.9M861.2 1871.6h0M807.2 1795.5h0M768.7 1901.2h0M824 1892.9l-2.9 0.2M914.7 1770.4l-1.6 2.3M834 1849.1h0M917 1742.8l0.3 3.2M916.8 1768.9l-0.9 2.1M788.2 1914.4h0M816.5 1766.3h0M932.6 1795.2l-2.3 3.2M935.1 1941.8h0M885.7 1831.2h0M736.1 1957h0M846.5 1865.3l-2.4 0.7M845.6 1852.2l0.2 2.6M930.4 1694.1h0M725.2 1703.7h0M846.7 1817l-2.5 0.4M843.4 1801.3l2.4 2.4M896.3 1711.6h0M820.9 1900.6h0M890.9 1784.3h0M838.7 1801l-2.1 0.6M693.9 1720.7l-2.3 1.4M947.1 1776.9l0.1 3.7M941.8 1936.7l-0.3 2.4M924.9 1715.8h0M823.4 1755.3l-3.9 1M799.7 1873.6h0M938.3 1938.7l3 0.4M839.7 1943.5l3.9 0.2M896.2 1902h0M739 1732h0M884.7 1944.5h0M818.9 1943.5h0M935.4 1767.4l-0.7 3.1M860.4 1930.2l0.5 2.8M771.4 1692.2l0.8 2.6M738.9 1741.4l0 3.8M944.4 1883.6l-2.1 2.1M864.6 1840h0M744.7 1725h0M885.4 1819.2h0M838.6 1890.3l1.9 2.8M856.7 1811.3h0M917.5 1824.2l1.4 2.9M729.2 1759.6h0M887 1744.6l1 2.2M867.8 1926.4h0M784.3 1953.2l2.4 2M744.3 1909.9h0M932.2 1885.4l0.5 3M768.3 1733.6h0M775.1 1786.3l0.7 1.9M896.1 1787.2h0M857.9 1757.7h0M908.9 1866.3l-1.2 2M940.7 1726.3h0M755.8 1957l0.4 3.1M905.7 1742.5l1.3 2.6M895.2 1765h0M915.1 1797.5l-2.6 0.1M753.9 1909.6h0M949 1828.5h0M741.6 1715.2l-1.6 1.5M783.7 1725.5h0M894.4 1948.5l-2 0.8M836.4 1826.5h0M754.2 1936l3.4 1.2M764.6 1888.2h0M874.9 1920.8h0M855.1 1813.2l-2.6 2.8M882.6 1931.3l4 0.1M855.9 1940.2h0M891.5 1728.8h0M931.7 1858.7l2.4 0.6M761.6 1692.2h0M828.9 1698.2l-1 3.8M883.7 1692.5l-0.2 2.3M913 1762.7l2.3 1.5M900.4 1917.2h0M947 1721.2h0M775.7 1931.9h0M867 1773.8l2.5 2.2M905.1 1692.6l1.7 1.3M794.2 1699.3h0M859 1751.7l-2.9 1.1M857.8 1719.4l-1.7 2.2M864.2 1717.8l-0.3 2.9M847.4 1738.2l1.6 1.6M905.7 1945.5l-2.7 1.7M936.1 1852.6h0M751.3 1770h0M796 1919.5l1.7 3.4M832.4 1691.8l3 1.3M827 1836.1l1.3 3.6M894 1955l-0.3 3M907.1 1878.4l3.1 0.9M922.8 1740.9h0M884.6 1850.4h0M855.4 1726.8h0M830.7 1940.1h0M848.5 1778.2l-2.2 1.6M828 1850.8h0M720.5 1723.1h0M863.1 1747.1l2.7 0.9M766.2 1735.2l-3.3 1.4M697.6 1720.8h0M893 1751.5h0M781.9 1764.5l-1.5 3.2M941.8 1914.3h0M892.3 1833.5h0M731.1 1929.4h0M800.7 1733.9h0M900.3 1780.9h0M740.6 1941.4l3.1 2.5M780.9 1744.2l2.1 1.4M805.3 1735l0.9 3.3M855.6 1913.7l-2.4 0.4M891.4 1891.5h0M842.7 1797.2l-1.7 2.1M804.6 1757.5l3.2 2.3M713.1 1724h0M849.2 1805.8l0.5 2.6M870.2 1887.4l-2.9 1.3M808 1701.3l2.2 0.5M848.5 1937h0M919.7 1777.5h0M888.6 1860h0M921 1842.1h0M859.5 1940.8l-3 1.7M716.6 1698.3h0M783.2 1699.9l0.1 3.8M894.7 1800.3l2.3 0.8M753 1903.2l-3.5 1.6M937.2 1809.2h0M743.9 1723.6l-1.8 3.4M862.7 1739.4h0M857.1 1696.2h0M785.5 1900h0M789.5 1784.4h0M824.8 1725.7l3.8 0.8M809.3 1797.6l-1.1 2.4M944.6 1920.8l-0.5 3.1M728.7 1735.5h0M800.9 1715.6h0M776 1720.7h0M816.4 1941.2l-2 0.7M831.5 1762.6h0M837.9 1839h0M901.5 1841.9l2.6 1.5M943.2 1882h0M946 1955.2h0M824 1702.5l3.8 0.2M849.6 1714.9l-3.1 0.9M820.4 1727.8l2.8 2.7M895.8 1859.9l3.6 1.7M751.4 1701.1l1.7 3.2M782.6 1908.5l-2.1 1.6M819.2 1793l3.2 1.9M819.5 1742.1l-1.8 1.1M788.6 1787.3l-2.8 1M711.1 1717.8l0.2 2.1M882.6 1727.4h0M741.3 1773.9h0M797.4 1921.8h0M821.1 1786.8h0M851.9 1885.6h0M887.9 1908.6h0M862.6 1714.7l-1 3M738.9 1736.3l1.1 2.5M736.2 1726.7l0.5 3.8M916.7 1927l-2.2 2M851.2 1807.9l-3.3 0.5M795.9 1906.7l-2.6 3M757.8 1954.2h0M933.3 1808.8l0.4 3.4M923.3 1922.2h0M906.5 1700l0.6 3.5M857.7 1877l3.7 0.7M943.5 1723.6l-2.9 1.4M854 1948.9h0M921.5 1872.2l-2.2 1.3M768.7 1947.7h0M866.5 1927.8l-2.3 0.5M875.8 1942.6l1.5 3.7M737.5 1938.1h0M846.1 1775.9h0M889.6 1866.7l-0.9 3.3M788.4 1796.1l0.6 2.1M905.6 1819.5l-3.5 0.3M925.5 1733.9l1.6 1.4M859.4 1743.1l1.2 3.2M857.7 1718.5h0M928.7 1764.9l3.7 0.1M751.7 1747.8l0 2.7M858.7 1854.8h0M827.5 1839.9l-2.3 2.5M947.8 1779.3l1.5 1.8M890 1823h0M946.2 1928.2l-3.4 1.1M859.1 1703.2l-2.6 0.9M757.2 1906.2h0M790.1 1919.2h0M812.6 1716.7l-3.3 1.1M924.1 1769.6h0M873.1 1923.7l-1.1 1.8M747.1 1701.3h0M917.8 1784.4l0.3 3M917.9 1718.9h0M723.5 1753.3l3.4 1.5M747.7 1936h0M915.1 1728.6l1 2.1M917.6 1718.4h0M728 1729h0M903.8 1902.7h0M913.1 1835.9h0M844 1818.8l2 0.1M850.5 1714.4h0M892.8 1841.3l0.7 3.4M901.4 1937.8h0M749 1747.2h0M802.4 1893.5h0M712.4 1955.6l1.4 3.7M830.6 1919h0M793.9 1893.6l-3.6 1.6M868.9 1701.8h0M822.8 1907.2h0M833.3 1836.8l0.5 2.3M826.8 1939.9h0M883.7 1791.8l-1.8 1.7M807.7 1695.6h0M840.9 1861h0M846.7 1902.4h0M841.5 1850.2h0M905.1 1943.3l-0.9 2.5M837.1 1928.2h0M771.1 1912.8l-1.2 3.7M793.1 1704.9l2.4 0M806 1791.7h0M758.1 1776.6l1.3 1.8M756.8 1732.6l-1.2 3M785.6 1883.8l1.7 3.5M947.3 1793.5h0M860.1 1775.8h0M923.4 1707.5h0M944.9 1785.7h0M728.6 1959.4h0M797.9 1748.2l-1.7 3.6M721.3 1959.1h0M845.3 1950.3h0M943.1 1941.8l2.5 0.1M761.3 1734.5l-0.4 3.7M889.1 1932.5h0M715.9 1704.9l-2.5 1.3M945.4 1928.9h0M889.5 1895.8l1.5 2.2M811.2 1891.4h0M801.3 1936.5h0M946.8 1853.1l-0.8 2.3M743.2 1944.3l-2.1 2.6M933.2 1763.4l-3.3 1.1M946.5 1928.9h0M897.5 1708.1h0M776.2 1916h0M878 1727.7h0M844.3 1938.5l0.4 2.2M738.8 1740.8h0M726.1 1749.3h0M872.1 1716.8h0M783.1 1793.1l1.9 0.9M917.2 1704.3l-1.8 2.3M932.5 1859.9h0M718.9 1742h0M818.8 1772.3h0M849.1 1926.6l1.1 2.1M808.3 1894l2.1 0.2M819 1740.4l-2.2 0.7M942.8 1877.3l-0.9 2.5M847.8 1920.7h0M754.3 1709.2h0M917.8 1766.2h0M812.1 1914.3l2.6 3M723.3 1736.2l1.3 1.5M891.1 1812.5h0M802.7 1936.5l-3.6 1.5M808.7 1894.3l0.4 2.6M853.1 1693.6l1 1.9M828 1842.2l-0.5 2.3M921.2 1722.4h0M884.5 1854l2 1.4M835.9 1747.2l-0.2 3.5M881.6 1720.5h0M901.7 1773l0.3 2.4M887.6 1774.7h0M943.7 1804.7h0M918.3 1751.6h0M761.2 1765.7h0M783.6 1913.1l0.9 3.1M937.7 1753.4h0M722.7 1709.2h0M855.4 1959.1l-2.1 2.4M856.2 1957.6h0M935.9 1783.3l1.2 3M850.1 1860.4h0M861.7 1877.2h0M788.5 1922h0M884.3 1848.6l-1.6 1.5M760.3 1743.1l-1.1 3.7M827.9 1937.2l-1.9 2.2M873.1 1944.6l1.6 2.8M811.9 1914.9h0M883.1 1702.1l-2.2 2.3M923.9 1707.6l-3.1 1.7M862.5 1795.6h0M733.2 1759.2l0.6 3.2M762.4 1934.4l0.8 2.4M840.8 1722.5l-1.3 3.7M861.3 1707.7h0M799.3 1701.8h0M942.9 1776.5h0M830 1704.3l2.8 0M794.8 1959.1h0M881.9 1793.6h0M902.4 1864.2l2.8 2.3M834.7 1824.2h0M890.2 1698.6h0M731 1720.8h0M895.4 1796.8h0M808.1 1938l2.6 0.6M910.9 1691.4l2.8 1.3M801.6 1743.6l0.1 3.7M822.8 1792.6l3.7 1M806.1 1739.9l-3.9 0.3M870.1 1829.9h0M814.4 1737.6h0M845.7 1757.7l0.4 2.3M843.2 1726.2h0M833.8 1863.8l2.1 1.1M852.9 1692.4h0M948.1 1827.7l-2.2 2.2M738.5 1737.7l-2.1 3.1M818.2 1801.2l-2.2 2.1M802 1942.1h0M748.7 1752l-2.8 0.2M922.9 1827.7h0M798.3 1768.1l2.3 1.1M908.1 1793.8h0M772.8 1782.4h0M865.9 1956.7h0M796.4 1915.7h0M804.8 1878.2h0M721.9 1757.3h0M878.8 1954.3l-0.5 3.3M739.8 1773h0M766.9 1934.2l-1.9 2.3M878.9 1946.2l2.8 2.2M891.3 1894.6h0M788.9 1891.2h0M802.2 1899.9h0M808.5 1925.5l3 0.5M755.6 1722.6l3.1 2.4M854 1933.5h0M825.8 1794.4h0M845.7 1936.4l-0.7 3.8M879.6 1940.5h0M929.6 1896.6l0.3 3.3M830.8 1860.1l2.7 2.2M860.1 1788.8l-1.4 2.6" stroke="#c09488" stroke-width="4.6" stroke-linecap="round" fill="none"/>
<path d="M860.4 1935.1h0M923.6 1922.3h0M740.1 1753.4h0M901.6 1942.1h0M807.5 1943.6h0M754.9 1725h0M920.3 1900.9h0M911.4 1755.2h0M897.1 1887.7h0M908.8 1815.5h0M849.5 1920.7h0M861.8 1894.3h0M822.3 1815l2.2 2.1M808.6 1794.8h0M862 1880.7h0M913.3 1865.3h0M856.6 1910.9h0M882.3 1730.9h0M938.4 1785.5l1.2 3.2M753.5 1755.9h0M948.1 1940.2h0M858.8 1739.4h0M910.9 1724.5h0M839.7 1690.3h0M944.5 1809.3h0M884.1 1752.2h0M919.3 1871.5h0M843 1730.4h0M815 1891.9l3 1.8M790.5 1703.1h0M901.1 1761.9h0M871.4 1725.6h0M746.3 1699.6h0M940.6 1696.3h0M809.1 1729h0M735 1765.3l-0 2M870.1 1702.8h0M882.3 1844h0M722.8 1702.1h0M817.6 1876.4h0M837.5 1897.9l-1.9 2M913.8 1838.6l-2.1 1.5M929.3 1774.2h0M708 1692l0.6 3.8M803.8 1897.6h0M810.1 1759l2.9 0.1M924.9 1722.3l3 0.9M861.7 1719.3h0M758.8 1767.1h0M852 1831.2h0M924.4 1696.3h0M886.4 1959.2h0M831.3 1872.2h0M791.3 1927.5h0M833 1749.8h0M783.3 1793.9h0M885.4 1920.4h0M835.7 1797.4h0M904.8 1852.5l-3.1 0.3M812.5 1890.6l2.6 0.2M735.3 1921.7h0M717.2 1740.9h0M753.5 1710.1l1.3 3.2M889.2 1859.3h0M800.4 1891.1h0M816.5 1884.9h0M929.3 1871.5h0M876.6 1891.5h0M884.2 1702.1h0M913.1 1933.2h0M793.5 1898.3h0M860.1 1884.7l3.3 1.8M785.9 1938.1h0M853.9 1924.9h0M772.5 1952.6h0M799 1920h0M912.3 1796.4h0M807.1 1941h0M701.7 1732.1h0M927.4 1789.9h0M748 1774.4l-2.3 0.5M882.1 1788.1h0M924.2 1821.3h0M918.5 1872.1h0M784.3 1755.6h0M796.3 1881.3h0M750.7 1739.2h0M833.4 1728.5h0M813.8 1951l1.8 1.9M931.3 1851h0M687.8 1691.7h0M933.8 1715.2h0M858.3 1749.4h0M790 1879.3h0M881.7 1897.5h0M825.6 1759.2h0M707.7 1951.6h0M870 1876.4h0M776.7 1906.2h0M944.7 1863.9l-1.6 2.5M940.5 1759.3h0M788.1 1903.3l0.6 2.6M866.6 1779h0M823 1880.1l0.7 3.5M930.5 1933.3h0M797.8 1737.6h0M859.5 1834.1h0M739.9 1924.7h0M763.3 1913.6h0M801.4 1940.2h0M869.8 1738.5l1.9 1.7M928.7 1736.3h0M916.8 1858.8l3.1 2.1M877.1 1744.7l-0.8 1.9M932 1797.4h0M843.2 1820.1h0M922.7 1799.7h0M804.7 1788.8l-3.2 0.6M927.8 1957.5h0M705.7 1956.9h0M827.5 1828.6l2.4 1.5M835.9 1830.1l-0.7 1.9M889.8 1781.8h0M882.5 1794.8h0M915.3 1883.2h0M802.8 1945.8h0M745.2 1911.1h0M818.5 1707.3h0M795.4 1779.9h0M751.4 1911.1h0M726.6 1719.6h0M940.9 1810.4h0M854.5 1955.6h0M819.3 1925.7l1.5 3M915.3 1801.5h0M765.9 1700h0M797.8 1744.5h0M790.8 1740h0M825.7 1771.8h0M819.1 1900.7l-2.3 0.7M927 1799.1h0M766.4 1906.5l1.4 2.5M864.7 1715.1h0M841.6 1897.3h0M899.1 1937.8l0.7 2.8M723.9 1938.8h0M931.4 1914.4h0M928.2 1697.8l4 0.2M794.7 1899.2h0M872.9 1798.9h0M774.1 1941.5l2.1 2.3M850.1 1697.8h0M841.7 1767.1h0M828.3 1823.6h0M698.9 1717.4l1.7 3.1M804.1 1916.9h0M871.9 1756.3h0M804.3 1907.2l0.1 2.8M883.4 1702.1h0M728.9 1727.9h0M834.6 1763.8h0M800.1 1775.9h0M765 1893.2h0M871.9 1845.6h0M808.7 1874h0M840.7 1774.4h0M929.9 1787.1l-1.7 1.6M940.6 1708.5h0M867.2 1929.9h0M918.9 1914h0M858.7 1700.9h0M849.5 1713.9h0M888.8 1823.7h0M757.4 1940.6l3.2 0.8M916.4 1912.1h0M749.7 1946h0M710 1740.9h0M938.6 1795.6h0M753.1 1717.2h0M885.8 1849.4l-2.4 0.8M917.8 1707.2l-1.4 2.1M802.7 1764.5h0M799.2 1758.7h0M908.4 1718.4h0M803 1728.4l2.2 2.6M768.4 1944h0M943.7 1805h0M772 1890.4h0M777.7 1888.2h0M719.5 1710h0M831.5 1919.1h0M816.8 1726.4h0M943 1757.7h0M769 1923.4h0M833.7 1851.8l1.6 2.7M840.3 1802.7l2.9 0.1M824.2 1955.5l-2 2.5M880.4 1909.4h0M912.9 1837.1h0M774.6 1954.1h0" stroke="#cdbfd0" stroke-width="4.4" stroke-linecap="round" fill="none"/>
<path d="M941.9 1801.1h0M885 1739.4h0M914.9 1694.8l0.2 3.6M888 1926.5l4.9 3M933.4 1691.9l-2 2.3M897.2 1907.4l4.4 1M931 1795l-3.6 4.3M744.2 1931.4l-2.3 3.3M853.9 1694.6l3.2 1M821.1 1826.6h0M857.9 1907.1l-0.1 3.4M817.1 1775.3l-3.7 0.3M759.5 1725.1l-4 3.5M940.1 1838.1h0M718.4 1701.3l3.8 3.7M767.8 1886.6l-2.6 3.2M831.5 1769.2h0M850.3 1771.6l-3.3 3.1M756.3 1725.5h0M744.2 1950.9h0M873.8 1696.2l-3.2 3.2M879.4 1700.5l4.5 0.2M883.9 1751.9l-4.6 3.7M744 1947.3l-3 2M851 1747.9l0.6 3.9M829.2 1805l5.9 0.2M777.2 1712.1l-3.4 1.1M872.4 1888.9l-0.4 3M820.6 1743.3l0.2 4.9M801.5 1879.1l-3.4 1.8M847.6 1830.3l-3.7 0.7M754.1 1896.3l-4.1 3.2M801.6 1723.1l-0.9 3.3M922.2 1734h0M914.9 1891.6l-3.1 1.1M825.1 1773l4.3 1.8M837.4 1758.9l1.2 5.2M840.2 1725.7h0M883.8 1874.6l3.4 4.4M742.9 1955.3l-5.4 0.9M837.4 1810.1h0M911.9 1884.8l1 2.9M763.4 1782.7h0M907.4 1826.6l1.3 4.4M874.5 1713.7h0M937.7 1824.8h0M919.3 1777.9h0M925.8 1698.8l-3.2 0.7M832.4 1898.9l-2.7 1.3M807.2 1957.2h0M700.5 1733.9l-0.2 4.2M876.5 1900.1l3.4 3.3M882.9 1834.4l-2.9 1.8M753.2 1698.2h0M772.8 1935.3l-2.3 3M836.4 1712.2h0M914.1 1788.8l-0.8 4.5M841.6 1722.2l-3.3 2M906.2 1705.3h0M853.4 1826.6l3.3 4.4M747.7 1917.1h0M762.9 1721.7l1.9 3.6M720.3 1746.3l4.7 3.4M785.3 1943.4l2.8 1.7M749.2 1923.3l-2.8 4.1M852.2 1734.1l-1.5 3.4M935.4 1745.4l-0.8 5.3M899.8 1832l-3.6 4.3M766 1921.3h0M896.8 1740l0.4 3.8M857.1 1770.9l5.6 1.7M857.3 1739.5l-2.1 4.6M797.9 1890.6l4 3.2M901.6 1741.1l2.1 2.4M790.7 1707.6h0M911.9 1871.3l2.1 3.5M787.3 1793.6h0M709.4 1957.7l2.8 1.8M830 1755.8l-3.9 3.6M701 1721.8l5.1 1.3" stroke="#8e8cc4" stroke-width="2.2" stroke-linecap="round" fill="none"/>
</g>
<path d="M683.4 1687 L692 1727 L716 1754.5 L737 1775 L768 1785.5 L792 1799 L816 1815 L823 1834 L819.7 1854.5 L802.4 1871.7 L771.4 1883.8 L740.3 1902.8 L723 1923.4 L699 1962" fill="none" stroke="#111" stroke-width="2" stroke-dasharray="7 5"/>
<rect x="553.1" y="1693" width="91.7" height="62.2" fill="#ebe8e8"/>
<g filter="url(#blob)">
<circle cx="575" cy="1712" r="8" fill="#cfc4d8" opacity="0.8"/>
<circle cx="611" cy="1740" r="8" fill="#d3c7d8" opacity="0.8"/>
<circle cx="600" cy="1705" r="5" fill="#ddd4dc" opacity="0.6"/>
<circle cx="580" cy="1740" r="5" fill="#dfd6dd" opacity="0.5"/>
</g>
<rect x="553.1" y="1693" width="91.7" height="62.2" fill="none" stroke="#000" stroke-width="2.4"/>
<rect x="853.1" y="1693" width="92.4" height="62.2" fill="#e8e0dd"/>
<g filter="url(#blob)">
<circle cx="905" cy="1702" r="5" fill="#b87e62" opacity="0.8"/>
<circle cx="880" cy="1708" r="5" fill="#b08a78" opacity="0.7"/>
<circle cx="905" cy="1730" r="5" fill="#b07860" opacity="0.8"/>
<circle cx="922" cy="1728" r="6" fill="#a87058" opacity="0.85"/>
<circle cx="930" cy="1745" r="5" fill="#b58068" opacity="0.8"/>
<circle cx="915" cy="1748" r="5" fill="#b88a72" opacity="0.8"/>
<circle cx="873" cy="1735" r="5" fill="#c0a0a0" opacity="0.6"/>
<circle cx="940" cy="1712" r="4" fill="#c09080" opacity="0.6"/>
</g>
<rect x="853.1" y="1693" width="92.4" height="62.2" fill="none" stroke="#000" stroke-width="2.4"/>
</g>
<rect x="564.5" y="1940.4" width="96.5" height="4.2" fill="#000"/>
<text x="644.8" y="1868.3" font-size="24" text-anchor="middle">NT</text>
<text x="888.6" y="1880" font-size="24" text-anchor="middle">T</text>
<clipPath id="cp3"><rect x="949" y="1689" width="400.5" height="270.7"/></clipPath>
<g clip-path="url(#cp3)"><g filter="url(#soft)">
<rect x="949" y="1689" width="400.5" height="270.7" fill="#efecea"/>
<path d="M1238 1686 L1352.5 1686 L1352.5 1962.7 L1132.7 1962 L1130.1 1886.9 L1127.5 1848.1 L1123.6 1817 L1122.3 1796.4 L1128.8 1778.3 L1141.7 1762.8 L1159.8 1744.6 L1183.1 1726.5 L1208.9 1711 L1232.2 1692.9 L1238 1688 Z" fill="#efe9e6"/>
<path d="M1121.2 1831.1h0M963.4 1944.3h0M1055.2 1851.8h0M1062.1 1778.4h0M1038.6 1927.6h0M952.3 1915.5h0M1027.7 1906.5h0M973 1825.5h0M965.5 1763.1h0M1103.6 1885h0M1216.4 1698.8h0M1037.4 1728.5h0M1184.8 1702.9h0M1062 1867.9h0M1110.1 1922.9h0M988.1 1842.8h0M1060.2 1708.2h0M1110.6 1812.2h0M1203.8 1713.3h0M1176.1 1721.4h0M1068 1708.2h0M985.8 1823.6h0M965.7 1820.2h0M1052.2 1810h0M1127.5 1888.8h0M1119.8 1881.7h0M1043.6 1825.4h0M1006.3 1853.6h0M1071.4 1913.1h0M1121.4 1719h0M1029.8 1702.3h0M1092.9 1763.8h0M980.5 1848h0M976.5 1733.6h0M1166.3 1692.3h0M1060.1 1772.1h0M958 1714.6h0M962.3 1933.2h0M1071.2 1816.2h0M1135.8 1701.1h0M1114.8 1906h0M1151.4 1702.6h0M1016.2 1862.5h0M960.7 1906h0M1033.5 1780.8h0M1010.9 1932.8h0M1037.7 1715.2h0M992.3 1787h0M1061.3 1715.5h0M1003.4 1811.2h0M1200.6 1693h0M1025.3 1759h0M1081.7 1799.6h0M1080.7 1775.7h0M1107.4 1905.2h0M1071.7 1901.2h0M1036.5 1945.2h0M1101 1759.4h0M1022.8 1888.9h0M1060.3 1921.3h0M1104.1 1716.5h0M1050 1797.7h0M1017.2 1929.4h0M1086.5 1761.5h0M1051.4 1833.5h0M969.5 1891.4h0M1085.9 1937.5h0M979.5 1926.1h0M1049.2 1928.7h0M1125.9 1838h0M996.3 1799.8h0M970.1 1770.1h0M1038.4 1782.5h0M986.1 1812.1h0M1101.8 1940.1h0M955.3 1833.4h0M1080.4 1958.9h0M1109.9 1957.1h0M1084.6 1699.8h0M1132.9 1704.7h0M973.3 1921.5h0M1019.5 1956.6h0M1054.8 1876.2h0M1079.1 1904.9h0M974.7 1805h0M1028.1 1729.1h0M1083.5 1760.6h0M974 1723.3h0M956.3 1832.9h0M979.4 1939.9h0M1023 1691.4h0M984.5 1752.8h0M1129.1 1878.1h0M973.8 1805.2h0M1114.4 1800.5h0M1103.2 1886.4h0M963.3 1732.6h0M1031.2 1787.8h0M1055.9 1944.9h0M989.8 1758.1h0M1042.3 1758.5h0M973.4 1866.4h0M1126.9 1689.8h0M1088.5 1894.2h0M1041.3 1776.1h0M1077.6 1914.6h0M1110.1 1775.5h0M1119.1 1946.9h0M959.4 1760.8h0M1117.7 1825h0M1105.6 1935.4h0M1017.5 1792.8h0M1030.2 1763.5h0M982.6 1914.8h0M952.2 1802.1h0M1116.1 1736.6h0M1106.4 1699.3h0M1111.3 1794.6h0M1024.5 1899.5h0M1117.9 1778.7h0M1017.9 1889.2h0M995.2 1760.3h0M1174.1 1693.8h0M962.3 1826.4h0M1129 1715.5h0M991.3 1873.8h0M1115.9 1700.9h0M1096.7 1908h0M1099.4 1812.4h0M1111.1 1773.7h0M996.2 1938.7h0M1073.7 1866.5h0M1036 1751.3h0M978.7 1829.6h0M959.6 1769.2h0M1006.3 1745.6h0M963.1 1708.9h0M970.6 1819.4h0M957.9 1905.5h0M973.4 1805.9h0M1069.6 1809.6h0M1041.4 1887.7h0M1042.9 1822.7h0M984.2 1706.8h0M1139.1 1733.6h0M1101.9 1846.6h0M1005.4 1913.1h0M974 1698.9h0M964.1 1807.3h0M1064.7 1854.5h0M1114.2 1761.6h0M1046 1932.2h0M979.5 1947.7h0M995 1732.9h0M1168.5 1693.8h0M1099.5 1706.7h0M989.6 1865.1h0M1179.9 1692.2h0M1138.7 1737.5h0M1069 1804.4h0M984.5 1721.2h0M962.9 1882.9h0M965.3 1888.8h0M1112.5 1867.4h0M1167.9 1718.6h0M1073.9 1736h0M1029.3 1807.1h0M1014.6 1763.8h0M984.2 1928.5h0M978.6 1708.1h0" stroke="#cfc4d8" stroke-width="5.6" stroke-linecap="round" fill="none"/>
<path d="M1011.5 1720.9h0M1123.7 1790.2h0M1088.7 1847.9h0M983.2 1910.6h0M1075.4 1860.3h0M1125.4 1707.5h0M1075.6 1752.1h0M1022.6 1943.2h0M1144.5 1726.1h0M1142 1749.1h0M970.2 1699h0M1098.9 1810.4h0M1056.9 1821.5h0M1119.5 1803.2h0M970.5 1957.8h0M1032.8 1941.8h0M1061.7 1773h0M1081.1 1704.1h0M1119.5 1724.7h0M969.3 1853.3h0M994.8 1885.5h0M1101.5 1858.1h0M1007.7 1701.8h0M1041.2 1861.7h0M1091.2 1878.6h0M1167.4 1695.4h0M972.9 1868.9h0M1046.9 1802.4h0M1049 1843h0M1227.8 1695.8h0M958.7 1880.9h0M1076.8 1930.9h0M1103.6 1874.1h0M1006.1 1802.4h0M1066.7 1924.6h0M1151.2 1706.4h0M1095.2 1800.3h0M1033.1 1899.9h0M1147.6 1739h0M991.1 1764.4h0M1085.2 1707.4h0M1036.2 1727.5h0M1085.8 1787.4h0M953.4 1895.8h0M1120 1948.9h0M1178.3 1700.1h0M1002.3 1857.7h0M992.9 1850.5h0M1114.3 1749.9h0M995.6 1776.1h0" stroke="#c4a090" stroke-width="5" stroke-linecap="round" fill="none"/>
<path d="M1012.8 1931.9l0.5 4.5M1060.3 1881.4l1.4 4.2M1192.1 1693.2l-1.1 3.5M960 1829.9h0M1098.9 1812.7l3.3 3.4M1016.5 1821.1l2.6 2.3M1111.6 1748.5l-3 3.2M956.4 1890.5l-3 2.2M994.6 1816.4h0M1073.8 1846.7h0M1030.7 1741.9h0M1000.5 1899.2l-2.1 2.2M1070.4 1884.9h0M1076.1 1950l1.1 2.9M987.6 1744.7l-4 1.4M1148 1738.7h0M1010.9 1802.8h0M1043 1777l2.1 4.5M999 1851.9h0M999.6 1819.1l-1.4 4.7M1122.8 1858.4l-2.1 3.5M975.5 1905.7h0M1129.7 1738.7l-2.7 0.5M1161 1723.7l3 2.1M1066.8 1861.6h0M1195.3 1709.7h0M1039.2 1943.6l-1 3.8M1114.4 1791.7l2.4 0.8M1120 1937.3l3.2 3.1M1086.5 1724.4h0M973.6 1878.2h0M1104.8 1903.4l3.9 1.6M1123.2 1766.2l-3 1.8M1120.7 1957.4h0M1123.7 1870.1l2.3 2.8M1105.5 1866.5l2.6 1.6M1062.5 1703.9l-3.6 3.4M964.7 1829.2l-2.6 0.7M1119.4 1773h0M1065.8 1941.4l-2.7 0.9M951.6 1945.3l-0.7 4.1M1135.5 1723.4h0M1068.2 1703.1h0M954.7 1868.2l4.3 2.1M961.7 1801.6l-2.3 2.1" stroke="#a49ccc" stroke-width="2.2" stroke-linecap="round" fill="none"/>
<path d="M1346.9 1868.5h0M1222.8 1911.6l1.7 2.4M1217.2 1771.1h0M1148.4 1953.5h0M1190.9 1877l1.4 2.2M1323.9 1691.8h0M1298.8 1878.2h0M1288.5 1922.2h0M1177 1812.7l-3.8 0.3M1265.9 1727.2l-3 0.3M1263.2 1702.4h0M1259.2 1701.2l2.4 1.5M1171.7 1895l-3.5 0.5M1313.5 1880.3h0M1269.1 1904.2l-3 0.3M1281.6 1853l2.3 2.4M1314.9 1696.8l0 3.9M1340.2 1862.1l2.1 2.9M1243.3 1846.5h0M1127.9 1852.1l1 2.2M1124.3 1804.4l-2.9 2.4M1225.3 1919.3h0M1195.7 1885.7h0M1302.5 1785.5h0M1266.5 1948l-0.6 2.7M1134.2 1814.2h0M1300.9 1771.7l-2.9 1.8M1268.1 1909.7h0M1344.2 1802.9h0M1181.3 1891.4h0M1219.2 1798h0M1342.5 1789h0M1216.1 1954.2h0M1286.4 1726.5h0M1340.9 1935.9h0M1136.9 1898.5l0.8 3.2M1269.8 1769.6h0M1195.5 1836.7h0M1152.8 1808h0M1287.5 1939.3h0M1207.5 1888.9h0M1311.7 1752.2l1.6 3.5M1215.8 1952.5l3.9 0.6M1324.4 1936.3h0M1306.3 1923.8h0M1176.2 1879.2h0M1225.9 1938.4l-1.5 2M1154.6 1828.4l-2.6 0.7M1231.2 1751.8l-3 1.7M1181.7 1785.3h0M1288.6 1718h0M1168 1793.1h0M1294.7 1884.8l0.3 3M1279.7 1915.7h0M1196.9 1722.5h0M1173.5 1931l2.8 2.5M1268.5 1836.6h0M1199.1 1752.3l-2.6 0.8M1261.5 1700.8h0M1166 1886.9l3 1.3M1217 1825.9l2.8 0.6M1282.2 1776.9h0M1212.8 1820.2l2.1 2.2M1262.9 1800.1h0M1289.7 1702l-2.4 1M1297.5 1716h0M1255.3 1929.2l-0.7 3.1M1337.1 1944.5h0M1249.8 1808.7l-0.6 2.7M1153.2 1847.6h0M1251.8 1721l0.3 2.4M1325.1 1946.3h0M1324.2 1708.6h0M1181 1756.7h0M1187.4 1797.6h0M1283.1 1832.4h0M1223.2 1902.7h0M1218.7 1832h0M1241.3 1864.4l1.9 2.6M1160.9 1810.2l1.6 3M1263.5 1926.4l3.8 0.1M1124.8 1795.7h0M1198.7 1947.6h0M1195.9 1876.5l1.3 2M1218.9 1705.6h0M1290 1706.1l-0.8 2.1M1173.8 1881.3h0M1316.3 1907.4h0M1153.1 1912.2h0M1224.8 1779l2 1.2M1301.6 1774.5l-1.9 1.3M1319 1709.8h0M1167.9 1914.1l0.7 2.4M1344.1 1928.5l0.8 1.9M1231.1 1955.2h0M1324 1706h0M1128.3 1790.8l1.6 1.3M1212.5 1746.6h0M1324 1940l0.1 3M1234.5 1704.4h0M1193.5 1953.9h0M1288.4 1736.5h0M1156.7 1835.6h0M1340.2 1908.5h0M1176.4 1759.9l-0.5 2.6M1296.5 1708.9l2.4 1.6M1185.2 1958.6l2.6 1.1M1165.9 1895.8h0M1332.9 1815.5l1.2 2M1195.4 1759.5h0M1330.3 1945.1h0M1241 1717.9h0M1196.9 1720.3l0.9 2.4M1338 1784.6l-2.8 0M1166.8 1797.3h0M1231.6 1774.9h0M1136.5 1798h0M1244.9 1858.8h0M1230.7 1733.5h0M1295.1 1783.3h0M1320.5 1916.8l-2.4 1.4M1140.3 1957.1h0M1330.2 1828.8h0M1284.6 1869.7h0M1282.8 1922.1h0M1141.8 1915.2h0M1336.6 1881.9l-1.9 2.6M1309.8 1732.2h0M1196.4 1888.6h0M1278.9 1789.5h0M1278.9 1817.7l-0.2 2.4M1221.5 1882.5h0M1278.7 1842.2l-0.2 2.7M1217.1 1864.2l-1.4 2M1269.8 1720.9l-0.9 2.2M1274.2 1934l-2 2.3M1325.3 1830h0M1228.1 1807.2h0M1324.3 1774.3h0M1262.6 1906.2h0M1270.6 1729.5h0M1266.1 1767.3l-1.6 2.4M1249.5 1954.2h0M1145.9 1771.8h0M1197.2 1848.3h0M1280.7 1909.4l3.3 0.5M1217.2 1799.6h0M1150.5 1818.5h0M1171.7 1883.8h0M1216.1 1886.9h0M1328.3 1783.2l2.4 0.3M1307.5 1807.9h0M1141.2 1795.6l-2.9 2.3M1141.2 1831.6h0M1132.2 1885.3l-1.3 2.3M1308.3 1924.3l-0.8 3M1173.6 1809.2l-1.6 2.6M1306 1794.7l-0.5 2M1209 1929.7h0M1153.6 1878.9l2.8 2M1239.8 1859.2h0M1292.8 1690.3l-0.3 3.5M1298.3 1846.3h0M1348.4 1744.4h0M1233 1778.7h0M1256.7 1868.6h0M1267.1 1726.7h0M1227.3 1921.9h0M1203.2 1801.8h0M1281.9 1941.8l-2.3 2.1M1134.4 1822.3l0.8 3.1M1267.2 1835.9h0M1271.4 1899.4h0M1252.4 1781.8l-2.1 2M1202.9 1872.5h0M1206.4 1810h0M1229.4 1835.3h0M1342.1 1753.6l2.8 2.3M1179.9 1908l-0 2.9M1304.6 1947.9h0M1199.9 1933.5l0.5 2.8M1278.8 1829.1h0M1341.8 1939.9h0M1167.1 1786.7l-0.8 2.9M1150.6 1824.2h0M1209.3 1883.4h0M1189 1895.7h0M1289.4 1885.8h0M1318.4 1880.7l-1.5 2.1M1323.3 1841.4l2.2 0.8M1342.1 1915.2h0M1249 1865.1h0M1330.5 1701.7l-3.7 1.1M1294.3 1773.2h0M1326.3 1788.2h0M1301.6 1891.6l-1.3 2.3M1327.4 1833h0M1269.7 1888.6l-2.3 1.5M1326.3 1865.1l3.8 0.2M1256.6 1954.9h0M1130.2 1845.2h0M1302.6 1786.7l1.9 1.5M1288.9 1867.6h0M1189.5 1782.2l2.9 0.2M1226.2 1918.8l1.1 2.3M1258.3 1892.2l-2.9 1.4M1238.7 1695.5h0M1182.1 1759.3h0M1313.9 1880.6l1.5 2.1M1263.4 1764.9l2.1 1.7M1233.9 1698.7h0M1238.6 1920.9l1.7 1.3M1346.1 1918.2l-0.9 3.4M1275.5 1696.8l-3.5 1.6M1230.8 1789.7h0M1270.1 1896.9h0M1206 1841.2h0M1199.2 1897.4l-1.8 2.4M1163.8 1870.1h0M1136.6 1798.1l-0.1 3.9M1144.6 1934.9h0M1312.3 1776.4l-0.1 3.9M1135.7 1903.2h0M1145.9 1867l2 1.4M1295.9 1703.6h0M1186.4 1935.8h0M1311 1949l3.3 0.3M1251.1 1706.7h0M1245.1 1947.5l1.7 1.2M1280.1 1736.2h0M1331.1 1955.2h0M1219.2 1856.1h0M1165 1749.1h0M1286.3 1846.6h0M1303.8 1927.6l0.4 2.8M1282.5 1829.1l0.9 3.3M1254.9 1843.9h0M1241.2 1737.7l-3 1M1283 1712.7h0M1283.4 1779.6l2.4 3M1284.4 1700.2l-0.6 2.7M1154.6 1817.8l1.9 1.9M1127.8 1805.8h0M1275.1 1798.3l-2.2 1.9M1322.7 1860.1h0M1344.5 1753.3l-0.6 3.3M1236.2 1791.6l2.7 0.4M1264.3 1789.3h0M1226.6 1935.3h0M1243.4 1696.9l-3.9 1M1131.8 1903.5h0M1266.2 1823.8l0.8 2.4M1331.8 1781.7h0M1338.2 1707.9h0M1163.7 1931.4l3.3 0M1173.1 1956.8h0M1276.8 1760.6h0M1285.8 1817.5h0M1274.1 1705.3h0M1313.2 1864.2l-2.5 1.2M1249.1 1883.1h0M1283.7 1937.9l-0.8 2.4M1296.3 1934.3l2.1 1M1349 1817.4h0M1151.3 1918h0M1252.5 1763.1l1.2 2.1M1129.1 1859.2h0M1300.8 1810.5l0.1 3.7M1307.8 1816.1l0.5 4M1244.2 1870h0M1185 1833.9h0M1161.6 1891h0M1130.4 1856.3h0M1344.3 1873.2h0M1333.7 1851.4h0M1293.8 1900.6h0M1281.5 1885.1h0M1308.8 1771.6h0M1335 1936.9l-3.1 0M1264.2 1893.8h0M1211.9 1776.9h0M1273 1942.9h0M1189.9 1903.7l2.2 0.9M1235.9 1812.9l1.4 1.5M1277.4 1889.4l-2.3 1.2M1278.7 1932.2h0M1249.7 1798.6h0M1271.6 1825.4h0M1272 1819.9h0M1233.5 1836.1h0M1317.8 1738.9l2 2.4M1311.9 1904.8l-0 2.2M1339.4 1702.2h0M1280.2 1690.5h0M1282.3 1694.9h0M1207 1851.9h0M1135.7 1785.1h0M1219 1942.6h0M1311.3 1951.3h0M1271.4 1799.2h0M1258.5 1766.2h0M1225 1802.2h0M1207.2 1958.2l-2.7 0.8M1194 1785.8l3.4 0.7M1312.2 1910.4l3.1 2.4M1227.6 1889.1h0M1271.5 1868.1h0M1181.5 1865.9h0M1209.2 1855.6l1.8 2.5M1195.5 1913.9l1.6 2.6M1289.3 1895.5h0M1327.1 1695.7h0M1262.5 1924.1l2.6 1.4M1299.6 1739.4h0M1184.4 1938.9h0M1332.3 1698.4h0M1198.1 1824h0M1312.7 1778.7h0M1164 1792.1l-2.9 2.7M1339.3 1873.2h0M1303.5 1919.8h0M1156.8 1887.6h0M1312.8 1889.4l1.2 2.4M1309.7 1698.6h0M1224.8 1929.9h0M1242.6 1897.6h0M1179.3 1942.6h0M1148.4 1858.5h0M1327.9 1876.3h0M1215.1 1924.4l-0.2 3.7M1334.7 1811h0M1339.3 1796.7h0M1205.8 1950.7l3.1 0.9M1341.7 1704.7h0M1293.2 1841.4h0M1334.3 1759.1l-0.4 3.1M1162.2 1765h0M1137.8 1867.5h0M1253.2 1758.1l-2.3 3.1M1230.8 1744.8l3 0.9M1337.4 1789.7l1 2.1M1303.5 1883.3h0M1132 1893.6l1.8 3.2M1303.4 1745.9h0M1307.8 1689.9l0.4 2.1M1172.5 1906.2h0M1289 1842.3l0.2 2.5M1225.9 1778l0.9 3.5M1251 1858.2l0.9 2.7M1296.9 1763h0M1148 1803.9l2.8 1.5M1234 1820.4h0M1174 1950.7h0M1270.7 1937.3l-2.5 2.1M1189.9 1792.7h0M1175.5 1752h0M1345.3 1903.8h0M1255.1 1802.8h0M1226.9 1734.1l-1.3 1.6M1256 1849.5h0M1193.2 1740.2h0M1159.2 1823.3h0M1339 1758.1l-2.1 3.3M1265.6 1853.8h0M1220.1 1747.5h0M1286.1 1941.4l-1.2 3.5M1239.2 1787l1.2 2.6M1338.6 1773.6l-2 1M1133.6 1799.3l-1.6 2.9M1319.5 1691.7l-1.8 2.8M1159.8 1848.2h0M1260.3 1892.3h0M1233.1 1950l2.3 0.8M1334.2 1802.7l1.5 1.6M1283.8 1922.7l-3.3 0.2M1337.8 1787l-1.9 3M1254.3 1932.5l3.4 1.4M1255.8 1925.5h0M1307.1 1865.1h0M1258.6 1812.2h0M1207.8 1928.1l2.4 0.1M1173.8 1949.4h0M1310.6 1781.3l3.3 0.1M1166 1879.3h0M1244.7 1785.1l-1.9 2.2M1295.6 1827.8l-2.1 2.8M1252.7 1805.1h0M1258.6 1712.6l2.7 1.2M1206.2 1817.9h0M1231.6 1957.5l3.7 0.8M1338.8 1921.7l1.6 2.9M1187 1862.4h0M1174.4 1857.4l0.6 2.7M1184.9 1730h0M1245.2 1797.3l-3.5 0.7M1129.8 1778.3l2.4 1.3M1347 1737.6l0.1 2.1M1232.4 1730.8h0M1335.6 1938.2h0M1225.8 1890.7h0" stroke="#b87a66" stroke-width="4.6" stroke-linecap="round" fill="none"/>
<path d="M1288.4 1918.1h0M1293.3 1806.2l2.8 2.5M1299.1 1781.5l4.5 0.9M1150.6 1771.4h0M1305.5 1859.7l1.3 3.6M1311.8 1712.2h0M1328.5 1925.3h0M1308.2 1921.8h0M1259.4 1789.4h0M1252 1728.7l-2.3 2.7M1195 1870.3l-2.2 1.4M1165.6 1878.6l-2.4 1.4M1208.5 1955.6l1.3 2.2M1233.4 1751.8h0M1193.4 1953.1l0.6 2.7M1333.3 1726.9h0M1268.5 1883.9l-0.4 4M1297.6 1810.8h0M1335.2 1880.6h0M1212.7 1951.3h0M1336.4 1803.3l1.3 2.7M1260.9 1883.4l1 2.5M1224 1779.4h0M1284.5 1742.8h0M1251 1928.2l-2 4.2M1265.5 1744.1h0M1149.4 1908.6l-2.7 0.9M1338 1865.9l-3 0.1M1238.4 1713.2l3.8 2.9M1297.2 1856.6l-3.5 2.8M1249.9 1732.4l4.3 1.5M1228.1 1705.4h0M1299.5 1770.4h0M1290.6 1810.5h0M1149.8 1797.4h0M1127.6 1842.2l-1 3.7M1275.3 1777.6h0M1259.6 1695.6h0M1208.9 1914.1l4.7 1M1244.8 1891.9l-3.8 1.6M1179.8 1900.5h0M1347.1 1923.3l-3.6 0.6M1161 1849l2.6 0.2M1302 1783.6l4 2.9M1337.7 1717.9h0M1294.9 1713.9l-4.1 2.3M1223.1 1951.5h0M1175.8 1836.3h0M1279.1 1873.4h0M1348.9 1697.3l0.2 3.4M1170.1 1941.2l-1.9 2.1M1286.1 1735.1l-2.9 1.2M1184.8 1827.9h0M1336.4 1693.2h0M1163.4 1770h0M1254.8 1927.5l-2.6 0.2M1238.2 1910.5l-2.7 3.8M1312.3 1930.3h0M1168.5 1937.6h0M1145.9 1821.3l0.9 2.7M1174.2 1801.5h0M1159 1948.7l3.2 2.9M1132.2 1942.8l3.4 1.4M1286.3 1819.9l-1.9 2.8M1176.1 1835.4h0M1264.2 1807h0M1167 1867.2h0M1299.7 1841.6h0M1224.6 1744.5l1.8 2.4M1232.6 1920.6h0M1231.4 1827.6h0M1323.6 1927.5h0M1221.7 1742.5h0M1296.9 1690.6l-2.5 2.2M1259.3 1906.4h0M1205.9 1730.7h0M1326.2 1807.9l-0.9 2.8M1197 1798.1l-3.3 3.4M1341.1 1794.1h0M1328.7 1876.2h0M1332.8 1950.2l4 2.3M1200.1 1870.6h0M1132.2 1828.6h0M1263.8 1873.5h0M1320.3 1872.5l0.8 3.6M1299 1764.5h0M1265.5 1891h0M1248.9 1850.3l0.8 4.8M1241.3 1798.4h0M1326.6 1937.2l2.9 2M1260.2 1926.7l4.3 0.4M1344.1 1740.3h0M1325.2 1794.6l1.8 3.6M1289.8 1740.4l3.3 1.2M1277.1 1920.3h0M1202.1 1762.2l3.2 1.7M1221 1940.6l1.3 2.8M1150.9 1946h0M1197.9 1936.8h0M1266.3 1698.8h0M1290.6 1801.5h0M1213.3 1822.7h0M1204.1 1958.6l-4.4 1.4M1247.6 1813.2h0M1276.4 1927.9l-1.4 2.4M1250.5 1913.5h0M1214.9 1891.1l-2.9 3.4M1238.3 1917.4h0M1291.4 1689.9h0M1272.3 1695.7h0M1174.3 1846.2l4.7 0.5M1269.3 1714.8h0M1171.8 1881.2h0M1143.7 1925.1h0M1289.7 1801.6h0M1239.2 1899.8h0M1336.8 1816.6l-0.3 3.3M1276.9 1860.1l0.9 2.8M1255.2 1847.8l-2.7 0.3M1161 1750.2l-2.9 1M1255.8 1739.6h0M1346.1 1780.6h0M1173.3 1743.9l-3.4 2.8M1176.6 1896.7h0M1216 1835.2h0M1316.2 1871.7l3.1 2.2M1137.4 1909.8h0M1137.8 1939.7l-1.4 2.5M1292.5 1887.4l4.1 1.8M1170.1 1804l-2.1 1.7M1256.6 1761.5h0M1187.8 1824.7l-2.1 4M1259.5 1877.6h0M1246 1865.5l2.6 0.2M1285.8 1701l-4.2 2.4M1198.4 1761.4l0.9 4.9M1179.4 1895.8l3.2 2.6M1316.8 1880.6h0M1256.2 1707.4l2.7 0.8M1162.2 1757.7h0M1225.8 1925.3l-2.3 2.9M1333 1768.8h0M1226.3 1837.7h0M1263.9 1864h0M1183.4 1955.3h0M1131.1 1834.7h0M1236 1828.4l3.4 1.2M1250.2 1798.6h0M1224.3 1797.7l-4 1.6M1271.1 1807.8l2.1 2.5M1343.2 1827.2l1.6 4.6M1213.5 1718.1l2 3.2M1278.9 1779.5l2.2 2.2M1305.8 1838.3l2.6 3.1M1213.2 1848.4h0M1229.8 1825.1l3.8 1.1M1338.2 1947.4l1.3 3.9M1255.8 1804.7h0M1179.9 1768.8h0M1280.5 1834.6l-3.3 1.3M1291.9 1819.1l2.9 0.6M1308 1802.1l-1.7 3.6M1258.6 1782.7l-3.1 0.2M1194.7 1796.8h0M1193.2 1796.2l-2.6 3.2M1198.2 1925.8h0M1343.1 1790.7l-0.6 4.3M1323.4 1939l-1.3 3.6M1190.9 1760.8h0M1333.5 1906.6l2.7 3.3M1269.5 1786h0M1248.4 1770.2h0M1289.6 1894.7h0M1190.7 1745.8h0M1158.6 1914.9l2.4 1.8M1325.3 1871.5h0M1300.1 1776.1h0M1166.8 1855.2h0M1333.6 1711.4l1.8 2.8M1222.7 1857.4l1.9 3.3M1318.6 1835.2l-3.5 2.4M1285.2 1888.9l3 0M1243.2 1848.7h0M1301.8 1843.6h0M1237.2 1827.6h0M1318.8 1810.3h0M1340.5 1907.1h0M1221.2 1912.1h0M1173.8 1915.8h0M1227.3 1761.6h0M1189.9 1951h0M1293.3 1859.9l1.1 3.7M1313.9 1926.7l1.9 2.6M1197.8 1801.7l-3.5 0.4M1193.5 1881.6l2.7 3.4M1235.5 1931.3l-2.3 2.1M1139.8 1946.1h0M1135.6 1836.9h0M1281.3 1826l-1.8 2.1M1304.1 1805.4h0" stroke="#c9b8cf" stroke-width="4.2" stroke-linecap="round" fill="none"/>
<path d="M1221.5 1934.9h0M1328.5 1715.4l-5.7 1.3M1250.5 1799.7l-3.5 1.6M1268.1 1723.6l0.4 4.4M1241.3 1771h0M1244.6 1848.3h0M1242.5 1861.3l2.1 3.9M1188.5 1785.1h0M1132.1 1846.8l2.4 3.5M1327.2 1950.4l-4 2.1M1334.9 1832.2h0M1288.2 1865.3h0M1340.8 1702.1l2.9 1.8M1321.8 1785.1l4.7 2.3M1227.6 1900.4h0M1160 1754l-2.6 3.6M1267.8 1915.8l4.5 3.8M1137.5 1867.7l0.2 3.1M1289.6 1728.6l-0.9 5.2M1346.2 1847l1.8 2.8M1326.3 1698.9l-3 2.6M1261.9 1715.9l-3.1 5M1265.4 1852.4l-4 2M1191.2 1884h0M1235.2 1753.4h0M1153.1 1777.7l3.4 0.2M1190.7 1840.7l-1.1 4.5M1173.7 1900.4h0M1194.4 1787.9h0M1163.5 1764.8h0M1311 1759.9h0M1335.6 1870.7l-0.6 3.7M1211.3 1905.6h0M1290.9 1743.5l-0.4 4.2M1266.2 1708.4l-3.6 1.6M1337.3 1773.6h0M1338.6 1833.4l-1.5 4.5M1309.3 1889l-4.5 0.8M1224.9 1832.6h0M1330.3 1956.8h0M1262.2 1943.5l2.6 4.7M1299.5 1715.9h0M1206.8 1828.9h0M1312.5 1691.3h0M1197 1884.9h0M1166.8 1945.7l1.6 3.7M1316.3 1851.3h0M1320.8 1770.5l-3.6 0.3M1239.9 1785.1h0M1135.1 1914.7l-4.7 3.6M1265.3 1713.1l-2.5 4M1342.5 1924.2l-1.1 3.7M1347.7 1850.2h0M1155.8 1800.1l5 3.1M1286.9 1757.5l2.5 2.7M1253.3 1832.8l-3.9 2.3M1306.7 1946.5h0M1188.5 1747.1l1 3.7M1183.2 1959.5l-4.4 1.8M1211.6 1852.8h0" stroke="#8e8ac4" stroke-width="2.2" stroke-linecap="round" fill="none"/>
<path d="M1126 1783 L1150 1790 L1165 1815 L1160 1845 L1140 1846 L1128 1830 Z" fill="#f6f4f2"/>
<path d="M1141 1902 L1165 1900 L1173 1925 L1170 1958 L1141 1958 Z" fill="#f5f3f1"/>
<ellipse cx="1222" cy="1800" rx="14" ry="9" fill="#f3efec" opacity="0.8"/>
</g>
<path d="M1238 1688 L1232.2 1692.9 L1208.9 1711 L1183.1 1726.5 L1159.8 1744.6 L1141.7 1762.8 L1128.8 1778.3 L1122.3 1796.4 L1123.6 1817 L1127.5 1848.1 L1130.1 1886.9 L1132.7 1962" fill="none" stroke="#111" stroke-width="2" stroke-dasharray="7 5"/>
<rect x="953.4" y="1693" width="92.1" height="62.2" fill="#e4dcdc"/>
<g filter="url(#blob)">
<circle cx="985" cy="1712" r="9" fill="#b8a6c4" opacity="0.7"/>
<circle cx="1005" cy="1735" r="7" fill="#c4b0c4" opacity="0.6"/>
<circle cx="1030" cy="1705" r="6" fill="#c4b8c8" opacity="0.5"/>
<circle cx="970" cy="1740" r="6" fill="#a89cc0" opacity="0.6"/>
</g>
<rect x="953.4" y="1693" width="92.1" height="62.2" fill="none" stroke="#000" stroke-width="2.4"/>
<rect x="1253.4" y="1693" width="92.1" height="62.2" fill="#d5bdb0"/>
<g filter="url(#blob)">
<circle cx="1280" cy="1716" r="9" fill="#94583e" opacity="0.85"/>
<circle cx="1300" cy="1700" r="7" fill="#a89ab8" opacity="0.6"/>
<circle cx="1320" cy="1725" r="10" fill="#9a5c40" opacity="0.85"/>
<circle cx="1290" cy="1742" r="8" fill="#a5704a" opacity="0.8"/>
<circle cx="1335" cy="1705" r="6" fill="#a06850" opacity="0.7"/>
<circle cx="1265" cy="1700" r="6" fill="#b4a0b4" opacity="0.6"/>
</g>
<rect x="1253.4" y="1693" width="92.1" height="62.2" fill="none" stroke="#000" stroke-width="2.4"/>
</g>
<rect x="960.3" y="1940.4" width="96.6" height="4.2" fill="#000"/>
<text x="1050.5" y="1863" font-size="24" text-anchor="middle">NT</text>
<text x="1268.8" y="1868" font-size="24" text-anchor="middle">T</text>
<clipPath id="cp4"><rect x="1349.5" y="1689" width="400.5" height="270.7"/></clipPath>
<g clip-path="url(#cp4)"><g filter="url(#soft)">
<rect x="1349.5" y="1689" width="400.5" height="270.7" fill="#f6f4ee"/>
<path d="M1598 1686 L1753 1686 L1753 1962.7 L1564 1962 L1562.4 1954.1 L1549.5 1912.7 L1531.4 1886.9 L1521 1855.8 L1519.7 1822.2 L1526.2 1788.6 L1544.3 1757.6 L1567.6 1726.5 L1596 1690.3 L1598 1688 Z" fill="#f2f0ed"/>
<path d="M1496.1 1891.5h0M1552 1708.1h0M1533.8 1747.4h0M1513.1 1745.1h0M1439.8 1727.7h0M1423.9 1758.6h0M1413 1946.9h0M1414.5 1706.2h0M1361.7 1706.6h0M1417.6 1753h0M1472.9 1784.5h0M1392.8 1813.3h0M1397.5 1855.7h0M1379.1 1722.1h0M1385.6 1773.7h0M1440.4 1859.1h0M1350.5 1909.6h0M1391.1 1754h0M1512.1 1943.4h0M1417 1751.7h0M1448.2 1949.2h0M1521.7 1942.3h0M1559.7 1700h0M1447.2 1793h0M1485.5 1850.8h0M1487.1 1812.5h0M1483.2 1955.8h0M1439.4 1758h0M1456.2 1762.7h0M1359.4 1745.2h0M1415.9 1829.2h0M1483.1 1816.5h0M1538 1747h0M1510.5 1934.8h0M1475.6 1797.6h0M1469 1720.9h0M1362.9 1849.8h0M1472.9 1792.2h0M1407.7 1905.9h0M1371 1900.6h0M1394.7 1691.9h0M1522.5 1762.9h0M1351.8 1785.7h0M1506.9 1772.9h0M1434.1 1909.8h0M1409.1 1953.2h0M1473.4 1740.2h0M1444.4 1733.8h0M1477.8 1804h0M1449.4 1913.6h0M1509.2 1865.2h0M1389.1 1828.6h0M1459.4 1885.9h0M1391.4 1700.1h0M1390.2 1927.7h0M1487 1763.8h0M1469 1809.2h0M1455.5 1850.1h0M1479.8 1917.3h0M1378.8 1907.4h0M1472.7 1779.8h0M1457.6 1742.3h0M1409.4 1953.5h0M1558.3 1698.2h0M1527.1 1690.7h0M1503.8 1949.4h0M1536.2 1704.7h0M1400 1882.3h0M1455 1812.9h0M1404.1 1816.6h0M1509.7 1800.3h0M1538.2 1940.1h0M1465.7 1883.1h0M1501.1 1797h0M1450.9 1795.6h0M1389.4 1813.9h0M1498.6 1916.3h0M1504.2 1819.6h0M1413.9 1943.7h0M1467.4 1768.5h0M1397.8 1869.2h0M1485.2 1918.7h0M1466.6 1878.2h0M1463.5 1934.8h0M1419.5 1718.6h0M1487.5 1701.8h0M1515.4 1939.1h0M1442.9 1772h0M1513.1 1888h0M1496.1 1938.2h0M1521.1 1794.9h0M1524.9 1744.8h0M1378.7 1761.8h0M1429.6 1703.3h0M1435.6 1724h0M1443.8 1755.6h0M1369.2 1790.4h0M1430.6 1804.9h0M1391.6 1860.3h0M1393.9 1778.7h0M1392 1755.6h0M1367 1710h0M1410.6 1876.5h0M1414.8 1798.8h0M1405.8 1945.2h0M1585.1 1692.5h0M1468.2 1773.6h0M1440.2 1717.6h0M1362.7 1954.6h0M1465.7 1709.8h0M1406 1892h0M1452.1 1768.1h0M1386.9 1749.2h0M1394.9 1904.6h0M1520 1864.1h0M1479.1 1739.1h0M1525.4 1708.6h0M1468.9 1794h0M1448.8 1877.5h0M1485.3 1822.9h0M1427 1943.5h0M1449.1 1771.1h0M1491.9 1751h0M1506.6 1915.3h0M1411.8 1846.2h0M1356.7 1736.3h0M1410.6 1690.3h0M1394 1806.7h0M1453 1891.6h0M1353.2 1893.3h0M1471 1783h0M1416.7 1811.9h0M1381.5 1788.5h0M1537.1 1754.2h0M1471.9 1855h0M1413.6 1902.7h0M1464.4 1778.9h0M1367.7 1793h0M1483.9 1762.1h0M1527.3 1732.3h0M1358.4 1740.9h0M1491.4 1845.2h0M1421.1 1706.4h0M1445.5 1766.6h0M1350.1 1771h0M1419.2 1840.7h0M1430.9 1900.1h0M1484 1817.5h0M1390.8 1812.1h0M1424.9 1867.2h0M1406.3 1895.8h0M1579.3 1697.8h0M1408.6 1709.3h0M1477.5 1959.2h0M1524 1782.8h0M1376.8 1848.7h0M1549.7 1923h0M1425.6 1733.8h0M1354.7 1760.5h0M1387.3 1734.5h0M1353.4 1917.3h0M1353.6 1693h0M1421.4 1788.2h0M1467.8 1753.1h0M1486.1 1859.7h0M1353.2 1724.9h0M1351.1 1734.2h0M1525.6 1871.9h0M1560.3 1733.6h0M1418.6 1932.9h0" stroke="#b9b9dc" stroke-width="6.4" stroke-linecap="round" fill="none"/>
<path d="M1496.1 1891.5h0M1552 1708.1h0M1533.8 1747.4h0M1513.1 1745.1h0M1439.8 1727.7h0M1423.9 1758.6h0M1413 1946.9h0M1414.5 1706.2h0M1361.7 1706.6h0M1417.6 1753h0M1472.9 1784.5h0M1392.8 1813.3h0M1397.5 1855.7h0M1379.1 1722.1h0M1385.6 1773.7h0M1440.4 1859.1h0M1350.5 1909.6h0M1391.1 1754h0M1512.1 1943.4h0M1417 1751.7h0M1448.2 1949.2h0M1521.7 1942.3h0M1559.7 1700h0M1447.2 1793h0M1485.5 1850.8h0M1487.1 1812.5h0M1483.2 1955.8h0M1439.4 1758h0M1456.2 1762.7h0M1359.4 1745.2h0M1415.9 1829.2h0M1483.1 1816.5h0M1538 1747h0M1510.5 1934.8h0M1475.6 1797.6h0M1469 1720.9h0M1362.9 1849.8h0M1472.9 1792.2h0M1407.7 1905.9h0M1371 1900.6h0M1394.7 1691.9h0M1522.5 1762.9h0M1351.8 1785.7h0M1506.9 1772.9h0M1434.1 1909.8h0M1409.1 1953.2h0M1473.4 1740.2h0M1444.4 1733.8h0M1477.8 1804h0M1449.4 1913.6h0M1509.2 1865.2h0M1389.1 1828.6h0M1459.4 1885.9h0M1391.4 1700.1h0M1390.2 1927.7h0M1487 1763.8h0M1469 1809.2h0M1455.5 1850.1h0M1479.8 1917.3h0M1378.8 1907.4h0M1472.7 1779.8h0M1457.6 1742.3h0M1409.4 1953.5h0M1558.3 1698.2h0M1527.1 1690.7h0M1503.8 1949.4h0M1536.2 1704.7h0M1400 1882.3h0M1455 1812.9h0M1404.1 1816.6h0M1509.7 1800.3h0M1538.2 1940.1h0M1465.7 1883.1h0M1501.1 1797h0M1450.9 1795.6h0M1389.4 1813.9h0M1498.6 1916.3h0M1504.2 1819.6h0M1413.9 1943.7h0M1467.4 1768.5h0M1397.8 1869.2h0M1485.2 1918.7h0M1466.6 1878.2h0M1463.5 1934.8h0M1419.5 1718.6h0M1487.5 1701.8h0M1515.4 1939.1h0M1442.9 1772h0M1513.1 1888h0M1496.1 1938.2h0M1521.1 1794.9h0M1524.9 1744.8h0M1378.7 1761.8h0M1429.6 1703.3h0M1435.6 1724h0M1443.8 1755.6h0M1369.2 1790.4h0M1430.6 1804.9h0M1391.6 1860.3h0M1393.9 1778.7h0M1392 1755.6h0M1367 1710h0M1410.6 1876.5h0M1414.8 1798.8h0M1405.8 1945.2h0M1585.1 1692.5h0M1468.2 1773.6h0M1440.2 1717.6h0M1362.7 1954.6h0M1465.7 1709.8h0M1406 1892h0M1452.1 1768.1h0M1386.9 1749.2h0M1394.9 1904.6h0M1520 1864.1h0M1479.1 1739.1h0M1525.4 1708.6h0M1468.9 1794h0M1448.8 1877.5h0M1485.3 1822.9h0M1427 1943.5h0M1449.1 1771.1h0M1491.9 1751h0M1506.6 1915.3h0M1411.8 1846.2h0M1356.7 1736.3h0M1410.6 1690.3h0M1394 1806.7h0M1453 1891.6h0M1353.2 1893.3h0M1471 1783h0M1416.7 1811.9h0M1381.5 1788.5h0M1537.1 1754.2h0M1471.9 1855h0M1413.6 1902.7h0M1464.4 1778.9h0M1367.7 1793h0M1483.9 1762.1h0M1527.3 1732.3h0M1358.4 1740.9h0M1491.4 1845.2h0M1421.1 1706.4h0M1445.5 1766.6h0M1350.1 1771h0M1419.2 1840.7h0M1430.9 1900.1h0M1484 1817.5h0M1390.8 1812.1h0M1424.9 1867.2h0M1406.3 1895.8h0M1579.3 1697.8h0M1408.6 1709.3h0M1477.5 1959.2h0M1524 1782.8h0M1376.8 1848.7h0M1549.7 1923h0M1425.6 1733.8h0M1354.7 1760.5h0M1387.3 1734.5h0M1353.4 1917.3h0M1353.6 1693h0M1421.4 1788.2h0M1467.8 1753.1h0M1486.1 1859.7h0M1353.2 1724.9h0M1351.1 1734.2h0M1525.6 1871.9h0M1560.3 1733.6h0M1418.6 1932.9h0" stroke="#dcdcec" stroke-width="3.2" stroke-linecap="round" fill="none"/>
<path d="M1475.4 1815.9l-0.1 5.5M1401.8 1883.9l2.4 2M1384.3 1847.6l-4.7 0.9M1359.6 1945.7h0M1429.6 1926.5l-2 4.9M1445.5 1867.3l1.2 3.6M1438.2 1948.5h0M1350.4 1796.9h0M1381.6 1830.8l1.1 5.7M1473.7 1766.4l4.3 0.4M1478 1773.9l-1 5.3M1509 1779.6l-1.5 4.1M1400.1 1860.2l4.5 0.4M1525 1882.1l-4.8 0.2M1375.6 1880.6h0M1450.5 1783.4l-3.6 0.2M1499.8 1769.3h0M1414.3 1914.5l-4.1 4.2M1504.6 1785.5l-1.1 2.9M1417.2 1943.4l-4.8 1.6M1458.1 1747.2l-0.8 3M1396.2 1901.5h0M1460.6 1759.3l2.3 2.9M1513.1 1822.1h0M1506.7 1906.2h0M1459.2 1758.4l-2.3 3.8M1521 1763.5l0.2 4.5M1383.4 1712.1l-4.1 0.8M1491.4 1877.1l-0.5 4.4M1396.9 1908.4l-4.6 1.9M1404.3 1876.2h0M1446.2 1764.2l4.2 0.7M1385.4 1865.4l-2.6 5.1M1462.8 1909.5l-3.1 1.6M1493 1748.8l-0.7 5.2M1400.2 1757.2l-3.1 3.1M1356.2 1908.1l-1.4 5.2M1524.4 1920.4h0M1501.7 1758.4l-0 5.1M1553.7 1690l3.5 3.8M1501.3 1919.7l4 2.8M1516.2 1931.3l-2 2.2M1471.9 1885.1l-1.3 3.9M1447.4 1953.5l0.9 3.6M1541.9 1754.4l-1.3 4.5M1423.1 1933.6l3.4 2.3M1552.7 1706.9l4.8 1.6M1445.4 1779.6l-4.5 3.5M1554.7 1955.9h0M1516.1 1690.2h0M1582.4 1699.6l4.6 1.9M1383.5 1720.4l4.7 2.1M1520.7 1957l-3.4 0.6M1395.3 1787.7h0M1506.6 1849.1h0M1445.9 1833.5l-2.4 2.1M1498.3 1901.2l1.1 3.3M1399.7 1823.7h0M1428 1898.3l-1.1 4.4M1371.5 1709.3l-2.8 4.5" stroke="#a8aad6" stroke-width="2.2" stroke-linecap="round" fill="none"/>
<path d="M1603 1725.5h0M1665.8 1927.2h0M1537.8 1816.8h0M1591.8 1879.8h0M1626.5 1724.9h0M1587.5 1887.8l-1.2 1.4M1729.7 1871.5h0M1740.8 1944.8h0M1735.5 1789.3h0M1610.7 1721.3h0M1619.4 1817.7h0M1632.3 1728.4l-1.1 2.1M1694.9 1751.7h0M1662.2 1783.9h0M1655.4 1943.2h0M1698 1924h0M1725 1760.4h0M1606.6 1755.1h0M1575.3 1948.7h0M1604.7 1887.8l-1.8 1.7M1719.9 1708.1h0M1699.3 1884.3h0M1573.2 1836.1l-0.6 2.7M1722.5 1836.5h0M1722.4 1896h0M1661.1 1842.7h0M1720.8 1875h0M1557.4 1899.7h0M1674.7 1943.5l-2.2 1.3M1598.7 1724.2h0M1581 1889.1h0M1727.5 1775.2h0M1598.7 1734.1h0M1678.2 1931.6l0.5 2.1M1658.1 1784.6h0M1705.4 1827.5h0M1731.4 1864l-2.8 1M1621.8 1771.6h0M1665.6 1949.9l2.2 0.4M1615.4 1816.5l2.1 1.3M1723.8 1842.1h0M1649.8 1912.1l-1.4 1.9M1617.9 1757.9h0M1540.5 1843.4l2.2 0.1M1698.9 1910.8l-1.3 1M1614.7 1820.1h0M1529.9 1792.9h0M1589.6 1805.1l1.8 1M1561.5 1928.8l2.7 0.8M1647.4 1849.5h0M1648.2 1739.4l2.5 1.3M1655.9 1850.1h0M1591.4 1929h0M1588.3 1787.8h0M1668.5 1839h0M1586.2 1942.9h0M1650.8 1757.4h0M1736.2 1690.1l-1.4 1.7M1607.9 1712.3h0M1617.1 1888.4l-1.7 1.2M1536.9 1856l0.8 1.7M1586.4 1753.7l2 0.9M1607.9 1937.8h0M1714.5 1790.2h0M1728.9 1768.4h0M1699.8 1915.2h0M1525.9 1799.3h0M1667.3 1746.7h0M1564 1784.8h0M1693.1 1927h0M1652.3 1780.8h0M1619 1824l1.4 2.5M1715.2 1699.5h0M1591.8 1725.6h0M1579.3 1833.7h0M1586.2 1791.3h0M1675.6 1834.6h0M1652.9 1863.7l-1.4 1M1695 1775.5h0M1698.7 1821.7h0M1704.6 1908.7l2 0.3M1598.3 1780.3h0M1677.2 1926.5h0M1550.8 1759.6h0M1561.3 1775.1h0M1607.7 1722.2l1.7 1.3M1598.5 1944.8h0M1675.8 1925.3h0M1611.8 1933.4l-1.8 0.9M1551.5 1848.8l-0.1 2.8M1678.2 1691.4l0.8 2.7M1634.5 1736.2h0M1653.2 1926.5l1.7 0.6M1591.3 1863.4l-1 1.8M1623.1 1850.8h0M1588.2 1912.6h0M1602.8 1842.2h0M1749.7 1719.1h0M1653.4 1827.6h0M1619.1 1720.1l0.7 1.4M1662 1711.2h0M1547.5 1832h0M1624.2 1907.1h0M1743.6 1723.2h0M1590.4 1763.3h0M1668.9 1739.1h0M1670.1 1793.3l2.3 0.9M1660.9 1743.2l0.5 2.2M1558.7 1900.2h0M1666.1 1933.7h0M1556.6 1882.9h0M1563.5 1734.8h0M1627.5 1861.8h0M1544.3 1847.9h0M1651.2 1830.9h0M1638.3 1860.5h0M1642.6 1827.7h0M1661.5 1889.3h0M1719.3 1856.3h0M1696.6 1833.6l-0.5 2M1669.3 1758.6h0M1574.5 1779.6h0M1567.6 1776.8h0M1693.8 1880.1l-1.4 1M1704.8 1721.5h0M1624.8 1851.2h0M1594 1952.4h0M1638.3 1860.7h0M1676.8 1846.7h0M1587.9 1929.9l1.6 1.7M1531.2 1798.6h0M1640.4 1733.1h0M1684.8 1736.1l1.6 1.4M1706.6 1797.9h0M1672.6 1934.4h0M1613.8 1733h0M1673.5 1716h0M1625.5 1958l-1.8 1.1M1697.6 1734.4h0M1545 1814.5h0M1585 1812.5l-1.4 2M1552.7 1857.2h0M1620.1 1749.3h0M1589.5 1730h0M1571.4 1894.6h0M1659.6 1771.1h0M1737.9 1896.9h0M1522.3 1824.3h0M1544.5 1892h0M1724.8 1760.6h0M1722.6 1945.7h0M1627.4 1896.5h0M1671.6 1806.5h0M1613.5 1828h0M1593.2 1847h0M1605.6 1852.5h0M1569.6 1737h0M1680.8 1713.4h0M1600.7 1919.5h0M1567.5 1872.3l0.7 2.9M1581 1826.3h0M1613 1903.4h0M1706.4 1945.1h0M1635.5 1696.9h0M1665.7 1772.9h0M1546.7 1877.4l0.7 2.3M1637.7 1729.6h0M1528 1845.6h0M1588.4 1901.3h0M1609.6 1774.6h0M1677.9 1914.7l-0.9 2.8M1616.7 1809.7h0M1564.8 1834.3h0M1712.9 1811.2h0M1667.3 1770.1l-0.2 2.1M1555.8 1910.8h0M1557.8 1815.9l-0.1 2.7M1747.4 1751.8h0M1567 1922.1l1.9 1.6M1572.8 1936.1h0M1603.7 1893.8h0M1725.1 1955.3h0M1711.4 1947.1h0M1689.6 1788.2l-0.7 1.4M1743.6 1947.4h0M1735.9 1886.3l1.4 1.4M1716.4 1891h0M1700 1723.9h0M1747.9 1824h0M1728.8 1744.7h0M1692.4 1917.9h0M1713.9 1748.2l-2 1.5M1635.3 1831l-2.3 1.8M1738.8 1703.6l0.9 1.9M1584.2 1851.2h0M1713.5 1824h0M1619.7 1874.1h0M1622.6 1789.9h0M1644.4 1768.6h0M1704.6 1813.6h0M1600.2 1731.1h0M1583.8 1758.8h0M1683.6 1782.4l2.7 0.1M1709.3 1871.7h0M1654.3 1711.6l0.3 1.9M1591.3 1949.7h0M1676.1 1713h0M1667.9 1901.6h0M1607.2 1935.3h0M1590.1 1750.1h0M1685.9 1693h0M1718.9 1905.5h0M1707.1 1847.8h0M1605.7 1714.7h0M1624.3 1756.9l-2.8 0.7M1607.8 1791.8l-1.2 1.6M1634.3 1872.4h0M1664.2 1774.2h0M1639.7 1806h0M1743.8 1941.5h0M1595.6 1823.2h0M1658.9 1957.9h0M1608 1786.6h0M1678.2 1771.1l-2.5 1.5M1556.8 1799.6h0M1723.7 1950.3h0M1541.2 1815.5h0M1689.8 1779.3h0M1652.1 1763.5h0M1617.9 1867.9l1.7 0.6M1521.1 1823.4h0M1725.1 1774.4l-1.9 1.1M1618 1944.2h0M1744.8 1734.1h0M1646.7 1869.7h0M1682.6 1947h0M1691.2 1781.7h0M1685.6 1873.2l-0.9 2.6M1645.1 1953h0M1579.3 1738.7h0M1735.5 1860.1h0M1639.3 1827l2.6 0.5M1578.2 1847.3h0M1676.6 1858.5l-1.2 2.2M1643.9 1706.9h0M1748.5 1947.8h0M1696.8 1953.1h0M1631.6 1733.4h0M1739.2 1921.7h0M1635.7 1697.6l-0.9 2.7M1698.1 1722.3h0M1603.7 1937.2h0M1684.4 1950.6h0M1547.3 1876.4h0M1648.4 1856.4l-1.7 0.4M1563.9 1896.2h0M1591.9 1933.9l1.4 1.5M1731 1826.1h0M1662.7 1793.5h0M1630.1 1922.8h0M1656.1 1946.9l2.5 1.4M1634.6 1724.9h0M1599.7 1873.7l0.9 1.5M1671.6 1890.3h0M1689.2 1712.9l-0.7 2.5M1680.5 1857h0M1712.2 1909.6h0M1679.5 1701.1h0M1680.8 1805.4h0M1745.5 1827.2h0M1733 1774.8l1.4 2.4M1718.8 1821.1h0M1731.9 1919.3l0.8 2.2M1614.7 1879.6h0M1628.1 1754.1h0M1546.1 1872.7l1.2 1.4M1628.9 1789.8h0M1604.4 1880.1h0M1558.3 1826.5h0M1592.9 1833.1h0M1715.2 1948.9h0M1647.4 1829.8h0M1582.3 1900.2l-2.5 0.6M1716.9 1949.6h0M1601.5 1883.5h0M1584.6 1864.6h0M1536.3 1790.5l0.6 2.2M1587.2 1779.1h0M1689.5 1837.3l1.4 1.2M1576.7 1931h0M1697.9 1894.8h0M1737 1927.6l0.4 2.8M1669.4 1878.2h0M1652.9 1746.8h0M1586 1718.5l2.2 1M1565.1 1910.1h0M1629.6 1823.6l-0.9 1.3M1671.9 1751.5h0M1712.3 1701.4h0M1683.9 1872.2l-2.8 0.2M1733.4 1897.6h0M1651.7 1900.9h0M1550.4 1784.5l-1.6 0.8M1735.3 1823.3l-1.5 1.9M1709.6 1909l0.1 2.8M1715.9 1908.2l1.4 2.2M1657.7 1786.6h0M1727.4 1697.2h0M1669.9 1741h0M1715.5 1865.8h0M1609.6 1730.9h0M1698.6 1920.6h0M1599.8 1789.4h0M1549.1 1771.4l1.3 1.6M1736.2 1777.9h0M1634.7 1856.5h0M1632.7 1851.2h0M1655.4 1922.9h0M1535 1857l2.5 0.1M1608.6 1738.9h0M1708.9 1726.3h0M1722.3 1915.7h0M1726.7 1806.2h0M1696.6 1935.8h0M1721.7 1946.4h0M1695.4 1871.4h0M1720.1 1718.5l1.8 2.3M1597.2 1723.6h0M1618.1 1865h0M1722.2 1741.2h0M1613.3 1707.8l-2.3 0.2M1676.1 1901l2.1 1.5M1747.1 1929.4h0M1728.2 1719.8h0M1553 1804.5h0M1748.5 1814.1h0M1662.5 1725h0M1565.5 1908h0M1587.8 1899.9h0M1719.4 1885.7h0M1706.1 1835.3h0M1536.2 1857.1l-2.4 0.5M1715.5 1937.7h0M1649.3 1740.5h0M1670 1858.1l-1.4 2.1M1725.9 1865.4h0M1583.5 1912.4h0M1702.5 1775.5h0M1635.2 1889.7h0M1730 1855.5h0M1575.4 1744.7h0M1661.6 1802.8h0M1544.7 1803.6h0M1623.2 1916.1h0M1633.1 1808h0M1696.5 1936.3h0M1641.5 1834.6h0M1681.5 1691.4h0M1560.2 1745.4h0M1616 1704.4h0M1550.2 1883.8h0M1701.5 1759.2h0M1716.2 1817.1h0M1680.5 1833.4l-0.9 1.4M1587.1 1802.5h0M1685.8 1945.1h0M1602.4 1957.3h0M1724.7 1850.4l1.6 1.1M1743.1 1877.3h0M1599.9 1723.4h0M1657.6 1702.3h0M1557.7 1787.8h0M1746.2 1786.7h0M1692.9 1729.4h0M1698.2 1881.8h0M1657 1878.2h0M1736.1 1726.6h0M1599.6 1777.7h0M1590.4 1925.2h0M1606.6 1919.1h0M1737.8 1950.4h0M1740.5 1739.8h0M1706.8 1777h0M1643.3 1762.6l1 1.5M1739.8 1712.2h0M1741.7 1861.6l0.2 2.1M1742.8 1874.3l-1.6 0.2M1530.4 1842.7h0M1726.8 1892.2h0M1592.1 1849.6l-2.7 0.8M1690.2 1834.7h0M1681.2 1778.9h0M1539.6 1884.5h0M1577.2 1752.3l-1.8 2.3M1569.4 1810.1h0M1568.2 1874h0M1730.8 1836.4l-2.8 0.9M1553.4 1789.5h0M1721.3 1696l-1.1 2.2M1685.7 1907.7h0M1548.6 1806h0M1593.7 1893.6h0M1624.3 1765.1h0M1688 1712.4h0M1554.3 1822.5h0M1554.3 1851.4h0M1692.1 1746.1h0M1741.7 1768h0M1602 1751.8h0M1602.5 1776.9l-2 1M1623.5 1708.6h0M1673.5 1871.2h0M1708.6 1854.9h0M1703.2 1806.6l0.3 1.9M1643.1 1842.7h0M1582.5 1751h0M1692.5 1925.6h0M1647.5 1859.2h0M1715.2 1710.3h0M1698.4 1910.2h0M1521 1831.6h0M1537.8 1835.3h0M1596.3 1876l-0.4 1.8M1652.3 1711.2h0M1629 1883.9h0M1552.2 1819.9h0M1734.2 1779.7h0M1738.7 1834.1h0M1693.9 1922.8h0M1668.4 1761.5l1.5 0.7M1685.4 1947.5l-0.7 2.9M1592.1 1862.3h0M1731 1758.9h0M1736.3 1779.4h0M1650.8 1813.2h0M1663.3 1836.2h0M1688.9 1797.9h0M1558.4 1936.1h0M1570.9 1828.1h0M1689.9 1909.7h0M1614 1725.6l1.9 0.9M1690.7 1873.1l-0.9 2.7M1695.6 1818.1h0M1646.1 1909.3h0M1729 1846.3h0M1565.5 1925.8h0M1585.6 1949.1l-1.9 0.9M1599.5 1779.7l1.9 1M1627.4 1894.8h0M1546.9 1799.3l1.1 1.1M1632.3 1752.4l1.3 1.6M1741.4 1740.6h0M1659.8 1845h0M1631.8 1772.1h0M1732.3 1776h0M1639.7 1699.5l-2.1 1M1624 1949.7h0M1663 1716.2h0M1749.5 1929.1h0M1699.6 1846.4h0M1524.6 1822.5h0M1704.9 1902h0M1599.3 1903.6l-0.3 2.5M1623.3 1930.8h0M1716.6 1804.3h0M1623.6 1809.3l0.9 1.7M1648.7 1691l-2.5 1.3M1701.7 1865.8l1.5 1.9M1606.7 1747.7h0M1531.5 1826.4h0M1727.8 1895.7h0M1560.4 1840.4h0M1607.2 1935l-1.9 0.6M1661.8 1765.6l-0.2 1.9M1537.6 1833.7h0M1584.3 1752.5l-1 1.5M1667.1 1842h0M1677.2 1736.6h0M1684.7 1916.7l2 0.1M1694.8 1797.6h0M1622.5 1783.7h0M1738.5 1854.1l1.9 1M1646.4 1872h0M1536.2 1855.3l-1.1 1.6M1601.7 1709.6l2.5 0.9M1740.8 1720.8h0M1675.6 1762.9h0M1560.5 1939.5h0M1737.8 1927l-1.7 0.9M1702.4 1860.6h0M1547.3 1873.2h0M1610.6 1814.8h0M1625.3 1845.8l-2.4 0M1748.9 1890.9h0M1576 1738.5l2.9 0.6M1685 1697.5h0M1629.8 1899h0M1718.9 1947.7h0M1681.9 1804.6h0M1552.2 1849.1h0M1744 1862.6l0.7 2.2M1542.7 1878.2h0M1683.9 1835l-0.6 2.3M1573.9 1923h0M1612.7 1952.1h0M1532.5 1869.5h0M1689.5 1771.2l-2.6 0.9M1524.3 1860.7l-0.6 2.6M1645.8 1775.8h0M1602.1 1925.8l2.6 0.6M1740.7 1753.5l-2.2 1.4M1610.8 1908.7h0M1738.2 1766l1.7 1.8M1743.2 1783.1h0M1730.9 1875.2h0M1713.9 1722.7l-1.7 0.7M1682.8 1781.4h0M1630.3 1709h0M1715.9 1763.8h0M1568.9 1949.1h0M1574.6 1827.3h0M1704 1839.7h0M1591.2 1756.2h0M1587.8 1897.5h0M1582 1852.4h0M1588.9 1950.2h0M1678.3 1717.6h0M1742.2 1871.7h0M1635.6 1823.1l-0.6 2.9M1593 1714.1h0M1612.4 1901h0M1641.6 1952.5l1.3 1.6M1582.5 1908.2h0M1683 1718.1h0M1585.6 1912.5l0.2 1.9M1667 1692.8h0M1609.1 1886.4h0M1581.1 1836.5l-1.4 0.9M1619.2 1785.3h0M1667.1 1804.6l0.4 2.4M1671.2 1855.3h0M1729 1798.2h0M1674.2 1934.6h0M1743.8 1877l-1.2 2.7M1566.6 1792.1h0M1717.9 1795.8h0M1554.3 1804.4l-0.2 2.3M1583.5 1719.5h0M1563.9 1924.2h0M1674.5 1950.4h0M1649.1 1756.7h0M1633.7 1885.3l-1.3 1.1M1659.2 1802.3h0M1594.4 1802.2l1.4 1.2M1722.2 1815.6h0M1549.7 1753.6l-1.5 0.9M1594.7 1736.8h0M1537.9 1890.2l1.5 0.4M1722.8 1857.7h0M1668 1804.3h0M1649.6 1876.2h0M1605.2 1804.7l-2.1 1.2M1569.6 1899h0M1636.1 1818.2h0M1740.5 1852.4h0M1702.3 1933.2l0.5 2.2M1614 1857.4h0M1666.4 1768.3l-2.6 1.1M1576.8 1716.7l-1.6 2.3M1688.8 1716.1h0M1635.5 1747.6h0M1565.9 1792.1l-1.6 0.2M1700 1717.3l-2.4 1.5M1682.7 1782h0M1667.2 1784.6h0M1741.4 1947.7l-2.9 0.4M1665.8 1840.4h0M1745.8 1747.8l-2 0.8M1607.8 1750.8h0M1648.5 1954.8l-0.3 1.9M1727.9 1837h0M1585.2 1801.6h0M1704.4 1945.7h0M1650.1 1867.2h0M1586.9 1902.8h0M1583.2 1828.2l-0.9 1.7M1730.7 1819h0M1594.9 1831.2h0M1595.3 1827.6h0M1623 1728.7l1.5 0.5M1715.6 1695.2h0M1656.5 1715.1h0M1561.8 1781.6l1.5 0.7M1682 1762.6h0M1548.7 1862.4h0M1613.4 1790.1l0.9 2.6M1723.5 1917.3h0M1587.2 1717.9l-1.2 2.6M1646.5 1707.5h0M1696.1 1740.1h0M1565.5 1794.9h0M1668.3 1884.5h0M1628.2 1874.1h0M1702.6 1773.2h0M1543.2 1851.7h0M1608.9 1723.4h0M1736.1 1728.7l-0.7 2.6M1701.6 1882l1.8 0.6M1659 1909.7h0M1594.5 1899.1h0M1717.7 1693.9l2.2 0.4M1575.9 1774h0M1621.9 1807.2h0M1582.1 1784.6l-1 2M1700.8 1705.2h0M1555.3 1858.9l1.8 2.2M1713.8 1866.2h0M1660.7 1801.7h0M1630.3 1838.3h0M1643 1692.6h0M1721.5 1871.8l1 2.1M1618.1 1736.8h0M1742 1813.7h0M1730.7 1837.7h0M1738.1 1915.9h0M1603.6 1815.7h0M1575.4 1873.4h0M1522.3 1813.2h0M1741 1689.5l-1.8 1.4M1693 1872.1h0M1576.1 1931.2h0M1556.2 1825h0M1576.7 1878.8h0M1703.2 1765.1l-0 2.7M1683.5 1827.3h0M1595.5 1739.9h0M1749.3 1886.5h0M1733.3 1770.1h0M1655.1 1741.2h0M1688.7 1944.7h0M1543.1 1840.8h0M1569.3 1842.1h0M1581.4 1782.5h0M1749.3 1737.7l0.8 1.6M1684.7 1716.9h0M1743.9 1891.7h0M1549.1 1851.4h0M1699.1 1838.8h0M1582.3 1853.8l-0.1 2.9M1714.6 1935.8h0" stroke="#b8b6d8" stroke-width="6" stroke-linecap="round" fill="none"/>
<path d="M1603 1725.5h0M1665.8 1927.2h0M1537.8 1816.8h0M1591.8 1879.8h0M1626.5 1724.9h0M1587.5 1887.8l-1.2 1.4M1729.7 1871.5h0M1740.8 1944.8h0M1735.5 1789.3h0M1610.7 1721.3h0M1619.4 1817.7h0M1632.3 1728.4l-1.1 2.1M1694.9 1751.7h0M1662.2 1783.9h0M1655.4 1943.2h0M1698 1924h0M1725 1760.4h0M1606.6 1755.1h0M1575.3 1948.7h0M1604.7 1887.8l-1.8 1.7M1719.9 1708.1h0M1699.3 1884.3h0M1573.2 1836.1l-0.6 2.7M1722.5 1836.5h0M1722.4 1896h0M1661.1 1842.7h0M1720.8 1875h0M1557.4 1899.7h0M1674.7 1943.5l-2.2 1.3M1598.7 1724.2h0M1581 1889.1h0M1727.5 1775.2h0M1598.7 1734.1h0M1678.2 1931.6l0.5 2.1M1658.1 1784.6h0M1705.4 1827.5h0M1731.4 1864l-2.8 1M1621.8 1771.6h0M1665.6 1949.9l2.2 0.4M1615.4 1816.5l2.1 1.3M1723.8 1842.1h0M1649.8 1912.1l-1.4 1.9M1617.9 1757.9h0M1540.5 1843.4l2.2 0.1M1698.9 1910.8l-1.3 1M1614.7 1820.1h0M1529.9 1792.9h0M1589.6 1805.1l1.8 1M1561.5 1928.8l2.7 0.8M1647.4 1849.5h0M1648.2 1739.4l2.5 1.3M1655.9 1850.1h0M1591.4 1929h0M1588.3 1787.8h0M1668.5 1839h0M1586.2 1942.9h0M1650.8 1757.4h0M1736.2 1690.1l-1.4 1.7M1607.9 1712.3h0M1617.1 1888.4l-1.7 1.2M1536.9 1856l0.8 1.7M1586.4 1753.7l2 0.9M1607.9 1937.8h0M1714.5 1790.2h0M1728.9 1768.4h0M1699.8 1915.2h0M1525.9 1799.3h0M1667.3 1746.7h0M1564 1784.8h0M1693.1 1927h0M1652.3 1780.8h0M1619 1824l1.4 2.5M1715.2 1699.5h0M1591.8 1725.6h0M1579.3 1833.7h0M1586.2 1791.3h0M1675.6 1834.6h0M1652.9 1863.7l-1.4 1M1695 1775.5h0M1698.7 1821.7h0M1704.6 1908.7l2 0.3M1598.3 1780.3h0M1677.2 1926.5h0M1550.8 1759.6h0M1561.3 1775.1h0M1607.7 1722.2l1.7 1.3M1598.5 1944.8h0M1675.8 1925.3h0M1611.8 1933.4l-1.8 0.9M1551.5 1848.8l-0.1 2.8M1678.2 1691.4l0.8 2.7M1634.5 1736.2h0M1653.2 1926.5l1.7 0.6M1591.3 1863.4l-1 1.8M1623.1 1850.8h0M1588.2 1912.6h0M1602.8 1842.2h0M1749.7 1719.1h0M1653.4 1827.6h0M1619.1 1720.1l0.7 1.4M1662 1711.2h0M1547.5 1832h0M1624.2 1907.1h0M1743.6 1723.2h0M1590.4 1763.3h0M1668.9 1739.1h0M1670.1 1793.3l2.3 0.9M1660.9 1743.2l0.5 2.2M1558.7 1900.2h0M1666.1 1933.7h0M1556.6 1882.9h0M1563.5 1734.8h0M1627.5 1861.8h0M1544.3 1847.9h0M1651.2 1830.9h0M1638.3 1860.5h0M1642.6 1827.7h0M1661.5 1889.3h0M1719.3 1856.3h0M1696.6 1833.6l-0.5 2M1669.3 1758.6h0M1574.5 1779.6h0M1567.6 1776.8h0M1693.8 1880.1l-1.4 1M1704.8 1721.5h0M1624.8 1851.2h0M1594 1952.4h0M1638.3 1860.7h0M1676.8 1846.7h0M1587.9 1929.9l1.6 1.7M1531.2 1798.6h0M1640.4 1733.1h0M1684.8 1736.1l1.6 1.4M1706.6 1797.9h0M1672.6 1934.4h0M1613.8 1733h0M1673.5 1716h0M1625.5 1958l-1.8 1.1M1697.6 1734.4h0M1545 1814.5h0M1585 1812.5l-1.4 2M1552.7 1857.2h0M1620.1 1749.3h0M1589.5 1730h0M1571.4 1894.6h0M1659.6 1771.1h0M1737.9 1896.9h0M1522.3 1824.3h0M1544.5 1892h0M1724.8 1760.6h0M1722.6 1945.7h0M1627.4 1896.5h0M1671.6 1806.5h0M1613.5 1828h0M1593.2 1847h0M1605.6 1852.5h0M1569.6 1737h0M1680.8 1713.4h0M1600.7 1919.5h0M1567.5 1872.3l0.7 2.9M1581 1826.3h0M1613 1903.4h0M1706.4 1945.1h0M1635.5 1696.9h0M1665.7 1772.9h0M1546.7 1877.4l0.7 2.3M1637.7 1729.6h0M1528 1845.6h0M1588.4 1901.3h0M1609.6 1774.6h0M1677.9 1914.7l-0.9 2.8M1616.7 1809.7h0M1564.8 1834.3h0M1712.9 1811.2h0M1667.3 1770.1l-0.2 2.1M1555.8 1910.8h0M1557.8 1815.9l-0.1 2.7M1747.4 1751.8h0M1567 1922.1l1.9 1.6M1572.8 1936.1h0M1603.7 1893.8h0M1725.1 1955.3h0M1711.4 1947.1h0M1689.6 1788.2l-0.7 1.4M1743.6 1947.4h0M1735.9 1886.3l1.4 1.4M1716.4 1891h0M1700 1723.9h0M1747.9 1824h0M1728.8 1744.7h0M1692.4 1917.9h0M1713.9 1748.2l-2 1.5M1635.3 1831l-2.3 1.8M1738.8 1703.6l0.9 1.9M1584.2 1851.2h0M1713.5 1824h0M1619.7 1874.1h0M1622.6 1789.9h0M1644.4 1768.6h0M1704.6 1813.6h0M1600.2 1731.1h0M1583.8 1758.8h0M1683.6 1782.4l2.7 0.1M1709.3 1871.7h0M1654.3 1711.6l0.3 1.9M1591.3 1949.7h0M1676.1 1713h0M1667.9 1901.6h0M1607.2 1935.3h0M1590.1 1750.1h0M1685.9 1693h0M1718.9 1905.5h0M1707.1 1847.8h0M1605.7 1714.7h0M1624.3 1756.9l-2.8 0.7M1607.8 1791.8l-1.2 1.6M1634.3 1872.4h0M1664.2 1774.2h0M1639.7 1806h0M1743.8 1941.5h0M1595.6 1823.2h0M1658.9 1957.9h0M1608 1786.6h0M1678.2 1771.1l-2.5 1.5M1556.8 1799.6h0M1723.7 1950.3h0M1541.2 1815.5h0M1689.8 1779.3h0M1652.1 1763.5h0M1617.9 1867.9l1.7 0.6M1521.1 1823.4h0M1725.1 1774.4l-1.9 1.1M1618 1944.2h0M1744.8 1734.1h0M1646.7 1869.7h0M1682.6 1947h0M1691.2 1781.7h0M1685.6 1873.2l-0.9 2.6M1645.1 1953h0M1579.3 1738.7h0M1735.5 1860.1h0M1639.3 1827l2.6 0.5M1578.2 1847.3h0M1676.6 1858.5l-1.2 2.2M1643.9 1706.9h0M1748.5 1947.8h0M1696.8 1953.1h0M1631.6 1733.4h0M1739.2 1921.7h0M1635.7 1697.6l-0.9 2.7M1698.1 1722.3h0M1603.7 1937.2h0M1684.4 1950.6h0M1547.3 1876.4h0M1648.4 1856.4l-1.7 0.4M1563.9 1896.2h0M1591.9 1933.9l1.4 1.5M1731 1826.1h0M1662.7 1793.5h0M1630.1 1922.8h0M1656.1 1946.9l2.5 1.4M1634.6 1724.9h0M1599.7 1873.7l0.9 1.5M1671.6 1890.3h0M1689.2 1712.9l-0.7 2.5M1680.5 1857h0M1712.2 1909.6h0M1679.5 1701.1h0M1680.8 1805.4h0M1745.5 1827.2h0M1733 1774.8l1.4 2.4M1718.8 1821.1h0M1731.9 1919.3l0.8 2.2M1614.7 1879.6h0M1628.1 1754.1h0M1546.1 1872.7l1.2 1.4M1628.9 1789.8h0M1604.4 1880.1h0M1558.3 1826.5h0M1592.9 1833.1h0M1715.2 1948.9h0M1647.4 1829.8h0M1582.3 1900.2l-2.5 0.6M1716.9 1949.6h0M1601.5 1883.5h0M1584.6 1864.6h0M1536.3 1790.5l0.6 2.2M1587.2 1779.1h0M1689.5 1837.3l1.4 1.2M1576.7 1931h0M1697.9 1894.8h0M1737 1927.6l0.4 2.8M1669.4 1878.2h0M1652.9 1746.8h0M1586 1718.5l2.2 1M1565.1 1910.1h0M1629.6 1823.6l-0.9 1.3M1671.9 1751.5h0M1712.3 1701.4h0M1683.9 1872.2l-2.8 0.2M1733.4 1897.6h0M1651.7 1900.9h0M1550.4 1784.5l-1.6 0.8M1735.3 1823.3l-1.5 1.9M1709.6 1909l0.1 2.8M1715.9 1908.2l1.4 2.2M1657.7 1786.6h0M1727.4 1697.2h0M1669.9 1741h0M1715.5 1865.8h0M1609.6 1730.9h0M1698.6 1920.6h0M1599.8 1789.4h0M1549.1 1771.4l1.3 1.6M1736.2 1777.9h0M1634.7 1856.5h0M1632.7 1851.2h0M1655.4 1922.9h0M1535 1857l2.5 0.1M1608.6 1738.9h0M1708.9 1726.3h0M1722.3 1915.7h0M1726.7 1806.2h0M1696.6 1935.8h0M1721.7 1946.4h0M1695.4 1871.4h0M1720.1 1718.5l1.8 2.3M1597.2 1723.6h0M1618.1 1865h0M1722.2 1741.2h0M1613.3 1707.8l-2.3 0.2M1676.1 1901l2.1 1.5M1747.1 1929.4h0M1728.2 1719.8h0M1553 1804.5h0M1748.5 1814.1h0M1662.5 1725h0M1565.5 1908h0M1587.8 1899.9h0M1719.4 1885.7h0M1706.1 1835.3h0M1536.2 1857.1l-2.4 0.5M1715.5 1937.7h0M1649.3 1740.5h0M1670 1858.1l-1.4 2.1M1725.9 1865.4h0M1583.5 1912.4h0M1702.5 1775.5h0M1635.2 1889.7h0M1730 1855.5h0M1575.4 1744.7h0M1661.6 1802.8h0M1544.7 1803.6h0M1623.2 1916.1h0M1633.1 1808h0M1696.5 1936.3h0M1641.5 1834.6h0M1681.5 1691.4h0M1560.2 1745.4h0M1616 1704.4h0M1550.2 1883.8h0M1701.5 1759.2h0M1716.2 1817.1h0M1680.5 1833.4l-0.9 1.4M1587.1 1802.5h0M1685.8 1945.1h0M1602.4 1957.3h0M1724.7 1850.4l1.6 1.1M1743.1 1877.3h0M1599.9 1723.4h0M1657.6 1702.3h0M1557.7 1787.8h0M1746.2 1786.7h0M1692.9 1729.4h0M1698.2 1881.8h0M1657 1878.2h0M1736.1 1726.6h0M1599.6 1777.7h0M1590.4 1925.2h0M1606.6 1919.1h0M1737.8 1950.4h0M1740.5 1739.8h0M1706.8 1777h0M1643.3 1762.6l1 1.5M1739.8 1712.2h0M1741.7 1861.6l0.2 2.1M1742.8 1874.3l-1.6 0.2M1530.4 1842.7h0M1726.8 1892.2h0M1592.1 1849.6l-2.7 0.8M1690.2 1834.7h0M1681.2 1778.9h0M1539.6 1884.5h0M1577.2 1752.3l-1.8 2.3M1569.4 1810.1h0M1568.2 1874h0M1730.8 1836.4l-2.8 0.9M1553.4 1789.5h0M1721.3 1696l-1.1 2.2M1685.7 1907.7h0M1548.6 1806h0M1593.7 1893.6h0M1624.3 1765.1h0M1688 1712.4h0M1554.3 1822.5h0M1554.3 1851.4h0M1692.1 1746.1h0M1741.7 1768h0M1602 1751.8h0M1602.5 1776.9l-2 1M1623.5 1708.6h0M1673.5 1871.2h0M1708.6 1854.9h0M1703.2 1806.6l0.3 1.9M1643.1 1842.7h0M1582.5 1751h0M1692.5 1925.6h0M1647.5 1859.2h0M1715.2 1710.3h0M1698.4 1910.2h0M1521 1831.6h0M1537.8 1835.3h0M1596.3 1876l-0.4 1.8M1652.3 1711.2h0M1629 1883.9h0M1552.2 1819.9h0M1734.2 1779.7h0M1738.7 1834.1h0M1693.9 1922.8h0M1668.4 1761.5l1.5 0.7M1685.4 1947.5l-0.7 2.9M1592.1 1862.3h0M1731 1758.9h0M1736.3 1779.4h0M1650.8 1813.2h0M1663.3 1836.2h0M1688.9 1797.9h0M1558.4 1936.1h0M1570.9 1828.1h0M1689.9 1909.7h0M1614 1725.6l1.9 0.9M1690.7 1873.1l-0.9 2.7M1695.6 1818.1h0M1646.1 1909.3h0M1729 1846.3h0M1565.5 1925.8h0M1585.6 1949.1l-1.9 0.9M1599.5 1779.7l1.9 1M1627.4 1894.8h0M1546.9 1799.3l1.1 1.1M1632.3 1752.4l1.3 1.6M1741.4 1740.6h0M1659.8 1845h0M1631.8 1772.1h0M1732.3 1776h0M1639.7 1699.5l-2.1 1M1624 1949.7h0M1663 1716.2h0M1749.5 1929.1h0M1699.6 1846.4h0M1524.6 1822.5h0M1704.9 1902h0M1599.3 1903.6l-0.3 2.5M1623.3 1930.8h0M1716.6 1804.3h0M1623.6 1809.3l0.9 1.7M1648.7 1691l-2.5 1.3M1701.7 1865.8l1.5 1.9M1606.7 1747.7h0M1531.5 1826.4h0M1727.8 1895.7h0M1560.4 1840.4h0M1607.2 1935l-1.9 0.6M1661.8 1765.6l-0.2 1.9M1537.6 1833.7h0M1584.3 1752.5l-1 1.5M1667.1 1842h0M1677.2 1736.6h0M1684.7 1916.7l2 0.1M1694.8 1797.6h0M1622.5 1783.7h0M1738.5 1854.1l1.9 1M1646.4 1872h0M1536.2 1855.3l-1.1 1.6M1601.7 1709.6l2.5 0.9M1740.8 1720.8h0M1675.6 1762.9h0M1560.5 1939.5h0M1737.8 1927l-1.7 0.9M1702.4 1860.6h0M1547.3 1873.2h0M1610.6 1814.8h0M1625.3 1845.8l-2.4 0M1748.9 1890.9h0M1576 1738.5l2.9 0.6M1685 1697.5h0M1629.8 1899h0M1718.9 1947.7h0M1681.9 1804.6h0M1552.2 1849.1h0M1744 1862.6l0.7 2.2M1542.7 1878.2h0M1683.9 1835l-0.6 2.3M1573.9 1923h0M1612.7 1952.1h0M1532.5 1869.5h0M1689.5 1771.2l-2.6 0.9M1524.3 1860.7l-0.6 2.6M1645.8 1775.8h0M1602.1 1925.8l2.6 0.6M1740.7 1753.5l-2.2 1.4M1610.8 1908.7h0M1738.2 1766l1.7 1.8M1743.2 1783.1h0M1730.9 1875.2h0M1713.9 1722.7l-1.7 0.7M1682.8 1781.4h0M1630.3 1709h0M1715.9 1763.8h0M1568.9 1949.1h0M1574.6 1827.3h0M1704 1839.7h0M1591.2 1756.2h0M1587.8 1897.5h0M1582 1852.4h0M1588.9 1950.2h0M1678.3 1717.6h0M1742.2 1871.7h0M1635.6 1823.1l-0.6 2.9M1593 1714.1h0M1612.4 1901h0M1641.6 1952.5l1.3 1.6M1582.5 1908.2h0M1683 1718.1h0M1585.6 1912.5l0.2 1.9M1667 1692.8h0M1609.1 1886.4h0M1581.1 1836.5l-1.4 0.9M1619.2 1785.3h0M1667.1 1804.6l0.4 2.4M1671.2 1855.3h0M1729 1798.2h0M1674.2 1934.6h0M1743.8 1877l-1.2 2.7M1566.6 1792.1h0M1717.9 1795.8h0M1554.3 1804.4l-0.2 2.3M1583.5 1719.5h0M1563.9 1924.2h0M1674.5 1950.4h0M1649.1 1756.7h0M1633.7 1885.3l-1.3 1.1M1659.2 1802.3h0M1594.4 1802.2l1.4 1.2M1722.2 1815.6h0M1549.7 1753.6l-1.5 0.9M1594.7 1736.8h0M1537.9 1890.2l1.5 0.4M1722.8 1857.7h0M1668 1804.3h0M1649.6 1876.2h0M1605.2 1804.7l-2.1 1.2M1569.6 1899h0M1636.1 1818.2h0M1740.5 1852.4h0M1702.3 1933.2l0.5 2.2M1614 1857.4h0M1666.4 1768.3l-2.6 1.1M1576.8 1716.7l-1.6 2.3M1688.8 1716.1h0M1635.5 1747.6h0M1565.9 1792.1l-1.6 0.2M1700 1717.3l-2.4 1.5M1682.7 1782h0M1667.2 1784.6h0M1741.4 1947.7l-2.9 0.4M1665.8 1840.4h0M1745.8 1747.8l-2 0.8M1607.8 1750.8h0M1648.5 1954.8l-0.3 1.9M1727.9 1837h0M1585.2 1801.6h0M1704.4 1945.7h0M1650.1 1867.2h0M1586.9 1902.8h0M1583.2 1828.2l-0.9 1.7M1730.7 1819h0M1594.9 1831.2h0M1595.3 1827.6h0M1623 1728.7l1.5 0.5M1715.6 1695.2h0M1656.5 1715.1h0M1561.8 1781.6l1.5 0.7M1682 1762.6h0M1548.7 1862.4h0M1613.4 1790.1l0.9 2.6M1723.5 1917.3h0M1587.2 1717.9l-1.2 2.6M1646.5 1707.5h0M1696.1 1740.1h0M1565.5 1794.9h0M1668.3 1884.5h0M1628.2 1874.1h0M1702.6 1773.2h0M1543.2 1851.7h0M1608.9 1723.4h0M1736.1 1728.7l-0.7 2.6M1701.6 1882l1.8 0.6M1659 1909.7h0M1594.5 1899.1h0M1717.7 1693.9l2.2 0.4M1575.9 1774h0M1621.9 1807.2h0M1582.1 1784.6l-1 2M1700.8 1705.2h0M1555.3 1858.9l1.8 2.2M1713.8 1866.2h0M1660.7 1801.7h0M1630.3 1838.3h0M1643 1692.6h0M1721.5 1871.8l1 2.1M1618.1 1736.8h0M1742 1813.7h0M1730.7 1837.7h0M1738.1 1915.9h0M1603.6 1815.7h0M1575.4 1873.4h0M1522.3 1813.2h0M1741 1689.5l-1.8 1.4M1693 1872.1h0M1576.1 1931.2h0M1556.2 1825h0M1576.7 1878.8h0M1703.2 1765.1l-0 2.7M1683.5 1827.3h0M1595.5 1739.9h0M1749.3 1886.5h0M1733.3 1770.1h0M1655.1 1741.2h0M1688.7 1944.7h0M1543.1 1840.8h0M1569.3 1842.1h0M1581.4 1782.5h0M1749.3 1737.7l0.8 1.6M1684.7 1716.9h0M1743.9 1891.7h0M1549.1 1851.4h0M1699.1 1838.8h0M1582.3 1853.8l-0.1 2.9M1714.6 1935.8h0" stroke="#d8d6e8" stroke-width="3" stroke-linecap="round" fill="none"/>
<path d="M1612 1944.5h0M1727.1 1940h0M1665.6 1890.1h0M1670 1870h0M1691.1 1868.1h0M1669.7 1697.3h0M1707.8 1890.6h0M1654.8 1868.9h0M1729 1949.9h0M1597.8 1850.4h0M1726.9 1700.2h0M1626.4 1860.6h0M1695.3 1799.2h0M1624.3 1756.6h0M1704.5 1883.9h0M1640.4 1720h0M1615.4 1739.1h0M1602.7 1879.4h0M1578.3 1754.5h0M1729.7 1887.5h0M1678.1 1946.5h0M1561.1 1944.4h0M1727.5 1696.9h0M1681.4 1875.9h0M1688.7 1908.1h0M1632.2 1854.4h0M1681.8 1909.3h0M1621.6 1871.9h0M1552.2 1910.3h0M1722.4 1944.2h0M1576.6 1902h0M1707.4 1835.6h0M1647.8 1808.8h0M1597.7 1953.6h0M1529.5 1825h0M1636.8 1769.8h0M1686.8 1897.2h0M1667.2 1908.5h0M1600.5 1916.2h0M1626.1 1853.5h0M1683.3 1787.1h0M1671.3 1955.7h0M1732.5 1807.3h0M1707.9 1781.2h0M1617 1941.7h0M1590.6 1732.2h0M1665.9 1693.5h0M1552.6 1849.2h0M1631.4 1825.3h0M1582.5 1800h0M1671.1 1691.8h0M1682.3 1834.1h0M1702.8 1742.1h0M1641.4 1927h0M1562 1891.4h0M1624.4 1731.6h0M1569 1775h0M1682.7 1879.2h0M1698.8 1851.7h0M1669.1 1777.4h0M1639.7 1709.9h0M1663.5 1931.9h0M1650.5 1958.8h0M1619 1755.9h0M1702.3 1921.3h0M1598.6 1869.5h0M1604 1749.6h0M1562.8 1790.7h0M1560.3 1787.9h0M1577.1 1758.4h0M1606.1 1853.5h0M1736.7 1752.7h0M1568.3 1956.1h0M1710.1 1937h0M1747.1 1913.2h0M1594.7 1929.8h0M1608.9 1873.7h0M1543.7 1775h0M1577.6 1851.3h0M1700.5 1905.2h0M1585.4 1910h0M1683 1734.5h0M1610.8 1709.8h0M1740.8 1842h0M1670.8 1899.8h0M1724.1 1715.2h0M1696.2 1884.9h0M1573.5 1938.2h0M1534.4 1805h0M1714.6 1926.2h0M1728.7 1727.2h0M1731.5 1787.2h0M1731.1 1714.3h0M1573 1775.7h0M1594.3 1855.8h0M1565.4 1782.2h0M1690.2 1738.8h0M1689.5 1870.6h0M1649.9 1901.7h0M1592.3 1884h0M1596 1844.3h0M1681 1881.8h0M1561.6 1861.7h0M1584.7 1799.7h0M1738.6 1742.1h0M1568.9 1728.1h0M1718.5 1699h0M1696 1879.2h0M1666.2 1762.9h0M1678.4 1712.5h0M1612.7 1892.8h0M1686.1 1851.3h0M1628.3 1889.7h0M1633 1834.2h0M1616.4 1871.8h0M1745.4 1774.5h0M1691.1 1833.3h0M1738.8 1710.5h0M1728.4 1754.2h0M1688.8 1784.4h0" stroke="#cdb4a6" stroke-width="5.4" stroke-linecap="round" fill="none"/>
<path d="M1612 1944.5h0M1727.1 1940h0M1665.6 1890.1h0M1670 1870h0M1691.1 1868.1h0M1669.7 1697.3h0M1707.8 1890.6h0M1654.8 1868.9h0M1729 1949.9h0M1597.8 1850.4h0M1726.9 1700.2h0M1626.4 1860.6h0M1695.3 1799.2h0M1624.3 1756.6h0M1704.5 1883.9h0M1640.4 1720h0M1615.4 1739.1h0M1602.7 1879.4h0M1578.3 1754.5h0M1729.7 1887.5h0M1678.1 1946.5h0M1561.1 1944.4h0M1727.5 1696.9h0M1681.4 1875.9h0M1688.7 1908.1h0M1632.2 1854.4h0M1681.8 1909.3h0M1621.6 1871.9h0M1552.2 1910.3h0M1722.4 1944.2h0M1576.6 1902h0M1707.4 1835.6h0M1647.8 1808.8h0M1597.7 1953.6h0M1529.5 1825h0M1636.8 1769.8h0M1686.8 1897.2h0M1667.2 1908.5h0M1600.5 1916.2h0M1626.1 1853.5h0M1683.3 1787.1h0M1671.3 1955.7h0M1732.5 1807.3h0M1707.9 1781.2h0M1617 1941.7h0M1590.6 1732.2h0M1665.9 1693.5h0M1552.6 1849.2h0M1631.4 1825.3h0M1582.5 1800h0M1671.1 1691.8h0M1682.3 1834.1h0M1702.8 1742.1h0M1641.4 1927h0M1562 1891.4h0M1624.4 1731.6h0M1569 1775h0M1682.7 1879.2h0M1698.8 1851.7h0M1669.1 1777.4h0M1639.7 1709.9h0M1663.5 1931.9h0M1650.5 1958.8h0M1619 1755.9h0M1702.3 1921.3h0M1598.6 1869.5h0M1604 1749.6h0M1562.8 1790.7h0M1560.3 1787.9h0M1577.1 1758.4h0M1606.1 1853.5h0M1736.7 1752.7h0M1568.3 1956.1h0M1710.1 1937h0M1747.1 1913.2h0M1594.7 1929.8h0M1608.9 1873.7h0M1543.7 1775h0M1577.6 1851.3h0M1700.5 1905.2h0M1585.4 1910h0M1683 1734.5h0M1610.8 1709.8h0M1740.8 1842h0M1670.8 1899.8h0M1724.1 1715.2h0M1696.2 1884.9h0M1573.5 1938.2h0M1534.4 1805h0M1714.6 1926.2h0M1728.7 1727.2h0M1731.5 1787.2h0M1731.1 1714.3h0M1573 1775.7h0M1594.3 1855.8h0M1565.4 1782.2h0M1690.2 1738.8h0M1689.5 1870.6h0M1649.9 1901.7h0M1592.3 1884h0M1596 1844.3h0M1681 1881.8h0M1561.6 1861.7h0M1584.7 1799.7h0M1738.6 1742.1h0M1568.9 1728.1h0M1718.5 1699h0M1696 1879.2h0M1666.2 1762.9h0M1678.4 1712.5h0M1612.7 1892.8h0M1686.1 1851.3h0M1628.3 1889.7h0M1633 1834.2h0M1616.4 1871.8h0M1745.4 1774.5h0M1691.1 1833.3h0M1738.8 1710.5h0M1728.4 1754.2h0M1688.8 1784.4h0" stroke="#e0d0c8" stroke-width="2.6" stroke-linecap="round" fill="none"/>
<path d="M1727.9 1875.6l-0.6 4.5M1749.3 1833.4l2.8 2.6M1674.8 1774.7l-1.6 2.6M1706.6 1869.5l3.8 1.3M1651.9 1943.3l0.9 3.5M1667.9 1861.9h0M1555.6 1882.2h0M1550.4 1752.6l0.2 3.7M1566.7 1746.8l-2.6 2.8M1740 1814.8l-2.8 1.1M1697.9 1782.5l2.8 0.9M1683.8 1860.3h0M1651.4 1891.6h0M1583.1 1720.8h0M1642.6 1694.6h0M1727.3 1917.3h0M1613.8 1702.1h0M1572.2 1944.4l4.1 2.6M1594.7 1794.1h0M1712 1804.6l-2.7 2M1689.1 1699.6l0.8 4.9M1561.4 1761.2l-2 3.3M1614 1901.6h0M1717.6 1774.1h0M1725 1752.4l-4.2 1.2M1669.1 1697.4l0.3 4.7M1548.3 1850.2h0M1621 1934.9l2.1 3.1M1640.4 1730.6h0M1675.7 1763.9l3.4 0.3M1578.6 1843.9l4.1 2.4M1599.3 1860.5l-2.2 2.3M1583.1 1937.7h0M1689.4 1957.3h0M1621.5 1914.7h0M1636.7 1744.7h0M1569 1753.7l-3.4 1.5M1579.5 1884.7l2.9 2.5M1594 1732.1l3.4 0.6M1545.9 1758.4h0M1635.4 1937.4h0M1727.9 1891.5l3.6 2.1M1614.1 1956.3h0M1625.4 1730.3h0M1688.9 1889.8l0.4 3.4M1564.5 1919.2l3.2 0.7M1547.3 1886.4h0M1656.7 1864h0M1671.7 1865.7l-2.7 3.5M1541.9 1782.8l3.7 0.7M1611.6 1760.2h0M1718.5 1906.4l-3.6 2.4M1698.4 1690l-3.8 1.4M1746.9 1694.1h0M1723.7 1793.8l2.7 1.7M1689.2 1825.9l1.4 3.6M1681.4 1716.3l2.8 0.8M1736.4 1706.9h0M1649.1 1724.3h0M1577.2 1863.6l-2.8 0.8M1739 1953.6h0M1641.3 1953.7l-1.1 2.9M1603.2 1702.7l-2 2.2M1572.7 1922.7h0M1569.3 1955.3l-0.5 4.8M1712.8 1807.6h0M1620.1 1865.8l4.4 1.1M1566.4 1852.7h0M1641.3 1819.3h0M1696.7 1792.6l-0.5 2.7M1640.2 1772.7l-2.7 0.7M1605.1 1772.8h0M1612.5 1843.6h0M1640.2 1794.6l-2.2 2M1575.2 1773.7h0M1532.8 1840.8l-3 3.3M1672.4 1708.9l3.3 2M1601.7 1726.8l2.4 1M1649.4 1907.4l-3 1.1M1665.4 1930.7l0.7 4.5" stroke="#a6a4d0" stroke-width="2.2" stroke-linecap="round" fill="none"/>
<ellipse cx="1560" cy="1798" rx="13" ry="15" fill="#f5f4f1"/>
<ellipse cx="1660" cy="1810" rx="16" ry="14" fill="#f5f4f1"/>
<ellipse cx="1652" cy="1905" rx="11" ry="14" fill="#f5f4f1"/>
<ellipse cx="1733" cy="1792" rx="14" ry="16" fill="#f5f4f1"/>
<ellipse cx="1610" cy="1706" rx="10" ry="8" fill="#f5f4f1"/>
</g>
<path d="M1598 1688 L1596 1690.3 L1567.6 1726.5 L1544.3 1757.6 L1526.2 1788.6 L1519.7 1822.2 L1521 1855.8 L1531.4 1886.9 L1549.5 1912.7 L1562.4 1954.1 L1564 1962" fill="none" stroke="#111" stroke-width="2" stroke-dasharray="7 5"/>
<rect x="1353.5" y="1693" width="92.4" height="62.2" fill="#f8f6f2"/>
<g filter="url(#blob)">
<circle cx="1371" cy="1717" r="10" fill="#c4c2e0" opacity="0.9"/>
<circle cx="1395" cy="1705" r="8" fill="#c8c6e2" opacity="0.9"/>
<circle cx="1414" cy="1731" r="10" fill="#c0bedd" opacity="0.9"/>
<circle cx="1383" cy="1740" r="5" fill="#c8c8e4" opacity="0.6"/>
<circle cx="1437" cy="1708" r="5" fill="#cccae4" opacity="0.6"/>
</g>
<rect x="1353.5" y="1693" width="92.4" height="62.2" fill="none" stroke="#000" stroke-width="2.4"/>
<rect x="1653.5" y="1693" width="92.4" height="62.2" fill="#f3efeb"/>
<g filter="url(#blob)">
<circle cx="1672" cy="1708" r="8" fill="#c8aa98" opacity="0.85"/>
<circle cx="1690" cy="1720" r="8" fill="#c6b4c6" opacity="0.8"/>
<circle cx="1710" cy="1715" r="7" fill="#c8b6cc" opacity="0.8"/>
<circle cx="1733" cy="1705" r="8" fill="#caa890" opacity="0.85"/>
<circle cx="1675" cy="1738" r="7" fill="#c2aab6" opacity="0.8"/>
<circle cx="1703" cy="1742" r="8" fill="#b8b4d4" opacity="0.85"/>
</g>
<rect x="1653.5" y="1693" width="92.4" height="62.2" fill="none" stroke="#000" stroke-width="2.4"/>
</g>
<rect x="1359.7" y="1940.4" width="96.5" height="4.2" fill="#000"/>
<text x="1434.5" y="1863" font-size="24" text-anchor="middle">NT</text>
<text x="1662" y="1866" font-size="24" text-anchor="middle">T</text>
<rect x="150" y="1689" width="1600" height="270.7" fill="none" stroke="#000" stroke-width="2.2"/>
<line x1="548.7" y1="1689" x2="548.7" y2="1959.7" stroke="#000" stroke-width="2.2"/>
<line x1="949.3" y1="1689" x2="949.3" y2="1959.7" stroke="#000" stroke-width="2.2"/>
<line x1="1349.7" y1="1689" x2="1349.7" y2="1959.7" stroke="#000" stroke-width="2.2"/>
<text x="361" y="2019.5" font-size="28.5" text-anchor="middle">GSE244807 (n = 246)</text>
<line x1="146.7" y1="2032" x2="146.7" y2="2304" stroke="#000" stroke-width="2.2"/>
<line x1="145.7" y1="2302.9" x2="521.7" y2="2302.9" stroke="#000" stroke-width="2.2"/>
<line x1="142.7" y1="2043.1" x2="146.7" y2="2043.1" stroke="#000" stroke-width="2.6"/>
<text x="135.7" y="2051.4" font-size="23.5" text-anchor="end">1.00</text>
<line x1="142.7" y1="2104.8" x2="146.7" y2="2104.8" stroke="#000" stroke-width="2.6"/>
<text x="135.7" y="2113.1" font-size="23.5" text-anchor="end">0.75</text>
<line x1="142.7" y1="2166.6" x2="146.7" y2="2166.6" stroke="#000" stroke-width="2.6"/>
<text x="135.7" y="2174.9" font-size="23.5" text-anchor="end">0.50</text>
<line x1="142.7" y1="2228.3" x2="146.7" y2="2228.3" stroke="#000" stroke-width="2.6"/>
<text x="135.7" y="2236.6" font-size="23.5" text-anchor="end">0.25</text>
<line x1="142.7" y1="2290" x2="146.7" y2="2290" stroke="#000" stroke-width="2.6"/>
<text x="135.7" y="2298.3" font-size="23.5" text-anchor="end">0</text>
<line x1="163.3" y1="2302.9" x2="163.3" y2="2307" stroke="#000" stroke-width="2.6"/>
<text x="163.3" y="2329.5" font-size="23.5" text-anchor="middle">0</text>
<line x1="220.3" y1="2302.9" x2="220.3" y2="2307" stroke="#000" stroke-width="2.6"/>
<text x="220.3" y="2329.5" font-size="23.5" text-anchor="middle">10</text>
<line x1="277.3" y1="2302.9" x2="277.3" y2="2307" stroke="#000" stroke-width="2.6"/>
<text x="277.3" y="2329.5" font-size="23.5" text-anchor="middle">20</text>
<line x1="334.4" y1="2302.9" x2="334.4" y2="2307" stroke="#000" stroke-width="2.6"/>
<text x="334.4" y="2329.5" font-size="23.5" text-anchor="middle">30</text>
<line x1="391.4" y1="2302.9" x2="391.4" y2="2307" stroke="#000" stroke-width="2.6"/>
<text x="391.4" y="2329.5" font-size="23.5" text-anchor="middle">40</text>
<line x1="448.4" y1="2302.9" x2="448.4" y2="2307" stroke="#000" stroke-width="2.6"/>
<text x="448.4" y="2329.5" font-size="23.5" text-anchor="middle">50</text>
<line x1="505.4" y1="2302.9" x2="505.4" y2="2307" stroke="#000" stroke-width="2.6"/>
<text x="505.4" y="2329.5" font-size="23.5" text-anchor="middle">60</text>
<text x="344.8" y="2355" font-size="24.5" text-anchor="middle">Time in months</text>
<text transform="translate(74.5 2142) rotate(-90)" font-size="24.5" text-anchor="middle">Survival probability</text>
<path d="M163.3 2043.5H163.3V2064.2H168.1V2079H173.6V2085.6H179.2V2093H186.6V2100.4H192.1V2104.1H197.7V2108.5H208.7V2111.5H211.3V2122.6H214.3V2129.9H220.6V2139.2H232.8V2144.7H238.3V2152.1H243.8V2159.5H254.9V2162.5H266V2166.9H271.5V2170.6H277.1V2174.3H295.6V2178H301.1V2187.2H308.5V2192.8H328.8V2196.5H334.4V2203.8H339.9V2212.3H362.1V2214.9H369.5V2220.5H375V2225.3H384.2V2229.7H391.6V2235.2H400.9V2237.8H408.2V2240H421.2V2246.3H432.3V2248.2H467.4V2251.9H476.6V2254.5H506.2" fill="none" stroke="#2b52a0" stroke-width="2.2"/>
<line x1="502.2" y1="2254.5" x2="510.2" y2="2254.5" stroke="#2b52a0" stroke-width="1.6"/>
<line x1="506.2" y1="2250.5" x2="506.2" y2="2258.5" stroke="#2b52a0" stroke-width="1.6"/>
<path d="M163.3 2043.5H163.3V2056.1H168.1V2061.6H173.6V2067.1H181V2081.9H186.6V2098.5H192.1V2111.5H195.8V2128.1H203.2V2135.5H208.7V2146.6H216.1V2150.3H221.7V2159.5H225.4V2170.6H236.5V2181.7H242V2187.2H248.3V2193.5H254.9V2200.1H262.3V2203.8H266V2209.4H277.1V2213.1H282.6V2218.6H288.2V2222.3H299.3V2226H304.8V2235.2H325.1V2237.1H341.7V2240H351V2243.7H363.9V2246.3H375V2250H389.8V2253.7H402.7V2255.6H413.8V2257.4H424.9V2261.1H461.8V2264.8H474.7V2269.6H506.2" fill="none" stroke="#c1272d" stroke-width="2.2"/>
<line x1="502.2" y1="2269.6" x2="510.2" y2="2269.6" stroke="#c1272d" stroke-width="1.6"/>
<line x1="506.2" y1="2265.6" x2="506.2" y2="2273.6" stroke="#c1272d" stroke-width="1.6"/>
<text x="188.4" y="2051.5" font-size="24.5">Expression groups</text>
<text x="443.3" y="2051.5" font-size="24.5">HR (95% CI)</text>
<line x1="212.4" y1="2079" x2="226.1" y2="2079" stroke="#2b52a0" stroke-width="3.2"/>
<line x1="212.4" y1="2103.3" x2="226.1" y2="2103.3" stroke="#c1272d" stroke-width="3.2"/>
<text x="235.7" y="2086.5" font-size="24.5">TGFBR1-Low</text>
<text x="235.7" y="2111" font-size="24.5">TGFBR1-High</text>
<text x="504.3" y="2086.5" font-size="24.5" text-anchor="middle">1 (Reference)</text>
<text x="504.3" y="2111" font-size="24.5" text-anchor="middle">1.32 (1.01-1.74)</text>
<text x="123.8" y="2376" font-size="24.5">Number at risk</text>
<text transform="translate(104 2408) rotate(-90)" font-size="24.5" text-anchor="middle">Groups</text>
<line x1="146" y1="2383" x2="146" y2="2447" stroke="#000" stroke-width="2.2"/>
<line x1="145" y1="2445.8" x2="520" y2="2445.8" stroke="#000" stroke-width="2.2"/>
<line x1="122" y1="2399" x2="133.7" y2="2399" stroke="#2b52a0" stroke-width="3.2"/>
<line x1="122" y1="2428.5" x2="133.7" y2="2428.5" stroke="#c1272d" stroke-width="3.2"/>
<text x="171.2" y="2405.5" font-size="24.5" text-anchor="middle">123</text>
<text x="171.2" y="2437" font-size="24.5" text-anchor="middle">123</text>
<text x="221.1" y="2405.5" font-size="24.5" text-anchor="middle">78</text>
<text x="221.1" y="2437" font-size="24.5" text-anchor="middle">71</text>
<text x="278.2" y="2405.5" font-size="24.5" text-anchor="middle">58</text>
<text x="278.2" y="2437" font-size="24.5" text-anchor="middle">40</text>
<text x="333.3" y="2405.5" font-size="24.5" text-anchor="middle">45</text>
<text x="333.3" y="2437" font-size="24.5" text-anchor="middle">28</text>
<text x="390.5" y="2405.5" font-size="24.5" text-anchor="middle">30</text>
<text x="390.5" y="2437" font-size="24.5" text-anchor="middle">20</text>
<text x="447" y="2405.5" font-size="24.5" text-anchor="middle">21</text>
<text x="447" y="2437" font-size="24.5" text-anchor="middle">14</text>
<text x="506.7" y="2405.5" font-size="24.5" text-anchor="middle">18</text>
<text x="506.7" y="2437" font-size="24.5" text-anchor="middle">9</text>
<line x1="162.8" y1="2445.8" x2="162.8" y2="2450" stroke="#000" stroke-width="2.6"/>
<text x="162.8" y="2473" font-size="23.5" text-anchor="middle">0</text>
<line x1="219.8" y1="2445.8" x2="219.8" y2="2450" stroke="#000" stroke-width="2.6"/>
<text x="219.8" y="2473" font-size="23.5" text-anchor="middle">10</text>
<line x1="276.8" y1="2445.8" x2="276.8" y2="2450" stroke="#000" stroke-width="2.6"/>
<text x="276.8" y="2473" font-size="23.5" text-anchor="middle">20</text>
<line x1="333.9" y1="2445.8" x2="333.9" y2="2450" stroke="#000" stroke-width="2.6"/>
<text x="333.9" y="2473" font-size="23.5" text-anchor="middle">30</text>
<line x1="390.9" y1="2445.8" x2="390.9" y2="2450" stroke="#000" stroke-width="2.6"/>
<text x="390.9" y="2473" font-size="23.5" text-anchor="middle">40</text>
<line x1="447.9" y1="2445.8" x2="447.9" y2="2450" stroke="#000" stroke-width="2.6"/>
<text x="447.9" y="2473" font-size="23.5" text-anchor="middle">50</text>
<line x1="504.9" y1="2445.8" x2="504.9" y2="2450" stroke="#000" stroke-width="2.6"/>
<text x="504.9" y="2473" font-size="23.5" text-anchor="middle">60</text>
<text x="344.8" y="2499" font-size="24.5" text-anchor="middle">Time in months</text>
<text x="903.6" y="2019.5" font-size="28.5" text-anchor="middle">GSE244807 (n = 246)</text>
<line x1="689.3" y1="2032" x2="689.3" y2="2304" stroke="#000" stroke-width="2.2"/>
<line x1="688.3" y1="2302.9" x2="1064.3" y2="2302.9" stroke="#000" stroke-width="2.2"/>
<line x1="685.3" y1="2043.1" x2="689.3" y2="2043.1" stroke="#000" stroke-width="2.6"/>
<text x="678.3" y="2051.4" font-size="23.5" text-anchor="end">1.00</text>
<line x1="685.3" y1="2104.8" x2="689.3" y2="2104.8" stroke="#000" stroke-width="2.6"/>
<text x="678.3" y="2113.1" font-size="23.5" text-anchor="end">0.75</text>
<line x1="685.3" y1="2166.6" x2="689.3" y2="2166.6" stroke="#000" stroke-width="2.6"/>
<text x="678.3" y="2174.9" font-size="23.5" text-anchor="end">0.50</text>
<line x1="685.3" y1="2228.3" x2="689.3" y2="2228.3" stroke="#000" stroke-width="2.6"/>
<text x="678.3" y="2236.6" font-size="23.5" text-anchor="end">0.25</text>
<line x1="685.3" y1="2290" x2="689.3" y2="2290" stroke="#000" stroke-width="2.6"/>
<text x="678.3" y="2298.3" font-size="23.5" text-anchor="end">0</text>
<line x1="706.7" y1="2302.9" x2="706.7" y2="2307" stroke="#000" stroke-width="2.6"/>
<text x="706.7" y="2329.5" font-size="23.5" text-anchor="middle">0</text>
<line x1="763.7" y1="2302.9" x2="763.7" y2="2307" stroke="#000" stroke-width="2.6"/>
<text x="763.7" y="2329.5" font-size="23.5" text-anchor="middle">10</text>
<line x1="820.7" y1="2302.9" x2="820.7" y2="2307" stroke="#000" stroke-width="2.6"/>
<text x="820.7" y="2329.5" font-size="23.5" text-anchor="middle">20</text>
<line x1="877.8" y1="2302.9" x2="877.8" y2="2307" stroke="#000" stroke-width="2.6"/>
<text x="877.8" y="2329.5" font-size="23.5" text-anchor="middle">30</text>
<line x1="934.8" y1="2302.9" x2="934.8" y2="2307" stroke="#000" stroke-width="2.6"/>
<text x="934.8" y="2329.5" font-size="23.5" text-anchor="middle">40</text>
<line x1="991.8" y1="2302.9" x2="991.8" y2="2307" stroke="#000" stroke-width="2.6"/>
<text x="991.8" y="2329.5" font-size="23.5" text-anchor="middle">50</text>
<line x1="1048.8" y1="2302.9" x2="1048.8" y2="2307" stroke="#000" stroke-width="2.6"/>
<text x="1048.8" y="2329.5" font-size="23.5" text-anchor="middle">60</text>
<text x="887.9" y="2355" font-size="24.5" text-anchor="middle">Time in months</text>
<text transform="translate(616 2142) rotate(-90)" font-size="24.5" text-anchor="middle">Survival probability</text>
<path d="M706.7 2043.5H706.7V2059.8H711.5V2074.5H717V2076.4H722.6V2089.3H728.1V2096.7H735.5V2104.1H741V2109.6H752.1V2111.5H757.7V2118.9H763.2V2128.1H768.7V2135.5H774.3V2141H780.6V2146.6H786.1V2152.1H792.8V2155.8H798.3V2161.4H809.4V2165H814.9V2170.6H820.5V2175H831.5V2178H837.1V2185.4H844.5V2192.8H855.6V2198.3H872.2V2200.1H877.7V2203.8H883.3V2212.3H905.4V2217.5H916.5V2222.3H923.9V2226H929.5V2229.7H935V2233.4H946.1V2237.8H951.6V2240.8H962.7V2247.4H973.8V2248.2H1008.1V2251.9H1014.4V2254.5H1026.3V2255.6H1048.4" fill="none" stroke="#2b52a0" stroke-width="2.2"/>
<line x1="1044.4" y1="2255.6" x2="1052.4" y2="2255.6" stroke="#2b52a0" stroke-width="1.6"/>
<line x1="1048.4" y1="2251.6" x2="1048.4" y2="2259.6" stroke="#2b52a0" stroke-width="1.6"/>
<path d="M706.7 2043.5H706.7V2057.9H711.5V2067.1H718.9V2072.7H724.4V2087.5H729.9V2099.7H735.5V2109.6H739.2V2128.1H744.7V2135.5H752.1V2150.3H757.7V2154H763.2V2161.4H767.6V2170.6H774.3V2173.5H780.6V2184.6H784.6V2192.8H790.9V2196.5H796.5V2202H807.5V2205.7H814.9V2209.4H820.5V2214.2H842.6V2217.9H847.4V2224.2H848.2V2232.7H861.1V2233.4H872.2V2236.4H881.4V2239.7H894.4V2243.7H916.5V2251.9H931.3V2254.5H940.5V2256.3H966.4V2260H1010.7V2263.7H1018.1V2266.6H1036.6V2268.5H1048.4" fill="none" stroke="#c1272d" stroke-width="2.2"/>
<line x1="1044.4" y1="2268.5" x2="1052.4" y2="2268.5" stroke="#c1272d" stroke-width="1.6"/>
<line x1="1048.4" y1="2264.5" x2="1048.4" y2="2272.5" stroke="#c1272d" stroke-width="1.6"/>
<text x="744.7" y="2051.5" font-size="24.5">Expression groups</text>
<text x="994" y="2051.5" font-size="24.5">HR (95% CI)</text>
<line x1="772.4" y1="2079" x2="786.1" y2="2079" stroke="#2b52a0" stroke-width="3.2"/>
<line x1="772.4" y1="2103.3" x2="786.1" y2="2103.3" stroke="#c1272d" stroke-width="3.2"/>
<text x="795.3" y="2086.5" font-size="24.5">TGFBR2-Low</text>
<text x="795.3" y="2111" font-size="24.5">TGFBR2-High</text>
<text x="1064.8" y="2086.5" font-size="24.5" text-anchor="middle">1 (Reference)</text>
<text x="1064.8" y="2111" font-size="24.5" text-anchor="middle">1.33 (1.01-1.74)</text>
<text x="667.1" y="2376" font-size="24.5">Number at risk</text>
<text transform="translate(649 2408) rotate(-90)" font-size="24.5" text-anchor="middle">Groups</text>
<line x1="688.6" y1="2383" x2="688.6" y2="2447" stroke="#000" stroke-width="2.2"/>
<line x1="687.6" y1="2445.8" x2="1062.6" y2="2445.8" stroke="#000" stroke-width="2.2"/>
<line x1="663.4" y1="2399" x2="675.1" y2="2399" stroke="#2b52a0" stroke-width="3.2"/>
<line x1="663.4" y1="2428.5" x2="675.1" y2="2428.5" stroke="#c1272d" stroke-width="3.2"/>
<text x="714.8" y="2405.5" font-size="24.5" text-anchor="middle">123</text>
<text x="714.8" y="2437" font-size="24.5" text-anchor="middle">123</text>
<text x="763.6" y="2405.5" font-size="24.5" text-anchor="middle">81</text>
<text x="763.6" y="2437" font-size="24.5" text-anchor="middle">68</text>
<text x="821.2" y="2405.5" font-size="24.5" text-anchor="middle">58</text>
<text x="821.2" y="2437" font-size="24.5" text-anchor="middle">40</text>
<text x="877.4" y="2405.5" font-size="24.5" text-anchor="middle">44</text>
<text x="877.4" y="2437" font-size="24.5" text-anchor="middle">27</text>
<text x="934.4" y="2405.5" font-size="24.5" text-anchor="middle">31</text>
<text x="934.4" y="2437" font-size="24.5" text-anchor="middle">19</text>
<text x="993.2" y="2405.5" font-size="24.5" text-anchor="middle">21</text>
<text x="993.2" y="2437" font-size="24.5" text-anchor="middle">14</text>
<text x="1051.4" y="2405.5" font-size="24.5" text-anchor="middle">17</text>
<text x="1051.4" y="2437" font-size="24.5" text-anchor="middle">10</text>
<line x1="706.2" y1="2445.8" x2="706.2" y2="2450" stroke="#000" stroke-width="2.6"/>
<text x="706.2" y="2473" font-size="23.5" text-anchor="middle">0</text>
<line x1="763.2" y1="2445.8" x2="763.2" y2="2450" stroke="#000" stroke-width="2.6"/>
<text x="763.2" y="2473" font-size="23.5" text-anchor="middle">10</text>
<line x1="820.2" y1="2445.8" x2="820.2" y2="2450" stroke="#000" stroke-width="2.6"/>
<text x="820.2" y="2473" font-size="23.5" text-anchor="middle">20</text>
<line x1="877.3" y1="2445.8" x2="877.3" y2="2450" stroke="#000" stroke-width="2.6"/>
<text x="877.3" y="2473" font-size="23.5" text-anchor="middle">30</text>
<line x1="934.3" y1="2445.8" x2="934.3" y2="2450" stroke="#000" stroke-width="2.6"/>
<text x="934.3" y="2473" font-size="23.5" text-anchor="middle">40</text>
<line x1="991.3" y1="2445.8" x2="991.3" y2="2450" stroke="#000" stroke-width="2.6"/>
<text x="991.3" y="2473" font-size="23.5" text-anchor="middle">50</text>
<line x1="1048.3" y1="2445.8" x2="1048.3" y2="2450" stroke="#000" stroke-width="2.6"/>
<text x="1048.3" y="2473" font-size="23.5" text-anchor="middle">60</text>
<text x="887.9" y="2499" font-size="24.5" text-anchor="middle">Time in months</text>
<line x1="1192.4" y1="2015.3" x2="1761.1" y2="2015.3" stroke="#000" stroke-width="2"/>
<line x1="1192.4" y1="2048.8" x2="1761.1" y2="2048.8" stroke="#000" stroke-width="2"/>
<line x1="1192.4" y1="2082.7" x2="1761.1" y2="2082.7" stroke="#000" stroke-width="2"/>
<line x1="1192.4" y1="2116.3" x2="1761.1" y2="2116.3" stroke="#000" stroke-width="2"/>
<line x1="1192.4" y1="2149.8" x2="1761.1" y2="2149.8" stroke="#000" stroke-width="2"/>
<line x1="1192.4" y1="2183.7" x2="1761.1" y2="2183.7" stroke="#000" stroke-width="2"/>
<line x1="1192.4" y1="2217.7" x2="1761.1" y2="2217.7" stroke="#000" stroke-width="2"/>
<line x1="1192.4" y1="2251.6" x2="1761.1" y2="2251.6" stroke="#000" stroke-width="2"/>
<line x1="1192.4" y1="2285.1" x2="1761.1" y2="2285.1" stroke="#000" stroke-width="2"/>
<line x1="1192.4" y1="2318.7" x2="1761.1" y2="2318.7" stroke="#000" stroke-width="2"/>
<line x1="1192.4" y1="2352.6" x2="1761.1" y2="2352.6" stroke="#000" stroke-width="2"/>
<line x1="1192.4" y1="2386.1" x2="1761.1" y2="2386.1" stroke="#000" stroke-width="2"/>
<line x1="1192.4" y1="2422.7" x2="1761.1" y2="2422.7" stroke="#000" stroke-width="2"/>
<line x1="1192.4" y1="2456.7" x2="1761.1" y2="2456.7" stroke="#000" stroke-width="2"/>
<line x1="1192.4" y1="2014.3" x2="1192.4" y2="2457.7" stroke="#000" stroke-width="2"/>
<line x1="1761.1" y1="2014.3" x2="1761.1" y2="2457.7" stroke="#000" stroke-width="2"/>
<line x1="1357.4" y1="2015.3" x2="1357.4" y2="2456.7" stroke="#000" stroke-width="2"/>
<line x1="1491.6" y1="2082.7" x2="1491.6" y2="2456.7" stroke="#000" stroke-width="2"/>
<line x1="1601.4" y1="2082.7" x2="1601.4" y2="2456.7" stroke="#000" stroke-width="2"/>
<rect x="1191.9" y="2386.1" width="569.7" height="36.6" fill="none" stroke="#000" stroke-width="3.6"/>
<text text-anchor="middle" x="1274.9" y="2041.7" font-size="26">Type of CCA</text>
<text x="1559.2" y="2041.7" font-size="26" text-anchor="middle">iCCA</text>
<text text-anchor="middle" x="1274.9" y="2075.3" font-size="26">Nº of patients</text>
<text x="1559.2" y="2075.3" font-size="26" text-anchor="middle">1121</text>
<text x="1274.9" y="2109.1" font-size="26" text-anchor="middle">Gene</text>
<text x="1424.5" y="2109.1" font-size="26" text-anchor="middle">% Mutated</text>
<text x="1546.5" y="2109.1" font-size="26" text-anchor="middle">% Driver</text>
<text x="1681.2" y="2109.1" font-size="26" text-anchor="middle">% Non driver</text>
<text x="1274.9" y="2142.7" font-size="26" text-anchor="middle" font-style="italic">TGFB1</text>
<text x="1424.5" y="2142.7" font-size="26" text-anchor="middle">0.0</text>
<text x="1546.5" y="2142.7" font-size="26" text-anchor="middle">-</text>
<text x="1681.2" y="2142.7" font-size="26" text-anchor="middle">-</text>
<text x="1274.9" y="2176.3" font-size="26" text-anchor="middle" font-style="italic">TGFB2</text>
<text x="1424.5" y="2176.3" font-size="26" text-anchor="middle">0.0</text>
<text x="1546.5" y="2176.3" font-size="26" text-anchor="middle">-</text>
<text x="1681.2" y="2176.3" font-size="26" text-anchor="middle">-</text>
<text x="1274.9" y="2210.3" font-size="26" text-anchor="middle" font-style="italic">TGFB3</text>
<text x="1424.5" y="2210.3" font-size="26" text-anchor="middle">0.0</text>
<text x="1546.5" y="2210.3" font-size="26" text-anchor="middle">-</text>
<text x="1681.2" y="2210.3" font-size="26" text-anchor="middle">-</text>
<text x="1274.9" y="2244.2" font-size="26" text-anchor="middle" font-style="italic">TGFBR1</text>
<text x="1424.5" y="2244.2" font-size="26" text-anchor="middle">1.0</text>
<text x="1546.5" y="2244.2" font-size="26" text-anchor="middle">0.4</text>
<text x="1681.2" y="2244.2" font-size="26" text-anchor="middle">0.6</text>
<text x="1274.9" y="2277.9" font-size="26" text-anchor="middle" font-style="italic">TGFBR2</text>
<text x="1424.5" y="2277.9" font-size="26" text-anchor="middle">2.1</text>
<text x="1546.5" y="2277.9" font-size="26" text-anchor="middle">1.0</text>
<text x="1681.2" y="2277.9" font-size="26" text-anchor="middle">1.1</text>
<text x="1274.9" y="2311.5" font-size="26" text-anchor="middle" font-style="italic">TGFBR3</text>
<text x="1424.5" y="2311.5" font-size="26" text-anchor="middle">0.0</text>
<text x="1546.5" y="2311.5" font-size="26" text-anchor="middle">-</text>
<text x="1681.2" y="2311.5" font-size="26" text-anchor="middle">-</text>
<text x="1274.9" y="2345.2" font-size="26" text-anchor="middle" font-style="italic">SMAD2</text>
<text x="1424.5" y="2345.2" font-size="26" text-anchor="middle">0.3</text>
<text x="1546.5" y="2345.2" font-size="26" text-anchor="middle">0.2</text>
<text x="1681.2" y="2345.2" font-size="26" text-anchor="middle">0.1</text>
<text x="1274.9" y="2378.9" font-size="26" text-anchor="middle" font-style="italic">SMAD3</text>
<text x="1424.5" y="2378.9" font-size="26" text-anchor="middle">0.5</text>
<text x="1546.5" y="2378.9" font-size="26" text-anchor="middle">0.3</text>
<text x="1681.2" y="2378.9" font-size="26" text-anchor="middle">0.3</text>
<text x="1274.9" y="2414" font-size="26" text-anchor="middle" font-weight="bold" font-style="italic">SMAD4</text>
<text x="1424.5" y="2414" font-size="26" text-anchor="middle" font-weight="bold">5.6</text>
<text x="1546.5" y="2414" font-size="26" text-anchor="middle" font-weight="bold">4.7</text>
<text x="1681.2" y="2414" font-size="26" text-anchor="middle" font-weight="bold">0.9</text>
<text x="1274.9" y="2449.3" font-size="26" text-anchor="middle" font-style="italic">SMAD7</text>
<text x="1424.5" y="2449.3" font-size="26" text-anchor="middle">0.0</text>
<text x="1546.5" y="2449.3" font-size="26" text-anchor="middle">-</text>
<text x="1681.2" y="2449.3" font-size="26" text-anchor="middle">-</text></g>
</svg>
</body></html>
